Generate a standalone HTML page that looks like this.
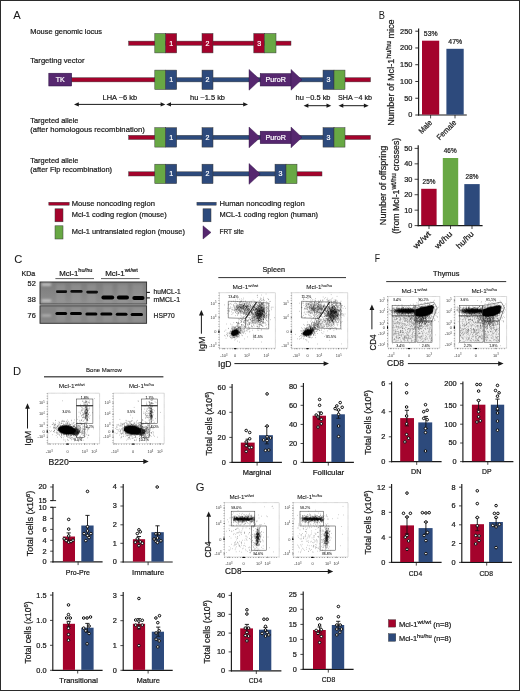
<!DOCTYPE html>
<html><head><meta charset="utf-8"><title>Figure</title>
<style>
html,body{margin:0;padding:0;background:#fff}
body{width:520px;height:691px;overflow:hidden}
svg{display:block;font-family:"Liberation Sans",sans-serif;will-change:transform;opacity:.999}
</style></head><body>
<svg width="520" height="691" viewBox="0 0 520 691">
<defs><filter id="b1" x="-20%" y="-80%" width="140%" height="260%"><feGaussianBlur stdDeviation="0.75"/></filter>
<filter id="b4" x="-30%" y="-120%" width="160%" height="340%"><feGaussianBlur stdDeviation="1.0"/></filter>
<filter id="b2" x="-50%" y="-50%" width="200%" height="200%"><feGaussianBlur stdDeviation="0.7"/></filter>
<filter id="b3" x="-50%" y="-50%" width="200%" height="200%"><feGaussianBlur stdDeviation="1.3"/></filter></defs>
<rect x="0" y="0" width="520" height="691" fill="#fff"/>
<text x="13.3" y="18.6" font-size="11.2" text-anchor="start" fill="#1a1a1a" stroke="#1a1a1a" stroke-width="0.04">A</text>
<text x="30.3" y="34" font-size="7.8" text-anchor="start" fill="#1a1a1a" stroke="#1a1a1a" stroke-width="0.22" textLength="71.8" lengthAdjust="spacingAndGlyphs">Mouse genomic locus</text>
<rect x="128.6" y="41.1" width="162.4" height="4.2" fill="#a4032c" stroke="#3a3a3a" stroke-width="0.45"/>
<rect x="154.8" y="33.5" width="10.8" height="19.4" fill="#68a844" stroke="#3a3a3a" stroke-width="0.5"/>
<rect x="165.6" y="33.5" width="11.1" height="19.4" fill="#a4032c" stroke="#3a3a3a" stroke-width="0.5"/>
<text x="171.15" y="45.7" font-size="7.1" text-anchor="middle" fill="#fff" stroke="#fff" stroke-width="0.22">1</text>
<rect x="202" y="33.5" width="11" height="19.4" fill="#a4032c" stroke="#3a3a3a" stroke-width="0.5"/>
<text x="207.5" y="45.7" font-size="7.1" text-anchor="middle" fill="#fff" stroke="#fff" stroke-width="0.22">2</text>
<rect x="253.8" y="33.5" width="10.7" height="19.4" fill="#a4032c" stroke="#3a3a3a" stroke-width="0.5"/>
<text x="259.15" y="45.7" font-size="7.1" text-anchor="middle" fill="#fff" stroke="#fff" stroke-width="0.22">3</text>
<rect x="264.5" y="33.5" width="11.5" height="19.4" fill="#68a844" stroke="#3a3a3a" stroke-width="0.5"/>
<text x="30.3" y="63" font-size="7.8" text-anchor="start" fill="#1a1a1a" stroke="#1a1a1a" stroke-width="0.22" textLength="54.2" lengthAdjust="spacingAndGlyphs">Targeting vector</text>
<rect x="71.7" y="77.7" width="83.3" height="4.2" fill="#a4032c" stroke="#3a3a3a" stroke-width="0.45"/>
<rect x="176" y="77.7" width="148" height="4.2" fill="#2d4a7c" stroke="#3a3a3a" stroke-width="0.45"/>
<rect x="345" y="77.7" width="25.5" height="4.2" fill="#a4032c" stroke="#3a3a3a" stroke-width="0.45"/>
<rect x="48.8" y="73.2" width="22.9" height="12.8" fill="#56276f" stroke="#2a1040" stroke-width="0.5"/>
<text x="60.2" y="82.3" font-size="7" text-anchor="middle" fill="#fff" stroke="#fff" stroke-width="0.22">TK</text>
<rect x="154.8" y="70.1" width="10.8" height="19.4" fill="#68a844" stroke="#3a3a3a" stroke-width="0.5"/>
<rect x="165.6" y="70.1" width="11.1" height="19.4" fill="#2d4a7c" stroke="#3a3a3a" stroke-width="0.5"/>
<text x="171.15" y="82.3" font-size="7.1" text-anchor="middle" fill="#fff" stroke="#fff" stroke-width="0.22">1</text>
<rect x="202" y="70.1" width="11" height="19.4" fill="#2d4a7c" stroke="#3a3a3a" stroke-width="0.5"/>
<text x="207.5" y="82.3" font-size="7.1" text-anchor="middle" fill="#fff" stroke="#fff" stroke-width="0.22">2</text>
<polygon points="249,69.4 260.2,79.8 249,90.2" fill="#56276f" stroke="#2a1040" stroke-width="0.4"/>
<rect x="260.2" y="73.6" width="31" height="12.4" fill="#56276f" stroke="#2a1040" stroke-width="0.5"/>
<text x="275.7" y="82.3" font-size="7" text-anchor="middle" fill="#fff" stroke="#fff" stroke-width="0.22" textLength="20.2" lengthAdjust="spacingAndGlyphs">PuroR</text>
<polygon points="291,69.4 302,79.8 291,90.2" fill="#56276f" stroke="#2a1040" stroke-width="0.4"/>
<rect x="323" y="70.1" width="11" height="19.4" fill="#2d4a7c" stroke="#3a3a3a" stroke-width="0.5"/>
<text x="328.5" y="82.3" font-size="7.1" text-anchor="middle" fill="#fff" stroke="#fff" stroke-width="0.22">3</text>
<rect x="334" y="70.1" width="11" height="19.4" fill="#68a844" stroke="#3a3a3a" stroke-width="0.5"/>
<line x1="77.84" y1="104.4" x2="161.56" y2="104.4" stroke="#1a1a1a" stroke-width="1.0"/>
<polygon points="165.4,104.4 160.6,106.5 160.6,102.3" fill="#1a1a1a"/>
<polygon points="74,104.4 78.8,106.5 78.8,102.3" fill="#1a1a1a"/>
<text x="119.8" y="100" font-size="7.8" text-anchor="middle" fill="#1a1a1a" stroke="#1a1a1a" stroke-width="0.22" textLength="34.5" lengthAdjust="spacingAndGlyphs">LHA ~6 kb</text>
<line x1="170.04" y1="104.4" x2="244.16" y2="104.4" stroke="#1a1a1a" stroke-width="1.0"/>
<polygon points="248,104.4 243.2,106.5 243.2,102.3" fill="#1a1a1a"/>
<polygon points="166.2,104.4 171,106.5 171,102.3" fill="#1a1a1a"/>
<text x="207.5" y="100" font-size="7.8" text-anchor="middle" fill="#1a1a1a" stroke="#1a1a1a" stroke-width="0.22" textLength="35" lengthAdjust="spacingAndGlyphs">hu ~1.5 kb</text>
<line x1="307.44" y1="105.7" x2="327.46" y2="105.7" stroke="#1a1a1a" stroke-width="1.0"/>
<polygon points="331.3,105.7 326.5,107.8 326.5,103.6" fill="#1a1a1a"/>
<polygon points="303.6,105.7 308.4,107.8 308.4,103.6" fill="#1a1a1a"/>
<text x="313" y="100.2" font-size="7.8" text-anchor="middle" fill="#1a1a1a" stroke="#1a1a1a" stroke-width="0.22" textLength="35" lengthAdjust="spacingAndGlyphs">hu ~0.5 kb</text>
<line x1="342.34" y1="105.7" x2="364.86" y2="105.7" stroke="#1a1a1a" stroke-width="1.0"/>
<polygon points="368.7,105.7 363.9,107.8 363.9,103.6" fill="#1a1a1a"/>
<polygon points="338.5,105.7 343.3,107.8 343.3,103.6" fill="#1a1a1a"/>
<text x="355" y="100.2" font-size="7.8" text-anchor="middle" fill="#1a1a1a" stroke="#1a1a1a" stroke-width="0.22" textLength="34" lengthAdjust="spacingAndGlyphs">SHA ~4 kb</text>
<text x="30.3" y="122.6" font-size="7.8" text-anchor="start" fill="#1a1a1a" stroke="#1a1a1a" stroke-width="0.22" textLength="48.2" lengthAdjust="spacingAndGlyphs">Targeted allele</text>
<text x="30.3" y="132.4" font-size="7.8" text-anchor="start" fill="#1a1a1a" stroke="#1a1a1a" stroke-width="0.22" textLength="114.5" lengthAdjust="spacingAndGlyphs">(after homologous recombination)</text>
<rect x="128.6" y="135.3" width="26.4" height="4.2" fill="#a4032c" stroke="#3a3a3a" stroke-width="0.45"/>
<rect x="176" y="135.3" width="148" height="4.2" fill="#2d4a7c" stroke="#3a3a3a" stroke-width="0.45"/>
<rect x="345" y="135.3" width="25.5" height="4.2" fill="#a4032c" stroke="#3a3a3a" stroke-width="0.45"/>
<rect x="154.8" y="127.7" width="10.8" height="19.4" fill="#68a844" stroke="#3a3a3a" stroke-width="0.5"/>
<rect x="165.6" y="127.7" width="11.1" height="19.4" fill="#2d4a7c" stroke="#3a3a3a" stroke-width="0.5"/>
<text x="171.15" y="139.9" font-size="7.1" text-anchor="middle" fill="#fff" stroke="#fff" stroke-width="0.22">1</text>
<rect x="202" y="127.7" width="11" height="19.4" fill="#2d4a7c" stroke="#3a3a3a" stroke-width="0.5"/>
<text x="207.5" y="139.9" font-size="7.1" text-anchor="middle" fill="#fff" stroke="#fff" stroke-width="0.22">2</text>
<polygon points="249,127 260.2,137.4 249,147.8" fill="#56276f" stroke="#2a1040" stroke-width="0.4"/>
<rect x="260.2" y="131.2" width="31" height="12.4" fill="#56276f" stroke="#2a1040" stroke-width="0.5"/>
<text x="275.7" y="139.9" font-size="7" text-anchor="middle" fill="#fff" stroke="#fff" stroke-width="0.22" textLength="20.2" lengthAdjust="spacingAndGlyphs">PuroR</text>
<polygon points="291,127 302,137.4 291,147.8" fill="#56276f" stroke="#2a1040" stroke-width="0.4"/>
<rect x="323" y="127.7" width="11" height="19.4" fill="#2d4a7c" stroke="#3a3a3a" stroke-width="0.5"/>
<text x="328.5" y="139.9" font-size="7.1" text-anchor="middle" fill="#fff" stroke="#fff" stroke-width="0.22">3</text>
<rect x="334" y="127.7" width="11" height="19.4" fill="#68a844" stroke="#3a3a3a" stroke-width="0.5"/>
<text x="30.3" y="162.6" font-size="7.8" text-anchor="start" fill="#1a1a1a" stroke="#1a1a1a" stroke-width="0.22" textLength="48.2" lengthAdjust="spacingAndGlyphs">Targeted allele</text>
<text x="30.3" y="172.3" font-size="7.8" text-anchor="start" fill="#1a1a1a" stroke="#1a1a1a" stroke-width="0.22" textLength="81.8" lengthAdjust="spacingAndGlyphs">(after Flp recombination)</text>
<rect x="128.6" y="171.8" width="26.4" height="4.2" fill="#a4032c" stroke="#3a3a3a" stroke-width="0.45"/>
<rect x="176" y="171.8" width="100" height="4.2" fill="#2d4a7c" stroke="#3a3a3a" stroke-width="0.45"/>
<rect x="297" y="171.8" width="25" height="4.2" fill="#a4032c" stroke="#3a3a3a" stroke-width="0.45"/>
<rect x="154.8" y="164.2" width="10.8" height="19.4" fill="#68a844" stroke="#3a3a3a" stroke-width="0.5"/>
<rect x="165.6" y="164.2" width="11.1" height="19.4" fill="#2d4a7c" stroke="#3a3a3a" stroke-width="0.5"/>
<text x="171.15" y="176.4" font-size="7.1" text-anchor="middle" fill="#fff" stroke="#fff" stroke-width="0.22">1</text>
<rect x="202" y="164.2" width="11" height="19.4" fill="#2d4a7c" stroke="#3a3a3a" stroke-width="0.5"/>
<text x="207.5" y="176.4" font-size="7.1" text-anchor="middle" fill="#fff" stroke="#fff" stroke-width="0.22">2</text>
<polygon points="249,163.5 260.2,173.9 249,184.3" fill="#56276f" stroke="#2a1040" stroke-width="0.4"/>
<rect x="275" y="164.2" width="11" height="19.4" fill="#2d4a7c" stroke="#3a3a3a" stroke-width="0.5"/>
<text x="280.5" y="176.4" font-size="7.1" text-anchor="middle" fill="#fff" stroke="#fff" stroke-width="0.22">3</text>
<rect x="286" y="164.2" width="11" height="19.4" fill="#68a844" stroke="#3a3a3a" stroke-width="0.5"/>
<rect x="48.8" y="202.2" width="20.4" height="3" fill="#a4032c" stroke="#3a3a3a" stroke-width="0.4"/>
<text x="71.7" y="205.7" font-size="7.8" text-anchor="start" fill="#1a1a1a" stroke="#1a1a1a" stroke-width="0.22" textLength="83.2" lengthAdjust="spacingAndGlyphs">Mouse noncoding region</text>
<rect x="55" y="208.8" width="8" height="13" fill="#a4032c" stroke="#3a3a3a" stroke-width="0.5"/>
<text x="71.7" y="217.3" font-size="7.8" text-anchor="start" fill="#1a1a1a" stroke="#1a1a1a" stroke-width="0.22" textLength="95" lengthAdjust="spacingAndGlyphs">Mcl-1 coding region (mouse)</text>
<rect x="55" y="225.8" width="8" height="13.2" fill="#68a844" stroke="#3a3a3a" stroke-width="0.5"/>
<text x="71.7" y="234" font-size="7.8" text-anchor="start" fill="#1a1a1a" stroke="#1a1a1a" stroke-width="0.22" textLength="113.3" lengthAdjust="spacingAndGlyphs">Mcl-1 untranslated region (mouse)</text>
<rect x="196.9" y="202.2" width="19.3" height="3" fill="#2d4a7c" stroke="#3a3a3a" stroke-width="0.4"/>
<text x="219.5" y="205.7" font-size="7.8" text-anchor="start" fill="#1a1a1a" stroke="#1a1a1a" stroke-width="0.22" textLength="85.2" lengthAdjust="spacingAndGlyphs">Human noncoding region</text>
<rect x="203" y="208.8" width="8" height="13" fill="#2d4a7c" stroke="#3a3a3a" stroke-width="0.5"/>
<text x="219.5" y="217.3" font-size="7.8" text-anchor="start" fill="#1a1a1a" stroke="#1a1a1a" stroke-width="0.22" textLength="98.5" lengthAdjust="spacingAndGlyphs">MCL-1 coding region (human)</text>
<polygon points="203,225.8 211,232.4 203,239" fill="#56276f" stroke="#2a1040" stroke-width="0.4"/>
<text x="219.5" y="234" font-size="7.8" text-anchor="start" fill="#1a1a1a" stroke="#1a1a1a" stroke-width="0.22" textLength="24.5" lengthAdjust="spacingAndGlyphs">FRT site</text>
<text x="378.7" y="19" font-size="11.2" text-anchor="start" fill="#1a1a1a" stroke="#1a1a1a" stroke-width="0.04" textLength="6.2" lengthAdjust="spacingAndGlyphs">B</text>
<line x1="418.6" y1="28.4" x2="418.6" y2="115.6" stroke="#1a1a1a" stroke-width="1.2"/>
<line x1="418" y1="115" x2="466.8" y2="115" stroke="#1a1a1a" stroke-width="1.2"/>
<line x1="415.3" y1="31.2" x2="418.6" y2="31.2" stroke="#1a1a1a" stroke-width="0.9"/>
<text x="412.4" y="33.6" font-size="7" text-anchor="end" fill="#1a1a1a" stroke="#1a1a1a" stroke-width="0.22" textLength="12.3" lengthAdjust="spacingAndGlyphs">250</text>
<line x1="415.3" y1="47.96" x2="418.6" y2="47.96" stroke="#1a1a1a" stroke-width="0.9"/>
<text x="412.4" y="50.36" font-size="7" text-anchor="end" fill="#1a1a1a" stroke="#1a1a1a" stroke-width="0.22" textLength="12.3" lengthAdjust="spacingAndGlyphs">200</text>
<line x1="415.3" y1="64.72" x2="418.6" y2="64.72" stroke="#1a1a1a" stroke-width="0.9"/>
<text x="412.4" y="67.12" font-size="7" text-anchor="end" fill="#1a1a1a" stroke="#1a1a1a" stroke-width="0.22" textLength="12.3" lengthAdjust="spacingAndGlyphs">150</text>
<line x1="415.3" y1="81.48" x2="418.6" y2="81.48" stroke="#1a1a1a" stroke-width="0.9"/>
<text x="412.4" y="83.88" font-size="7" text-anchor="end" fill="#1a1a1a" stroke="#1a1a1a" stroke-width="0.22" textLength="12.3" lengthAdjust="spacingAndGlyphs">100</text>
<line x1="415.3" y1="98.24" x2="418.6" y2="98.24" stroke="#1a1a1a" stroke-width="0.9"/>
<text x="412.4" y="100.64" font-size="7" text-anchor="end" fill="#1a1a1a" stroke="#1a1a1a" stroke-width="0.22" textLength="8.2" lengthAdjust="spacingAndGlyphs">50</text>
<line x1="415.3" y1="115" x2="418.6" y2="115" stroke="#1a1a1a" stroke-width="0.9"/>
<text x="412.4" y="117.4" font-size="7" text-anchor="end" fill="#1a1a1a" stroke="#1a1a1a" stroke-width="0.22" textLength="4.1" lengthAdjust="spacingAndGlyphs">0</text>
<rect x="422" y="40.7" width="17.2" height="73.9" fill="#a4032c"/>
<rect x="446.4" y="48.8" width="17.3" height="65.8" fill="#2d4a7c"/>
<line x1="430.6" y1="115" x2="430.6" y2="118.4" stroke="#1a1a1a" stroke-width="0.8"/>
<line x1="455" y1="115" x2="455" y2="118.4" stroke="#1a1a1a" stroke-width="0.8"/>
<text x="430.7" y="35.9" font-size="7.1" text-anchor="middle" fill="#1a1a1a" stroke="#1a1a1a" stroke-width="0.22" textLength="13.8" lengthAdjust="spacingAndGlyphs">53%</text>
<text x="455.2" y="44.1" font-size="7.1" text-anchor="middle" fill="#1a1a1a" stroke="#1a1a1a" stroke-width="0.22" textLength="13.8" lengthAdjust="spacingAndGlyphs">47%</text>
<text transform="translate(432.6 123.2) rotate(-45)" font-size="7.8" text-anchor="end" fill="#1a1a1a" stroke="#1a1a1a" stroke-width="0.22" textLength="15.5" lengthAdjust="spacingAndGlyphs">Male</text>
<text transform="translate(457 123.2) rotate(-45)" font-size="7.8" text-anchor="end" fill="#1a1a1a" stroke="#1a1a1a" stroke-width="0.22" textLength="24.5" lengthAdjust="spacingAndGlyphs">Female</text>
<text transform="translate(393.6 72.6) rotate(-90)" font-size="8.6" text-anchor="middle" fill="#1a1a1a" stroke="#1a1a1a" stroke-width="0.22" textLength="106.5" lengthAdjust="spacingAndGlyphs">Number of Mcl-1<tspan font-size="6.7" dy="-3">hu/hu</tspan><tspan dy="3"> mice</tspan></text>
<line x1="418.2" y1="145.3" x2="418.2" y2="226.2" stroke="#1a1a1a" stroke-width="1.2"/>
<line x1="417.6" y1="225.6" x2="482.6" y2="225.6" stroke="#1a1a1a" stroke-width="1.2"/>
<line x1="414.6" y1="148.4" x2="418.2" y2="148.4" stroke="#1a1a1a" stroke-width="0.8"/>
<text x="412.4" y="150.8" font-size="7" text-anchor="end" fill="#1a1a1a" stroke="#1a1a1a" stroke-width="0.22" textLength="8.2" lengthAdjust="spacingAndGlyphs">50</text>
<line x1="414.6" y1="163.84" x2="418.2" y2="163.84" stroke="#1a1a1a" stroke-width="0.8"/>
<text x="412.4" y="166.24" font-size="7" text-anchor="end" fill="#1a1a1a" stroke="#1a1a1a" stroke-width="0.22" textLength="8.2" lengthAdjust="spacingAndGlyphs">40</text>
<line x1="414.6" y1="179.28" x2="418.2" y2="179.28" stroke="#1a1a1a" stroke-width="0.8"/>
<text x="412.4" y="181.68" font-size="7" text-anchor="end" fill="#1a1a1a" stroke="#1a1a1a" stroke-width="0.22" textLength="8.2" lengthAdjust="spacingAndGlyphs">30</text>
<line x1="414.6" y1="194.72" x2="418.2" y2="194.72" stroke="#1a1a1a" stroke-width="0.8"/>
<text x="412.4" y="197.12" font-size="7" text-anchor="end" fill="#1a1a1a" stroke="#1a1a1a" stroke-width="0.22" textLength="8.2" lengthAdjust="spacingAndGlyphs">20</text>
<line x1="414.6" y1="210.16" x2="418.2" y2="210.16" stroke="#1a1a1a" stroke-width="0.8"/>
<text x="412.4" y="212.56" font-size="7" text-anchor="end" fill="#1a1a1a" stroke="#1a1a1a" stroke-width="0.22" textLength="8.2" lengthAdjust="spacingAndGlyphs">10</text>
<line x1="414.6" y1="225.6" x2="418.2" y2="225.6" stroke="#1a1a1a" stroke-width="0.8"/>
<text x="412.4" y="228" font-size="7" text-anchor="end" fill="#1a1a1a" stroke="#1a1a1a" stroke-width="0.22" textLength="4.1" lengthAdjust="spacingAndGlyphs">0</text>
<rect x="421.2" y="188.8" width="15.4" height="36.4" fill="#a4032c"/>
<rect x="442.8" y="158" width="15.4" height="67.2" fill="#68a844"/>
<rect x="464.3" y="184.1" width="15.4" height="41.1" fill="#2d4a7c"/>
<line x1="429" y1="225.6" x2="429" y2="229" stroke="#1a1a1a" stroke-width="0.8"/>
<line x1="450.5" y1="225.6" x2="450.5" y2="229" stroke="#1a1a1a" stroke-width="0.8"/>
<line x1="472" y1="225.6" x2="472" y2="229" stroke="#1a1a1a" stroke-width="0.8"/>
<text x="429" y="184" font-size="6.8" text-anchor="middle" fill="#1a1a1a" stroke="#1a1a1a" stroke-width="0.22" textLength="12.8" lengthAdjust="spacingAndGlyphs">25%</text>
<text x="450.2" y="152.6" font-size="6.8" text-anchor="middle" fill="#1a1a1a" stroke="#1a1a1a" stroke-width="0.22" textLength="12.8" lengthAdjust="spacingAndGlyphs">46%</text>
<text x="472" y="178.6" font-size="6.8" text-anchor="middle" fill="#1a1a1a" stroke="#1a1a1a" stroke-width="0.22" textLength="12.8" lengthAdjust="spacingAndGlyphs">28%</text>
<text transform="translate(431.2 234.5) rotate(-45)" font-size="7.8" text-anchor="end" fill="#1a1a1a" stroke="#1a1a1a" stroke-width="0.22" textLength="21" lengthAdjust="spacingAndGlyphs">wt/wt</text>
<text transform="translate(452.7 234.5) rotate(-45)" font-size="7.8" text-anchor="end" fill="#1a1a1a" stroke="#1a1a1a" stroke-width="0.22" textLength="21" lengthAdjust="spacingAndGlyphs">wt/hu</text>
<text transform="translate(474.2 234.5) rotate(-45)" font-size="7.8" text-anchor="end" fill="#1a1a1a" stroke="#1a1a1a" stroke-width="0.22" textLength="21" lengthAdjust="spacingAndGlyphs">hu/hu</text>
<text transform="translate(386.4 185.4) rotate(-90)" font-size="8.6" text-anchor="middle" fill="#1a1a1a" stroke="#1a1a1a" stroke-width="0.22" textLength="79.5" lengthAdjust="spacingAndGlyphs">Number of offspring</text>
<text transform="translate(398.8 185.8) rotate(-90)" font-size="8.6" text-anchor="middle" fill="#1a1a1a" stroke="#1a1a1a" stroke-width="0.22" textLength="96" lengthAdjust="spacingAndGlyphs">(from Mcl-1<tspan font-size="6.7" dy="-3">wt/hu</tspan><tspan dy="3"> crosses)</tspan></text>
<text x="14.2" y="262.6" font-size="11.2" text-anchor="start" fill="#1a1a1a" stroke="#1a1a1a" stroke-width="0.04">C</text>
<text x="21.5" y="275.6" font-size="7.2" text-anchor="start" fill="#1a1a1a" stroke="#1a1a1a" stroke-width="0.22" textLength="13.8" lengthAdjust="spacingAndGlyphs">KDa</text>
<text x="35.8" y="286" font-size="7.2" text-anchor="end" fill="#1a1a1a" stroke="#1a1a1a" stroke-width="0.22" textLength="8.2" lengthAdjust="spacingAndGlyphs">52</text>
<text x="35.8" y="301.8" font-size="7.2" text-anchor="end" fill="#1a1a1a" stroke="#1a1a1a" stroke-width="0.22" textLength="8.2" lengthAdjust="spacingAndGlyphs">38</text>
<text x="35.8" y="317.8" font-size="7.2" text-anchor="end" fill="#1a1a1a" stroke="#1a1a1a" stroke-width="0.22" textLength="8.2" lengthAdjust="spacingAndGlyphs">76</text>
<text x="59.2" y="275.6" font-size="7.9" text-anchor="start" fill="#1a1a1a" stroke="#1a1a1a" stroke-width="0.22" textLength="33.2" lengthAdjust="spacingAndGlyphs">Mcl-1<tspan font-size="5.7" dy="-3.3">hu/hu</tspan></text>
<text x="105.2" y="275.6" font-size="7.9" text-anchor="start" fill="#1a1a1a" stroke="#1a1a1a" stroke-width="0.22" textLength="32.6" lengthAdjust="spacingAndGlyphs">Mcl-1<tspan font-size="5.7" dy="-3.3">wt/wt</tspan></text>
<line x1="55.4" y1="278.6" x2="94" y2="278.6" stroke="#1a1a1a" stroke-width="0.7"/>
<line x1="101" y1="278.6" x2="139.6" y2="278.6" stroke="#1a1a1a" stroke-width="0.7"/>
<linearGradient id="gg" x1="0" y1="0" x2="0" y2="1"><stop offset="0" stop-color="#7b7b7b"/><stop offset="1" stop-color="#8f8f8f"/></linearGradient>
<rect x="40" y="282" width="106.6" height="22.1" fill="url(#gg)" stroke="#2a2a2a" stroke-width="0.9"/>
<rect x="40" y="305.8" width="106.6" height="17.5" fill="#868686" stroke="#2a2a2a" stroke-width="0.9"/>
<g filter="url(#b3)" opacity="0.3">
<rect x="56.2" y="284" width="9" height="18.5" fill="#a8a8a8"/>
<rect x="56.2" y="307.8" width="9" height="13.7" fill="#a8a8a8"/>
<rect x="71.2" y="284" width="9.8" height="18.5" fill="#a8a8a8"/>
<rect x="71.2" y="307.8" width="9.8" height="13.7" fill="#a8a8a8"/>
<rect x="87.3" y="284" width="8.7" height="18.5" fill="#a8a8a8"/>
<rect x="87.3" y="307.8" width="8.7" height="13.7" fill="#a8a8a8"/>
<rect x="103" y="284" width="9.5" height="18.5" fill="#a8a8a8"/>
<rect x="103" y="307.8" width="9.5" height="13.7" fill="#a8a8a8"/>
<rect x="117.6" y="284" width="10.1" height="18.5" fill="#a8a8a8"/>
<rect x="117.6" y="307.8" width="10.1" height="13.7" fill="#a8a8a8"/>
<rect x="132.6" y="284" width="10.4" height="18.5" fill="#a8a8a8"/>
<rect x="132.6" y="307.8" width="10.4" height="13.7" fill="#a8a8a8"/>
</g>
<g filter="url(#b4)">
<rect x="41.4" y="283.5" width="10" height="2.2" rx="1.1" fill="#cdcdcd"/>
<rect x="41.4" y="299.5" width="10" height="2.2" rx="1.1" fill="#cdcdcd"/>
<rect x="41.6" y="314.6" width="9.6" height="2" rx="1" fill="#b8b8b8"/>
</g>
<g filter="url(#b1)">
<rect x="56" y="290.35" width="11.1" height="2.7" rx="1.35" fill="#0c0c0c"/>
<rect x="70.4" y="290.05" width="12.2" height="2.7" rx="1.35" fill="#0c0c0c"/>
<rect x="86.3" y="290.75" width="11.7" height="2.7" rx="1.35" fill="#0c0c0c"/>
<rect x="101.4" y="295.4" width="12.8" height="4" rx="2" fill="#000"/>
<rect x="116.9" y="295.6" width="12.1" height="4" rx="2" fill="#000"/>
<rect x="132.3" y="295.9" width="12.2" height="4" rx="2" fill="#000"/>
<rect x="55.4" y="312" width="11.7" height="3" rx="1.5" fill="#050505"/>
<rect x="70" y="312.1" width="11.9" height="3" rx="1.5" fill="#050505"/>
<rect x="85.4" y="312.5" width="12" height="3" rx="1.5" fill="#050505"/>
<rect x="100.3" y="312.5" width="12.1" height="3" rx="1.5" fill="#050505"/>
<rect x="115.8" y="312.7" width="11.7" height="3" rx="1.5" fill="#050505"/>
<rect x="130.6" y="313" width="12.4" height="3" rx="1.5" fill="#050505"/>
</g>
<line x1="146.6" y1="292.4" x2="149.9" y2="292.4" stroke="#111" stroke-width="1.1"/>
<line x1="146.6" y1="297.9" x2="149.9" y2="297.9" stroke="#111" stroke-width="1.1"/>
<text x="153.6" y="293.5" font-size="7.7" text-anchor="start" fill="#1a1a1a" stroke="#1a1a1a" stroke-width="0.22" textLength="27" lengthAdjust="spacingAndGlyphs">huMCL-1</text>
<text x="153.6" y="301.7" font-size="7.7" text-anchor="start" fill="#1a1a1a" stroke="#1a1a1a" stroke-width="0.22" textLength="26.4" lengthAdjust="spacingAndGlyphs">mMCL-1</text>
<text x="153.6" y="317.8" font-size="7.7" text-anchor="start" fill="#1a1a1a" stroke="#1a1a1a" stroke-width="0.22" textLength="21.2" lengthAdjust="spacingAndGlyphs">HSP70</text>
<text x="13" y="374.7" font-size="11.2" text-anchor="start" fill="#1a1a1a" stroke="#1a1a1a" stroke-width="0.04">D</text>
<text x="104" y="372" font-size="5.7" text-anchor="middle" fill="#1a1a1a" stroke="#1a1a1a" stroke-width="0.1" textLength="35.8" lengthAdjust="spacingAndGlyphs">Bone Marrow</text>
<line x1="44" y1="376.7" x2="163.4" y2="376.7" stroke="#5a5a5a" stroke-width="1.4"/>
<text x="58.8" y="387.8" font-size="5.6" text-anchor="start" fill="#1a1a1a" stroke="#1a1a1a" stroke-width="0.08" textLength="26" lengthAdjust="spacingAndGlyphs">Mcl-1<tspan font-size="3.8" dy="-2.2">wt/wt</tspan></text>
<text x="129" y="387.8" font-size="5.6" text-anchor="start" fill="#1a1a1a" stroke="#1a1a1a" stroke-width="0.08" textLength="25" lengthAdjust="spacingAndGlyphs">Mcl-1<tspan font-size="3.8" dy="-2.2">hu/hu</tspan></text>
<rect x="47.7" y="393.2" width="51.9" height="50.5" fill="none" stroke="#8a8a8a" stroke-width="0.5" stroke-dasharray="0.7 0.4"/>
<text x="44.7" y="404.3" font-size="3.9" text-anchor="end" fill="#3a3a3a" stroke="#3a3a3a" stroke-width="0">10<tspan font-size="2.6" dy="-1.5">5</tspan></text>
<line x1="46.8" y1="403" x2="48" y2="403" stroke="#222" stroke-width="0.5"/>
<text x="44.7" y="415.3" font-size="3.9" text-anchor="end" fill="#3a3a3a" stroke="#3a3a3a" stroke-width="0">10<tspan font-size="2.6" dy="-1.5">4</tspan></text>
<line x1="46.8" y1="414" x2="48" y2="414" stroke="#222" stroke-width="0.5"/>
<text x="44.7" y="426.8" font-size="3.9" text-anchor="end" fill="#3a3a3a" stroke="#3a3a3a" stroke-width="0">10<tspan font-size="2.6" dy="-1.5">3</tspan></text>
<line x1="46.8" y1="425.5" x2="48" y2="425.5" stroke="#222" stroke-width="0.5"/>
<text x="44.7" y="432.8" font-size="3.9" text-anchor="end" fill="#3a3a3a" stroke="#3a3a3a" stroke-width="0">0</text>
<line x1="46.8" y1="431.5" x2="48" y2="431.5" stroke="#222" stroke-width="0.5"/>
<text x="44.7" y="438.3" font-size="3.9" text-anchor="end" fill="#3a3a3a" stroke="#3a3a3a" stroke-width="0">-10<tspan font-size="2.6" dy="-1.5">3</tspan></text>
<line x1="46.8" y1="437" x2="48" y2="437" stroke="#222" stroke-width="0.5"/>
<text x="49.2" y="453.2" font-size="3.9" text-anchor="middle" fill="#3a3a3a" stroke="#3a3a3a" stroke-width="0">-10<tspan font-size="2.6" dy="-1.5">3</tspan></text>
<line x1="49.2" y1="443.4" x2="49.2" y2="444.6" stroke="#222" stroke-width="0.5"/>
<text x="67.5" y="453.2" font-size="3.9" text-anchor="middle" fill="#3a3a3a" stroke="#3a3a3a" stroke-width="0">0</text>
<line x1="67.5" y1="443.4" x2="67.5" y2="444.6" stroke="#222" stroke-width="0.5"/>
<text x="84.7" y="453.2" font-size="3.9" text-anchor="middle" fill="#3a3a3a" stroke="#3a3a3a" stroke-width="0">10<tspan font-size="2.6" dy="-1.5">3</tspan></text>
<line x1="84.7" y1="443.4" x2="84.7" y2="444.6" stroke="#222" stroke-width="0.5"/>
<text x="94.2" y="453.2" font-size="3.9" text-anchor="middle" fill="#3a3a3a" stroke="#3a3a3a" stroke-width="0">10<tspan font-size="2.6" dy="-1.5">5</tspan></text>
<line x1="94.2" y1="443.4" x2="94.2" y2="444.6" stroke="#222" stroke-width="0.5"/>
<line x1="47.7" y1="444.2" x2="99.6" y2="444.2" stroke="#333" stroke-width="0.8" stroke-dasharray="0.5 2.1"/>
<line x1="47.2" y1="393.2" x2="47.2" y2="443.7" stroke="#333" stroke-width="0.8" stroke-dasharray="0.5 2.1"/>
<line x1="66.2" y1="444.1" x2="68.8" y2="444.1" stroke="#000" stroke-width="1.0"/>
<line x1="47.2" y1="430.2" x2="47.2" y2="432.8" stroke="#000" stroke-width="1.0"/>
<ellipse cx="66.6" cy="430" rx="8.7" ry="4.5" transform="rotate(7 66.6 430)" fill="#000" fill-opacity="1.0" filter="url(#b2)"/>
<ellipse cx="74.6" cy="431.6" rx="5.2" ry="3.3" transform="rotate(5 74.6 431.6)" fill="#000" fill-opacity="0.75" filter="url(#b2)"/>
<path d="M67.1 431.4h0.45M65.5 426.4h0.45M64.2 425.8h0.45M67.0 435.6h0.45M63.7 427.3h0.45M70.8 432.1h0.45M68.5 426.6h0.45M66.6 432.9h0.45M57.0 427.1h0.45M53.1 423.3h0.45M53.1 427.5h0.45M57.3 430.1h0.45M68.5 429.6h0.45M66.8 430.6h0.45M55.6 426.9h0.45M60.0 426.1h0.45M75.8 428.0h0.45M66.5 433.7h0.45M62.7 429.2h0.45M68.0 430.6h0.45M57.7 429.4h0.45M78.5 425.3h0.45M73.8 431.5h0.45M61.3 437.5h0.45M73.7 426.1h0.45M67.5 432.6h0.45M65.4 432.7h0.45M66.4 432.8h0.45M78.7 428.9h0.45M69.0 428.5h0.45M68.8 425.6h0.45M62.8 428.9h0.45M73.6 435.6h0.45M57.3 425.8h0.45M73.2 422.9h0.45M63.7 429.4h0.45M76.6 434.1h0.45M64.8 428.4h0.45M64.5 436.0h0.45M64.0 428.6h0.45M70.0 430.0h0.45M66.2 425.6h0.45M67.3 428.4h0.45M75.9 433.9h0.45M66.7 432.8h0.45M64.1 434.1h0.45M66.9 432.5h0.45M57.0 430.4h0.45M55.1 420.5h0.45M65.3 426.3h0.45M67.4 439.3h0.45M61.1 426.9h0.45M68.6 432.3h0.45M65.9 429.2h0.45M72.4 432.9h0.45M59.2 428.9h0.45M68.0 426.0h0.45M69.6 427.0h0.45M74.6 431.9h0.45M68.2 427.9h0.45M67.2 422.2h0.45M58.3 430.6h0.45M50.3 431.6h0.45M53.3 431.6h0.45M60.3 432.5h0.45M68.9 424.2h0.45M76.2 437.1h0.45M66.8 429.1h0.45M66.4 426.2h0.45M76.0 429.1h0.45M67.2 427.0h0.45M63.0 424.5h0.45M77.0 430.8h0.45M74.7 431.2h0.45M62.0 428.3h0.45M62.9 429.7h0.45M64.4 428.7h0.45M56.9 425.7h0.45M80.3 429.1h0.45M58.9 430.6h0.45M78.8 425.7h0.45M65.9 427.5h0.45M53.2 431.5h0.45M67.0 430.5h0.45M61.2 431.3h0.45M63.1 429.1h0.45M59.2 424.3h0.45M77.8 429.4h0.45M69.5 430.3h0.45M64.0 427.8h0.45M72.2 429.6h0.45M66.0 430.1h0.45M76.0 434.0h0.45M70.4 428.3h0.45M56.0 432.7h0.45M74.8 430.5h0.45M71.0 433.8h0.45M73.2 434.6h0.45M62.9 435.8h0.45M57.1 432.5h0.45M70.6 434.1h0.45M81.0 437.8h0.45M59.1 422.4h0.45M74.0 426.9h0.45M66.7 433.5h0.45M55.5 420.3h0.45M69.2 430.6h0.45M65.3 430.1h0.45M61.3 423.4h0.45M66.4 426.2h0.45M54.2 430.7h0.45M66.5 431.8h0.45M59.9 426.7h0.45M59.9 425.7h0.45M69.1 427.3h0.45M69.8 431.9h0.45M83.5 426.6h0.45M74.1 430.7h0.45M67.8 424.4h0.45M63.3 432.7h0.45M66.5 430.4h0.45M64.4 434.5h0.45M68.1 421.4h0.45M62.8 421.7h0.45M77.5 431.6h0.45M58.6 425.4h0.45M75.9 431.9h0.45M67.6 430.0h0.45M67.1 433.4h0.45M71.4 431.6h0.45M58.9 431.3h0.45M61.4 433.9h0.45M57.4 428.5h0.45M67.8 424.9h0.45M79.8 437.6h0.45M63.2 432.8h0.45M71.4 420.2h0.45M69.2 430.2h0.45M68.4 426.0h0.45M65.2 429.2h0.45M76.2 432.6h0.45M66.4 436.3h0.45M63.1 428.1h0.45M52.4 434.7h0.45M74.2 434.7h0.45M72.3 431.3h0.45M69.0 429.4h0.45M65.6 430.2h0.45M78.6 433.8h0.45M67.0 427.8h0.45M61.5 436.0h0.45M71.1 430.9h0.45M65.1 425.5h0.45M66.3 433.6h0.45M64.3 428.9h0.45M65.4 430.4h0.45M55.0 427.8h0.45M60.2 432.9h0.45M61.0 431.8h0.45M79.2 430.4h0.45M62.4 430.4h0.45M67.7 426.3h0.45M69.8 438.6h0.45M65.3 429.2h0.45M59.0 430.5h0.45M58.1 424.6h0.45M77.5 427.8h0.45M74.8 437.3h0.45M68.9 432.6h0.45M82.4 431.2h0.45M63.3 424.3h0.45M66.8 436.1h0.45M75.1 427.4h0.45M60.8 427.4h0.45M69.6 429.7h0.45M68.7 431.6h0.45M64.9 429.8h0.45M68.8 430.1h0.45M70.2 438.1h0.45M71.8 431.0h0.45M54.0 430.2h0.45M52.8 422.8h0.45M73.5 433.8h0.45M66.9 423.3h0.45M64.6 427.2h0.45M71.1 439.8h0.45M69.3 427.3h0.45M58.2 428.9h0.45M66.4 425.5h0.45M68.7 425.7h0.45M75.3 435.5h0.45M75.8 429.3h0.45M71.2 430.2h0.45M64.4 428.5h0.45M57.8 423.3h0.45M73.4 430.2h0.45M68.4 434.4h0.45M54.2 425.5h0.45M68.4 431.9h0.45M63.8 433.9h0.45M69.4 425.6h0.45M59.6 432.5h0.45M71.7 423.1h0.45M77.4 433.8h0.45M77.8 429.9h0.45M65.4 425.5h0.45M86.9 431.9h0.45M79.8 429.1h0.45M69.3 423.7h0.45M63.8 433.7h0.45M57.0 433.3h0.45M70.3 426.4h0.45M63.5 427.9h0.45M67.1 428.0h0.45M60.9 428.2h0.45M59.9 424.1h0.45M66.4 433.7h0.45M55.4 428.8h0.45M62.6 425.7h0.45M74.1 428.9h0.45M79.2 428.5h0.45M70.3 429.7h0.45M61.1 431.8h0.45M65.7 432.5h0.45M67.4 425.8h0.45M66.4 430.3h0.45M75.1 427.5h0.45M67.7 423.3h0.45M72.8 426.5h0.45M53.2 428.3h0.45M76.5 425.2h0.45M59.1 426.2h0.45M58.3 430.7h0.45M61.3 426.6h0.45M72.1 427.7h0.45M71.0 426.7h0.45M58.7 421.8h0.45M81.8 430.7h0.45M69.1 430.3h0.45M68.4 430.5h0.45M82.5 427.9h0.45M55.6 424.7h0.45M56.5 431.9h0.45M74.0 427.1h0.45M56.6 427.5h0.45M79.3 420.3h0.45M71.8 426.4h0.45M75.8 426.9h0.45M65.7 424.0h0.45M59.0 434.8h0.45M73.7 429.4h0.45M61.4 421.9h0.45M64.2 429.7h0.45M66.6 429.7h0.45M58.5 428.9h0.45M66.3 435.3h0.45M81.7 431.4h0.45M61.3 429.2h0.45M62.9 426.7h0.45M67.2 426.0h0.45M71.9 430.4h0.45M69.2 429.7h0.45M62.0 425.8h0.45M65.6 427.8h0.45M69.0 430.4h0.45M56.6 429.2h0.45M57.1 426.5h0.45M65.9 421.7h0.45M67.8 430.9h0.45M66.2 428.4h0.45M64.8 426.0h0.45M65.4 427.8h0.45M68.5 425.5h0.45M69.0 431.0h0.45M66.3 428.3h0.45M72.3 424.1h0.45M70.6 431.6h0.45M69.2 432.0h0.45M62.3 428.6h0.45M71.9 432.5h0.45M69.5 424.4h0.45M70.8 435.3h0.45M74.9 432.1h0.45M54.7 432.5h0.45M67.3 420.0h0.45M70.8 424.6h0.45M57.5 426.5h0.45M77.2 429.9h0.45M68.5 437.4h0.45M79.6 431.3h0.45M65.9 425.0h0.45M61.6 431.2h0.45M70.2 431.0h0.45M75.3 428.1h0.45M66.4 433.1h0.45M71.2 435.0h0.45M70.4 429.3h0.45M70.5 426.6h0.45M54.2 431.0h0.45M66.6 431.4h0.45M54.2 427.2h0.45M63.0 426.2h0.45M49.9 426.8h0.45M74.0 432.6h0.45M62.6 429.6h0.45M74.4 419.9h0.45M66.0 432.2h0.45M71.7 437.6h0.45M75.8 432.5h0.45M69.2 433.6h0.45M63.0 429.5h0.45M73.3 438.8h0.45M66.0 429.9h0.45M68.1 435.7h0.45M66.3 436.0h0.45M59.8 428.6h0.45M65.3 433.1h0.45M76.0 425.2h0.45M60.0 430.7h0.45M62.8 423.5h0.45M75.0 433.1h0.45M71.2 428.8h0.45M75.3 430.2h0.45M76.1 427.6h0.45M60.5 430.2h0.45M61.4 432.2h0.45M69.7 426.8h0.45M67.9 428.9h0.45M74.6 428.5h0.45M63.2 434.6h0.45M83.6 440.2h0.45M67.6 431.1h0.45M79.1 431.1h0.45M59.6 429.8h0.45M71.1 427.3h0.45M55.1 423.0h0.45M72.7 427.8h0.45M66.0 430.9h0.45M72.2 429.4h0.45M71.5 427.1h0.45M64.9 425.8h0.45M76.0 431.1h0.45M61.6 428.1h0.45M65.1 432.8h0.45M55.3 424.6h0.45M63.1 439.9h0.45M74.7 430.6h0.45M71.7 439.0h0.45M65.6 428.5h0.45M76.3 433.3h0.45M72.6 428.8h0.45M81.3 438.8h0.45M71.3 433.4h0.45M51.2 430.8h0.45M65.5 431.7h0.45M72.6 429.5h0.45M53.9 430.1h0.45M61.6 428.2h0.45M62.7 428.3h0.45M48.7 432.9h0.45M68.6 434.9h0.45M82.5 432.1h0.45M53.7 425.0h0.45M58.1 427.1h0.45M68.8 422.3h0.45M70.6 424.5h0.45M69.6 430.0h0.45M64.8 429.6h0.45M63.3 427.3h0.45M54.2 428.5h0.45M80.5 439.8h0.45M77.1 434.2h0.45M61.3 435.3h0.45M66.8 429.9h0.45M64.9 430.3h0.45M63.9 429.5h0.45M59.0 427.7h0.45M84.9 432.1h0.45M65.1 432.1h0.45M73.2 426.4h0.45M65.2 433.7h0.45M69.2 430.9h0.45M79.6 429.0h0.45M68.1 428.2h0.45M79.7 423.8h0.45M62.3 427.5h0.45M72.0 433.2h0.45M78.8 425.3h0.45M73.2 429.7h0.45M61.8 431.7h0.45M61.1 421.1h0.45M65.1 423.9h0.45M62.0 431.1h0.45M68.9 436.8h0.45M66.4 423.9h0.45M61.8 425.8h0.45M57.6 430.8h0.45M63.2 421.7h0.45M72.7 430.4h0.45M69.9 431.0h0.45M72.1 430.9h0.45M76.6 433.0h0.45M70.0 432.2h0.45M56.0 428.2h0.45M65.1 430.8h0.45M55.9 435.4h0.45M68.6 425.5h0.45M54.1 427.5h0.45M66.8 427.3h0.45M68.2 427.7h0.45M71.8 427.8h0.45M66.4 434.1h0.45M87.6 428.6h0.45M64.0 426.4h0.45M73.8 426.4h0.45M63.5 429.6h0.45M60.1 425.5h0.45M64.5 421.4h0.45M56.2 427.2h0.45M68.4 429.6h0.45M53.7 426.7h0.45M73.1 433.2h0.45M67.0 426.6h0.45M72.4 428.5h0.45M58.5 425.9h0.45M78.3 432.4h0.45M76.4 429.4h0.45M74.8 428.7h0.45M64.8 439.9h0.45M73.4 428.9h0.45M66.4 431.4h0.45M76.8 429.4h0.45M53.8 427.5h0.45M67.3 430.6h0.45M77.2 432.7h0.45M74.0 426.6h0.45M72.9 439.3h0.45M73.1 431.9h0.45M67.5 437.4h0.45M60.1 428.9h0.45M70.4 433.6h0.45M63.7 431.0h0.45M65.0 430.4h0.45M66.7 425.5h0.45M66.6 433.7h0.45M59.8 428.3h0.45M72.9 426.6h0.45M69.1 426.2h0.45M74.9 440.4h0.45M83.0 431.2h0.45M72.9 431.4h0.45M67.2 436.4h0.45M56.5 433.2h0.45M66.1 435.7h0.45M69.0 427.7h0.45M69.0 433.4h0.45M67.2 432.2h0.45M64.2 421.2h0.45M73.8 433.8h0.45M68.3 430.6h0.45M75.4 429.4h0.45M61.8 428.8h0.45M77.1 425.8h0.45M76.7 428.8h0.45M58.1 434.2h0.45M67.1 424.9h0.45M64.0 433.6h0.45M76.6 429.6h0.45M70.0 433.4h0.45M62.0 431.0h0.45M67.2 428.0h0.45M63.4 430.0h0.45M67.7 428.0h0.45M63.4 434.2h0.45M68.4 433.9h0.45M76.2 433.7h0.45M85.2 429.0h0.45M73.6 429.7h0.45M80.8 438.7h0.45M52.5 424.5h0.45M72.0 434.0h0.45M72.9 430.6h0.45M70.4 433.2h0.45M66.1 434.2h0.45M49.4 430.6h0.45M58.7 433.0h0.45M65.9 426.5h0.45M70.5 426.9h0.45M60.9 423.1h0.45M66.8 432.1h0.45M75.2 430.6h0.45M75.3 431.2h0.45M66.2 432.4h0.45M75.6 429.8h0.45M65.4 429.3h0.45M68.3 426.7h0.45M75.4 429.6h0.45M71.2 427.4h0.45M69.8 432.1h0.45M63.0 437.8h0.45M69.2 437.6h0.45M74.9 428.5h0.45M64.0 431.6h0.45M67.7 430.5h0.45M65.8 422.8h0.45M66.5 421.2h0.45M70.4 427.7h0.45M61.8 428.7h0.45M70.0 424.8h0.45M54.2 424.3h0.45M51.9 424.5h0.45M80.0 427.5h0.45M72.9 425.4h0.45M69.7 429.2h0.45M66.5 432.4h0.45M80.7 432.6h0.45M68.6 426.5h0.45M71.8 429.8h0.45M73.7 430.8h0.45M81.6 424.0h0.45M64.5 433.4h0.45M64.9 426.7h0.45M65.8 424.5h0.45M67.0 440.0h0.45M76.6 426.9h0.45M60.6 427.8h0.45M75.4 427.9h0.45M61.4 433.1h0.45M74.1 429.5h0.45M59.3 423.0h0.45M62.9 420.7h0.45M73.3 428.4h0.45M70.0 438.1h0.45M76.8 426.7h0.45M73.4 435.6h0.45M61.9 425.7h0.45M67.1 423.7h0.45M79.7 422.0h0.45M58.8 428.1h0.45M65.4 430.6h0.45M69.4 429.6h0.45M77.0 422.8h0.45M67.5 427.4h0.45M68.1 431.2h0.45M60.4 426.8h0.45M73.2 432.3h0.45M61.0 437.7h0.45M85.8 426.5h0.45M68.3 440.4h0.45M73.2 431.8h0.45M65.8 427.9h0.45M65.8 427.8h0.45M73.2 429.3h0.45M64.4 425.0h0.45M67.2 426.6h0.45M65.3 434.2h0.45M69.8 432.5h0.45M69.9 430.8h0.45M66.4 428.9h0.45M73.6 426.6h0.45M77.6 431.6h0.45M61.6 427.6h0.45M61.9 430.2h0.45M61.1 434.1h0.45M62.2 420.4h0.45M62.5 421.5h0.45M66.4 434.4h0.45M72.9 425.5h0.45M60.4 436.6h0.45M69.7 430.5h0.45M74.2 440.9h0.45M77.2 432.0h0.45M69.7 433.0h0.45M63.0 425.4h0.45M68.1 426.5h0.45M66.7 430.5h0.45M85.7 429.0h0.45M66.3 429.4h0.45M70.1 434.8h0.45M63.8 426.5h0.45M54.9 425.0h0.45M71.3 430.9h0.45M59.5 427.8h0.45M67.2 432.2h0.45M62.7 428.7h0.45M53.7 423.9h0.45M80.8 423.0h0.45M64.5 430.8h0.45M64.7 426.6h0.45M66.7 430.1h0.45M67.5 422.7h0.45M66.5 426.7h0.45M62.8 430.6h0.45M71.7 434.4h0.45M62.9 433.4h0.45M75.7 435.8h0.45M78.0 430.9h0.45M65.5 433.3h0.45M56.5 429.8h0.45M63.3 428.2h0.45M54.1 425.0h0.45M66.6 433.7h0.45M74.9 430.8h0.45M66.1 426.7h0.45M70.4 429.6h0.45M71.1 437.7h0.45M67.7 424.2h0.45M61.2 423.6h0.45M57.3 434.3h0.45M69.7 424.4h0.45M71.7 435.8h0.45M64.7 427.2h0.45M64.5 431.0h0.45M71.6 435.5h0.45M76.0 436.0h0.45M77.4 434.1h0.45M55.4 428.3h0.45M69.8 429.0h0.45M74.4 429.6h0.45M59.3 435.1h0.45M72.3 431.7h0.45M73.9 435.3h0.45M71.0 420.8h0.45M62.2 427.8h0.45M59.5 430.1h0.45M76.7 429.4h0.45M57.4 437.2h0.45M64.3 424.9h0.45M68.8 432.1h0.45M61.4 432.7h0.45M63.9 426.1h0.45M68.2 433.4h0.45M62.1 430.9h0.45M65.1 441.3h0.45M61.1 435.0h0.45M66.9 429.6h0.45M72.4 434.4h0.45M76.9 432.7h0.45M73.4 429.6h0.45M78.1 433.7h0.45M82.3 433.6h0.45M80.4 436.9h0.45M77.2 426.9h0.45M71.1 426.5h0.45M83.6 429.6h0.45M81.5 434.0h0.45M83.5 435.6h0.45M75.6 430.9h0.45M76.3 432.2h0.45M73.6 431.3h0.45M83.9 426.9h0.45M77.5 428.8h0.45M76.6 434.4h0.45M75.5 434.0h0.45M68.4 434.4h0.45M73.0 433.3h0.45M77.7 423.5h0.45M72.5 432.0h0.45M83.0 433.2h0.45M77.6 427.2h0.45M82.0 438.0h0.45M76.2 430.9h0.45M68.3 433.7h0.45M88.1 435.1h0.45M81.6 433.9h0.45M71.1 435.4h0.45M70.4 430.4h0.45M77.0 434.5h0.45M77.8 433.0h0.45M72.9 427.1h0.45M76.5 429.4h0.45M70.4 427.0h0.45M74.3 425.5h0.45M70.4 425.8h0.45M76.7 433.0h0.45M85.7 427.8h0.45M72.6 434.2h0.45M75.1 430.5h0.45M83.9 431.3h0.45M71.1 426.9h0.45M77.4 432.7h0.45M70.0 427.8h0.45M78.3 433.7h0.45M72.9 433.3h0.45M79.2 426.2h0.45M74.4 432.8h0.45M74.1 424.5h0.45M74.5 433.9h0.45M83.9 425.4h0.45M88.3 429.2h0.45M80.0 436.0h0.45M80.5 432.5h0.45M70.5 433.1h0.45M73.5 423.2h0.45M88.7 435.2h0.45M84.6 429.5h0.45M82.2 437.3h0.45M83.1 432.2h0.45M70.6 430.5h0.45M66.5 425.2h0.45M76.7 428.5h0.45M75.3 431.2h0.45M84.4 436.6h0.45M75.4 435.4h0.45M72.5 430.2h0.45M80.6 428.1h0.45M75.1 427.3h0.45M76.0 436.9h0.45M72.5 432.0h0.45M72.3 427.5h0.45M69.9 435.7h0.45M86.7 434.2h0.45M72.5 433.5h0.45M74.2 434.0h0.45M77.2 432.6h0.45M79.0 430.0h0.45M74.7 425.9h0.45M74.4 426.9h0.45M75.6 428.5h0.45M76.3 433.1h0.45M69.8 428.4h0.45M71.4 433.5h0.45M83.5 435.1h0.45M73.9 436.1h0.45M68.6 435.7h0.45M73.9 422.4h0.45M87.6 437.8h0.45M71.2 431.7h0.45M75.0 431.8h0.45M69.4 428.7h0.45M78.1 432.5h0.45M81.5 432.4h0.45M87.0 430.4h0.45M77.8 425.6h0.45M69.8 435.3h0.45M71.5 432.9h0.45M76.1 428.2h0.45M74.6 429.8h0.45M73.5 433.8h0.45M79.2 430.1h0.45M71.8 432.1h0.45M75.2 434.8h0.45M87.9 435.5h0.45M75.9 431.0h0.45M72.4 428.3h0.45M71.5 429.9h0.45M73.8 433.8h0.45M74.2 430.8h0.45M69.9 436.3h0.45M77.7 437.5h0.45M79.2 436.7h0.45M74.6 433.8h0.45M88.8 428.9h0.45M80.8 437.5h0.45M77.7 434.2h0.45M82.1 430.1h0.45M78.2 429.0h0.45M73.0 429.3h0.45M75.3 432.0h0.45M78.6 427.2h0.45M84.9 436.3h0.45M79.5 430.8h0.45M75.4 433.3h0.45M78.5 426.3h0.45M78.5 441.5h0.45M67.0 434.0h0.45M77.8 431.4h0.45M82.8 428.4h0.45M76.3 436.5h0.45M75.2 430.1h0.45M76.7 430.2h0.45M83.6 429.4h0.45M80.5 427.9h0.45M79.2 431.6h0.45M63.8 430.4h0.45M71.1 429.6h0.45M83.6 428.7h0.45M70.5 435.8h0.45M76.0 436.7h0.45M77.8 428.9h0.45M75.3 435.6h0.45M80.4 432.0h0.45M76.3 431.3h0.45M72.6 437.6h0.45M76.4 427.9h0.45M73.5 433.8h0.45M79.1 431.5h0.45M72.8 431.4h0.45M68.6 426.5h0.45M79.9 430.4h0.45M77.4 435.8h0.45M79.1 432.0h0.45M85.8 434.8h0.45M74.1 433.8h0.45M78.2 429.0h0.45M76.4 431.1h0.45M66.8 430.1h0.45M74.8 430.0h0.45M68.4 429.7h0.45M75.8 431.9h0.45M70.4 433.1h0.45M70.4 430.3h0.45M82.4 429.9h0.45M73.2 434.9h0.45M74.3 430.4h0.45M76.7 435.1h0.45M65.9 427.8h0.45M71.6 427.6h0.45M72.3 428.5h0.45M77.7 428.8h0.45M76.4 433.0h0.45M72.5 431.7h0.45M83.6 433.4h0.45M73.0 431.1h0.45M71.6 432.1h0.45M80.3 429.3h0.45M74.7 435.1h0.45M73.6 432.0h0.45M71.5 428.5h0.45M72.9 438.3h0.45M74.3 429.7h0.45M73.5 430.8h0.45M78.9 432.5h0.45M85.4 433.2h0.45M82.5 433.1h0.45M79.2 427.3h0.45M75.4 431.3h0.45M75.6 424.6h0.45M80.2 430.8h0.45M74.1 430.6h0.45M74.8 432.8h0.45M70.5 428.1h0.45M77.3 432.2h0.45M74.5 429.6h0.45M72.2 431.0h0.45M81.7 428.8h0.45M82.7 435.0h0.45M73.7 433.9h0.45M69.8 425.4h0.45M70.2 429.7h0.45M74.7 429.8h0.45M77.1 424.8h0.45M78.7 427.3h0.45M73.1 430.0h0.45M71.1 426.7h0.45M71.4 431.1h0.45M78.5 433.7h0.45M71.7 428.6h0.45M71.6 432.6h0.45M66.3 434.6h0.45M74.0 428.9h0.45M77.2 435.0h0.45M77.2 435.1h0.45M76.2 435.6h0.45M81.7 431.9h0.45M82.5 432.8h0.45M76.7 428.7h0.45M74.4 433.9h0.45M85.1 416.7h0.45M86.5 414.9h0.45M84.4 413.0h0.45M86.7 409.7h0.45M86.3 401.6h0.45M86.7 410.2h0.45M86.9 404.3h0.45M86.8 412.3h0.45M86.8 408.9h0.45M85.7 424.7h0.45M85.5 410.0h0.45M86.0 408.4h0.45M87.2 422.1h0.45M85.6 404.9h0.45M87.1 419.0h0.45M86.9 419.3h0.45M85.5 412.7h0.45M85.1 406.4h0.45M87.0 410.1h0.45M88.0 413.9h0.45M85.7 417.5h0.45M87.6 415.9h0.45M85.2 415.4h0.45M87.3 411.0h0.45M85.6 418.6h0.45M86.3 408.0h0.45M85.9 409.7h0.45M86.4 414.0h0.45M87.1 417.0h0.45M84.9 415.5h0.45M86.9 415.8h0.45M87.0 410.8h0.45M85.4 418.2h0.45M85.3 402.7h0.45M87.0 409.9h0.45M86.0 406.5h0.45M85.1 407.7h0.45M85.9 415.3h0.45M84.4 417.3h0.45M85.3 408.2h0.45M86.7 413.1h0.45M85.0 422.7h0.45M85.5 414.7h0.45M86.4 420.6h0.45M85.8 418.5h0.45M85.6 419.1h0.45M85.6 411.7h0.45M87.7 415.1h0.45M86.3 424.7h0.45M86.5 409.4h0.45M86.8 407.6h0.45M87.1 419.5h0.45M85.7 410.4h0.45M86.3 413.6h0.45M85.4 416.3h0.45M84.6 411.3h0.45M85.9 412.1h0.45M86.4 407.4h0.45M86.7 412.6h0.45M85.7 406.7h0.45M85.3 415.3h0.45M85.4 413.8h0.45M87.0 418.7h0.45M87.4 412.0h0.45M85.3 418.6h0.45M86.4 419.1h0.45M86.2 419.5h0.45M86.9 417.1h0.45M86.6 415.5h0.45M86.4 414.6h0.45M87.0 410.9h0.45M87.6 413.0h0.45M87.0 413.0h0.45M86.0 423.7h0.45M86.0 407.1h0.45M85.6 411.9h0.45M87.9 414.5h0.45M86.9 408.5h0.45M86.5 416.9h0.45M87.6 410.0h0.45M86.7 415.0h0.45M85.4 413.4h0.45M86.0 401.9h0.45M86.7 416.2h0.45M85.8 406.8h0.45M87.4 414.8h0.45M87.0 420.6h0.45M85.8 417.6h0.45M86.0 413.2h0.45M86.1 413.5h0.45M87.1 414.1h0.45M86.1 412.1h0.45M86.5 409.0h0.45M85.8 413.2h0.45M85.7 412.9h0.45M85.7 423.5h0.45M87.3 415.7h0.45M86.2 424.5h0.45M86.5 413.1h0.45M86.4 415.0h0.45M87.3 413.4h0.45M87.9 409.1h0.45M86.8 408.5h0.45M87.7 411.8h0.45M86.2 418.1h0.45M87.2 407.9h0.45M85.9 406.5h0.45M86.3 413.0h0.45M85.9 410.1h0.45M85.9 409.8h0.45M86.6 421.1h0.45M84.7 412.9h0.45M85.9 416.0h0.45M85.4 412.8h0.45M85.4 417.0h0.45M86.3 412.7h0.45M86.5 412.3h0.45M85.0 416.5h0.45M86.4 412.7h0.45M87.0 419.6h0.45M85.3 409.6h0.45M87.4 420.6h0.45M85.6 407.6h0.45M85.7 411.0h0.45M84.9 413.7h0.45M85.2 407.4h0.45M86.9 410.1h0.45M86.1 416.6h0.45M86.9 411.8h0.45M86.2 409.4h0.45M87.6 416.7h0.45M85.3 413.5h0.45M86.8 415.9h0.45M87.7 420.4h0.45M85.8 413.1h0.45M85.2 414.7h0.45M86.3 427.0h0.45M86.3 403.0h0.45M85.7 414.1h0.45M85.2 409.2h0.45M85.9 415.2h0.45M86.1 409.1h0.45M86.8 410.8h0.45M85.8 406.6h0.45M85.6 416.8h0.45M84.9 413.1h0.45M86.8 411.6h0.45M86.4 407.9h0.45M87.2 419.0h0.45M86.4 404.7h0.45M81.1 420.4h0.45M88.8 416.3h0.45M87.5 410.9h0.45M83.5 414.5h0.45M85.2 405.3h0.45M86.6 422.4h0.45M80.8 406.4h0.45M85.0 410.6h0.45M77.4 419.4h0.45M84.4 411.6h0.45M89.9 415.3h0.45M81.9 415.1h0.45M81.1 409.9h0.45M85.1 411.2h0.45M82.7 424.5h0.45M86.4 419.3h0.45M85.5 417.4h0.45M88.1 414.4h0.45M89.2 408.8h0.45M83.3 406.2h0.45M83.0 417.6h0.45M88.1 410.5h0.45M84.0 412.3h0.45M81.9 407.4h0.45M84.2 404.1h0.45M84.3 414.6h0.45M82.2 408.4h0.45M80.1 425.7h0.45M80.2 423.8h0.45M85.7 412.3h0.45M80.8 420.8h0.45M88.8 408.9h0.45M83.2 420.8h0.45M84.9 426.5h0.45M82.4 417.8h0.45M80.5 427.1h0.45M82.0 401.3h0.45M83.6 413.7h0.45M89.4 412.5h0.45M84.0 418.1h0.45M88.4 414.1h0.45M86.9 417.6h0.45M83.2 415.0h0.45M84.1 409.0h0.45M87.4 406.2h0.45M87.3 420.2h0.45M83.7 409.9h0.45M83.4 417.3h0.45M86.1 416.2h0.45M86.8 411.2h0.45M84.7 405.1h0.45M86.1 415.4h0.45M82.8 421.5h0.45M85.9 397.6h0.45M84.1 405.8h0.45M87.0 429.4h0.45M82.5 414.9h0.45M83.3 416.6h0.45M85.8 422.2h0.45M81.2 423.9h0.45M81.4 416.2h0.45M87.2 418.8h0.45M81.4 410.3h0.45M82.7 414.2h0.45M87.2 406.7h0.45M85.3 418.2h0.45M85.6 417.3h0.45M88.3 417.4h0.45M86.4 417.9h0.45M89.0 403.1h0.45M87.6 412.9h0.45M83.2 408.7h0.45M78.8 412.2h0.45M82.1 417.5h0.45M79.9 423.1h0.45M84.8 413.0h0.45M82.0 409.8h0.45M80.8 411.2h0.45M84.0 413.4h0.45M80.0 412.9h0.45M81.5 415.5h0.45M89.2 418.3h0.45M83.1 404.8h0.45M80.0 404.4h0.45M86.0 409.9h0.45M84.2 410.8h0.45M84.3 422.9h0.45M82.1 412.5h0.45M81.7 419.7h0.45M81.1 407.7h0.45M80.1 406.0h0.45M85.3 429.9h0.45M81.2 420.2h0.45M84.7 407.9h0.45M83.2 413.1h0.45M82.1 426.1h0.45M78.7 416.8h0.45M84.9 411.0h0.45M84.4 419.8h0.45M84.4 417.0h0.45M85.9 402.3h0.45M88.1 428.2h0.45M86.7 420.6h0.45M80.1 413.8h0.45M81.7 411.0h0.45M86.7 409.7h0.45M83.6 403.0h0.45M83.6 415.0h0.45M82.0 410.2h0.45M89.3 407.2h0.45M83.7 401.3h0.45M88.6 406.0h0.45M86.7 401.5h0.45M85.1 404.3h0.45M84.0 404.9h0.45M89.1 402.7h0.45M87.4 403.8h0.45M89.4 400.9h0.45M88.6 402.0h0.45M84.3 402.8h0.45M85.5 401.0h0.45M82.5 401.1h0.45M89.2 405.7h0.45M87.4 404.5h0.45M84.9 402.5h0.45M86.6 400.9h0.45M83.8 402.8h0.45M85.3 400.9h0.45M86.9 402.2h0.45M88.2 402.6h0.45M85.3 402.8h0.45M85.6 401.5h0.45M62.0 400.8h0.45M94.3 398.6h0.45M93.0 428.8h0.45M92.1 412.7h0.45M88.1 428.0h0.45M76.3 431.5h0.45M67.0 433.9h0.45M81.1 424.5h0.45M61.1 434.4h0.45M79.7 426.3h0.45" stroke="#000" stroke-width="0.45" fill="none"/>
<rect x="76.7" y="399" width="16.2" height="6.8" fill="none" stroke="#333" stroke-width="0.5"/>
<rect x="76.7" y="405.8" width="16.2" height="17.7" fill="none" stroke="#333" stroke-width="0.5"/>
<rect x="76.7" y="423.5" width="7.6" height="13.8" fill="none" stroke="#333" stroke-width="0.5"/>
<line x1="76.7" y1="405.8" x2="92.9" y2="405.8" stroke="#222" stroke-width="0.8"/>
<text x="84.8" y="398.6" font-size="3.6" text-anchor="middle" fill="#222" stroke="#222" stroke-width="0.05">1.8%</text>
<text x="62.2" y="412.6" font-size="3.6" text-anchor="start" fill="#222" stroke="#222" stroke-width="0.05">3.0%</text>
<text x="85.8" y="428.2" font-size="3.6" text-anchor="start" fill="#222" stroke="#222" stroke-width="0.05">4.2%</text>
<text x="74" y="441.2" font-size="3.6" text-anchor="start" fill="#222" stroke="#222" stroke-width="0.05">9.0%</text>
<rect x="113.4" y="393.2" width="50.8" height="50.5" fill="none" stroke="#8a8a8a" stroke-width="0.5" stroke-dasharray="0.7 0.4"/>
<text x="110.4" y="404.3" font-size="3.9" text-anchor="end" fill="#3a3a3a" stroke="#3a3a3a" stroke-width="0">10<tspan font-size="2.6" dy="-1.5">5</tspan></text>
<line x1="112.5" y1="403" x2="113.7" y2="403" stroke="#222" stroke-width="0.5"/>
<text x="110.4" y="415.3" font-size="3.9" text-anchor="end" fill="#3a3a3a" stroke="#3a3a3a" stroke-width="0">10<tspan font-size="2.6" dy="-1.5">4</tspan></text>
<line x1="112.5" y1="414" x2="113.7" y2="414" stroke="#222" stroke-width="0.5"/>
<text x="110.4" y="426.8" font-size="3.9" text-anchor="end" fill="#3a3a3a" stroke="#3a3a3a" stroke-width="0">10<tspan font-size="2.6" dy="-1.5">3</tspan></text>
<line x1="112.5" y1="425.5" x2="113.7" y2="425.5" stroke="#222" stroke-width="0.5"/>
<text x="110.4" y="432.8" font-size="3.9" text-anchor="end" fill="#3a3a3a" stroke="#3a3a3a" stroke-width="0">0</text>
<line x1="112.5" y1="431.5" x2="113.7" y2="431.5" stroke="#222" stroke-width="0.5"/>
<text x="110.4" y="438.3" font-size="3.9" text-anchor="end" fill="#3a3a3a" stroke="#3a3a3a" stroke-width="0">-10<tspan font-size="2.6" dy="-1.5">3</tspan></text>
<line x1="112.5" y1="437" x2="113.7" y2="437" stroke="#222" stroke-width="0.5"/>
<text x="114.9" y="453.2" font-size="3.9" text-anchor="middle" fill="#3a3a3a" stroke="#3a3a3a" stroke-width="0">-10<tspan font-size="2.6" dy="-1.5">3</tspan></text>
<line x1="114.9" y1="443.4" x2="114.9" y2="444.6" stroke="#222" stroke-width="0.5"/>
<text x="133.2" y="453.2" font-size="3.9" text-anchor="middle" fill="#3a3a3a" stroke="#3a3a3a" stroke-width="0">0</text>
<line x1="133.2" y1="443.4" x2="133.2" y2="444.6" stroke="#222" stroke-width="0.5"/>
<text x="150.4" y="453.2" font-size="3.9" text-anchor="middle" fill="#3a3a3a" stroke="#3a3a3a" stroke-width="0">10<tspan font-size="2.6" dy="-1.5">3</tspan></text>
<line x1="150.4" y1="443.4" x2="150.4" y2="444.6" stroke="#222" stroke-width="0.5"/>
<text x="159.9" y="453.2" font-size="3.9" text-anchor="middle" fill="#3a3a3a" stroke="#3a3a3a" stroke-width="0">10<tspan font-size="2.6" dy="-1.5">5</tspan></text>
<line x1="159.9" y1="443.4" x2="159.9" y2="444.6" stroke="#222" stroke-width="0.5"/>
<line x1="113.4" y1="444.2" x2="164.2" y2="444.2" stroke="#333" stroke-width="0.8" stroke-dasharray="0.5 2.1"/>
<line x1="112.9" y1="393.2" x2="112.9" y2="443.7" stroke="#333" stroke-width="0.8" stroke-dasharray="0.5 2.1"/>
<line x1="131.9" y1="444.1" x2="134.5" y2="444.1" stroke="#000" stroke-width="1.0"/>
<line x1="112.9" y1="430.2" x2="112.9" y2="432.8" stroke="#000" stroke-width="1.0"/>
<ellipse cx="132.3" cy="430" rx="8.7" ry="4.5" transform="rotate(7 132.3 430)" fill="#000" fill-opacity="1.0" filter="url(#b2)"/>
<ellipse cx="140.3" cy="431.6" rx="5.2" ry="3.3" transform="rotate(5 140.3 431.6)" fill="#000" fill-opacity="0.75" filter="url(#b2)"/>
<path d="M126.9 428.0h0.45M126.9 430.2h0.45M134.2 430.5h0.45M130.3 415.1h0.45M134.5 422.8h0.45M134.2 434.9h0.45M135.2 428.9h0.45M131.6 429.5h0.45M128.9 427.4h0.45M125.2 434.1h0.45M132.3 434.0h0.45M130.9 430.3h0.45M131.4 431.9h0.45M139.2 431.9h0.45M128.1 426.5h0.45M145.9 430.6h0.45M129.9 435.7h0.45M141.1 433.3h0.45M128.7 439.2h0.45M135.7 432.7h0.45M132.3 424.4h0.45M122.4 430.6h0.45M136.0 429.6h0.45M124.5 423.4h0.45M131.1 424.1h0.45M139.3 435.6h0.45M154.4 436.3h0.45M128.7 426.2h0.45M131.1 433.9h0.45M137.4 433.1h0.45M134.2 433.0h0.45M144.6 427.3h0.45M130.0 424.3h0.45M144.8 436.9h0.45M139.3 426.1h0.45M134.4 429.4h0.45M133.6 429.5h0.45M137.1 429.1h0.45M139.4 432.0h0.45M130.7 429.5h0.45M129.1 433.0h0.45M130.7 431.1h0.45M130.6 423.9h0.45M140.4 426.8h0.45M138.0 432.5h0.45M120.5 424.9h0.45M129.3 426.5h0.45M123.4 432.0h0.45M130.9 431.5h0.45M129.4 431.0h0.45M127.1 429.4h0.45M137.4 430.9h0.45M129.9 425.5h0.45M134.0 431.7h0.45M131.3 426.9h0.45M135.9 440.6h0.45M130.4 431.3h0.45M137.1 420.4h0.45M134.2 427.5h0.45M143.7 430.5h0.45M127.0 428.6h0.45M134.5 428.1h0.45M133.1 424.8h0.45M130.8 433.1h0.45M147.8 434.8h0.45M134.4 435.2h0.45M140.0 437.8h0.45M141.3 430.7h0.45M134.8 431.2h0.45M135.1 431.3h0.45M127.8 421.1h0.45M128.7 421.5h0.45M133.4 430.3h0.45M119.6 431.4h0.45M139.6 431.4h0.45M144.9 439.2h0.45M123.1 433.2h0.45M136.1 432.3h0.45M140.5 428.2h0.45M128.7 426.4h0.45M127.1 429.1h0.45M122.2 424.7h0.45M137.4 430.5h0.45M136.8 423.1h0.45M127.1 427.3h0.45M133.4 427.9h0.45M140.2 430.8h0.45M133.0 430.3h0.45M138.6 429.0h0.45M141.4 433.1h0.45M134.1 430.5h0.45M136.4 434.7h0.45M140.0 432.6h0.45M139.6 431.5h0.45M142.6 431.3h0.45M116.2 433.6h0.45M134.3 425.7h0.45M131.8 426.5h0.45M148.9 434.1h0.45M120.5 430.9h0.45M128.9 437.4h0.45M125.8 420.3h0.45M133.6 428.9h0.45M130.7 421.3h0.45M135.4 437.2h0.45M117.6 433.1h0.45M127.4 439.0h0.45M136.4 429.9h0.45M141.2 433.3h0.45M128.0 432.5h0.45M129.8 422.6h0.45M148.8 430.7h0.45M128.0 431.0h0.45M121.5 423.4h0.45M129.3 427.7h0.45M132.9 434.7h0.45M129.0 431.7h0.45M138.1 426.5h0.45M135.1 426.7h0.45M140.9 433.0h0.45M133.7 424.9h0.45M134.2 427.3h0.45M138.4 430.4h0.45M126.2 433.1h0.45M138.8 428.5h0.45M142.0 430.1h0.45M130.4 430.4h0.45M127.3 427.7h0.45M130.9 436.1h0.45M144.6 430.6h0.45M145.4 431.5h0.45M135.4 434.1h0.45M134.0 440.1h0.45M135.4 425.7h0.45M143.2 429.8h0.45M132.0 418.0h0.45M140.3 434.4h0.45M138.6 434.8h0.45M146.0 431.6h0.45M140.5 428.1h0.45M129.7 434.1h0.45M136.6 425.3h0.45M135.8 429.8h0.45M126.4 431.2h0.45M130.5 423.6h0.45M123.4 436.2h0.45M121.1 429.7h0.45M137.3 433.3h0.45M123.6 427.8h0.45M133.6 433.5h0.45M128.5 425.0h0.45M140.1 435.5h0.45M136.1 428.1h0.45M136.0 431.0h0.45M140.0 426.0h0.45M133.9 429.7h0.45M124.2 430.0h0.45M133.4 428.6h0.45M136.6 424.9h0.45M132.3 431.9h0.45M134.6 434.7h0.45M124.3 423.1h0.45M134.5 432.2h0.45M149.0 434.6h0.45M125.7 432.6h0.45M127.1 423.5h0.45M152.9 433.9h0.45M138.2 433.1h0.45M146.8 433.0h0.45M142.8 427.3h0.45M121.4 434.6h0.45M144.1 433.6h0.45M134.6 431.1h0.45M126.8 435.7h0.45M137.8 432.8h0.45M135.3 434.7h0.45M136.5 433.6h0.45M123.6 431.1h0.45M150.1 430.2h0.45M131.5 433.6h0.45M140.0 433.6h0.45M120.1 430.7h0.45M124.1 425.8h0.45M137.3 429.5h0.45M138.6 433.8h0.45M126.3 426.8h0.45M124.9 427.1h0.45M124.8 426.6h0.45M131.8 426.0h0.45M122.6 423.5h0.45M136.4 430.9h0.45M140.3 435.3h0.45M129.9 432.5h0.45M120.7 437.9h0.45M142.3 430.5h0.45M123.7 430.6h0.45M118.8 425.4h0.45M138.7 431.2h0.45M128.6 433.5h0.45M124.7 430.4h0.45M129.5 426.4h0.45M137.0 426.7h0.45M147.9 429.7h0.45M148.8 427.7h0.45M138.2 426.0h0.45M122.4 429.6h0.45M138.8 425.8h0.45M142.5 428.1h0.45M133.7 431.8h0.45M138.4 423.6h0.45M145.2 433.9h0.45M130.1 425.7h0.45M120.4 423.2h0.45M137.3 429.4h0.45M124.4 427.1h0.45M145.2 430.3h0.45M127.7 435.0h0.45M136.5 430.8h0.45M128.9 423.5h0.45M124.1 427.2h0.45M131.0 431.4h0.45M137.1 431.6h0.45M135.1 426.4h0.45M116.5 426.1h0.45M125.8 426.7h0.45M131.4 425.0h0.45M124.3 428.8h0.45M134.1 427.7h0.45M136.9 429.8h0.45M125.0 429.4h0.45M147.8 429.3h0.45M141.3 436.8h0.45M144.9 428.3h0.45M148.5 432.5h0.45M131.0 429.0h0.45M137.5 431.0h0.45M130.9 435.1h0.45M127.8 425.4h0.45M138.7 433.7h0.45M141.9 427.0h0.45M141.0 433.1h0.45M147.1 426.9h0.45M134.7 429.3h0.45M120.9 425.9h0.45M141.9 429.4h0.45M126.9 433.0h0.45M140.1 435.0h0.45M126.8 429.2h0.45M141.2 428.6h0.45M126.7 432.8h0.45M145.6 427.1h0.45M125.1 428.7h0.45M137.7 430.2h0.45M127.4 430.2h0.45M125.5 429.1h0.45M126.6 440.2h0.45M139.6 427.6h0.45M125.4 427.5h0.45M120.5 425.8h0.45M126.8 433.0h0.45M130.0 426.7h0.45M123.1 424.3h0.45M132.5 429.3h0.45M142.0 428.8h0.45M141.0 432.2h0.45M133.8 422.2h0.45M122.6 431.9h0.45M143.6 432.3h0.45M139.0 429.3h0.45M130.3 427.2h0.45M140.3 432.5h0.45M131.2 428.7h0.45M137.1 432.0h0.45M125.6 436.2h0.45M134.9 430.5h0.45M143.8 435.6h0.45M132.0 432.2h0.45M124.9 426.7h0.45M114.8 432.9h0.45M117.9 431.1h0.45M126.9 425.5h0.45M131.3 431.1h0.45M136.8 437.8h0.45M135.3 434.0h0.45M127.9 432.5h0.45M134.3 428.5h0.45M132.2 429.9h0.45M134.2 432.0h0.45M129.3 426.8h0.45M139.5 424.2h0.45M127.4 435.8h0.45M139.0 424.3h0.45M154.3 422.3h0.45M143.3 437.7h0.45M140.1 430.2h0.45M136.1 427.0h0.45M139.7 426.5h0.45M130.3 433.9h0.45M124.4 427.7h0.45M134.8 425.0h0.45M141.8 432.6h0.45M121.2 428.6h0.45M127.2 426.9h0.45M133.8 427.5h0.45M140.7 428.3h0.45M140.5 430.9h0.45M139.8 428.8h0.45M129.5 425.2h0.45M136.9 434.5h0.45M148.7 437.3h0.45M134.9 429.6h0.45M135.9 430.5h0.45M143.8 435.3h0.45M126.7 426.7h0.45M143.3 432.7h0.45M130.5 434.7h0.45M130.0 428.7h0.45M130.3 422.0h0.45M140.2 426.2h0.45M128.9 426.7h0.45M138.6 430.6h0.45M133.8 423.5h0.45M132.9 424.3h0.45M135.1 431.9h0.45M131.8 438.3h0.45M136.7 433.1h0.45M134.1 429.6h0.45M139.9 435.5h0.45M122.3 433.2h0.45M136.4 434.5h0.45M137.1 425.7h0.45M122.9 436.4h0.45M135.5 424.8h0.45M135.8 429.1h0.45M119.7 419.4h0.45M120.4 429.8h0.45M132.6 429.2h0.45M134.8 432.9h0.45M116.8 427.0h0.45M127.1 424.5h0.45M128.7 429.2h0.45M131.5 424.2h0.45M128.2 437.8h0.45M125.5 422.5h0.45M134.7 432.8h0.45M137.0 426.2h0.45M141.0 428.0h0.45M124.4 426.7h0.45M131.7 432.9h0.45M137.7 430.7h0.45M140.1 431.4h0.45M140.5 425.5h0.45M120.3 431.8h0.45M122.3 427.7h0.45M132.4 428.2h0.45M128.7 435.3h0.45M150.7 432.4h0.45M132.4 433.1h0.45M147.6 427.2h0.45M133.7 429.5h0.45M137.2 431.4h0.45M138.2 429.1h0.45M133.6 427.6h0.45M127.8 429.0h0.45M132.4 425.4h0.45M145.1 431.1h0.45M121.7 433.3h0.45M126.9 431.5h0.45M132.6 431.2h0.45M134.5 428.1h0.45M132.2 438.3h0.45M115.5 428.4h0.45M136.8 426.4h0.45M121.3 437.5h0.45M129.0 438.1h0.45M137.0 431.0h0.45M136.3 433.2h0.45M141.8 433.0h0.45M133.9 431.0h0.45M143.0 434.7h0.45M125.4 426.7h0.45M135.8 428.0h0.45M130.4 426.1h0.45M130.7 431.6h0.45M140.6 431.2h0.45M149.0 431.8h0.45M157.1 437.2h0.45M137.0 428.7h0.45M133.4 438.0h0.45M121.3 436.5h0.45M130.6 432.8h0.45M129.9 432.6h0.45M134.2 425.7h0.45M139.9 433.8h0.45M137.0 434.8h0.45M141.4 431.1h0.45M123.0 423.4h0.45M143.0 434.3h0.45M133.9 428.6h0.45M133.1 430.3h0.45M130.6 427.1h0.45M149.6 433.1h0.45M128.8 424.5h0.45M126.9 432.4h0.45M138.9 430.0h0.45M133.4 429.0h0.45M123.7 434.3h0.45M134.6 440.4h0.45M127.1 428.9h0.45M139.9 430.1h0.45M122.6 425.1h0.45M133.5 431.7h0.45M131.7 434.1h0.45M140.4 432.4h0.45M133.2 429.2h0.45M136.7 434.4h0.45M133.2 432.0h0.45M131.1 424.3h0.45M124.8 432.3h0.45M135.6 436.9h0.45M132.9 433.7h0.45M142.7 435.4h0.45M128.3 428.9h0.45M134.4 426.4h0.45M136.1 434.7h0.45M128.2 437.6h0.45M130.7 429.1h0.45M131.4 427.2h0.45M136.1 430.7h0.45M145.5 434.2h0.45M137.2 429.8h0.45M122.0 428.5h0.45M125.9 433.2h0.45M131.9 436.8h0.45M138.2 434.2h0.45M134.6 431.2h0.45M137.5 434.5h0.45M127.2 431.5h0.45M153.2 432.3h0.45M131.3 427.2h0.45M121.1 433.6h0.45M133.2 431.4h0.45M146.0 441.9h0.45M125.5 433.6h0.45M137.5 432.4h0.45M136.6 430.6h0.45M144.9 434.1h0.45M135.0 435.5h0.45M139.6 432.9h0.45M134.6 437.5h0.45M136.9 430.3h0.45M126.4 428.0h0.45M124.7 429.7h0.45M135.9 422.3h0.45M132.8 432.8h0.45M134.7 426.6h0.45M143.1 428.6h0.45M123.9 424.8h0.45M132.3 434.1h0.45M141.8 432.1h0.45M124.0 426.5h0.45M126.0 428.7h0.45M119.1 429.0h0.45M138.0 430.2h0.45M136.9 426.9h0.45M121.9 426.3h0.45M141.4 435.4h0.45M128.8 434.6h0.45M129.7 435.9h0.45M136.9 428.9h0.45M139.4 427.9h0.45M126.4 423.6h0.45M134.9 430.2h0.45M132.5 428.5h0.45M144.2 429.9h0.45M126.7 434.5h0.45M143.7 432.9h0.45M119.7 426.2h0.45M137.6 430.8h0.45M145.6 426.2h0.45M138.5 428.3h0.45M143.2 431.1h0.45M141.2 428.6h0.45M122.5 424.5h0.45M128.7 425.6h0.45M141.6 436.6h0.45M135.5 426.3h0.45M132.3 427.4h0.45M144.0 432.8h0.45M136.9 429.1h0.45M117.7 425.3h0.45M124.1 430.6h0.45M134.0 427.1h0.45M129.1 436.1h0.45M125.9 425.7h0.45M131.5 427.2h0.45M129.3 431.9h0.45M147.2 424.8h0.45M132.7 430.3h0.45M132.3 429.4h0.45M129.8 433.9h0.45M129.4 429.3h0.45M132.8 430.6h0.45M131.1 434.0h0.45M132.7 430.9h0.45M133.0 426.2h0.45M127.0 425.3h0.45M134.7 427.5h0.45M124.6 430.2h0.45M137.8 423.7h0.45M146.0 431.9h0.45M131.6 434.3h0.45M133.7 427.9h0.45M150.4 428.0h0.45M131.7 433.5h0.45M124.7 428.8h0.45M134.7 440.1h0.45M126.0 429.2h0.45M138.0 431.1h0.45M123.4 430.7h0.45M133.5 432.1h0.45M141.2 435.3h0.45M135.9 431.8h0.45M124.5 428.6h0.45M134.8 428.8h0.45M134.1 427.0h0.45M143.8 440.2h0.45M129.7 431.4h0.45M130.5 435.0h0.45M136.2 430.9h0.45M131.1 430.5h0.45M124.8 431.9h0.45M127.1 431.7h0.45M133.4 434.7h0.45M132.3 434.2h0.45M125.5 431.8h0.45M131.1 430.8h0.45M133.0 434.0h0.45M117.1 429.6h0.45M120.7 433.6h0.45M118.1 424.4h0.45M119.2 435.1h0.45M122.9 429.4h0.45M129.6 422.6h0.45M130.0 432.5h0.45M131.0 433.8h0.45M130.1 429.9h0.45M129.8 431.2h0.45M147.4 433.4h0.45M134.7 427.9h0.45M126.3 435.3h0.45M124.7 425.5h0.45M132.3 428.4h0.45M149.2 422.6h0.45M135.4 433.4h0.45M124.5 426.6h0.45M135.5 437.1h0.45M126.5 423.1h0.45M139.7 437.2h0.45M131.4 421.1h0.45M144.2 430.8h0.45M141.6 431.1h0.45M130.2 428.1h0.45M143.6 437.3h0.45M116.8 424.5h0.45M146.8 430.4h0.45M122.4 428.9h0.45M132.1 429.7h0.45M129.3 428.5h0.45M129.2 431.1h0.45M126.7 428.3h0.45M131.2 435.3h0.45M135.8 430.1h0.45M136.9 432.3h0.45M141.1 433.2h0.45M146.1 437.2h0.45M132.8 428.5h0.45M139.5 433.1h0.45M132.9 424.2h0.45M118.5 429.9h0.45M138.5 434.1h0.45M122.4 433.1h0.45M128.6 431.2h0.45M136.5 427.4h0.45M129.3 421.4h0.45M126.7 422.2h0.45M136.3 430.9h0.45M139.8 432.5h0.45M127.8 431.0h0.45M129.6 432.3h0.45M135.8 426.6h0.45M132.9 430.4h0.45M130.1 433.5h0.45M146.3 430.3h0.45M131.3 420.9h0.45M132.1 428.3h0.45M116.0 429.3h0.45M137.8 427.8h0.45M130.5 426.0h0.45M139.5 424.9h0.45M129.5 437.7h0.45M133.1 432.1h0.45M132.3 425.4h0.45M132.5 431.8h0.45M124.8 430.6h0.45M142.0 435.6h0.45M121.1 424.8h0.45M119.9 432.9h0.45M137.3 433.6h0.45M126.7 424.7h0.45M133.4 430.7h0.45M126.2 430.0h0.45M137.8 431.7h0.45M125.9 420.8h0.45M130.8 430.6h0.45M131.1 428.3h0.45M127.2 432.4h0.45M132.4 430.6h0.45M125.7 426.8h0.45M134.6 426.4h0.45M123.3 427.7h0.45M142.1 432.1h0.45M144.3 431.0h0.45M131.2 424.4h0.45M127.8 435.4h0.45M135.1 433.4h0.45M138.4 430.8h0.45M131.3 430.5h0.45M137.9 432.6h0.45M136.6 431.3h0.45M127.1 428.4h0.45M125.1 433.3h0.45M116.7 427.4h0.45M152.7 431.6h0.45M136.5 431.0h0.45M147.7 431.7h0.45M144.5 432.2h0.45M139.0 441.5h0.45M142.2 429.9h0.45M139.3 432.6h0.45M143.3 434.2h0.45M142.8 427.1h0.45M144.2 430.9h0.45M140.9 426.7h0.45M139.3 429.0h0.45M142.0 427.0h0.45M141.9 432.0h0.45M136.8 429.1h0.45M137.5 434.1h0.45M130.2 429.3h0.45M134.2 429.5h0.45M145.8 430.0h0.45M142.6 429.0h0.45M150.3 435.4h0.45M147.3 427.9h0.45M136.3 434.5h0.45M140.9 430.7h0.45M143.6 427.8h0.45M145.2 432.0h0.45M144.1 429.7h0.45M144.3 429.6h0.45M145.7 435.6h0.45M145.7 433.7h0.45M145.5 423.3h0.45M145.6 431.1h0.45M142.2 430.7h0.45M135.5 429.2h0.45M144.3 436.4h0.45M139.1 428.4h0.45M148.6 429.5h0.45M151.2 432.7h0.45M137.3 434.3h0.45M149.9 427.8h0.45M148.9 431.4h0.45M148.6 431.1h0.45M134.3 432.5h0.45M145.3 438.7h0.45M149.4 434.6h0.45M140.8 429.8h0.45M140.6 428.8h0.45M141.3 423.4h0.45M142.5 431.6h0.45M153.2 435.2h0.45M139.3 433.2h0.45M136.3 429.1h0.45M132.7 435.3h0.45M144.8 428.1h0.45M141.1 434.6h0.45M143.8 433.0h0.45M138.0 429.2h0.45M141.8 434.6h0.45M138.3 427.6h0.45M147.2 429.2h0.45M146.6 432.9h0.45M145.2 437.6h0.45M144.6 434.4h0.45M137.7 429.0h0.45M144.2 436.8h0.45M147.3 439.6h0.45M143.1 432.4h0.45M146.3 432.1h0.45M141.7 428.2h0.45M146.6 428.6h0.45M144.5 427.3h0.45M147.0 428.8h0.45M146.1 426.9h0.45M139.3 435.1h0.45M138.0 431.4h0.45M140.2 424.0h0.45M143.0 433.1h0.45M136.4 432.9h0.45M138.4 428.0h0.45M141.9 429.4h0.45M152.7 427.7h0.45M144.8 435.1h0.45M133.2 425.2h0.45M144.4 430.3h0.45M143.1 435.4h0.45M140.3 428.0h0.45M129.1 431.0h0.45M137.3 432.2h0.45M143.2 427.3h0.45M149.2 435.8h0.45M146.0 428.2h0.45M140.0 429.7h0.45M140.2 427.8h0.45M143.6 432.5h0.45M143.5 430.2h0.45M147.5 432.8h0.45M129.4 428.3h0.45M141.1 434.6h0.45M140.4 430.7h0.45M138.5 433.4h0.45M139.8 429.5h0.45M138.1 433.0h0.45M139.8 426.0h0.45M144.8 429.7h0.45M143.2 433.0h0.45M146.9 435.5h0.45M139.1 430.8h0.45M135.3 436.3h0.45M143.3 436.2h0.45M140.9 424.9h0.45M148.7 432.6h0.45M142.3 431.8h0.45M144.5 433.6h0.45M134.1 434.3h0.45M139.4 429.9h0.45M149.3 435.3h0.45M140.7 425.5h0.45M142.3 433.4h0.45M141.7 427.6h0.45M138.5 427.2h0.45M142.4 434.3h0.45M146.6 429.7h0.45M142.6 433.5h0.45M139.4 430.9h0.45M151.4 433.2h0.45M145.9 430.6h0.45M142.4 426.2h0.45M141.2 435.4h0.45M150.9 436.4h0.45M144.8 432.1h0.45M139.0 430.8h0.45M144.8 429.4h0.45M146.3 428.9h0.45M133.9 427.6h0.45M134.5 426.5h0.45M146.9 431.5h0.45M142.3 435.4h0.45M147.6 430.6h0.45M147.7 433.4h0.45M141.6 433.0h0.45M135.4 428.4h0.45M141.0 433.5h0.45M140.0 431.0h0.45M145.7 436.5h0.45M144.8 436.0h0.45M139.9 430.4h0.45M143.3 430.8h0.45M138.9 436.6h0.45M141.1 428.4h0.45M143.3 437.7h0.45M141.7 435.6h0.45M139.9 429.8h0.45M138.6 430.8h0.45M150.5 428.8h0.45M149.5 429.1h0.45M140.4 434.2h0.45M144.5 432.8h0.45M134.0 432.0h0.45M136.2 439.3h0.45M140.7 432.1h0.45M136.6 429.5h0.45M135.5 434.1h0.45M140.3 433.3h0.45M138.7 429.7h0.45M147.9 429.1h0.45M133.3 432.1h0.45M136.6 429.7h0.45M146.1 429.4h0.45M145.9 429.8h0.45M148.1 436.5h0.45M139.6 430.7h0.45M137.8 431.9h0.45M147.4 427.5h0.45M146.3 427.8h0.45M138.3 425.5h0.45M151.3 432.8h0.45M143.0 429.6h0.45M147.3 425.4h0.45M141.1 438.6h0.45M139.9 431.5h0.45M145.0 429.3h0.45M141.5 434.7h0.45M142.5 432.9h0.45M140.0 432.4h0.45M141.5 436.3h0.45M145.1 431.2h0.45M130.3 432.8h0.45M145.4 429.0h0.45M132.9 427.0h0.45M146.3 428.6h0.45M139.5 432.1h0.45M147.3 432.1h0.45M141.4 429.8h0.45M148.8 435.7h0.45M141.7 427.1h0.45M137.9 433.1h0.45M138.1 434.1h0.45M143.3 432.7h0.45M144.5 433.5h0.45M137.9 430.2h0.45M152.8 428.8h0.45M139.2 434.8h0.45M141.2 428.9h0.45M135.5 432.7h0.45M145.9 436.5h0.45M141.6 435.0h0.45M136.9 431.7h0.45M138.5 431.8h0.45M144.8 435.4h0.45M136.8 435.2h0.45M139.9 428.1h0.45M141.4 426.9h0.45M141.6 432.5h0.45M140.6 433.2h0.45M140.3 431.5h0.45M135.1 431.1h0.45M137.9 429.8h0.45M141.2 432.2h0.45M134.7 425.9h0.45M140.2 433.0h0.45M151.3 418.0h0.45M152.0 416.0h0.45M151.0 408.3h0.45M150.2 411.2h0.45M151.2 414.6h0.45M151.0 412.7h0.45M151.5 414.5h0.45M151.2 415.0h0.45M150.6 408.3h0.45M151.4 415.6h0.45M150.8 411.4h0.45M152.8 409.7h0.45M150.8 414.8h0.45M150.1 414.1h0.45M152.4 418.2h0.45M151.5 416.5h0.45M151.1 418.3h0.45M150.9 411.4h0.45M151.1 418.0h0.45M151.3 416.9h0.45M149.4 419.5h0.45M152.9 420.2h0.45M150.7 409.3h0.45M151.2 408.6h0.45M151.6 410.9h0.45M151.8 420.3h0.45M149.4 415.0h0.45M150.4 406.5h0.45M150.5 412.4h0.45M151.8 405.9h0.45M151.8 423.6h0.45M151.5 416.2h0.45M151.0 407.6h0.45M151.4 415.4h0.45M151.6 426.3h0.45M151.6 415.6h0.45M152.2 406.8h0.45M150.1 411.6h0.45M150.5 417.0h0.45M150.7 422.2h0.45M152.2 417.4h0.45M150.7 416.6h0.45M151.6 408.2h0.45M151.3 417.0h0.45M151.2 421.4h0.45M152.0 409.4h0.45M151.1 409.3h0.45M151.5 409.2h0.45M151.7 415.4h0.45M151.8 412.8h0.45M149.8 422.3h0.45M150.9 420.4h0.45M151.3 416.9h0.45M152.5 415.2h0.45M152.1 406.1h0.45M151.7 412.3h0.45M150.9 413.5h0.45M151.3 421.8h0.45M149.5 413.7h0.45M150.4 419.3h0.45M150.7 415.8h0.45M150.7 416.8h0.45M151.8 411.5h0.45M151.0 406.4h0.45M151.2 417.8h0.45M150.6 419.1h0.45M149.3 404.2h0.45M149.9 411.1h0.45M151.0 413.1h0.45M150.9 417.1h0.45M150.6 407.2h0.45M150.0 424.1h0.45M149.1 412.6h0.45M152.2 415.9h0.45M150.3 413.5h0.45M151.7 419.5h0.45M150.3 417.3h0.45M151.2 419.0h0.45M152.1 411.8h0.45M149.8 415.5h0.45M152.4 416.9h0.45M151.2 425.5h0.45M150.2 418.0h0.45M150.5 413.7h0.45M151.1 421.1h0.45M150.3 410.8h0.45M149.7 415.9h0.45M150.6 415.6h0.45M150.1 411.7h0.45M151.8 412.6h0.45M151.5 416.1h0.45M150.7 405.7h0.45M151.8 414.4h0.45M151.8 403.4h0.45M149.7 402.8h0.45M150.3 418.7h0.45M151.5 413.3h0.45M151.1 417.3h0.45M150.8 415.5h0.45M151.1 402.6h0.45M150.7 420.3h0.45M150.7 412.8h0.45M150.5 411.1h0.45M151.9 412.2h0.45M150.2 397.9h0.45M150.5 403.7h0.45M149.5 417.5h0.45M151.6 403.9h0.45M151.7 415.8h0.45M150.4 417.2h0.45M149.7 407.5h0.45M149.8 407.9h0.45M151.7 406.8h0.45M150.1 408.7h0.45M151.2 411.8h0.45M151.7 409.9h0.45M150.0 411.0h0.45M151.0 408.8h0.45M151.2 422.6h0.45M150.5 413.7h0.45M152.1 410.2h0.45M150.3 408.0h0.45M151.3 416.0h0.45M150.9 413.6h0.45M152.0 417.7h0.45M149.9 413.4h0.45M151.1 417.0h0.45M150.8 410.2h0.45M150.6 404.5h0.45M151.0 410.4h0.45M151.4 408.2h0.45M150.6 408.5h0.45M150.1 416.8h0.45M150.6 415.6h0.45M150.1 413.8h0.45M149.6 410.9h0.45M150.6 416.2h0.45M151.1 412.4h0.45M151.6 414.2h0.45M151.4 417.1h0.45M150.9 411.8h0.45M151.2 411.2h0.45M151.3 418.8h0.45M151.6 411.4h0.45M149.9 413.0h0.45M150.9 418.8h0.45M150.7 412.2h0.45M151.6 410.9h0.45M150.8 421.8h0.45M152.2 416.4h0.45M149.4 408.4h0.45M150.2 414.6h0.45M149.3 411.1h0.45M148.6 413.1h0.45M149.5 422.8h0.45M149.7 404.3h0.45M146.0 404.7h0.45M146.5 417.6h0.45M149.8 410.6h0.45M149.4 409.7h0.45M144.7 405.8h0.45M146.3 422.7h0.45M144.9 421.7h0.45M152.4 413.1h0.45M148.5 410.5h0.45M148.6 418.1h0.45M148.7 420.2h0.45M152.0 416.3h0.45M149.6 413.8h0.45M149.6 407.5h0.45M149.8 415.4h0.45M146.2 427.1h0.45M145.9 409.0h0.45M149.4 402.6h0.45M146.4 405.1h0.45M146.0 413.4h0.45M149.5 420.8h0.45M150.9 421.3h0.45M150.3 411.4h0.45M151.8 411.3h0.45M146.9 423.3h0.45M150.9 415.5h0.45M150.8 419.4h0.45M144.8 413.6h0.45M145.3 414.9h0.45M146.8 422.3h0.45M150.1 409.3h0.45M148.6 406.9h0.45M148.8 417.4h0.45M149.4 402.6h0.45M147.7 417.2h0.45M149.5 421.1h0.45M145.0 417.3h0.45M146.8 415.3h0.45M149.8 418.3h0.45M147.0 415.3h0.45M145.4 405.7h0.45M150.2 413.8h0.45M144.1 409.1h0.45M148.7 423.5h0.45M151.6 418.9h0.45M143.6 413.6h0.45M150.0 416.5h0.45M149.8 412.8h0.45M153.6 423.0h0.45M148.4 408.3h0.45M154.4 410.8h0.45M152.0 425.6h0.45M146.0 415.9h0.45M147.7 417.2h0.45M149.5 425.8h0.45M150.3 414.1h0.45M151.8 412.5h0.45M147.6 427.6h0.45M146.3 411.2h0.45M148.8 407.8h0.45M142.7 420.5h0.45M146.4 410.9h0.45M147.6 408.3h0.45M145.6 415.1h0.45M155.3 418.6h0.45M150.7 405.1h0.45M148.6 407.0h0.45M150.8 412.8h0.45M148.7 413.6h0.45M147.0 405.0h0.45M150.3 405.8h0.45M145.3 412.4h0.45M146.7 415.7h0.45M151.5 415.6h0.45M149.2 414.3h0.45M151.0 403.1h0.45M149.7 408.5h0.45M145.2 414.2h0.45M147.6 417.6h0.45M151.7 400.2h0.45M148.4 425.9h0.45M151.1 422.8h0.45M148.9 405.5h0.45M145.5 418.4h0.45M151.3 409.8h0.45M147.9 415.7h0.45M143.7 412.0h0.45M153.2 427.3h0.45M148.3 425.1h0.45M147.2 409.3h0.45M142.4 419.9h0.45M147.6 428.2h0.45M149.6 415.3h0.45M143.6 423.2h0.45M147.6 413.2h0.45M142.5 419.7h0.45M151.4 410.5h0.45M148.9 416.5h0.45M151.3 414.8h0.45M153.5 412.7h0.45M146.9 411.4h0.45M141.5 409.3h0.45M151.5 415.8h0.45M146.4 416.3h0.45M146.2 402.1h0.45M151.8 403.6h0.45M149.0 404.0h0.45M154.8 401.8h0.45M152.3 400.0h0.45M146.4 403.5h0.45M150.8 402.8h0.45M149.4 402.0h0.45M152.5 405.3h0.45M150.2 399.9h0.45M153.5 403.5h0.45M152.2 402.8h0.45M155.8 402.6h0.45M151.8 399.6h0.45M149.4 401.4h0.45M150.6 403.1h0.45M149.0 405.3h0.45M148.3 401.8h0.45M151.2 400.5h0.45M151.9 403.5h0.45M150.0 405.6h0.45M150.9 403.0h0.45M138.1 401.3h0.45M143.4 437.3h0.45M127.3 433.6h0.45M137.8 400.9h0.45M132.1 420.7h0.45M153.1 414.8h0.45M124.5 424.1h0.45M160.4 412.4h0.45M130.1 439.1h0.45M133.9 407.4h0.45M143.6 423.9h0.45M138.2 427.8h0.45M140.1 424.8h0.45M138.3 424.7h0.45M142.2 427.1h0.45M139.8 430.3h0.45M131.7 427.5h0.45M145.5 422.7h0.45M132.6 431.3h0.45M140.0 422.5h0.45M141.1 422.6h0.45M132.6 427.4h0.45M135.6 424.1h0.45M136.2 424.1h0.45M138.7 425.8h0.45M141.3 423.9h0.45M131.8 424.7h0.45M138.5 429.8h0.45M141.7 423.3h0.45M141.7 422.0h0.45M142.6 423.7h0.45M142.2 426.4h0.45M137.5 427.1h0.45M133.8 427.2h0.45M146.0 433.9h0.45M141.6 425.2h0.45M134.9 429.7h0.45M130.8 426.3h0.45M139.2 422.7h0.45M145.9 426.4h0.45M135.6 425.4h0.45M131.8 424.5h0.45M140.8 426.8h0.45M140.2 426.1h0.45M136.3 427.5h0.45M132.1 427.9h0.45M145.8 427.0h0.45M136.2 425.8h0.45M145.7 428.2h0.45M131.7 427.0h0.45M140.3 428.4h0.45M135.3 428.6h0.45M138.9 431.8h0.45M140.2 425.1h0.45M137.8 428.8h0.45M140.6 422.6h0.45M138.5 422.6h0.45M134.3 424.0h0.45M132.3 426.1h0.45M134.6 428.5h0.45M141.7 424.3h0.45M134.2 429.3h0.45M128.4 424.2h0.45M142.1 426.5h0.45M142.5 424.2h0.45M132.7 426.5h0.45M140.4 423.4h0.45M134.5 423.7h0.45M134.1 429.5h0.45M139.6 422.7h0.45M133.4 426.1h0.45M140.0 422.5h0.45M136.2 421.2h0.45M133.3 428.6h0.45M141.5 422.1h0.45M135.7 428.8h0.45M136.4 425.2h0.45M140.9 425.7h0.45M143.8 426.3h0.45M135.9 426.5h0.45" stroke="#000" stroke-width="0.45" fill="none"/>
<rect x="141.5" y="399" width="16.2" height="6.8" fill="none" stroke="#333" stroke-width="0.5"/>
<rect x="141.5" y="405.8" width="16.2" height="17.7" fill="none" stroke="#333" stroke-width="0.5"/>
<rect x="141.5" y="423.5" width="7.6" height="13.8" fill="none" stroke="#333" stroke-width="0.5"/>
<line x1="141.5" y1="405.8" x2="157.7" y2="405.8" stroke="#222" stroke-width="0.8"/>
<text x="149.6" y="398.6" font-size="3.6" text-anchor="middle" fill="#222" stroke="#222" stroke-width="0.05">1.7%</text>
<text x="127" y="412.6" font-size="3.6" text-anchor="start" fill="#222" stroke="#222" stroke-width="0.05">3.5%</text>
<text x="150.6" y="428.2" font-size="3.6" text-anchor="start" fill="#222" stroke="#222" stroke-width="0.05">4.0%</text>
<text x="138.8" y="441.2" font-size="3.6" text-anchor="start" fill="#222" stroke="#222" stroke-width="0.05">10.1%</text>
<text transform="translate(30.7 438.3) rotate(-90)" font-size="9.4" text-anchor="middle" fill="#1a1a1a" stroke="#1a1a1a" stroke-width="0.22" textLength="15" lengthAdjust="spacingAndGlyphs">IgM</text>
<line x1="27.5" y1="428.5" x2="27.5" y2="407.62" stroke="#1a1a1a" stroke-width="1.0"/>
<polygon points="27.5,403.3 29.9,408.7 25.1,408.7" fill="#1a1a1a"/>
<text x="48.5" y="464.7" font-size="9.2" text-anchor="start" fill="#1a1a1a" stroke="#1a1a1a" stroke-width="0.22" textLength="20.2" lengthAdjust="spacingAndGlyphs">B220</text>
<line x1="69" y1="461.5" x2="144.38" y2="461.5" stroke="#1a1a1a" stroke-width="1.0"/>
<polygon points="148.7,461.5 143.3,463.9 143.3,459.1" fill="#1a1a1a"/>
<text x="197.2" y="262.8" font-size="11.2" text-anchor="start" fill="#1a1a1a" stroke="#1a1a1a" stroke-width="0.04" textLength="5.8" lengthAdjust="spacingAndGlyphs">E</text>
<text x="273.7" y="271.8" font-size="7.8" text-anchor="middle" fill="#1a1a1a" stroke="#1a1a1a" stroke-width="0.22" textLength="22.5" lengthAdjust="spacingAndGlyphs">Spleen</text>
<line x1="218.3" y1="277.6" x2="346" y2="277.6" stroke="#1a1a1a" stroke-width="0.9"/>
<text x="232.5" y="288.7" font-size="5.6" text-anchor="start" fill="#1a1a1a" stroke="#1a1a1a" stroke-width="0.08" textLength="25.8" lengthAdjust="spacingAndGlyphs">Mcl-1<tspan font-size="3.8" dy="-2.2">wt/wt</tspan></text>
<text x="306.3" y="288.7" font-size="5.6" text-anchor="start" fill="#1a1a1a" stroke="#1a1a1a" stroke-width="0.08" textLength="25.8" lengthAdjust="spacingAndGlyphs">Mcl-1<tspan font-size="3.8" dy="-2.2">hu/hu</tspan></text>
<rect x="219.4" y="292.7" width="56" height="55.6" fill="none" stroke="#8a8a8a" stroke-width="0.5" stroke-dasharray="0.7 0.4"/>
<text x="216.4" y="304.9" font-size="3.9" text-anchor="end" fill="#3a3a3a" stroke="#3a3a3a" stroke-width="0">10<tspan font-size="2.6" dy="-1.5">5</tspan></text>
<line x1="218.5" y1="303.6" x2="219.7" y2="303.6" stroke="#222" stroke-width="0.5"/>
<text x="216.4" y="318.8" font-size="3.9" text-anchor="end" fill="#3a3a3a" stroke="#3a3a3a" stroke-width="0">10<tspan font-size="2.6" dy="-1.5">4</tspan></text>
<line x1="218.5" y1="317.5" x2="219.7" y2="317.5" stroke="#222" stroke-width="0.5"/>
<text x="216.4" y="333" font-size="3.9" text-anchor="end" fill="#3a3a3a" stroke="#3a3a3a" stroke-width="0">0</text>
<line x1="218.5" y1="331.7" x2="219.7" y2="331.7" stroke="#222" stroke-width="0.5"/>
<text x="216.4" y="346.7" font-size="3.9" text-anchor="end" fill="#3a3a3a" stroke="#3a3a3a" stroke-width="0">-10<tspan font-size="2.6" dy="-1.5">3</tspan></text>
<line x1="218.5" y1="345.4" x2="219.7" y2="345.4" stroke="#222" stroke-width="0.5"/>
<text x="223.9" y="357" font-size="3.9" text-anchor="middle" fill="#3a3a3a" stroke="#3a3a3a" stroke-width="0">-10<tspan font-size="2.6" dy="-1.5">3</tspan></text>
<line x1="223.9" y1="348" x2="223.9" y2="349.2" stroke="#222" stroke-width="0.5"/>
<text x="235.2" y="357" font-size="3.9" text-anchor="middle" fill="#3a3a3a" stroke="#3a3a3a" stroke-width="0">0</text>
<line x1="235.2" y1="348" x2="235.2" y2="349.2" stroke="#222" stroke-width="0.5"/>
<text x="246.9" y="357" font-size="3.9" text-anchor="middle" fill="#3a3a3a" stroke="#3a3a3a" stroke-width="0">10<tspan font-size="2.6" dy="-1.5">3</tspan></text>
<line x1="246.9" y1="348" x2="246.9" y2="349.2" stroke="#222" stroke-width="0.5"/>
<text x="266.4" y="357" font-size="3.9" text-anchor="middle" fill="#3a3a3a" stroke="#3a3a3a" stroke-width="0">10<tspan font-size="2.6" dy="-1.5">5</tspan></text>
<line x1="266.4" y1="348" x2="266.4" y2="349.2" stroke="#222" stroke-width="0.5"/>
<line x1="219.4" y1="348.8" x2="275.4" y2="348.8" stroke="#333" stroke-width="0.8" stroke-dasharray="0.5 2.1"/>
<line x1="218.9" y1="292.7" x2="218.9" y2="348.3" stroke="#333" stroke-width="0.8" stroke-dasharray="0.5 2.1"/>
<line x1="233.9" y1="348.7" x2="236.5" y2="348.7" stroke="#000" stroke-width="1.0"/>
<line x1="218.9" y1="330.4" x2="218.9" y2="333" stroke="#000" stroke-width="1.0"/>
<ellipse cx="234.9" cy="332.7" rx="4" ry="2.9" transform="rotate(-25 234.9 332.7)" fill="#000" fill-opacity="1.0" filter="url(#b2)"/>
<ellipse cx="259.8" cy="313.2" rx="4" ry="6.2" transform="rotate(12 259.8 313.2)" fill="#000" fill-opacity="0.45" filter="url(#b3)"/>
<ellipse cx="243" cy="308" rx="7.5" ry="4.2" transform="rotate(5 243 308)" fill="#000" fill-opacity="0.16" filter="url(#b3)"/>
<path d="M233.2 329.0h0.45M233.3 336.2h0.45M231.4 337.3h0.45M235.8 331.3h0.45M237.4 332.4h0.45M238.4 329.1h0.45M234.1 332.0h0.45M242.3 331.2h0.45M231.7 333.0h0.45M232.9 333.4h0.45M238.8 337.3h0.45M230.7 337.8h0.45M235.6 329.7h0.45M234.0 331.3h0.45M236.6 334.5h0.45M232.0 337.9h0.45M235.9 336.4h0.45M238.0 334.4h0.45M238.3 333.8h0.45M234.2 330.1h0.45M238.2 332.7h0.45M239.2 323.8h0.45M235.9 335.0h0.45M230.9 333.8h0.45M243.7 331.9h0.45M234.2 337.1h0.45M239.9 332.0h0.45M236.7 332.1h0.45M231.7 332.5h0.45M237.7 331.2h0.45M240.6 328.2h0.45M227.1 335.5h0.45M236.5 332.6h0.45M234.3 330.1h0.45M239.0 328.0h0.45M237.1 330.3h0.45M233.2 337.6h0.45M226.1 334.5h0.45M236.1 330.6h0.45M237.4 330.7h0.45M236.6 338.1h0.45M234.3 332.2h0.45M230.8 332.3h0.45M238.0 332.4h0.45M234.3 330.5h0.45M235.2 327.0h0.45M233.8 332.2h0.45M232.7 334.0h0.45M232.1 331.4h0.45M241.9 330.8h0.45M239.1 330.2h0.45M239.3 332.4h0.45M242.1 335.7h0.45M234.9 333.2h0.45M230.5 324.0h0.45M230.9 334.7h0.45M236.5 329.7h0.45M240.5 333.3h0.45M235.8 336.3h0.45M241.4 330.3h0.45M234.1 337.4h0.45M234.3 331.6h0.45M235.0 330.7h0.45M239.7 332.2h0.45M239.9 331.5h0.45M232.6 333.2h0.45M237.5 329.7h0.45M244.2 326.6h0.45M234.9 335.9h0.45M237.6 330.8h0.45M235.1 333.6h0.45M238.9 332.6h0.45M234.9 333.7h0.45M239.0 332.6h0.45M224.4 335.4h0.45M232.6 333.0h0.45M237.1 334.1h0.45M237.1 330.8h0.45M237.7 336.3h0.45M233.8 334.0h0.45M240.7 330.3h0.45M229.3 336.6h0.45M233.9 332.6h0.45M239.2 331.5h0.45M235.6 334.8h0.45M236.8 331.7h0.45M236.6 332.3h0.45M233.6 331.7h0.45M234.1 329.9h0.45M233.0 337.5h0.45M234.5 332.6h0.45M234.9 332.5h0.45M235.5 332.3h0.45M234.0 335.8h0.45M234.5 335.8h0.45M227.9 333.0h0.45M238.2 330.1h0.45M233.7 334.2h0.45M232.1 334.2h0.45M227.7 335.0h0.45M233.9 334.6h0.45M237.0 328.7h0.45M239.6 328.0h0.45M225.7 330.1h0.45M240.0 329.3h0.45M232.3 331.5h0.45M233.6 337.3h0.45M237.4 336.6h0.45M231.6 327.0h0.45M237.5 329.9h0.45M236.6 336.3h0.45M236.0 335.4h0.45M234.3 330.4h0.45M236.1 329.9h0.45M240.4 332.4h0.45M236.3 333.5h0.45M236.7 330.6h0.45M237.8 330.1h0.45M236.0 328.9h0.45M236.2 333.0h0.45M232.3 332.6h0.45M234.6 334.8h0.45M233.6 334.5h0.45M240.6 330.4h0.45M230.4 335.3h0.45M238.2 329.7h0.45M239.6 331.8h0.45M236.3 330.9h0.45M233.4 332.5h0.45M236.2 333.3h0.45M236.3 330.8h0.45M236.1 333.0h0.45M229.2 333.2h0.45M232.6 333.1h0.45M234.2 332.1h0.45M233.5 335.3h0.45M234.1 327.8h0.45M233.9 329.5h0.45M240.2 328.2h0.45M234.2 333.1h0.45M234.7 332.4h0.45M240.6 330.1h0.45M239.5 333.4h0.45M234.5 337.9h0.45M238.8 333.3h0.45M233.7 335.6h0.45M236.0 330.2h0.45M243.3 329.6h0.45M234.9 333.1h0.45M239.7 333.3h0.45M238.8 334.1h0.45M238.4 326.7h0.45M232.6 330.8h0.45M237.6 335.5h0.45M236.1 328.6h0.45M235.8 335.2h0.45M233.6 332.9h0.45M234.0 327.4h0.45M238.3 331.7h0.45M235.9 328.9h0.45M232.2 332.1h0.45M236.3 331.9h0.45M238.1 336.2h0.45M238.6 328.3h0.45M235.5 337.4h0.45M236.2 336.0h0.45M239.7 328.2h0.45M234.6 332.9h0.45M231.4 331.4h0.45M235.2 334.9h0.45M233.7 332.5h0.45M232.2 329.8h0.45M237.0 324.1h0.45M234.0 334.7h0.45M231.8 336.1h0.45M238.2 328.0h0.45M234.6 329.2h0.45M237.1 331.5h0.45M237.8 335.1h0.45M238.6 334.6h0.45M235.8 328.3h0.45M236.8 332.9h0.45M232.5 337.9h0.45M236.1 333.0h0.45M232.6 333.9h0.45M235.9 330.9h0.45M232.9 327.1h0.45M238.2 327.2h0.45M227.2 333.7h0.45M233.5 334.9h0.45M232.9 334.5h0.45M235.2 339.1h0.45M239.6 335.9h0.45M233.0 335.5h0.45M233.1 335.2h0.45M235.5 327.3h0.45M230.3 331.4h0.45M229.7 333.1h0.45M230.5 330.4h0.45M236.4 333.3h0.45M230.5 333.2h0.45M235.1 331.6h0.45M234.2 335.3h0.45M238.9 332.4h0.45M237.3 337.3h0.45M240.3 328.3h0.45M236.5 335.2h0.45M233.3 334.5h0.45M234.6 330.5h0.45M232.6 328.9h0.45M231.0 328.4h0.45M244.5 331.8h0.45M239.6 330.8h0.45M240.1 333.5h0.45M239.7 332.6h0.45M233.0 334.8h0.45M232.1 330.3h0.45M232.3 335.2h0.45M236.9 327.1h0.45M242.7 332.7h0.45M233.5 331.8h0.45M236.4 334.7h0.45M232.7 330.2h0.45M233.7 326.7h0.45M237.3 334.7h0.45M237.3 333.5h0.45M237.8 333.1h0.45M234.7 330.0h0.45M234.5 332.4h0.45M241.4 333.9h0.45M235.7 329.7h0.45M232.8 333.0h0.45M240.1 330.6h0.45M234.1 330.5h0.45M238.5 331.4h0.45M235.3 332.5h0.45M240.4 328.9h0.45M242.2 332.2h0.45M236.6 334.2h0.45M233.8 330.5h0.45M233.3 330.5h0.45M236.9 331.4h0.45M238.2 333.2h0.45M225.8 338.3h0.45M229.8 335.7h0.45M232.7 334.0h0.45M237.4 325.8h0.45M235.8 331.7h0.45M230.2 337.0h0.45M234.7 330.9h0.45M237.2 341.1h0.45M231.7 328.6h0.45M231.9 332.9h0.45M234.0 332.7h0.45M232.7 335.3h0.45M232.0 329.8h0.45M232.2 332.7h0.45M238.6 331.9h0.45M234.3 332.8h0.45M238.6 336.7h0.45M234.0 334.4h0.45M236.4 328.7h0.45M236.1 332.3h0.45M234.6 334.4h0.45M240.0 333.1h0.45M234.9 333.0h0.45M241.3 325.5h0.45M237.2 333.9h0.45M236.6 333.5h0.45M236.8 333.7h0.45M239.1 329.5h0.45M235.9 331.7h0.45M234.0 332.9h0.45M232.7 335.9h0.45M242.9 333.3h0.45M238.1 327.7h0.45M239.2 327.9h0.45M237.5 336.7h0.45M233.0 336.0h0.45M236.0 331.4h0.45M233.1 334.7h0.45M235.2 335.5h0.45M237.4 326.8h0.45M233.3 332.3h0.45M230.1 331.6h0.45M235.3 331.6h0.45M229.4 333.8h0.45M235.4 328.4h0.45M234.4 337.6h0.45M237.4 326.1h0.45M231.5 335.4h0.45M231.2 333.7h0.45M234.6 334.3h0.45M224.5 331.3h0.45M232.7 336.7h0.45M232.6 328.4h0.45M237.8 333.0h0.45M234.1 331.8h0.45M238.2 334.3h0.45M236.5 333.2h0.45M237.0 328.6h0.45M234.9 332.8h0.45M236.3 329.7h0.45M242.7 328.5h0.45M238.2 322.6h0.45M239.0 326.3h0.45M233.1 329.3h0.45M244.5 328.8h0.45M232.8 328.2h0.45M237.1 328.2h0.45M241.6 320.8h0.45M230.2 333.8h0.45M238.3 330.0h0.45M245.2 333.7h0.45M235.5 328.9h0.45M231.5 335.1h0.45M240.9 326.5h0.45M242.7 326.5h0.45M244.7 326.5h0.45M232.5 330.6h0.45M228.4 328.6h0.45M240.8 331.5h0.45M245.6 324.1h0.45M234.8 326.9h0.45M242.7 328.1h0.45M237.0 333.3h0.45M236.4 322.5h0.45M241.2 328.0h0.45M235.6 329.4h0.45M248.0 329.4h0.45M242.9 321.2h0.45M237.2 334.1h0.45M231.7 330.7h0.45M234.6 340.0h0.45M243.1 328.1h0.45M238.0 327.8h0.45M237.7 332.5h0.45M237.7 335.2h0.45M234.3 328.3h0.45M242.8 325.7h0.45M239.4 326.9h0.45M230.2 337.3h0.45M234.9 336.5h0.45M228.1 328.3h0.45M240.1 330.0h0.45M236.0 325.7h0.45M238.5 322.8h0.45M234.6 328.5h0.45M238.2 333.2h0.45M236.6 333.0h0.45M237.3 322.6h0.45M232.6 331.6h0.45M236.3 332.1h0.45M231.8 337.0h0.45M240.6 327.1h0.45M232.5 333.4h0.45M237.0 332.7h0.45M239.1 332.0h0.45M239.2 335.1h0.45M226.8 332.8h0.45M236.9 323.8h0.45M238.4 324.0h0.45M236.5 326.6h0.45M236.6 331.3h0.45M236.8 328.8h0.45M246.5 323.8h0.45M236.0 335.0h0.45M243.7 331.0h0.45M243.2 322.0h0.45M244.5 330.1h0.45M238.5 330.3h0.45M224.9 336.0h0.45M241.5 319.4h0.45M236.5 331.9h0.45M243.6 332.9h0.45M231.1 334.5h0.45M238.7 323.4h0.45M241.7 335.3h0.45M244.3 327.6h0.45M227.4 336.3h0.45M238.9 327.6h0.45M244.0 338.9h0.45M235.2 327.3h0.45M238.3 328.0h0.45M236.6 330.2h0.45M241.5 328.2h0.45M233.0 332.5h0.45M238.9 326.9h0.45M244.1 328.8h0.45M234.7 333.2h0.45M249.0 328.9h0.45M239.6 332.4h0.45M232.4 327.1h0.45M240.7 328.8h0.45M240.0 328.1h0.45M238.2 327.2h0.45M241.6 330.8h0.45M239.4 332.2h0.45M229.4 332.1h0.45M247.3 330.9h0.45M238.8 328.6h0.45M233.7 334.1h0.45M238.1 323.1h0.45M241.2 329.5h0.45M237.5 325.1h0.45M237.1 323.7h0.45M244.2 326.0h0.45M236.1 336.8h0.45M241.2 324.5h0.45M244.7 320.6h0.45M241.6 332.3h0.45M231.0 338.7h0.45M237.7 329.7h0.45M234.4 333.5h0.45M231.6 329.7h0.45M233.7 327.2h0.45M241.5 321.4h0.45M234.4 330.7h0.45M239.6 331.9h0.45M240.6 326.5h0.45M236.5 330.7h0.45M242.7 329.4h0.45M231.8 324.9h0.45M248.4 326.6h0.45M239.7 329.9h0.45M233.9 328.0h0.45M236.2 329.8h0.45M232.6 327.0h0.45M237.9 332.2h0.45M236.1 331.0h0.45M251.8 310.9h0.45M260.5 305.8h0.45M252.6 314.9h0.45M256.1 315.9h0.45M257.6 317.0h0.45M259.9 304.0h0.45M259.8 311.3h0.45M262.8 311.0h0.45M257.4 318.4h0.45M263.7 318.8h0.45M263.5 316.8h0.45M262.0 319.2h0.45M261.3 314.0h0.45M258.1 328.2h0.45M260.1 312.0h0.45M258.4 313.0h0.45M261.8 306.6h0.45M251.7 314.0h0.45M253.2 314.0h0.45M259.3 320.6h0.45M266.1 316.7h0.45M258.7 305.9h0.45M256.6 313.2h0.45M251.5 312.6h0.45M259.2 317.3h0.45M258.4 313.8h0.45M257.3 310.1h0.45M252.7 313.1h0.45M265.8 315.3h0.45M262.2 307.6h0.45M266.2 309.6h0.45M262.9 314.5h0.45M255.1 319.1h0.45M259.7 314.5h0.45M261.6 313.5h0.45M257.9 316.0h0.45M258.1 313.6h0.45M258.5 303.9h0.45M257.6 310.0h0.45M258.8 320.7h0.45M253.0 313.2h0.45M252.0 305.7h0.45M259.9 299.3h0.45M252.3 313.2h0.45M260.2 312.7h0.45M254.6 326.1h0.45M260.0 308.0h0.45M265.9 318.2h0.45M257.2 320.5h0.45M259.8 317.4h0.45M261.7 307.2h0.45M263.5 315.0h0.45M256.5 308.1h0.45M263.9 311.7h0.45M259.4 317.4h0.45M261.7 304.1h0.45M261.5 319.5h0.45M261.7 323.8h0.45M260.5 318.4h0.45M266.4 312.6h0.45M265.1 325.1h0.45M261.2 325.1h0.45M264.0 308.5h0.45M264.0 316.1h0.45M261.3 314.6h0.45M264.7 317.6h0.45M256.6 316.0h0.45M263.4 309.4h0.45M258.4 310.8h0.45M257.1 315.2h0.45M262.1 325.6h0.45M263.6 320.4h0.45M263.1 322.3h0.45M257.7 317.4h0.45M261.2 312.8h0.45M258.5 310.0h0.45M259.9 305.7h0.45M261.9 313.6h0.45M259.9 315.5h0.45M263.2 310.2h0.45M260.9 303.5h0.45M252.8 300.2h0.45M267.6 303.1h0.45M260.3 322.7h0.45M256.5 323.1h0.45M266.2 320.3h0.45M268.6 318.6h0.45M256.4 316.2h0.45M259.3 305.2h0.45M252.6 326.8h0.45M257.7 313.0h0.45M257.1 313.9h0.45M259.3 310.8h0.45M256.3 304.1h0.45M256.6 314.8h0.45M267.1 321.2h0.45M266.6 317.6h0.45M260.7 305.3h0.45M261.8 300.4h0.45M257.2 323.3h0.45M260.1 320.6h0.45M259.6 304.9h0.45M258.3 310.8h0.45M262.8 326.4h0.45M257.3 310.9h0.45M259.6 311.3h0.45M254.9 313.4h0.45M260.9 316.1h0.45M255.2 312.2h0.45M252.1 318.1h0.45M256.1 311.3h0.45M258.6 309.7h0.45M257.3 302.1h0.45M266.5 316.2h0.45M259.0 326.6h0.45M259.0 316.9h0.45M258.9 320.9h0.45M261.6 315.8h0.45M258.6 315.2h0.45M266.4 301.6h0.45M259.8 311.0h0.45M260.5 301.3h0.45M263.6 308.9h0.45M259.5 310.4h0.45M253.7 309.9h0.45M253.5 306.7h0.45M258.7 313.4h0.45M260.2 312.8h0.45M268.0 317.6h0.45M255.6 309.1h0.45M257.5 312.1h0.45M258.3 308.0h0.45M266.4 314.9h0.45M258.8 311.9h0.45M257.8 322.0h0.45M260.8 320.8h0.45M247.3 313.8h0.45M262.3 326.4h0.45M261.6 303.1h0.45M262.8 310.3h0.45M253.4 308.8h0.45M263.0 321.6h0.45M263.7 307.6h0.45M270.9 308.0h0.45M260.9 304.7h0.45M264.7 317.2h0.45M263.3 314.7h0.45M259.5 314.7h0.45M251.5 318.6h0.45M263.9 311.8h0.45M259.6 315.5h0.45M265.7 317.3h0.45M260.6 310.6h0.45M254.5 309.1h0.45M260.4 312.2h0.45M259.5 318.3h0.45M261.4 315.6h0.45M262.4 315.2h0.45M259.4 316.6h0.45M251.9 320.4h0.45M254.1 318.1h0.45M259.0 320.5h0.45M261.0 308.0h0.45M264.0 315.5h0.45M260.3 314.3h0.45M263.2 319.3h0.45M262.3 304.4h0.45M258.3 314.2h0.45M266.7 317.2h0.45M258.5 321.0h0.45M259.5 313.5h0.45M262.0 304.7h0.45M263.4 316.9h0.45M259.9 306.6h0.45M259.5 322.5h0.45M258.4 306.9h0.45M263.1 304.2h0.45M251.6 309.7h0.45M257.5 311.7h0.45M257.5 315.5h0.45M259.7 310.0h0.45M257.6 317.4h0.45M262.9 319.9h0.45M265.8 294.0h0.45M256.3 311.3h0.45M262.3 304.0h0.45M265.3 316.5h0.45M257.4 314.4h0.45M259.3 308.9h0.45M262.4 311.3h0.45M255.0 309.1h0.45M260.5 307.1h0.45M266.0 307.9h0.45M266.1 320.3h0.45M256.1 314.1h0.45M264.8 313.4h0.45M255.2 313.8h0.45M269.2 305.9h0.45M262.2 314.2h0.45M259.9 311.4h0.45M257.8 320.0h0.45M263.3 308.1h0.45M267.4 306.8h0.45M262.5 315.4h0.45M264.4 316.8h0.45M264.2 314.4h0.45M263.5 316.6h0.45M269.2 310.9h0.45M264.3 317.4h0.45M261.2 310.5h0.45M263.2 305.1h0.45M253.9 317.4h0.45M252.5 321.8h0.45M258.7 315.3h0.45M259.9 316.5h0.45M259.3 311.5h0.45M258.6 320.3h0.45M263.3 322.4h0.45M261.7 312.9h0.45M252.8 316.8h0.45M263.7 311.9h0.45M262.0 322.3h0.45M259.4 320.4h0.45M262.9 303.5h0.45M258.5 311.1h0.45M262.9 308.9h0.45M259.2 307.8h0.45M259.8 314.3h0.45M263.1 319.4h0.45M260.5 315.5h0.45M260.4 314.7h0.45M268.5 299.6h0.45M259.0 315.7h0.45M265.5 307.9h0.45M260.6 319.4h0.45M260.0 302.0h0.45M259.7 306.3h0.45M263.4 309.1h0.45M266.9 315.9h0.45M257.3 310.3h0.45M255.4 315.7h0.45M266.1 313.5h0.45M264.6 308.7h0.45M259.1 328.2h0.45M253.3 320.6h0.45M266.4 303.1h0.45M255.3 307.1h0.45M264.3 311.9h0.45M258.7 318.2h0.45M260.3 315.4h0.45M257.7 320.6h0.45M255.4 323.7h0.45M259.4 308.8h0.45M262.2 317.1h0.45M252.0 314.1h0.45M255.5 308.0h0.45M263.9 309.1h0.45M261.8 311.8h0.45M267.8 314.5h0.45M256.4 306.4h0.45M256.3 314.1h0.45M259.1 319.8h0.45M260.6 314.8h0.45M261.4 313.3h0.45M260.4 318.8h0.45M263.6 311.0h0.45M253.8 307.8h0.45M263.4 298.7h0.45M257.7 316.3h0.45M258.8 306.6h0.45M265.6 323.4h0.45M257.7 321.8h0.45M266.2 307.7h0.45M271.5 309.7h0.45M260.0 306.9h0.45M261.5 305.8h0.45M258.9 320.4h0.45M261.1 312.3h0.45M266.9 309.2h0.45M264.1 312.5h0.45M260.8 314.1h0.45M260.5 313.5h0.45M257.4 309.8h0.45M261.8 313.3h0.45M256.0 308.7h0.45M257.3 313.0h0.45M260.6 314.4h0.45M257.3 313.4h0.45M257.2 295.2h0.45M261.2 303.5h0.45M257.3 305.7h0.45M263.5 306.6h0.45M261.5 310.8h0.45M256.5 303.2h0.45M261.4 316.2h0.45M261.3 325.3h0.45M260.7 315.5h0.45M259.3 314.1h0.45M259.3 307.9h0.45M269.5 303.3h0.45M260.4 316.4h0.45M261.3 307.7h0.45M259.5 310.5h0.45M255.6 312.5h0.45M258.7 309.8h0.45M263.5 307.4h0.45M262.1 309.9h0.45M261.4 314.1h0.45M261.7 307.5h0.45M257.5 307.7h0.45M259.8 318.1h0.45M264.5 311.0h0.45M261.6 303.5h0.45M251.8 306.7h0.45M258.6 303.4h0.45M252.3 315.5h0.45M258.2 302.6h0.45M268.8 315.8h0.45M257.9 317.3h0.45M255.3 322.5h0.45M254.9 304.4h0.45M259.9 308.5h0.45M266.8 304.3h0.45M256.6 314.3h0.45M261.0 319.7h0.45M259.0 326.9h0.45M257.7 314.0h0.45M263.4 311.8h0.45M259.0 310.2h0.45M258.2 305.9h0.45M258.9 303.4h0.45M262.7 303.6h0.45M266.3 324.8h0.45M264.2 312.5h0.45M256.2 320.2h0.45M259.9 316.6h0.45M255.8 319.2h0.45M256.4 313.3h0.45M253.4 308.1h0.45M262.0 310.6h0.45M257.2 317.6h0.45M258.2 320.6h0.45M249.6 315.1h0.45M263.1 303.9h0.45M253.7 317.6h0.45M256.0 308.5h0.45M262.3 311.4h0.45M262.3 308.0h0.45M259.8 319.8h0.45M262.9 299.8h0.45M262.2 313.8h0.45M254.8 321.0h0.45M251.0 323.4h0.45M255.7 322.3h0.45M260.7 304.9h0.45M259.7 315.1h0.45M260.8 319.8h0.45M255.6 315.5h0.45M262.8 311.8h0.45M256.8 306.6h0.45M261.9 318.4h0.45M257.6 304.4h0.45M265.9 304.3h0.45M261.0 308.2h0.45M252.6 312.7h0.45M257.6 321.7h0.45M268.8 313.2h0.45M262.7 320.0h0.45M258.4 307.4h0.45M266.3 311.8h0.45M259.8 311.2h0.45M259.7 309.3h0.45M261.4 321.1h0.45M259.4 304.4h0.45M261.2 304.0h0.45M256.0 320.2h0.45M268.4 316.7h0.45M254.7 317.1h0.45M251.4 307.4h0.45M264.9 318.5h0.45M255.7 302.1h0.45M263.0 313.2h0.45M256.9 315.2h0.45M259.1 301.0h0.45M263.4 309.6h0.45M256.9 304.3h0.45M261.4 308.3h0.45M262.3 311.8h0.45M264.2 311.3h0.45M258.9 300.6h0.45M254.6 316.8h0.45M272.8 307.2h0.45M255.2 314.5h0.45M262.1 309.2h0.45M261.4 303.3h0.45M257.6 318.3h0.45M266.2 313.0h0.45M258.2 315.6h0.45M263.5 316.7h0.45M256.4 314.8h0.45M264.1 309.3h0.45M253.9 315.3h0.45M260.2 319.1h0.45M260.6 309.2h0.45M258.9 306.5h0.45M256.4 309.1h0.45M256.7 319.6h0.45M254.9 312.0h0.45M256.0 321.8h0.45M261.0 310.9h0.45M262.8 314.0h0.45M256.4 322.1h0.45M260.9 324.0h0.45M263.5 318.5h0.45M261.2 306.5h0.45M262.4 313.9h0.45M262.3 313.4h0.45M257.9 306.6h0.45M261.2 321.4h0.45M258.1 315.7h0.45M265.9 308.8h0.45M259.4 306.1h0.45M264.1 315.4h0.45M259.4 302.8h0.45M258.0 319.1h0.45M258.9 310.4h0.45M263.3 306.0h0.45M259.3 316.8h0.45M257.4 307.6h0.45M260.7 312.7h0.45M258.6 314.3h0.45M261.4 307.6h0.45M256.7 315.5h0.45M262.8 322.1h0.45M255.4 319.3h0.45M262.7 313.4h0.45M260.8 318.5h0.45M267.7 307.8h0.45M262.2 312.7h0.45M257.8 320.0h0.45M263.8 307.5h0.45M258.4 314.4h0.45M253.4 317.6h0.45M259.3 314.1h0.45M259.4 324.4h0.45M260.2 311.0h0.45M267.0 311.2h0.45M258.9 304.5h0.45M263.7 315.5h0.45M261.4 314.5h0.45M259.9 308.4h0.45M256.3 315.4h0.45M258.7 323.2h0.45M257.2 309.8h0.45M254.5 321.0h0.45M254.2 317.2h0.45M265.5 313.2h0.45M264.5 300.7h0.45M259.7 302.9h0.45M260.4 313.4h0.45M255.8 318.5h0.45M261.6 310.3h0.45M259.1 304.0h0.45M257.1 326.0h0.45M256.6 315.4h0.45M256.8 317.8h0.45M261.7 312.1h0.45M253.2 309.1h0.45M264.6 312.5h0.45M262.6 310.7h0.45M252.0 314.7h0.45M261.5 309.9h0.45M258.0 314.8h0.45M257.1 315.0h0.45M261.1 298.8h0.45M259.7 309.5h0.45M256.1 315.2h0.45M257.3 316.2h0.45M263.9 314.8h0.45M254.3 307.9h0.45M263.5 312.2h0.45M256.7 312.2h0.45M261.5 315.1h0.45M263.0 308.6h0.45M258.9 311.6h0.45M261.6 300.5h0.45M260.0 305.0h0.45M263.7 323.5h0.45M265.6 319.2h0.45M257.0 318.8h0.45M258.4 316.9h0.45M256.8 309.2h0.45M259.9 324.3h0.45M257.6 326.9h0.45M271.7 307.1h0.45M260.5 307.5h0.45M259.7 310.0h0.45M258.6 319.1h0.45M263.2 315.4h0.45M259.7 314.0h0.45M259.7 316.8h0.45M259.3 316.3h0.45M253.9 317.3h0.45M266.4 315.4h0.45M253.0 320.7h0.45M261.2 295.0h0.45M258.3 316.8h0.45M260.1 321.1h0.45M262.1 314.4h0.45M253.1 305.4h0.45M259.8 317.5h0.45M256.3 309.0h0.45M263.3 302.0h0.45M252.4 310.8h0.45M261.2 310.6h0.45M250.8 312.1h0.45M254.0 316.5h0.45M259.1 314.9h0.45M262.8 310.5h0.45M261.9 321.3h0.45M260.1 321.6h0.45M256.5 318.5h0.45M261.7 307.5h0.45M259.9 310.1h0.45M257.5 313.5h0.45M264.2 312.0h0.45M261.6 304.5h0.45M259.1 320.4h0.45M262.5 316.7h0.45M258.6 307.1h0.45M260.6 305.1h0.45M254.1 318.3h0.45M254.5 323.7h0.45M253.8 315.1h0.45M255.0 313.7h0.45M255.7 313.0h0.45M259.6 310.5h0.45M260.4 322.8h0.45M256.6 318.3h0.45M260.1 313.2h0.45M270.3 301.4h0.45M258.8 301.9h0.45M258.7 311.7h0.45M274.4 317.7h0.45M265.6 322.3h0.45M257.6 316.0h0.45M266.1 315.4h0.45M260.1 316.5h0.45M254.6 307.5h0.45M260.6 316.8h0.45M256.5 310.8h0.45M259.4 312.3h0.45M262.4 314.4h0.45M261.7 304.8h0.45M255.3 314.6h0.45M253.3 314.0h0.45M257.9 308.0h0.45M262.9 309.6h0.45M257.0 308.7h0.45M257.5 330.0h0.45M251.5 311.9h0.45M257.9 318.9h0.45M260.6 298.0h0.45M265.9 307.4h0.45M260.8 304.9h0.45M255.9 309.6h0.45M262.3 318.9h0.45M256.9 316.0h0.45M258.2 313.7h0.45M259.8 317.1h0.45M257.4 312.1h0.45M260.5 313.9h0.45M255.0 323.2h0.45M257.2 317.6h0.45M259.4 320.8h0.45M249.2 324.4h0.45M260.0 305.6h0.45M258.1 327.0h0.45M262.8 306.0h0.45M256.7 321.1h0.45M254.4 311.3h0.45M256.6 326.2h0.45M257.4 321.0h0.45M257.8 307.9h0.45M263.1 317.6h0.45M252.3 316.1h0.45M262.8 309.8h0.45M260.3 315.0h0.45M258.3 309.3h0.45M257.3 311.1h0.45M254.5 312.1h0.45M253.8 312.8h0.45M260.3 306.8h0.45M261.3 325.5h0.45M266.2 305.6h0.45M264.5 315.3h0.45M260.0 309.5h0.45M258.4 321.6h0.45M262.2 311.0h0.45M257.5 310.2h0.45M260.3 324.9h0.45M255.5 312.5h0.45M258.9 308.4h0.45M260.8 316.8h0.45M255.1 306.0h0.45M264.1 315.8h0.45M262.2 310.4h0.45M257.8 315.7h0.45M258.8 306.1h0.45M258.9 318.7h0.45M254.7 319.0h0.45M263.2 308.3h0.45M259.8 312.9h0.45M261.6 317.6h0.45M255.8 304.2h0.45M263.6 314.5h0.45M261.0 315.4h0.45M266.8 306.8h0.45M264.7 308.8h0.45M261.3 321.7h0.45M253.9 314.8h0.45M258.9 311.2h0.45M260.8 306.8h0.45M255.3 316.6h0.45M263.5 310.2h0.45M251.9 326.4h0.45M263.7 316.0h0.45M256.2 309.0h0.45M261.5 307.5h0.45M265.8 314.9h0.45M262.2 307.2h0.45M256.9 307.9h0.45M261.0 311.7h0.45M258.3 314.9h0.45M259.2 322.3h0.45M259.9 306.9h0.45M258.3 322.0h0.45M257.5 313.1h0.45M257.9 315.4h0.45M261.4 308.4h0.45M258.0 318.7h0.45M263.1 319.4h0.45M263.4 311.7h0.45M257.4 318.6h0.45M255.2 312.1h0.45M252.8 309.8h0.45M258.1 305.5h0.45M262.6 309.1h0.45M258.5 311.4h0.45M255.5 321.3h0.45M257.6 314.1h0.45M255.1 309.6h0.45M258.7 311.1h0.45M257.3 313.7h0.45M265.9 313.3h0.45M259.5 310.8h0.45M268.1 324.4h0.45M261.2 317.8h0.45M257.1 311.8h0.45M260.4 314.0h0.45M257.1 308.0h0.45M261.4 315.4h0.45M251.4 312.5h0.45M265.2 310.1h0.45M262.0 304.6h0.45M263.9 307.0h0.45M255.1 310.6h0.45M269.5 310.9h0.45M254.4 315.2h0.45M259.1 323.3h0.45M256.2 302.9h0.45M258.1 315.3h0.45M260.1 319.9h0.45M254.7 307.4h0.45M258.4 318.2h0.45M261.9 310.9h0.45M254.9 317.9h0.45M260.9 330.1h0.45M257.5 322.9h0.45M255.5 309.2h0.45M257.5 310.0h0.45M256.8 309.4h0.45M259.9 310.5h0.45M262.3 313.1h0.45M258.4 322.1h0.45M260.8 314.3h0.45M259.6 313.6h0.45M262.7 308.7h0.45M262.7 323.3h0.45M264.6 310.9h0.45M253.9 309.6h0.45M259.6 318.3h0.45M259.3 311.3h0.45M266.2 310.1h0.45M263.0 319.3h0.45M254.3 314.1h0.45M258.4 307.2h0.45M254.0 302.7h0.45M261.7 311.1h0.45M261.7 307.0h0.45M258.7 311.4h0.45M255.2 302.3h0.45M261.3 314.3h0.45M256.2 312.0h0.45M260.6 324.6h0.45M255.7 316.4h0.45M267.9 314.8h0.45M267.7 298.5h0.45M265.3 314.0h0.45M251.7 316.8h0.45M262.7 321.1h0.45M264.4 313.7h0.45M257.2 310.0h0.45M259.2 315.6h0.45M257.8 313.2h0.45M262.8 315.7h0.45M266.6 327.5h0.45M255.8 309.1h0.45M255.7 305.4h0.45M262.7 307.6h0.45M255.9 311.0h0.45M263.1 311.5h0.45M257.5 318.5h0.45M261.1 316.2h0.45M264.3 307.7h0.45M261.1 309.5h0.45M263.0 318.7h0.45M254.4 320.6h0.45M254.1 319.6h0.45M261.3 308.1h0.45M255.6 310.7h0.45M260.3 308.9h0.45M263.2 305.1h0.45M259.7 313.2h0.45M252.1 314.0h0.45M257.1 297.4h0.45M257.5 311.5h0.45M263.7 310.8h0.45M264.1 322.7h0.45M262.8 321.8h0.45M261.6 310.0h0.45M261.4 319.4h0.45M260.9 311.9h0.45M253.0 316.4h0.45M262.3 305.5h0.45M259.4 317.6h0.45M258.6 317.9h0.45M264.0 304.7h0.45M258.1 315.9h0.45M262.0 322.3h0.45M252.3 311.7h0.45M261.4 321.0h0.45M267.1 308.5h0.45M259.2 306.6h0.45M264.1 305.7h0.45M263.5 319.6h0.45M263.6 300.3h0.45M256.4 317.3h0.45M254.4 310.9h0.45M258.5 318.5h0.45M260.6 315.0h0.45M258.0 313.0h0.45M258.5 317.5h0.45M258.1 319.3h0.45M252.0 319.5h0.45M258.0 319.9h0.45M259.2 318.4h0.45M266.0 310.7h0.45M260.2 312.2h0.45M262.0 303.5h0.45M259.3 311.6h0.45M256.8 311.5h0.45M252.4 320.7h0.45M259.7 324.9h0.45M257.4 305.6h0.45M262.3 303.2h0.45M261.2 309.1h0.45M258.2 314.5h0.45M258.2 324.5h0.45M263.3 305.7h0.45M264.8 305.6h0.45M261.2 305.7h0.45M255.3 320.6h0.45M258.1 308.9h0.45M257.8 310.9h0.45M266.4 306.9h0.45M254.3 315.9h0.45M253.8 310.0h0.45M264.1 313.8h0.45M258.5 308.6h0.45M256.6 309.0h0.45M259.1 320.7h0.45M264.0 310.3h0.45M256.2 316.9h0.45M253.0 309.4h0.45M259.4 306.2h0.45M255.5 314.6h0.45M254.0 306.6h0.45M257.0 313.2h0.45M253.3 318.8h0.45M258.7 311.3h0.45M258.8 308.7h0.45M254.7 319.4h0.45M260.5 312.5h0.45M264.2 309.3h0.45M262.0 313.5h0.45M255.4 317.0h0.45M253.2 316.0h0.45M255.8 314.9h0.45M264.5 317.2h0.45M257.3 312.4h0.45M259.2 305.6h0.45M255.2 312.5h0.45M263.3 302.6h0.45M258.8 315.9h0.45M260.9 306.9h0.45M264.7 306.1h0.45M260.6 322.9h0.45M251.4 313.2h0.45M260.6 314.4h0.45M256.8 310.5h0.45M254.0 312.8h0.45M262.2 309.1h0.45M256.4 309.4h0.45M259.4 313.2h0.45M259.1 313.1h0.45M256.9 295.6h0.45M260.6 321.7h0.45M254.6 307.9h0.45M259.8 318.7h0.45M260.9 320.8h0.45M258.9 315.2h0.45M261.5 310.4h0.45M263.6 317.2h0.45M263.7 311.0h0.45M264.5 307.0h0.45M263.4 297.3h0.45M254.9 316.6h0.45M257.6 313.5h0.45M251.8 321.1h0.45M261.8 312.9h0.45M260.8 314.9h0.45M264.8 314.8h0.45M254.0 310.3h0.45M264.0 316.9h0.45M257.3 316.1h0.45M259.4 316.5h0.45M254.2 306.4h0.45M262.3 311.8h0.45M259.1 324.7h0.45M258.1 314.0h0.45M257.9 308.7h0.45M260.5 304.0h0.45M250.1 319.7h0.45M258.1 319.4h0.45M259.8 313.7h0.45M261.4 317.4h0.45M253.8 319.3h0.45M255.6 313.4h0.45M269.3 314.7h0.45M266.3 311.6h0.45M261.8 313.4h0.45M261.9 307.9h0.45M255.6 314.2h0.45M254.2 306.8h0.45M262.5 309.4h0.45M257.1 305.6h0.45M260.4 310.6h0.45M260.3 311.7h0.45M267.0 311.2h0.45M251.8 312.3h0.45M259.4 313.7h0.45M252.3 318.6h0.45M259.4 312.5h0.45M253.0 314.6h0.45M258.0 320.8h0.45M259.0 305.1h0.45M260.8 307.4h0.45M262.1 306.5h0.45M259.2 311.3h0.45M259.8 309.7h0.45M256.4 311.9h0.45M257.1 313.3h0.45M260.5 299.2h0.45M258.0 321.0h0.45M260.1 316.5h0.45M261.7 310.2h0.45M253.7 316.8h0.45M263.0 316.7h0.45M260.8 315.3h0.45M259.2 314.4h0.45M259.3 314.7h0.45M256.5 308.5h0.45M262.0 311.1h0.45M250.1 312.1h0.45M249.1 322.7h0.45M261.7 317.1h0.45M258.0 305.7h0.45M258.7 312.8h0.45M256.4 313.3h0.45M246.7 310.5h0.45M237.3 298.9h0.45M243.0 305.3h0.45M244.8 314.3h0.45M252.5 309.9h0.45M248.8 314.7h0.45M242.9 308.9h0.45M247.9 308.2h0.45M240.1 304.6h0.45M243.1 305.4h0.45M247.7 307.0h0.45M251.1 313.3h0.45M235.0 311.2h0.45M239.9 312.8h0.45M245.9 308.0h0.45M247.1 306.1h0.45M244.7 309.5h0.45M241.8 309.2h0.45M236.7 309.4h0.45M235.4 309.5h0.45M245.4 310.8h0.45M238.4 319.1h0.45M241.5 308.3h0.45M237.9 312.9h0.45M239.7 311.4h0.45M237.2 308.5h0.45M240.4 311.2h0.45M241.5 304.5h0.45M246.1 303.7h0.45M237.0 310.3h0.45M231.5 309.7h0.45M240.9 304.3h0.45M244.2 310.5h0.45M239.6 307.0h0.45M247.5 311.3h0.45M243.0 305.1h0.45M237.6 305.2h0.45M246.9 310.6h0.45M244.3 313.4h0.45M241.4 306.4h0.45M240.1 315.0h0.45M230.8 307.9h0.45M245.7 308.5h0.45M256.5 313.8h0.45M248.0 305.1h0.45M246.2 307.0h0.45M243.3 308.8h0.45M240.1 310.2h0.45M252.4 312.9h0.45M245.2 301.0h0.45M249.2 312.8h0.45M242.2 306.2h0.45M247.4 305.5h0.45M248.3 304.5h0.45M237.8 307.6h0.45M234.6 307.3h0.45M246.8 303.5h0.45M248.9 306.6h0.45M246.4 309.3h0.45M240.7 305.9h0.45M233.4 304.5h0.45M238.1 313.8h0.45M249.8 303.6h0.45M247.9 309.5h0.45M240.8 309.7h0.45M248.1 306.5h0.45M241.6 308.6h0.45M237.4 308.3h0.45M243.0 305.6h0.45M238.2 308.8h0.45M248.3 309.9h0.45M238.0 310.5h0.45M244.1 310.5h0.45M250.4 305.5h0.45M242.7 305.9h0.45M237.4 315.1h0.45M249.5 302.2h0.45M246.0 306.4h0.45M250.0 309.2h0.45M242.2 308.6h0.45M245.5 308.5h0.45M242.1 307.5h0.45M246.7 304.3h0.45M243.3 307.7h0.45M240.2 310.6h0.45M235.9 306.1h0.45M238.1 309.7h0.45M240.5 308.1h0.45M246.1 302.5h0.45M246.2 305.7h0.45M241.8 307.6h0.45M247.8 311.4h0.45M253.6 309.9h0.45M240.7 306.0h0.45M246.5 314.5h0.45M245.5 306.3h0.45M244.8 309.3h0.45M243.8 305.5h0.45M228.6 304.7h0.45M249.4 309.6h0.45M230.4 306.9h0.45M231.7 314.5h0.45M244.9 303.8h0.45M248.3 305.8h0.45M246.6 308.6h0.45M236.1 310.0h0.45M235.0 312.4h0.45M244.0 304.4h0.45M232.1 313.1h0.45M252.3 304.4h0.45M252.9 309.8h0.45M242.0 307.7h0.45M241.2 313.4h0.45M244.9 301.4h0.45M255.2 312.7h0.45M237.1 306.2h0.45M238.0 307.8h0.45M245.5 309.3h0.45M240.1 304.9h0.45M248.3 308.3h0.45M256.8 306.5h0.45M247.9 308.8h0.45M238.3 312.8h0.45M244.4 305.0h0.45M241.1 311.8h0.45M235.6 312.6h0.45M247.4 307.6h0.45M250.6 315.5h0.45M246.7 309.2h0.45M253.6 314.8h0.45M237.9 306.9h0.45M242.2 306.5h0.45M234.2 310.7h0.45M243.8 308.6h0.45M251.8 306.9h0.45M242.9 309.2h0.45M240.8 307.5h0.45M247.8 308.6h0.45M251.4 306.2h0.45M245.0 303.0h0.45M242.9 305.5h0.45M251.0 311.8h0.45M245.6 315.4h0.45M251.5 311.7h0.45M239.8 302.4h0.45M243.3 306.9h0.45M239.6 306.7h0.45M233.0 312.8h0.45M236.8 305.0h0.45M247.3 302.4h0.45M248.4 312.3h0.45M241.9 304.0h0.45M241.2 301.0h0.45M251.5 309.2h0.45M239.3 304.4h0.45M246.1 314.2h0.45M236.0 305.3h0.45M232.6 309.7h0.45M243.4 316.8h0.45M242.7 306.5h0.45M238.8 311.0h0.45M233.4 310.1h0.45M245.0 306.4h0.45M237.5 311.6h0.45M254.5 307.6h0.45M245.8 315.1h0.45M239.7 306.9h0.45M236.1 306.9h0.45M243.0 306.6h0.45M239.5 301.8h0.45M235.7 303.7h0.45M247.3 306.7h0.45M238.0 310.2h0.45M246.9 305.7h0.45M239.3 310.3h0.45M245.8 305.3h0.45M244.7 308.2h0.45M250.3 305.6h0.45M248.4 310.4h0.45M236.9 311.6h0.45M249.2 303.7h0.45M255.6 305.0h0.45M237.9 306.4h0.45M247.7 310.9h0.45M242.2 313.3h0.45M245.2 313.7h0.45M260.1 310.6h0.45M228.0 304.9h0.45M236.8 307.9h0.45M244.4 303.6h0.45M236.5 306.5h0.45M243.1 298.1h0.45M249.1 308.9h0.45M243.1 309.3h0.45M237.1 307.4h0.45M249.2 313.0h0.45M246.2 307.4h0.45M237.8 312.8h0.45M246.6 306.9h0.45M230.5 303.5h0.45M231.1 311.8h0.45M244.7 305.4h0.45M240.6 318.1h0.45M251.2 303.7h0.45M243.0 303.3h0.45M232.7 307.8h0.45M257.5 315.8h0.45M243.7 306.8h0.45M244.1 312.4h0.45M235.1 300.0h0.45M254.8 310.5h0.45M253.1 310.1h0.45M252.6 306.7h0.45M245.8 314.6h0.45M249.8 307.0h0.45M249.1 306.1h0.45M234.3 309.4h0.45M251.6 312.4h0.45M235.2 310.8h0.45M247.7 306.8h0.45M227.5 310.7h0.45M248.6 310.7h0.45M233.1 301.2h0.45M249.3 312.0h0.45M246.5 307.5h0.45M246.0 306.3h0.45M241.7 304.6h0.45M245.1 306.7h0.45M248.9 311.6h0.45M237.5 315.0h0.45M236.1 309.3h0.45M249.5 314.0h0.45M229.1 310.8h0.45M250.3 314.7h0.45M229.7 304.1h0.45M242.9 306.4h0.45M252.0 306.3h0.45M250.8 311.2h0.45M234.6 303.3h0.45M240.3 308.3h0.45M249.6 308.1h0.45M249.6 302.5h0.45M224.3 304.9h0.45M246.3 307.1h0.45M236.8 309.2h0.45M255.5 309.0h0.45M239.1 304.4h0.45M255.6 309.3h0.45M246.7 313.4h0.45M250.4 305.2h0.45M249.0 312.2h0.45M246.0 312.5h0.45M239.8 307.6h0.45M239.7 310.9h0.45M239.0 309.4h0.45M236.5 307.0h0.45M241.1 307.5h0.45M244.2 307.6h0.45M242.8 299.8h0.45M250.5 306.4h0.45M242.1 304.8h0.45M249.9 305.2h0.45M246.0 313.2h0.45M253.1 314.0h0.45M247.7 303.8h0.45M250.9 313.7h0.45M248.2 311.9h0.45M244.0 306.2h0.45M249.6 314.0h0.45M236.5 311.2h0.45M244.5 311.9h0.45M244.6 312.8h0.45M249.4 312.4h0.45M234.4 310.7h0.45M244.1 303.8h0.45M248.3 303.3h0.45M248.3 315.5h0.45M239.9 311.6h0.45M246.0 311.1h0.45M234.7 309.9h0.45M244.0 311.3h0.45M243.0 312.6h0.45M244.9 311.2h0.45M251.9 309.9h0.45M249.5 309.8h0.45M246.9 306.6h0.45M247.8 313.6h0.45M242.6 311.4h0.45M246.6 304.3h0.45M245.1 313.7h0.45M241.2 301.0h0.45M245.0 305.9h0.45M255.2 309.4h0.45M243.7 305.9h0.45M245.3 306.3h0.45M238.0 307.6h0.45M238.0 313.0h0.45M236.3 307.4h0.45M239.8 302.5h0.45M254.6 301.2h0.45M253.0 303.7h0.45M243.2 317.3h0.45M231.0 301.7h0.45M251.5 309.8h0.45M240.2 307.9h0.45M237.5 308.2h0.45M252.8 307.8h0.45M243.9 313.1h0.45M256.0 307.3h0.45M245.6 306.4h0.45M239.7 306.4h0.45M240.3 301.2h0.45M231.6 304.3h0.45M243.8 313.2h0.45M240.3 307.4h0.45M247.3 311.7h0.45M242.8 308.1h0.45M255.1 308.2h0.45M241.1 301.7h0.45M246.3 307.6h0.45M255.4 308.2h0.45M248.1 312.5h0.45M254.1 304.3h0.45M253.1 309.4h0.45M243.0 307.1h0.45M241.2 306.8h0.45M229.0 308.9h0.45M244.3 304.7h0.45M242.2 317.3h0.45M246.0 307.1h0.45M254.3 306.3h0.45M242.8 306.1h0.45M241.8 311.1h0.45M247.3 305.9h0.45M242.7 308.6h0.45M241.0 308.0h0.45M239.4 305.1h0.45M244.2 304.4h0.45M246.1 307.9h0.45M238.1 305.4h0.45M240.6 307.4h0.45M244.3 307.6h0.45M237.6 313.4h0.45M249.0 309.3h0.45M249.2 310.2h0.45M241.9 308.5h0.45M259.3 313.8h0.45M250.0 307.5h0.45M246.3 317.4h0.45M245.7 312.7h0.45M250.9 311.6h0.45M253.0 310.2h0.45M246.7 306.2h0.45M259.4 311.1h0.45M243.6 313.8h0.45M240.5 308.0h0.45M238.7 307.9h0.45M240.9 310.2h0.45M242.9 305.9h0.45M241.7 307.7h0.45M240.0 311.6h0.45M247.5 309.3h0.45M236.0 309.6h0.45M235.6 308.3h0.45M244.0 306.1h0.45M238.7 305.1h0.45M256.0 308.6h0.45M241.8 311.9h0.45M245.6 312.6h0.45M236.4 303.4h0.45M263.6 310.2h0.45M241.6 308.8h0.45M249.9 304.4h0.45M245.2 308.4h0.45M247.5 309.4h0.45M240.6 304.7h0.45M228.4 310.6h0.45M234.7 305.9h0.45M253.7 307.7h0.45M247.2 307.9h0.45M247.7 308.9h0.45M239.9 313.2h0.45M242.4 303.0h0.45M241.3 310.2h0.45M236.4 310.7h0.45M247.3 316.9h0.45M239.3 310.5h0.45M233.5 305.7h0.45M243.9 309.9h0.45M243.2 307.9h0.45M239.9 306.2h0.45M245.1 310.6h0.45M246.9 312.5h0.45M251.3 302.1h0.45M240.4 307.4h0.45M239.2 311.9h0.45M248.0 308.4h0.45M243.7 313.2h0.45M241.5 306.9h0.45M248.7 310.7h0.45M251.8 310.6h0.45M248.2 306.7h0.45M237.8 307.7h0.45M227.4 308.3h0.45M249.3 309.2h0.45M241.7 312.3h0.45M242.8 312.0h0.45M256.3 312.4h0.45M248.9 310.8h0.45M244.9 309.5h0.45M243.4 312.5h0.45M233.9 306.3h0.45M247.7 305.5h0.45M243.1 305.6h0.45M245.8 311.9h0.45M252.0 311.1h0.45M239.1 308.8h0.45M246.3 314.0h0.45M230.5 308.4h0.45M232.2 309.9h0.45M245.9 310.5h0.45M248.6 310.3h0.45M239.4 309.3h0.45M250.7 308.6h0.45M244.1 303.7h0.45M250.6 307.1h0.45M239.2 306.2h0.45M238.4 306.8h0.45M250.8 312.1h0.45M251.4 314.8h0.45M237.9 309.6h0.45M251.6 317.9h0.45M235.5 302.1h0.45M246.4 307.3h0.45M237.4 309.2h0.45M239.6 299.2h0.45M243.3 308.8h0.45M246.9 312.3h0.45M244.6 307.5h0.45M240.1 301.7h0.45M240.4 311.8h0.45M246.6 316.5h0.45M243.2 301.4h0.45M248.0 312.7h0.45M237.1 301.5h0.45M244.1 311.1h0.45M236.9 306.3h0.45M239.2 303.3h0.45M235.5 308.0h0.45M241.4 305.5h0.45M227.1 313.4h0.45M237.8 307.2h0.45M236.5 309.0h0.45M234.3 307.7h0.45M241.9 311.7h0.45M237.1 305.1h0.45M241.2 316.1h0.45M234.5 308.5h0.45M239.3 309.1h0.45M247.2 309.2h0.45M244.8 309.5h0.45M239.9 307.1h0.45M233.6 305.9h0.45M238.9 306.8h0.45M247.6 310.1h0.45M245.8 312.7h0.45M228.9 308.4h0.45M243.2 307.9h0.45M235.3 309.5h0.45M249.8 312.8h0.45M247.6 324.6h0.45M252.4 330.2h0.45M253.9 322.2h0.45M248.5 322.3h0.45M249.1 319.2h0.45M251.7 318.2h0.45M244.2 323.2h0.45M245.3 320.4h0.45M238.1 325.3h0.45M248.0 320.9h0.45M250.2 322.5h0.45M244.7 331.1h0.45M245.9 326.2h0.45M256.7 318.6h0.45M248.5 317.6h0.45M253.0 319.9h0.45M242.8 327.8h0.45M252.4 317.3h0.45M253.7 322.4h0.45M261.0 329.7h0.45M245.4 320.2h0.45M243.8 322.1h0.45M248.2 325.0h0.45M248.4 314.5h0.45M244.1 328.3h0.45M253.5 320.7h0.45M247.4 320.7h0.45M248.1 313.5h0.45M252.3 318.4h0.45M248.7 309.4h0.45M249.1 327.9h0.45M237.3 328.8h0.45M250.3 318.0h0.45M240.4 327.1h0.45M249.2 324.3h0.45M246.7 317.7h0.45M252.2 316.9h0.45M252.3 313.5h0.45M243.6 314.6h0.45M254.3 313.1h0.45M242.6 324.7h0.45M249.1 332.0h0.45M256.8 324.4h0.45M251.3 312.8h0.45M243.8 319.9h0.45M247.2 314.9h0.45M243.5 317.4h0.45M253.1 323.5h0.45M246.4 320.2h0.45M249.4 318.2h0.45M246.7 313.3h0.45M251.2 326.1h0.45M249.7 323.8h0.45M249.7 331.3h0.45M249.0 315.2h0.45M243.0 324.9h0.45M253.1 325.2h0.45M252.0 322.4h0.45M240.9 318.1h0.45M239.3 319.6h0.45M241.5 322.0h0.45M247.2 312.2h0.45M251.5 325.1h0.45M241.3 322.2h0.45M251.4 320.1h0.45M252.1 322.4h0.45M253.1 322.4h0.45M247.2 323.9h0.45M251.7 322.7h0.45M245.8 317.7h0.45M246.2 318.7h0.45M248.9 322.3h0.45M247.5 321.4h0.45M248.8 329.0h0.45M253.7 318.7h0.45M250.0 319.9h0.45M247.5 320.3h0.45M244.9 314.9h0.45M236.1 322.4h0.45M253.6 317.1h0.45M250.4 319.6h0.45M249.3 317.5h0.45M246.8 320.9h0.45M236.5 322.5h0.45M247.2 309.4h0.45M251.0 321.2h0.45M248.9 323.1h0.45M245.9 316.2h0.45M245.7 319.3h0.45M258.6 330.3h0.45M245.5 319.4h0.45M249.4 324.1h0.45M244.5 316.5h0.45M257.2 326.5h0.45M240.4 312.8h0.45M243.9 322.4h0.45M250.5 319.7h0.45M240.0 322.4h0.45M250.8 321.4h0.45M245.5 324.1h0.45M247.6 315.9h0.45M248.3 315.1h0.45M252.5 323.6h0.45M243.0 322.4h0.45M253.9 310.9h0.45M247.2 329.4h0.45M240.3 320.5h0.45M240.9 321.0h0.45M236.2 313.4h0.45M245.2 322.0h0.45M249.7 323.4h0.45M253.5 324.8h0.45M251.5 316.6h0.45M247.1 336.9h0.45M258.9 325.4h0.45M251.5 326.2h0.45M245.9 330.9h0.45M246.0 320.9h0.45M258.5 311.2h0.45M249.6 312.9h0.45M244.6 320.9h0.45M246.1 322.2h0.45M244.1 320.8h0.45M242.0 319.4h0.45M241.0 324.6h0.45M241.5 324.8h0.45M245.8 319.9h0.45M253.7 321.9h0.45M238.5 323.8h0.45M233.6 322.7h0.45M245.9 314.4h0.45M248.2 319.8h0.45M257.8 319.2h0.45M257.4 328.2h0.45M244.8 317.3h0.45M254.4 320.7h0.45M248.6 320.1h0.45M241.9 319.5h0.45M243.1 313.8h0.45M246.4 330.2h0.45M255.9 321.0h0.45M248.5 323.9h0.45M254.6 322.9h0.45M245.5 319.4h0.45M253.5 334.3h0.45M244.7 311.2h0.45M251.9 321.0h0.45M248.5 327.5h0.45M248.2 314.8h0.45M238.1 321.1h0.45M253.1 339.2h0.45M255.7 334.9h0.45M235.0 315.6h0.45M247.6 325.2h0.45M252.2 320.1h0.45M239.2 342.2h0.45M226.0 324.0h0.45M269.6 301.6h0.45M262.7 323.2h0.45M241.5 298.9h0.45M249.5 304.4h0.45M252.4 321.1h0.45M270.0 319.7h0.45M250.8 301.2h0.45M258.7 314.0h0.45M262.6 311.5h0.45M228.8 311.5h0.45M251.9 318.8h0.45M268.6 299.6h0.45M263.6 299.5h0.45M268.3 309.0h0.45M231.8 331.7h0.45M261.3 342.0h0.45M237.4 333.5h0.45" stroke="#000" stroke-width="0.45" fill="none"/>
<polygon points="228.3,301.3 256.6,302 245.5,318.5 228.3,317.9" fill="none" stroke="#333" stroke-width="0.5"/>
<polygon points="256.6,302 268.7,303.1 268.7,328.9 245.5,328.1 245.5,318.5" fill="none" stroke="#333" stroke-width="0.5"/>
<line x1="256.6" y1="302" x2="245.5" y2="318.5" stroke="#222" stroke-width="0.9"/>
<text x="228.2" y="297.6" font-size="3.6" text-anchor="start" fill="#222" stroke="#222" stroke-width="0.05">13.4%</text>
<text x="252.8" y="337.6" font-size="3.6" text-anchor="start" fill="#222" stroke="#222" stroke-width="0.05">31.5%</text>
<rect x="291.7" y="292.7" width="56" height="55.6" fill="none" stroke="#8a8a8a" stroke-width="0.5" stroke-dasharray="0.7 0.4"/>
<text x="288.7" y="304.9" font-size="3.9" text-anchor="end" fill="#3a3a3a" stroke="#3a3a3a" stroke-width="0">10<tspan font-size="2.6" dy="-1.5">5</tspan></text>
<line x1="290.8" y1="303.6" x2="292" y2="303.6" stroke="#222" stroke-width="0.5"/>
<text x="288.7" y="318.8" font-size="3.9" text-anchor="end" fill="#3a3a3a" stroke="#3a3a3a" stroke-width="0">10<tspan font-size="2.6" dy="-1.5">4</tspan></text>
<line x1="290.8" y1="317.5" x2="292" y2="317.5" stroke="#222" stroke-width="0.5"/>
<text x="288.7" y="333" font-size="3.9" text-anchor="end" fill="#3a3a3a" stroke="#3a3a3a" stroke-width="0">0</text>
<line x1="290.8" y1="331.7" x2="292" y2="331.7" stroke="#222" stroke-width="0.5"/>
<text x="288.7" y="346.7" font-size="3.9" text-anchor="end" fill="#3a3a3a" stroke="#3a3a3a" stroke-width="0">-10<tspan font-size="2.6" dy="-1.5">3</tspan></text>
<line x1="290.8" y1="345.4" x2="292" y2="345.4" stroke="#222" stroke-width="0.5"/>
<text x="296.2" y="357" font-size="3.9" text-anchor="middle" fill="#3a3a3a" stroke="#3a3a3a" stroke-width="0">-10<tspan font-size="2.6" dy="-1.5">3</tspan></text>
<line x1="296.2" y1="348" x2="296.2" y2="349.2" stroke="#222" stroke-width="0.5"/>
<text x="307.5" y="357" font-size="3.9" text-anchor="middle" fill="#3a3a3a" stroke="#3a3a3a" stroke-width="0">0</text>
<line x1="307.5" y1="348" x2="307.5" y2="349.2" stroke="#222" stroke-width="0.5"/>
<text x="319.2" y="357" font-size="3.9" text-anchor="middle" fill="#3a3a3a" stroke="#3a3a3a" stroke-width="0">10<tspan font-size="2.6" dy="-1.5">3</tspan></text>
<line x1="319.2" y1="348" x2="319.2" y2="349.2" stroke="#222" stroke-width="0.5"/>
<text x="338.7" y="357" font-size="3.9" text-anchor="middle" fill="#3a3a3a" stroke="#3a3a3a" stroke-width="0">10<tspan font-size="2.6" dy="-1.5">5</tspan></text>
<line x1="338.7" y1="348" x2="338.7" y2="349.2" stroke="#222" stroke-width="0.5"/>
<line x1="291.7" y1="348.8" x2="347.7" y2="348.8" stroke="#333" stroke-width="0.8" stroke-dasharray="0.5 2.1"/>
<line x1="291.2" y1="292.7" x2="291.2" y2="348.3" stroke="#333" stroke-width="0.8" stroke-dasharray="0.5 2.1"/>
<line x1="306.2" y1="348.7" x2="308.8" y2="348.7" stroke="#000" stroke-width="1.0"/>
<line x1="291.2" y1="330.4" x2="291.2" y2="333" stroke="#000" stroke-width="1.0"/>
<ellipse cx="307.6" cy="332.6" rx="5" ry="3" transform="rotate(-16 307.6 332.6)" fill="#000" fill-opacity="1.0" filter="url(#b2)"/>
<ellipse cx="311.5" cy="330.4" rx="2.6" ry="1.8" transform="rotate(-35 311.5 330.4)" fill="#000" fill-opacity="0.7" filter="url(#b2)"/>
<ellipse cx="332.7" cy="313.2" rx="4" ry="6.2" transform="rotate(12 332.7 313.2)" fill="#000" fill-opacity="0.45" filter="url(#b3)"/>
<ellipse cx="315.9" cy="308" rx="7.5" ry="4.2" transform="rotate(5 315.9 308)" fill="#000" fill-opacity="0.16" filter="url(#b3)"/>
<path d="M310.5 329.0h0.45M312.4 332.8h0.45M301.3 335.4h0.45M310.7 328.7h0.45M308.3 335.0h0.45M305.7 329.8h0.45M304.2 330.2h0.45M307.6 327.1h0.45M309.1 326.6h0.45M306.3 328.6h0.45M308.4 335.1h0.45M313.3 333.3h0.45M307.9 332.6h0.45M309.6 333.2h0.45M308.2 335.5h0.45M310.6 334.3h0.45M310.5 333.0h0.45M305.2 332.5h0.45M303.6 333.7h0.45M308.6 334.5h0.45M308.3 342.0h0.45M309.3 335.4h0.45M308.1 324.4h0.45M309.2 336.1h0.45M301.4 338.2h0.45M304.6 332.7h0.45M306.4 327.4h0.45M307.9 330.3h0.45M306.6 335.1h0.45M319.6 326.9h0.45M309.8 331.1h0.45M306.1 334.0h0.45M313.1 330.0h0.45M310.6 330.1h0.45M313.9 323.9h0.45M310.6 332.5h0.45M307.5 329.1h0.45M304.2 333.6h0.45M306.8 329.1h0.45M305.4 335.3h0.45M310.6 329.1h0.45M304.9 331.7h0.45M316.5 329.1h0.45M309.1 334.7h0.45M316.8 331.0h0.45M303.4 334.4h0.45M306.3 332.1h0.45M303.7 333.3h0.45M305.0 334.9h0.45M306.3 328.7h0.45M302.0 334.0h0.45M310.7 332.2h0.45M303.5 324.4h0.45M305.5 331.3h0.45M305.4 329.9h0.45M305.8 331.3h0.45M317.5 329.1h0.45M307.3 332.4h0.45M307.9 332.8h0.45M306.7 332.8h0.45M312.4 332.4h0.45M310.7 334.8h0.45M307.5 329.5h0.45M301.6 333.5h0.45M308.3 333.2h0.45M310.7 328.9h0.45M306.5 335.4h0.45M311.1 329.0h0.45M310.9 334.9h0.45M309.0 331.5h0.45M303.2 338.9h0.45M310.2 331.4h0.45M304.9 330.0h0.45M307.6 332.1h0.45M309.9 327.4h0.45M312.6 329.8h0.45M310.5 327.8h0.45M310.7 334.5h0.45M306.5 328.5h0.45M307.7 334.0h0.45M301.7 331.2h0.45M307.5 329.5h0.45M308.7 328.2h0.45M301.2 333.5h0.45M311.6 327.5h0.45M308.3 332.8h0.45M306.4 336.4h0.45M309.2 332.9h0.45M300.4 330.9h0.45M299.1 336.5h0.45M308.2 334.3h0.45M312.4 329.0h0.45M307.8 333.7h0.45M311.8 327.6h0.45M309.7 330.5h0.45M308.0 334.7h0.45M304.1 331.0h0.45M310.1 331.0h0.45M307.0 332.3h0.45M309.1 330.4h0.45M311.0 331.8h0.45M314.4 332.6h0.45M310.5 330.2h0.45M307.6 330.6h0.45M316.8 326.7h0.45M311.6 334.4h0.45M302.7 332.6h0.45M305.5 330.5h0.45M303.4 333.1h0.45M313.1 331.7h0.45M308.2 332.2h0.45M303.7 336.7h0.45M308.0 328.9h0.45M308.5 331.4h0.45M305.1 330.7h0.45M304.7 331.1h0.45M310.0 332.2h0.45M308.8 331.2h0.45M309.4 337.7h0.45M303.7 338.2h0.45M309.3 331.7h0.45M306.2 332.5h0.45M302.5 330.9h0.45M305.6 328.4h0.45M312.2 333.4h0.45M295.2 334.4h0.45M309.2 332.2h0.45M309.0 333.0h0.45M311.6 332.9h0.45M313.8 329.2h0.45M308.7 326.8h0.45M306.1 329.5h0.45M315.5 335.3h0.45M308.1 328.2h0.45M307.8 332.4h0.45M310.1 334.4h0.45M307.7 324.3h0.45M311.8 328.6h0.45M308.2 336.5h0.45M305.5 329.4h0.45M304.0 334.6h0.45M312.9 334.2h0.45M306.9 331.4h0.45M312.6 328.3h0.45M313.0 330.2h0.45M308.5 331.2h0.45M308.4 330.6h0.45M305.8 333.0h0.45M306.4 334.0h0.45M308.0 331.4h0.45M307.2 332.0h0.45M313.6 329.2h0.45M305.8 332.5h0.45M309.9 330.6h0.45M307.3 331.8h0.45M309.1 332.8h0.45M307.4 327.5h0.45M301.3 327.8h0.45M312.1 333.4h0.45M312.4 330.3h0.45M311.7 330.1h0.45M305.7 328.7h0.45M304.9 332.1h0.45M313.1 334.5h0.45M307.1 333.9h0.45M308.0 329.9h0.45M301.7 333.4h0.45M303.1 333.9h0.45M307.4 332.0h0.45M308.2 333.6h0.45M306.3 335.9h0.45M302.9 335.2h0.45M308.3 329.6h0.45M303.9 336.4h0.45M307.0 335.2h0.45M310.5 330.8h0.45M309.4 334.5h0.45M308.1 329.3h0.45M309.3 333.2h0.45M309.0 332.3h0.45M307.5 332.2h0.45M303.3 330.4h0.45M310.8 328.7h0.45M306.8 328.3h0.45M307.5 330.0h0.45M316.1 324.7h0.45M306.3 336.1h0.45M308.9 325.3h0.45M310.0 333.8h0.45M305.1 335.9h0.45M305.1 330.7h0.45M306.4 331.7h0.45M306.6 339.8h0.45M305.7 331.2h0.45M310.7 330.5h0.45M311.9 329.3h0.45M309.3 331.8h0.45M308.3 331.4h0.45M309.9 336.3h0.45M305.2 332.1h0.45M307.7 334.1h0.45M310.5 333.7h0.45M304.2 335.1h0.45M307.2 331.8h0.45M306.1 327.3h0.45M309.1 332.1h0.45M303.5 334.4h0.45M312.4 328.6h0.45M309.6 330.6h0.45M304.3 331.4h0.45M308.5 335.9h0.45M309.7 329.1h0.45M311.0 330.2h0.45M306.5 334.4h0.45M303.2 330.1h0.45M309.8 325.7h0.45M307.8 327.7h0.45M307.7 331.8h0.45M303.9 327.8h0.45M307.7 332.3h0.45M305.2 333.6h0.45M310.3 328.8h0.45M307.4 329.1h0.45M310.1 333.0h0.45M317.0 330.1h0.45M311.2 334.7h0.45M306.4 336.4h0.45M305.6 331.7h0.45M311.8 330.9h0.45M310.4 326.5h0.45M308.3 330.5h0.45M304.8 328.2h0.45M311.3 331.1h0.45M303.3 330.7h0.45M307.2 336.9h0.45M307.4 331.6h0.45M309.7 331.4h0.45M309.8 333.5h0.45M310.3 333.7h0.45M304.5 334.4h0.45M307.2 333.0h0.45M307.2 330.8h0.45M308.3 335.0h0.45M304.9 330.2h0.45M311.2 333.4h0.45M307.5 332.9h0.45M305.3 333.1h0.45M312.6 332.2h0.45M308.3 331.3h0.45M303.5 335.7h0.45M310.9 333.9h0.45M314.9 329.7h0.45M309.7 328.0h0.45M313.0 332.2h0.45M313.3 331.5h0.45M311.5 334.9h0.45M307.0 334.8h0.45M310.6 328.6h0.45M305.2 335.2h0.45M309.4 333.4h0.45M309.2 329.3h0.45M310.7 334.2h0.45M306.8 332.1h0.45M305.8 336.0h0.45M312.5 325.8h0.45M311.7 333.0h0.45M306.1 332.3h0.45M304.0 332.2h0.45M309.6 333.4h0.45M309.7 334.0h0.45M307.4 329.2h0.45M314.2 332.5h0.45M308.3 337.5h0.45M309.9 331.7h0.45M311.0 323.2h0.45M304.2 336.6h0.45M306.3 330.4h0.45M313.6 330.8h0.45M303.5 332.8h0.45M313.2 334.9h0.45M302.5 336.2h0.45M304.9 328.8h0.45M305.8 328.8h0.45M308.7 336.9h0.45M310.9 333.2h0.45M310.6 332.0h0.45M309.9 327.9h0.45M308.3 334.8h0.45M305.5 332.4h0.45M314.0 333.7h0.45M305.5 331.4h0.45M310.5 331.9h0.45M307.0 334.7h0.45M310.2 331.5h0.45M319.1 330.4h0.45M312.2 333.2h0.45M318.9 329.8h0.45M306.6 334.2h0.45M307.9 330.8h0.45M309.5 332.4h0.45M310.0 328.3h0.45M311.2 322.8h0.45M314.4 327.5h0.45M307.5 322.0h0.45M314.2 320.1h0.45M309.1 333.8h0.45M308.0 330.0h0.45M301.6 334.3h0.45M313.3 331.0h0.45M310.5 331.0h0.45M311.5 326.5h0.45M312.2 337.3h0.45M310.3 335.5h0.45M314.4 333.7h0.45M309.7 332.8h0.45M312.0 328.1h0.45M310.8 326.6h0.45M310.1 328.7h0.45M313.9 327.3h0.45M305.0 332.2h0.45M309.0 327.2h0.45M317.1 327.3h0.45M312.9 325.1h0.45M311.6 333.6h0.45M306.3 334.5h0.45M310.5 327.9h0.45M309.4 326.2h0.45M309.6 325.5h0.45M309.0 337.1h0.45M304.2 325.3h0.45M313.4 324.8h0.45M297.4 338.8h0.45M315.5 328.2h0.45M317.6 324.7h0.45M311.5 325.1h0.45M314.9 333.6h0.45M313.5 328.7h0.45M302.7 333.8h0.45M307.7 335.3h0.45M309.0 332.6h0.45M311.0 337.8h0.45M306.9 333.1h0.45M321.9 323.2h0.45M309.0 333.7h0.45M316.8 329.5h0.45M303.9 335.5h0.45M306.7 340.8h0.45M310.5 328.1h0.45M314.8 329.2h0.45M309.8 337.5h0.45M306.7 325.1h0.45M319.7 330.4h0.45M317.2 327.9h0.45M309.6 334.7h0.45M320.1 327.0h0.45M315.9 323.1h0.45M317.1 329.6h0.45M302.1 328.8h0.45M308.5 331.8h0.45M312.5 327.7h0.45M310.7 329.5h0.45M312.7 331.1h0.45M313.0 328.1h0.45M311.3 327.6h0.45M313.3 326.0h0.45M317.6 325.1h0.45M310.8 326.6h0.45M310.2 331.0h0.45M310.0 327.7h0.45M306.7 332.9h0.45M312.9 330.8h0.45M315.5 325.3h0.45M303.1 334.6h0.45M301.4 330.8h0.45M316.4 328.5h0.45M307.4 329.5h0.45M307.3 324.7h0.45M312.4 327.3h0.45M316.3 321.5h0.45M313.8 324.9h0.45M313.3 324.0h0.45M313.2 326.3h0.45M307.7 331.4h0.45M313.9 329.5h0.45M319.1 327.8h0.45M300.0 335.5h0.45M302.6 333.9h0.45M311.0 324.0h0.45M306.9 333.2h0.45M313.3 335.1h0.45M313.6 330.3h0.45M317.1 323.4h0.45M309.2 326.7h0.45M314.4 332.0h0.45M316.6 325.8h0.45M306.9 329.3h0.45M306.0 333.7h0.45M311.8 318.9h0.45M305.5 339.6h0.45M305.6 334.9h0.45M307.9 335.3h0.45M314.7 328.0h0.45M314.6 327.5h0.45M317.2 333.5h0.45M314.3 324.7h0.45M307.6 331.1h0.45M310.5 330.4h0.45M310.2 333.2h0.45M312.2 330.6h0.45M312.6 331.4h0.45M309.8 337.5h0.45M313.6 330.0h0.45M315.9 331.2h0.45M314.7 328.3h0.45M307.3 325.2h0.45M311.5 328.1h0.45M315.0 337.6h0.45M304.1 334.8h0.45M318.1 329.2h0.45M313.7 322.5h0.45M308.8 334.1h0.45M313.7 335.5h0.45M312.7 329.6h0.45M312.6 327.6h0.45M310.5 327.3h0.45M310.3 328.3h0.45M309.5 324.7h0.45M306.4 335.0h0.45M310.3 326.1h0.45M308.4 327.1h0.45M342.5 305.6h0.45M340.5 310.0h0.45M334.9 312.6h0.45M330.6 319.5h0.45M336.5 312.7h0.45M327.4 326.1h0.45M338.4 315.7h0.45M331.5 315.6h0.45M332.2 321.4h0.45M329.1 313.5h0.45M328.7 321.5h0.45M340.2 314.5h0.45M333.8 322.9h0.45M332.7 308.1h0.45M336.6 317.7h0.45M330.8 322.8h0.45M335.6 303.2h0.45M334.4 313.9h0.45M340.4 315.0h0.45M331.8 316.6h0.45M335.2 305.5h0.45M333.8 312.1h0.45M336.3 329.6h0.45M329.5 307.4h0.45M330.3 309.5h0.45M330.2 313.9h0.45M338.5 306.7h0.45M328.6 301.8h0.45M336.1 322.8h0.45M328.4 303.1h0.45M332.5 320.8h0.45M336.8 315.8h0.45M335.4 316.4h0.45M329.0 325.4h0.45M334.0 307.2h0.45M332.6 304.3h0.45M332.0 320.8h0.45M326.9 320.2h0.45M340.9 317.6h0.45M329.2 308.1h0.45M332.9 306.0h0.45M328.3 311.7h0.45M331.7 317.6h0.45M326.5 324.8h0.45M336.4 320.1h0.45M328.8 324.3h0.45M329.9 325.0h0.45M338.1 309.2h0.45M329.5 325.2h0.45M337.1 313.7h0.45M333.6 315.4h0.45M330.1 312.4h0.45M330.8 311.0h0.45M335.7 308.4h0.45M335.8 315.1h0.45M335.2 320.0h0.45M337.3 318.6h0.45M336.0 313.4h0.45M336.1 308.9h0.45M331.3 318.5h0.45M332.4 316.7h0.45M327.5 321.8h0.45M330.3 316.1h0.45M332.0 319.8h0.45M332.4 307.7h0.45M325.8 311.0h0.45M327.8 316.6h0.45M340.8 301.2h0.45M327.6 315.2h0.45M337.6 316.7h0.45M333.8 317.3h0.45M333.7 324.5h0.45M336.6 306.8h0.45M330.9 315.0h0.45M330.0 311.9h0.45M331.6 309.4h0.45M336.1 312.1h0.45M329.3 309.0h0.45M331.2 327.1h0.45M332.6 323.3h0.45M337.0 301.1h0.45M335.3 309.0h0.45M328.6 306.6h0.45M341.6 305.4h0.45M329.4 320.8h0.45M337.2 303.9h0.45M333.0 310.8h0.45M331.5 318.5h0.45M331.0 311.7h0.45M340.5 303.5h0.45M331.1 316.7h0.45M328.6 309.4h0.45M327.6 314.2h0.45M329.8 318.5h0.45M337.0 314.9h0.45M331.2 315.4h0.45M334.3 306.5h0.45M337.0 316.1h0.45M337.4 306.1h0.45M334.5 327.6h0.45M336.8 305.4h0.45M333.2 313.7h0.45M334.1 312.7h0.45M335.4 311.4h0.45M334.5 309.9h0.45M332.4 320.2h0.45M330.4 317.8h0.45M329.8 311.2h0.45M330.9 321.6h0.45M328.8 321.1h0.45M327.3 312.1h0.45M336.0 318.8h0.45M330.1 305.8h0.45M337.6 306.7h0.45M335.8 311.1h0.45M330.7 328.3h0.45M338.4 320.1h0.45M327.2 315.1h0.45M333.3 313.4h0.45M339.9 304.1h0.45M334.1 314.9h0.45M328.3 324.2h0.45M327.9 313.4h0.45M335.3 300.4h0.45M328.1 307.1h0.45M335.2 320.3h0.45M335.1 315.8h0.45M323.9 314.0h0.45M329.8 320.9h0.45M336.2 328.6h0.45M335.0 319.4h0.45M328.7 313.8h0.45M327.2 318.8h0.45M328.4 311.9h0.45M330.1 310.5h0.45M335.3 310.7h0.45M334.8 307.8h0.45M339.1 310.8h0.45M335.0 327.8h0.45M324.1 306.3h0.45M331.0 321.1h0.45M330.6 316.0h0.45M329.5 317.0h0.45M327.3 318.4h0.45M322.7 300.3h0.45M340.1 316.1h0.45M327.3 327.1h0.45M336.1 321.6h0.45M330.6 317.5h0.45M336.5 303.9h0.45M335.5 313.1h0.45M336.9 322.8h0.45M330.9 309.7h0.45M333.1 318.1h0.45M331.4 312.9h0.45M335.0 316.9h0.45M337.4 316.1h0.45M331.0 302.3h0.45M336.5 312.3h0.45M331.8 311.8h0.45M326.9 310.5h0.45M322.8 309.8h0.45M327.5 324.8h0.45M334.9 312.8h0.45M332.9 318.5h0.45M330.1 311.9h0.45M329.1 329.2h0.45M335.1 301.5h0.45M333.7 330.6h0.45M325.7 335.1h0.45M331.7 320.1h0.45M330.9 311.8h0.45M328.9 306.4h0.45M323.1 319.7h0.45M327.9 315.5h0.45M334.9 309.9h0.45M333.2 313.3h0.45M330.8 313.8h0.45M334.1 307.4h0.45M328.4 307.7h0.45M332.1 322.6h0.45M338.6 316.7h0.45M336.6 315.2h0.45M337.3 315.3h0.45M334.8 312.2h0.45M331.0 325.8h0.45M328.0 313.1h0.45M329.5 319.5h0.45M340.6 312.9h0.45M321.0 316.0h0.45M337.0 303.5h0.45M331.9 313.2h0.45M322.8 316.6h0.45M334.4 315.6h0.45M329.2 308.6h0.45M329.8 316.4h0.45M327.4 322.4h0.45M336.5 300.2h0.45M339.6 315.8h0.45M330.5 314.1h0.45M325.2 313.8h0.45M323.8 305.7h0.45M337.2 322.6h0.45M332.4 307.4h0.45M336.7 314.0h0.45M333.1 317.8h0.45M327.7 318.1h0.45M322.7 321.7h0.45M327.0 308.7h0.45M329.4 317.9h0.45M335.6 316.5h0.45M334.6 317.0h0.45M334.4 301.5h0.45M325.6 297.6h0.45M332.9 312.2h0.45M332.0 315.0h0.45M332.8 307.1h0.45M328.5 300.6h0.45M337.0 320.2h0.45M327.5 311.1h0.45M333.1 324.1h0.45M330.2 314.4h0.45M339.3 303.2h0.45M329.8 312.9h0.45M327.8 326.7h0.45M336.2 315.4h0.45M328.0 318.6h0.45M335.9 310.7h0.45M332.4 304.0h0.45M331.6 319.1h0.45M336.4 317.9h0.45M336.8 310.4h0.45M329.7 321.0h0.45M335.4 308.8h0.45M334.1 319.2h0.45M335.6 314.7h0.45M330.3 315.8h0.45M339.6 315.6h0.45M329.7 315.3h0.45M327.5 314.3h0.45M330.6 319.5h0.45M332.2 320.4h0.45M342.5 313.6h0.45M328.9 316.0h0.45M332.3 314.4h0.45M329.8 316.7h0.45M335.1 299.8h0.45M331.5 315.5h0.45M338.2 310.6h0.45M328.4 320.4h0.45M330.2 313.8h0.45M334.0 318.6h0.45M333.9 306.5h0.45M337.3 311.4h0.45M328.7 326.0h0.45M337.4 307.3h0.45M331.0 311.7h0.45M331.5 300.9h0.45M335.3 319.0h0.45M334.2 311.1h0.45M333.0 317.7h0.45M328.8 310.8h0.45M329.8 317.6h0.45M335.1 305.4h0.45M328.5 324.4h0.45M328.6 313.9h0.45M329.0 321.1h0.45M332.9 310.7h0.45M328.2 311.2h0.45M335.5 318.3h0.45M325.8 322.6h0.45M332.8 306.7h0.45M333.9 309.6h0.45M331.0 309.1h0.45M332.9 310.3h0.45M325.2 315.7h0.45M329.5 320.8h0.45M334.3 317.7h0.45M332.2 321.8h0.45M332.3 307.0h0.45M336.8 296.4h0.45M331.0 314.6h0.45M329.8 321.2h0.45M335.5 314.6h0.45M330.0 320.2h0.45M330.4 310.4h0.45M335.2 317.7h0.45M341.3 313.3h0.45M324.4 316.5h0.45M338.0 313.2h0.45M337.4 325.7h0.45M330.5 310.0h0.45M327.1 316.1h0.45M335.1 317.7h0.45M328.4 307.8h0.45M328.4 302.4h0.45M328.7 302.6h0.45M331.6 316.0h0.45M335.3 313.7h0.45M330.0 312.9h0.45M335.3 311.9h0.45M333.2 311.5h0.45M330.5 313.3h0.45M327.2 319.4h0.45M325.9 315.4h0.45M325.7 322.1h0.45M337.0 308.8h0.45M331.9 306.0h0.45M332.1 316.0h0.45M344.4 306.4h0.45M338.3 310.5h0.45M333.0 319.1h0.45M334.5 316.4h0.45M331.9 313.2h0.45M332.2 321.1h0.45M327.2 309.4h0.45M328.5 306.6h0.45M328.4 319.8h0.45M340.1 323.3h0.45M327.8 313.1h0.45M327.7 315.5h0.45M337.3 317.9h0.45M336.4 313.0h0.45M326.6 299.7h0.45M331.8 317.0h0.45M338.2 312.0h0.45M332.8 315.1h0.45M337.1 313.6h0.45M327.2 319.5h0.45M334.0 316.1h0.45M327.5 312.6h0.45M327.6 299.7h0.45M332.1 310.5h0.45M333.6 322.8h0.45M330.9 324.6h0.45M329.6 317.8h0.45M327.4 313.4h0.45M331.6 311.9h0.45M336.9 301.9h0.45M333.9 308.4h0.45M332.8 315.9h0.45M331.5 310.8h0.45M327.5 316.1h0.45M329.5 315.8h0.45M325.6 321.1h0.45M327.5 320.0h0.45M330.4 316.6h0.45M331.5 317.6h0.45M331.5 321.4h0.45M334.8 318.1h0.45M340.1 310.0h0.45M337.9 314.6h0.45M326.2 315.5h0.45M330.3 323.9h0.45M330.7 313.4h0.45M335.5 301.6h0.45M335.7 307.5h0.45M336.8 324.7h0.45M334.2 303.4h0.45M333.3 314.6h0.45M335.9 312.0h0.45M328.0 311.8h0.45M327.3 324.0h0.45M330.5 308.9h0.45M333.7 305.6h0.45M331.0 312.3h0.45M331.0 311.5h0.45M337.3 316.9h0.45M327.7 309.9h0.45M336.3 309.8h0.45M333.1 313.3h0.45M335.0 312.6h0.45M332.9 307.9h0.45M335.0 307.8h0.45M339.7 314.3h0.45M331.0 318.2h0.45M332.3 313.9h0.45M333.2 308.8h0.45M329.6 308.4h0.45M337.9 310.2h0.45M331.5 310.3h0.45M333.6 326.3h0.45M328.4 316.3h0.45M333.5 311.6h0.45M336.0 305.7h0.45M335.9 315.3h0.45M327.1 322.8h0.45M335.0 321.2h0.45M327.1 310.8h0.45M330.0 317.0h0.45M340.0 302.3h0.45M332.9 312.6h0.45M336.8 313.8h0.45M327.7 311.4h0.45M329.2 307.9h0.45M333.3 310.4h0.45M335.3 304.1h0.45M340.9 322.7h0.45M336.8 305.7h0.45M324.8 306.7h0.45M329.6 327.2h0.45M338.5 310.9h0.45M336.4 321.8h0.45M331.6 321.0h0.45M334.7 309.5h0.45M328.1 311.9h0.45M338.0 305.5h0.45M325.7 315.9h0.45M320.0 323.2h0.45M330.2 317.7h0.45M341.6 305.4h0.45M326.3 326.8h0.45M331.7 312.4h0.45M332.6 320.2h0.45M338.0 314.9h0.45M331.4 313.0h0.45M332.7 321.8h0.45M331.5 324.9h0.45M328.7 316.2h0.45M338.6 322.5h0.45M334.9 308.1h0.45M330.0 312.0h0.45M334.2 312.0h0.45M327.5 307.9h0.45M334.0 319.0h0.45M327.4 310.3h0.45M326.5 308.8h0.45M331.9 309.5h0.45M329.6 301.0h0.45M332.8 311.6h0.45M340.2 304.0h0.45M333.2 322.1h0.45M324.2 316.3h0.45M325.7 315.7h0.45M338.7 314.3h0.45M334.5 309.2h0.45M332.8 320.7h0.45M332.1 312.4h0.45M333.5 318.8h0.45M326.0 312.8h0.45M329.5 316.1h0.45M336.6 316.0h0.45M338.9 308.0h0.45M332.0 306.9h0.45M332.9 314.0h0.45M333.0 305.7h0.45M332.8 310.6h0.45M335.4 312.1h0.45M337.2 315.6h0.45M325.4 311.2h0.45M326.0 318.6h0.45M338.5 314.1h0.45M335.9 304.6h0.45M324.1 308.5h0.45M333.1 303.8h0.45M332.8 315.4h0.45M333.8 323.5h0.45M336.3 311.6h0.45M332.6 317.2h0.45M327.2 321.1h0.45M336.6 312.5h0.45M326.5 336.9h0.45M335.2 319.8h0.45M339.1 320.7h0.45M332.9 318.0h0.45M328.3 317.4h0.45M326.1 315.1h0.45M336.4 304.0h0.45M341.6 307.4h0.45M337.5 310.8h0.45M334.6 309.5h0.45M341.8 321.5h0.45M339.3 319.5h0.45M335.4 314.9h0.45M331.2 317.2h0.45M333.5 312.7h0.45M327.5 310.8h0.45M335.7 310.9h0.45M334.3 312.9h0.45M329.4 307.2h0.45M330.0 311.3h0.45M330.6 320.4h0.45M330.3 300.0h0.45M336.0 311.1h0.45M329.9 329.5h0.45M338.1 318.2h0.45M336.5 314.9h0.45M337.2 310.3h0.45M330.3 310.2h0.45M337.7 324.3h0.45M329.2 320.5h0.45M331.1 320.3h0.45M330.6 319.4h0.45M332.6 311.7h0.45M332.6 314.6h0.45M331.7 304.7h0.45M340.0 312.2h0.45M327.6 298.2h0.45M322.0 308.1h0.45M339.9 304.2h0.45M333.3 301.9h0.45M336.9 316.6h0.45M332.8 322.4h0.45M338.5 321.2h0.45M331.7 305.0h0.45M330.2 302.0h0.45M340.3 313.6h0.45M333.2 315.0h0.45M341.6 311.4h0.45M337.3 316.3h0.45M334.0 301.5h0.45M337.3 309.5h0.45M330.7 314.8h0.45M332.1 320.8h0.45M329.9 314.3h0.45M333.9 314.0h0.45M335.8 312.5h0.45M338.4 309.9h0.45M327.0 312.5h0.45M338.1 311.2h0.45M330.6 311.1h0.45M333.7 312.7h0.45M335.7 303.0h0.45M338.4 318.3h0.45M328.0 321.8h0.45M333.3 323.3h0.45M326.5 323.4h0.45M335.0 300.7h0.45M336.2 312.2h0.45M328.9 311.7h0.45M324.4 316.2h0.45M332.2 311.8h0.45M338.6 314.8h0.45M331.0 307.3h0.45M331.6 320.4h0.45M331.5 306.8h0.45M336.5 314.6h0.45M330.7 326.8h0.45M327.7 314.2h0.45M325.9 310.7h0.45M334.1 321.2h0.45M326.9 318.2h0.45M336.1 313.4h0.45M342.9 315.2h0.45M328.8 315.8h0.45M323.8 322.4h0.45M337.2 311.8h0.45M334.8 317.4h0.45M341.3 311.0h0.45M329.5 300.0h0.45M333.1 303.6h0.45M331.7 316.2h0.45M331.9 307.4h0.45M337.9 313.2h0.45M332.9 319.8h0.45M328.4 307.1h0.45M343.1 314.2h0.45M328.8 311.4h0.45M331.7 305.6h0.45M331.2 313.3h0.45M332.3 317.1h0.45M327.2 303.2h0.45M336.5 311.4h0.45M337.5 316.3h0.45M326.6 316.2h0.45M328.5 314.7h0.45M335.8 327.8h0.45M331.9 318.0h0.45M333.3 318.9h0.45M322.8 309.7h0.45M333.6 316.8h0.45M329.0 318.4h0.45M337.2 314.8h0.45M332.2 311.3h0.45M332.3 321.2h0.45M339.4 311.6h0.45M329.8 308.1h0.45M336.6 315.7h0.45M333.6 316.9h0.45M334.5 313.1h0.45M329.2 309.2h0.45M332.9 316.2h0.45M331.7 310.8h0.45M338.8 311.6h0.45M334.0 311.8h0.45M330.8 303.6h0.45M331.4 308.2h0.45M337.4 307.0h0.45M330.5 317.5h0.45M331.9 316.7h0.45M337.8 303.8h0.45M332.1 307.4h0.45M338.4 313.8h0.45M333.2 324.6h0.45M331.3 313.9h0.45M334.7 312.3h0.45M337.1 319.6h0.45M336.8 314.6h0.45M331.8 311.2h0.45M332.9 303.2h0.45M333.5 319.0h0.45M333.3 310.6h0.45M332.8 315.1h0.45M332.4 325.1h0.45M329.0 315.4h0.45M335.5 314.6h0.45M332.8 307.1h0.45M329.8 317.7h0.45M339.3 310.5h0.45M334.2 317.2h0.45M336.6 315.8h0.45M333.8 319.5h0.45M328.1 313.2h0.45M327.6 300.3h0.45M331.0 303.6h0.45M333.9 320.1h0.45M331.7 312.6h0.45M332.1 311.9h0.45M333.0 315.9h0.45M331.7 308.5h0.45M330.0 318.3h0.45M329.8 322.4h0.45M330.6 322.0h0.45M328.7 308.6h0.45M334.3 317.0h0.45M330.3 326.2h0.45M332.8 315.5h0.45M329.0 323.5h0.45M335.8 316.7h0.45M325.9 314.9h0.45M330.6 315.8h0.45M337.1 309.6h0.45M332.8 319.2h0.45M333.8 311.7h0.45M329.2 308.9h0.45M326.8 318.9h0.45M334.3 306.2h0.45M334.0 305.7h0.45M318.6 319.1h0.45M338.8 305.2h0.45M329.8 314.5h0.45M332.1 308.1h0.45M331.0 311.8h0.45M330.4 314.6h0.45M332.6 308.8h0.45M334.4 303.4h0.45M340.1 303.8h0.45M332.1 315.6h0.45M334.2 315.5h0.45M338.8 307.4h0.45M332.4 314.5h0.45M331.4 309.7h0.45M338.5 310.0h0.45M331.1 311.6h0.45M331.8 314.5h0.45M331.6 315.7h0.45M332.9 316.6h0.45M339.0 309.2h0.45M339.7 311.8h0.45M335.3 315.0h0.45M333.4 301.4h0.45M339.8 309.9h0.45M328.7 319.6h0.45M331.3 325.2h0.45M338.8 318.9h0.45M333.1 318.4h0.45M327.4 313.8h0.45M333.8 310.8h0.45M335.1 304.8h0.45M335.1 322.0h0.45M327.5 313.7h0.45M338.5 317.0h0.45M329.6 306.9h0.45M334.4 325.2h0.45M328.5 313.1h0.45M330.0 311.3h0.45M334.0 313.5h0.45M328.1 326.0h0.45M332.3 312.3h0.45M337.1 314.3h0.45M331.1 319.2h0.45M328.0 317.5h0.45M336.2 318.2h0.45M332.1 313.4h0.45M326.1 311.7h0.45M333.1 319.0h0.45M333.7 311.3h0.45M329.5 312.8h0.45M332.2 321.0h0.45M333.3 310.5h0.45M332.8 310.5h0.45M333.9 300.0h0.45M327.6 305.3h0.45M334.7 313.3h0.45M332.3 320.7h0.45M327.6 319.8h0.45M334.9 309.4h0.45M339.9 305.8h0.45M328.5 311.6h0.45M334.5 312.6h0.45M324.7 310.4h0.45M330.1 328.9h0.45M338.0 315.1h0.45M328.2 314.9h0.45M328.0 314.1h0.45M334.6 311.3h0.45M334.0 311.7h0.45M329.1 322.5h0.45M335.3 312.0h0.45M329.6 314.1h0.45M334.2 319.0h0.45M338.1 317.2h0.45M326.5 325.1h0.45M336.5 319.2h0.45M339.3 305.3h0.45M331.8 310.2h0.45M338.5 307.1h0.45M330.1 322.5h0.45M335.6 311.6h0.45M341.3 306.6h0.45M334.7 312.4h0.45M335.0 312.1h0.45M329.3 314.3h0.45M327.1 315.9h0.45M330.7 318.9h0.45M331.6 309.2h0.45M333.2 321.2h0.45M324.6 313.0h0.45M336.5 305.3h0.45M328.7 316.8h0.45M330.1 309.1h0.45M340.3 308.8h0.45M331.5 299.0h0.45M329.6 305.4h0.45M338.3 321.8h0.45M326.0 324.6h0.45M335.9 312.8h0.45M335.5 316.2h0.45M331.4 302.4h0.45M329.2 312.9h0.45M332.0 308.8h0.45M337.5 307.6h0.45M336.6 311.1h0.45M334.2 306.8h0.45M333.4 308.7h0.45M325.9 312.3h0.45M331.8 318.4h0.45M334.8 307.5h0.45M332.6 298.1h0.45M327.2 320.6h0.45M337.9 318.9h0.45M333.4 317.2h0.45M336.2 303.2h0.45M328.2 320.1h0.45M337.1 315.6h0.45M331.9 310.9h0.45M331.4 307.5h0.45M325.1 313.2h0.45M331.1 311.9h0.45M338.9 318.0h0.45M329.4 316.5h0.45M325.9 318.9h0.45M333.9 312.4h0.45M333.6 322.6h0.45M331.8 307.2h0.45M341.0 314.8h0.45M339.2 310.2h0.45M334.8 309.8h0.45M335.4 312.1h0.45M328.7 322.4h0.45M335.9 301.3h0.45M332.6 307.7h0.45M328.5 309.2h0.45M330.8 313.3h0.45M331.3 301.6h0.45M329.8 318.4h0.45M326.8 316.4h0.45M334.9 311.0h0.45M334.6 309.0h0.45M332.1 307.0h0.45M333.3 322.0h0.45M328.9 320.3h0.45M325.1 306.8h0.45M327.1 323.3h0.45M329.7 317.8h0.45M324.5 312.9h0.45M335.0 313.5h0.45M321.8 312.9h0.45M334.7 321.9h0.45M335.8 303.3h0.45M331.0 318.8h0.45M329.0 316.4h0.45M330.7 313.7h0.45M336.3 309.5h0.45M343.8 316.0h0.45M334.7 309.1h0.45M333.2 311.8h0.45M328.4 303.2h0.45M333.9 313.0h0.45M324.3 298.7h0.45M331.5 312.8h0.45M336.2 306.2h0.45M335.3 311.9h0.45M330.8 312.2h0.45M336.1 317.4h0.45M336.9 309.7h0.45M332.7 306.1h0.45M330.9 310.6h0.45M330.2 317.5h0.45M333.7 318.3h0.45M332.2 320.1h0.45M332.3 319.4h0.45M334.0 318.2h0.45M333.6 305.8h0.45M325.2 324.5h0.45M333.8 316.4h0.45M332.5 310.5h0.45M345.1 308.3h0.45M332.5 313.0h0.45M329.4 304.9h0.45M330.2 310.9h0.45M330.0 318.1h0.45M327.7 315.2h0.45M337.7 319.8h0.45M330.9 294.6h0.45M335.6 317.0h0.45M329.2 320.9h0.45M331.0 313.8h0.45M328.3 314.7h0.45M331.5 310.1h0.45M336.8 315.4h0.45M326.1 316.7h0.45M336.8 308.8h0.45M331.1 313.5h0.45M331.6 314.0h0.45M335.7 310.8h0.45M341.6 310.3h0.45M328.7 325.1h0.45M342.1 315.1h0.45M333.0 306.7h0.45M337.1 315.1h0.45M329.0 315.4h0.45M337.5 318.4h0.45M340.4 321.8h0.45M334.5 313.5h0.45M333.7 321.2h0.45M335.1 320.4h0.45M332.9 318.2h0.45M337.7 313.1h0.45M326.0 323.2h0.45M335.4 311.1h0.45M333.9 312.0h0.45M326.1 311.3h0.45M326.9 313.8h0.45M331.2 320.3h0.45M331.9 315.6h0.45M331.9 310.9h0.45M326.3 318.6h0.45M333.9 309.9h0.45M333.9 311.0h0.45M329.6 314.5h0.45M337.8 312.5h0.45M327.6 308.8h0.45M340.6 309.5h0.45M337.6 312.6h0.45M335.7 313.2h0.45M326.8 309.9h0.45M341.2 313.9h0.45M335.2 311.7h0.45M331.9 315.3h0.45M332.5 327.3h0.45M332.8 312.3h0.45M331.3 305.0h0.45M325.7 316.5h0.45M324.0 320.9h0.45M336.4 312.1h0.45M328.1 312.9h0.45M331.7 320.3h0.45M330.1 310.7h0.45M332.8 311.7h0.45M331.8 302.5h0.45M326.9 308.3h0.45M330.9 319.4h0.45M340.3 325.3h0.45M332.5 325.2h0.45M332.7 310.1h0.45M342.8 308.3h0.45M331.3 311.6h0.45M339.0 310.7h0.45M336.2 311.4h0.45M327.7 314.1h0.45M334.4 306.4h0.45M330.0 308.1h0.45M336.1 316.8h0.45M333.2 316.6h0.45M330.4 316.1h0.45M331.6 304.9h0.45M329.7 314.3h0.45M332.1 320.0h0.45M305.7 306.3h0.45M319.1 304.6h0.45M318.0 306.8h0.45M308.7 312.0h0.45M307.1 311.3h0.45M314.0 304.2h0.45M311.0 304.7h0.45M310.8 308.8h0.45M304.0 312.0h0.45M320.9 314.3h0.45M311.0 298.4h0.45M312.4 307.2h0.45M318.4 306.4h0.45M315.7 308.8h0.45M305.8 314.5h0.45M309.1 308.6h0.45M323.3 305.8h0.45M315.6 314.7h0.45M314.1 312.2h0.45M318.0 309.3h0.45M320.9 307.8h0.45M314.6 311.9h0.45M317.7 310.4h0.45M308.8 307.6h0.45M323.5 312.6h0.45M318.6 306.4h0.45M312.3 309.6h0.45M325.2 309.3h0.45M324.6 307.9h0.45M324.2 305.0h0.45M317.9 304.1h0.45M320.2 311.0h0.45M310.6 304.7h0.45M314.1 302.1h0.45M310.8 304.3h0.45M320.6 314.3h0.45M313.6 306.8h0.45M317.8 306.3h0.45M314.2 311.4h0.45M317.8 308.1h0.45M312.1 313.8h0.45M312.4 308.4h0.45M310.1 305.3h0.45M317.0 306.8h0.45M319.6 308.9h0.45M308.6 298.2h0.45M322.8 306.6h0.45M325.5 309.3h0.45M311.3 310.0h0.45M314.6 308.1h0.45M310.2 310.2h0.45M323.4 306.9h0.45M327.7 307.1h0.45M318.5 301.9h0.45M303.4 315.4h0.45M324.7 313.7h0.45M305.6 308.1h0.45M318.9 308.8h0.45M318.5 304.8h0.45M315.7 303.6h0.45M313.9 309.5h0.45M311.5 306.7h0.45M313.6 308.0h0.45M321.9 309.8h0.45M319.3 302.8h0.45M313.7 311.3h0.45M311.1 306.0h0.45M309.7 312.9h0.45M313.7 305.1h0.45M319.7 313.0h0.45M319.0 312.5h0.45M317.6 307.9h0.45M313.7 305.9h0.45M312.4 309.3h0.45M315.5 308.5h0.45M320.1 308.4h0.45M308.0 304.2h0.45M310.0 300.0h0.45M317.4 303.5h0.45M308.6 303.1h0.45M321.8 307.5h0.45M322.5 308.5h0.45M313.3 310.2h0.45M319.9 309.1h0.45M309.9 305.8h0.45M308.9 306.5h0.45M316.2 314.2h0.45M324.8 311.8h0.45M322.1 309.7h0.45M333.0 316.0h0.45M332.6 311.4h0.45M318.4 312.7h0.45M317.3 309.6h0.45M309.7 311.3h0.45M316.7 311.5h0.45M315.5 301.0h0.45M318.9 313.2h0.45M308.6 303.5h0.45M314.4 307.0h0.45M304.9 314.1h0.45M322.8 306.4h0.45M304.7 308.5h0.45M328.3 312.7h0.45M323.8 305.2h0.45M318.3 302.4h0.45M328.4 311.7h0.45M303.7 299.5h0.45M319.2 309.0h0.45M314.0 310.5h0.45M328.6 310.9h0.45M305.0 306.4h0.45M308.3 304.2h0.45M318.3 307.7h0.45M309.5 307.4h0.45M310.9 309.8h0.45M314.5 309.6h0.45M314.2 311.0h0.45M315.3 308.0h0.45M312.6 308.4h0.45M304.0 317.7h0.45M311.8 308.1h0.45M313.4 305.9h0.45M318.9 306.4h0.45M314.0 302.4h0.45M310.8 302.9h0.45M328.0 304.0h0.45M309.3 308.2h0.45M325.8 302.3h0.45M306.4 307.7h0.45M318.8 302.7h0.45M305.2 303.2h0.45M320.8 308.4h0.45M320.8 308.2h0.45M315.6 310.5h0.45M315.3 309.0h0.45M310.6 305.2h0.45M319.1 307.5h0.45M311.1 310.3h0.45M319.5 308.4h0.45M311.0 311.2h0.45M332.1 306.4h0.45M306.7 304.0h0.45M310.7 302.5h0.45M308.3 310.7h0.45M320.9 314.5h0.45M320.9 306.7h0.45M323.1 306.3h0.45M314.4 303.2h0.45M323.3 312.9h0.45M313.3 306.6h0.45M316.2 308.9h0.45M321.3 308.9h0.45M319.2 302.4h0.45M314.9 300.8h0.45M326.7 314.7h0.45M320.1 312.9h0.45M328.2 313.1h0.45M306.1 306.2h0.45M301.6 303.3h0.45M308.2 307.2h0.45M318.8 304.6h0.45M314.1 309.0h0.45M315.1 307.2h0.45M301.1 304.8h0.45M320.9 309.6h0.45M306.8 306.0h0.45M318.1 304.3h0.45M320.5 305.3h0.45M314.0 307.4h0.45M330.1 308.2h0.45M312.1 310.5h0.45M313.0 308.5h0.45M301.7 307.8h0.45M316.4 302.9h0.45M324.6 307.9h0.45M315.3 302.7h0.45M306.0 304.7h0.45M306.2 309.0h0.45M321.7 306.0h0.45M306.1 305.4h0.45M309.3 308.0h0.45M317.3 306.4h0.45M316.0 312.2h0.45M326.9 307.0h0.45M320.6 307.5h0.45M308.8 312.5h0.45M318.4 308.8h0.45M318.3 307.6h0.45M308.7 314.4h0.45M321.5 309.6h0.45M321.5 313.7h0.45M314.5 310.2h0.45M313.7 310.4h0.45M313.4 317.5h0.45M313.5 309.8h0.45M319.0 307.0h0.45M321.9 308.3h0.45M313.4 307.8h0.45M310.8 312.3h0.45M319.5 312.3h0.45M307.4 308.2h0.45M311.1 307.9h0.45M323.8 309.8h0.45M314.4 312.4h0.45M321.6 316.0h0.45M304.2 308.1h0.45M313.7 304.3h0.45M317.1 303.5h0.45M302.3 303.0h0.45M313.6 315.3h0.45M311.9 302.9h0.45M303.7 305.4h0.45M314.4 308.4h0.45M307.2 304.1h0.45M301.7 307.3h0.45M307.2 296.1h0.45M323.0 310.8h0.45M318.0 309.6h0.45M309.0 311.6h0.45M308.6 315.0h0.45M318.1 300.8h0.45M320.6 316.4h0.45M313.9 312.1h0.45M314.9 305.4h0.45M299.3 311.3h0.45M313.0 309.2h0.45M309.2 303.7h0.45M323.1 307.2h0.45M314.0 302.7h0.45M317.0 311.3h0.45M313.2 307.0h0.45M307.8 312.8h0.45M312.2 307.0h0.45M326.6 308.2h0.45M306.6 303.4h0.45M313.0 314.9h0.45M317.5 307.3h0.45M320.7 313.8h0.45M310.7 313.3h0.45M321.2 310.4h0.45M301.0 307.3h0.45M324.9 307.8h0.45M330.5 309.8h0.45M309.4 309.8h0.45M317.5 311.6h0.45M314.1 313.1h0.45M312.5 308.2h0.45M308.5 304.1h0.45M317.6 305.6h0.45M313.3 307.0h0.45M317.3 311.3h0.45M320.5 312.7h0.45M317.6 306.0h0.45M306.2 305.7h0.45M311.8 300.3h0.45M327.2 301.7h0.45M318.1 310.6h0.45M313.5 318.3h0.45M316.5 305.0h0.45M327.5 306.0h0.45M307.4 303.1h0.45M312.0 307.9h0.45M318.8 302.2h0.45M317.4 317.3h0.45M311.6 307.1h0.45M320.0 313.4h0.45M312.2 303.8h0.45M309.2 311.9h0.45M322.7 299.9h0.45M303.0 301.7h0.45M306.4 308.8h0.45M316.7 316.1h0.45M321.1 309.1h0.45M323.9 305.2h0.45M307.2 307.3h0.45M322.7 302.2h0.45M321.4 312.1h0.45M312.8 308.5h0.45M314.3 308.3h0.45M321.5 305.4h0.45M322.3 312.3h0.45M322.6 300.7h0.45M303.9 309.7h0.45M312.6 304.9h0.45M311.7 302.2h0.45M314.5 305.0h0.45M311.7 309.6h0.45M308.1 311.9h0.45M300.9 316.8h0.45M307.2 309.6h0.45M321.9 308.7h0.45M320.9 308.1h0.45M304.7 308.4h0.45M323.6 306.6h0.45M305.5 304.6h0.45M318.0 309.5h0.45M322.9 311.1h0.45M320.1 300.3h0.45M330.3 309.7h0.45M321.7 307.2h0.45M315.1 308.2h0.45M325.5 315.3h0.45M319.2 316.5h0.45M313.3 310.0h0.45M312.6 313.1h0.45M315.9 312.1h0.45M328.0 300.8h0.45M329.8 310.8h0.45M314.8 300.1h0.45M315.1 298.6h0.45M316.7 307.5h0.45M327.9 308.0h0.45M322.5 313.6h0.45M329.4 308.5h0.45M321.6 302.4h0.45M309.1 306.3h0.45M316.5 303.2h0.45M313.2 310.7h0.45M313.3 307.2h0.45M309.9 313.2h0.45M327.5 310.1h0.45M314.7 314.9h0.45M319.5 305.7h0.45M307.7 304.9h0.45M330.5 307.2h0.45M334.7 310.0h0.45M314.2 313.4h0.45M314.4 309.6h0.45M310.0 302.4h0.45M311.3 308.6h0.45M312.7 299.7h0.45M319.3 307.8h0.45M314.6 305.5h0.45M301.0 313.2h0.45M312.9 310.0h0.45M324.7 313.7h0.45M317.5 308.4h0.45M317.8 312.1h0.45M320.1 306.7h0.45M318.9 310.0h0.45M320.6 309.5h0.45M324.9 309.9h0.45M321.9 308.9h0.45M312.9 304.0h0.45M314.9 310.3h0.45M324.4 308.6h0.45M313.1 305.8h0.45M324.5 309.5h0.45M312.7 310.9h0.45M307.6 307.8h0.45M316.0 307.6h0.45M308.4 311.5h0.45M327.6 303.9h0.45M316.7 310.9h0.45M330.9 308.0h0.45M310.1 307.6h0.45M329.1 309.8h0.45M317.2 315.6h0.45M303.4 298.0h0.45M321.7 311.9h0.45M307.1 309.4h0.45M316.4 309.1h0.45M311.2 305.8h0.45M310.5 307.8h0.45M314.0 314.9h0.45M320.9 302.2h0.45M318.3 314.3h0.45M317.6 312.8h0.45M315.7 311.1h0.45M309.9 310.8h0.45M306.8 312.6h0.45M307.3 298.6h0.45M319.7 307.8h0.45M316.8 310.0h0.45M316.4 304.6h0.45M317.4 309.8h0.45M318.6 316.6h0.45M311.4 308.0h0.45M320.0 306.7h0.45M308.7 305.1h0.45M323.2 307.8h0.45M320.4 305.6h0.45M319.3 305.7h0.45M310.7 308.1h0.45M315.9 314.2h0.45M305.5 309.2h0.45M326.0 314.8h0.45M314.0 305.2h0.45M312.9 309.1h0.45M317.3 309.7h0.45M320.5 304.2h0.45M309.4 302.5h0.45M307.6 306.9h0.45M317.2 318.7h0.45M319.6 308.6h0.45M325.6 306.1h0.45M318.0 312.4h0.45M321.1 310.4h0.45M314.5 302.9h0.45M315.5 305.7h0.45M320.7 308.1h0.45M320.5 302.0h0.45M322.8 305.3h0.45M306.7 301.6h0.45M311.7 312.4h0.45M321.3 303.9h0.45M316.8 307.8h0.45M306.5 303.1h0.45M303.5 303.3h0.45M299.5 303.2h0.45M310.5 304.3h0.45M310.4 312.4h0.45M313.9 309.0h0.45M320.7 312.4h0.45M320.8 306.4h0.45M309.5 304.3h0.45M313.2 307.9h0.45M315.2 312.6h0.45M314.8 315.4h0.45M323.0 306.9h0.45M322.9 297.0h0.45M324.9 310.8h0.45M319.4 301.6h0.45M332.5 308.8h0.45M314.8 312.7h0.45M315.3 304.6h0.45M320.8 304.5h0.45M320.9 309.2h0.45M323.9 304.0h0.45M324.1 310.2h0.45M329.1 306.8h0.45M327.8 312.3h0.45M321.6 305.7h0.45M319.5 311.3h0.45M311.3 303.0h0.45M310.6 313.7h0.45M316.8 312.1h0.45M318.0 308.9h0.45M317.8 306.7h0.45M324.0 309.7h0.45M318.2 302.7h0.45M318.5 305.7h0.45M312.6 312.1h0.45M309.3 306.7h0.45M319.8 313.3h0.45M312.7 309.2h0.45M318.5 303.8h0.45M303.3 299.0h0.45M320.0 309.0h0.45M307.9 304.7h0.45M313.8 306.5h0.45M315.1 317.2h0.45M311.1 308.3h0.45M311.5 305.1h0.45M310.6 306.7h0.45M312.5 309.3h0.45M317.9 304.7h0.45M329.0 304.7h0.45M317.6 317.2h0.45M311.1 313.1h0.45M325.1 310.5h0.45M303.8 312.8h0.45M317.0 306.0h0.45M324.7 306.1h0.45M323.2 306.7h0.45M320.1 304.2h0.45M314.0 304.2h0.45M311.6 308.5h0.45M315.0 308.9h0.45M324.5 308.6h0.45M311.4 320.0h0.45M321.3 326.7h0.45M326.2 326.3h0.45M319.7 324.8h0.45M313.5 328.1h0.45M323.1 324.1h0.45M319.0 321.8h0.45M317.5 324.4h0.45M314.1 326.5h0.45M323.7 331.8h0.45M320.7 321.0h0.45M321.9 321.7h0.45M320.3 315.9h0.45M315.3 318.6h0.45M319.4 315.4h0.45M315.0 320.0h0.45M324.7 320.5h0.45M324.4 326.5h0.45M324.8 319.3h0.45M318.8 312.0h0.45M317.4 323.9h0.45M315.3 328.4h0.45M328.2 319.6h0.45M325.6 314.3h0.45M315.5 319.6h0.45M320.9 320.6h0.45M316.5 331.5h0.45M322.4 323.0h0.45M324.4 322.4h0.45M319.7 318.7h0.45M312.5 329.1h0.45M316.2 313.0h0.45M316.8 313.3h0.45M331.1 323.4h0.45M328.1 328.9h0.45M323.8 324.4h0.45M317.2 321.1h0.45M317.8 321.7h0.45M317.3 328.0h0.45M324.8 321.0h0.45M312.4 325.0h0.45M325.4 321.2h0.45M314.5 323.7h0.45M326.3 311.7h0.45M323.8 312.2h0.45M321.3 330.4h0.45M321.4 323.9h0.45M319.3 321.5h0.45M332.9 328.3h0.45M319.3 319.6h0.45M321.0 332.7h0.45M322.0 327.2h0.45M319.0 315.0h0.45M327.6 321.1h0.45M316.9 318.0h0.45M317.5 318.4h0.45M313.1 327.6h0.45M322.8 326.5h0.45M319.1 323.3h0.45M321.8 327.5h0.45M325.0 323.3h0.45M317.6 315.4h0.45M316.8 318.3h0.45M318.2 315.2h0.45M329.3 322.9h0.45M310.6 315.9h0.45M314.1 322.7h0.45M326.3 316.5h0.45M324.0 320.1h0.45M326.7 328.4h0.45M322.5 325.1h0.45M320.9 319.6h0.45M315.0 323.2h0.45M320.5 319.6h0.45M320.5 320.6h0.45M315.6 318.8h0.45M326.7 320.3h0.45M328.0 315.6h0.45M314.0 322.1h0.45M324.8 318.2h0.45M324.1 326.2h0.45M326.3 320.9h0.45M320.6 313.1h0.45M321.0 322.9h0.45M328.1 315.1h0.45M316.6 316.4h0.45M325.4 308.7h0.45M315.4 331.9h0.45M324.2 314.8h0.45M320.6 325.8h0.45M323.7 320.4h0.45M316.9 325.7h0.45M320.9 325.6h0.45M322.9 319.1h0.45M328.2 319.0h0.45M323.1 318.3h0.45M319.7 320.2h0.45M317.6 322.7h0.45M327.5 330.9h0.45M328.2 320.6h0.45M328.3 323.6h0.45M330.0 315.1h0.45M328.4 318.5h0.45M326.7 319.1h0.45M325.5 320.1h0.45M311.4 316.6h0.45M319.7 321.6h0.45M309.6 315.5h0.45M317.2 320.4h0.45M322.0 317.4h0.45M313.3 323.0h0.45M319.2 326.0h0.45M318.3 324.8h0.45M316.4 322.9h0.45M321.4 323.8h0.45M316.2 320.9h0.45M316.6 320.7h0.45M324.0 336.5h0.45M321.1 325.1h0.45M321.5 327.2h0.45M323.2 326.8h0.45M322.7 333.6h0.45M327.8 312.9h0.45M322.4 321.9h0.45M309.8 317.2h0.45M318.6 317.8h0.45M321.6 312.5h0.45M324.7 325.4h0.45M322.7 319.9h0.45M320.9 319.2h0.45M326.7 324.1h0.45M330.9 319.7h0.45M328.2 318.6h0.45M320.1 316.3h0.45M323.6 321.2h0.45M324.0 329.0h0.45M320.6 323.4h0.45M325.4 321.2h0.45M318.2 323.3h0.45M323.5 325.4h0.45M325.1 318.2h0.45M323.2 327.7h0.45M318.6 323.4h0.45M317.8 322.4h0.45M329.6 322.4h0.45M316.1 323.3h0.45M322.0 327.1h0.45M314.1 316.9h0.45M320.5 313.7h0.45M326.6 311.4h0.45M317.0 344.0h0.45M319.4 314.3h0.45M299.5 339.2h0.45M302.3 316.9h0.45M329.6 340.3h0.45M301.5 337.0h0.45M305.9 311.8h0.45M320.2 300.4h0.45M341.4 329.2h0.45M344.8 314.0h0.45M334.1 313.5h0.45M314.3 331.6h0.45M305.4 317.3h0.45M316.5 311.0h0.45M299.9 338.5h0.45M310.6 335.4h0.45M330.9 335.9h0.45M326.6 313.3h0.45M341.5 343.9h0.45M312.0 322.0h0.45M316.9 312.8h0.45M332.2 304.5h0.45M309.0 336.1h0.45M308.4 331.1h0.45M314.2 331.1h0.45M314.4 325.5h0.45M313.0 325.3h0.45M313.8 326.5h0.45M317.2 326.8h0.45M309.9 330.7h0.45M315.9 321.4h0.45M313.6 327.4h0.45M317.9 325.2h0.45M314.2 328.0h0.45M317.4 324.9h0.45M319.6 323.1h0.45M309.8 327.3h0.45M313.2 326.4h0.45M316.2 325.8h0.45M319.9 324.2h0.45M316.7 321.6h0.45M314.0 328.8h0.45M315.3 327.5h0.45M313.6 324.7h0.45M320.4 324.9h0.45M308.8 328.8h0.45M315.2 327.8h0.45M311.5 323.9h0.45M315.8 324.2h0.45M317.7 324.4h0.45M318.1 325.9h0.45M315.5 323.5h0.45M317.1 324.6h0.45M310.0 328.5h0.45M313.9 328.2h0.45M314.0 322.7h0.45M315.8 324.7h0.45M312.6 330.5h0.45M310.0 325.8h0.45M317.5 326.6h0.45M314.0 330.1h0.45M315.8 323.2h0.45M319.2 321.9h0.45M310.6 321.2h0.45M314.7 323.8h0.45M312.3 322.1h0.45M319.5 326.8h0.45M314.1 316.4h0.45M316.2 325.9h0.45M304.7 331.8h0.45M316.2 329.5h0.45M312.2 328.8h0.45M314.5 327.3h0.45M314.5 329.2h0.45M314.4 321.6h0.45M315.8 322.5h0.45M315.2 329.3h0.45M315.3 327.4h0.45M317.2 325.9h0.45M311.1 325.8h0.45M317.2 326.5h0.45M314.7 325.3h0.45M316.3 324.5h0.45M310.9 330.1h0.45M316.7 326.9h0.45M310.5 327.0h0.45M314.3 324.9h0.45M315.5 328.5h0.45M318.2 329.2h0.45M317.8 329.2h0.45M321.2 329.1h0.45M314.1 326.3h0.45M316.8 322.5h0.45M313.4 328.0h0.45M312.9 322.9h0.45M314.4 325.3h0.45M314.5 326.9h0.45M315.5 329.0h0.45M315.2 325.0h0.45M316.2 328.4h0.45M318.5 327.2h0.45M314.2 327.1h0.45M319.6 321.9h0.45M320.2 324.4h0.45M310.9 324.7h0.45M314.8 323.7h0.45M309.6 324.6h0.45M317.7 324.0h0.45M315.1 327.2h0.45M315.1 326.1h0.45M315.3 324.8h0.45M308.7 333.7h0.45M315.5 325.6h0.45M316.3 320.2h0.45" stroke="#000" stroke-width="0.45" fill="none"/>
<polygon points="301.5,301.3 329.8,302 318.7,318.5 301.5,317.9" fill="none" stroke="#333" stroke-width="0.5"/>
<polygon points="329.8,302 340.8,303.1 340.8,328.9 318.7,328.1 318.7,318.5" fill="none" stroke="#333" stroke-width="0.5"/>
<line x1="329.8" y1="302" x2="318.7" y2="318.5" stroke="#222" stroke-width="0.9"/>
<text x="301.4" y="297.6" font-size="3.6" text-anchor="start" fill="#222" stroke="#222" stroke-width="0.05">11.2%</text>
<text x="326" y="337.6" font-size="3.6" text-anchor="start" fill="#222" stroke="#222" stroke-width="0.05">31.5%</text>
<text transform="translate(204.5 344.1) rotate(-90)" font-size="9.4" text-anchor="middle" fill="#1a1a1a" stroke="#1a1a1a" stroke-width="0.22" textLength="15" lengthAdjust="spacingAndGlyphs">IgM</text>
<line x1="201.4" y1="333.7" x2="201.4" y2="314.32" stroke="#1a1a1a" stroke-width="1.0"/>
<polygon points="201.4,310 203.8,315.4 199,315.4" fill="#1a1a1a"/>
<text x="218" y="366.6" font-size="9.2" text-anchor="start" fill="#1a1a1a" stroke="#1a1a1a" stroke-width="0.22" textLength="13.4" lengthAdjust="spacingAndGlyphs">IgD</text>
<line x1="234.4" y1="363.6" x2="324.68" y2="363.6" stroke="#1a1a1a" stroke-width="1.0"/>
<polygon points="329,363.6 323.6,366 323.6,361.2" fill="#1a1a1a"/>
<text x="374.7" y="261.6" font-size="11.2" text-anchor="start" fill="#1a1a1a" stroke="#1a1a1a" stroke-width="0.04" textLength="5.3" lengthAdjust="spacingAndGlyphs">F</text>
<text x="446.2" y="276.2" font-size="7.8" text-anchor="middle" fill="#1a1a1a" stroke="#1a1a1a" stroke-width="0.22" textLength="26.5" lengthAdjust="spacingAndGlyphs">Thymus</text>
<line x1="386.2" y1="281.6" x2="506.2" y2="281.6" stroke="#1a1a1a" stroke-width="0.9"/>
<text x="401.5" y="293.3" font-size="5.6" text-anchor="start" fill="#1a1a1a" stroke="#1a1a1a" stroke-width="0.08" textLength="25.8" lengthAdjust="spacingAndGlyphs">Mcl-1<tspan font-size="3.8" dy="-2.2">wt/wt</tspan></text>
<text x="471.4" y="293.3" font-size="5.6" text-anchor="start" fill="#1a1a1a" stroke="#1a1a1a" stroke-width="0.08" textLength="25.8" lengthAdjust="spacingAndGlyphs">Mcl-1<tspan font-size="3.8" dy="-2.2">hu/hu</tspan></text>
<rect x="388" y="296.5" width="51.8" height="51.7" fill="none" stroke="#8a8a8a" stroke-width="0.5" stroke-dasharray="0.7 0.4"/>
<text x="385" y="301.9" font-size="3.9" text-anchor="end" fill="#3a3a3a" stroke="#3a3a3a" stroke-width="0">10<tspan font-size="2.6" dy="-1.5">5</tspan></text>
<line x1="387.1" y1="300.6" x2="388.3" y2="300.6" stroke="#222" stroke-width="0.5"/>
<text x="385" y="312.9" font-size="3.9" text-anchor="end" fill="#3a3a3a" stroke="#3a3a3a" stroke-width="0">10<tspan font-size="2.6" dy="-1.5">4</tspan></text>
<line x1="387.1" y1="311.6" x2="388.3" y2="311.6" stroke="#222" stroke-width="0.5"/>
<text x="385" y="324.8" font-size="3.9" text-anchor="end" fill="#3a3a3a" stroke="#3a3a3a" stroke-width="0">10<tspan font-size="2.6" dy="-1.5">3</tspan></text>
<line x1="387.1" y1="323.5" x2="388.3" y2="323.5" stroke="#222" stroke-width="0.5"/>
<text x="385" y="329.1" font-size="3.9" text-anchor="end" fill="#3a3a3a" stroke="#3a3a3a" stroke-width="0">0</text>
<line x1="387.1" y1="327.8" x2="388.3" y2="327.8" stroke="#222" stroke-width="0.5"/>
<text x="385" y="335.2" font-size="3.9" text-anchor="end" fill="#3a3a3a" stroke="#3a3a3a" stroke-width="0">-10<tspan font-size="2.6" dy="-1.5">3</tspan></text>
<line x1="387.1" y1="333.9" x2="388.3" y2="333.9" stroke="#222" stroke-width="0.5"/>
<text x="385" y="346.1" font-size="3.9" text-anchor="end" fill="#3a3a3a" stroke="#3a3a3a" stroke-width="0">-10<tspan font-size="2.6" dy="-1.5">4</tspan></text>
<line x1="387.1" y1="344.8" x2="388.3" y2="344.8" stroke="#222" stroke-width="0.5"/>
<text x="391" y="356.9" font-size="3.9" text-anchor="middle" fill="#3a3a3a" stroke="#3a3a3a" stroke-width="0">-10<tspan font-size="2.6" dy="-1.5">3</tspan></text>
<line x1="391" y1="347.9" x2="391" y2="349.1" stroke="#222" stroke-width="0.5"/>
<text x="409" y="356.9" font-size="3.9" text-anchor="middle" fill="#3a3a3a" stroke="#3a3a3a" stroke-width="0">0</text>
<line x1="409" y1="347.9" x2="409" y2="349.1" stroke="#222" stroke-width="0.5"/>
<text x="429" y="356.9" font-size="3.9" text-anchor="middle" fill="#3a3a3a" stroke="#3a3a3a" stroke-width="0">10<tspan font-size="2.6" dy="-1.5">3</tspan></text>
<line x1="429" y1="347.9" x2="429" y2="349.1" stroke="#222" stroke-width="0.5"/>
<line x1="388" y1="348.7" x2="439.8" y2="348.7" stroke="#333" stroke-width="0.8" stroke-dasharray="0.5 2.1"/>
<line x1="387.5" y1="296.5" x2="387.5" y2="348.2" stroke="#333" stroke-width="0.8" stroke-dasharray="0.5 2.1"/>
<line x1="407.7" y1="348.6" x2="410.3" y2="348.6" stroke="#000" stroke-width="1.0"/>
<line x1="387.5" y1="326.2" x2="387.5" y2="328.8" stroke="#000" stroke-width="1.0"/>
<rect x="392.6" y="316.2" width="22.8" height="25.4" fill="#000" fill-opacity="0.06"/>
<rect x="417.4" y="321.2" width="14.2" height="20.4" fill="#000" fill-opacity="0.06"/>
<ellipse cx="424.6" cy="311.4" rx="8.8" ry="4.9" transform="rotate(-9 424.6 311.4)" fill="#000" fill-opacity="1.0" filter="url(#b2)"/>
<ellipse cx="429.4" cy="308.2" rx="4.8" ry="2.8" transform="rotate(-20 429.4 308.2)" fill="#000" fill-opacity="1.0" filter="url(#b2)"/>
<ellipse cx="419" cy="312.6" rx="5" ry="4" transform="rotate(0 419 312.6)" fill="#000" fill-opacity="0.95" filter="url(#b2)"/>
<ellipse cx="405" cy="310.9" rx="11.5" ry="2" transform="rotate(0 405 310.9)" fill="#000" fill-opacity="1.0" filter="url(#b3)"/>
<ellipse cx="409" cy="310.9" rx="8" ry="1.7" transform="rotate(0 409 310.9)" fill="#000" fill-opacity="0.85" filter="url(#b2)"/>
<path d="M406.1 325.4h0.42M424.7 305.2h0.42M421.8 317.1h0.42M416.3 318.2h0.42M424.0 315.1h0.42M417.6 315.7h0.42M420.4 309.5h0.42M417.1 324.7h0.42M423.2 308.6h0.42M422.7 321.1h0.42M434.0 307.9h0.42M426.2 317.3h0.42M420.1 308.7h0.42M417.3 315.2h0.42M417.1 308.8h0.42M423.3 318.2h0.42M428.1 311.3h0.42M435.7 306.6h0.42M421.7 307.3h0.42M428.9 311.6h0.42M411.5 312.6h0.42M436.8 313.7h0.42M425.6 317.3h0.42M412.1 312.4h0.42M413.9 311.9h0.42M421.8 316.6h0.42M431.7 316.3h0.42M424.2 315.9h0.42M417.9 313.6h0.42M425.5 308.7h0.42M428.4 318.3h0.42M413.6 304.8h0.42M423.1 308.5h0.42M424.4 311.1h0.42M427.1 318.2h0.42M428.8 310.4h0.42M412.9 304.0h0.42M408.1 313.5h0.42M423.5 310.1h0.42M417.7 307.1h0.42M410.5 308.3h0.42M425.4 303.2h0.42M427.0 308.0h0.42M427.3 313.5h0.42M429.9 317.5h0.42M416.9 310.2h0.42M419.4 310.5h0.42M427.5 311.6h0.42M423.7 315.2h0.42M421.3 319.1h0.42M411.0 317.5h0.42M425.6 308.8h0.42M419.5 318.6h0.42M418.6 304.9h0.42M415.1 320.2h0.42M418.6 320.8h0.42M432.0 309.9h0.42M425.7 308.4h0.42M419.5 310.7h0.42M425.5 306.2h0.42M422.2 313.7h0.42M424.0 302.5h0.42M409.9 312.2h0.42M421.6 314.2h0.42M426.6 322.2h0.42M428.1 314.8h0.42M420.6 317.6h0.42M428.4 315.1h0.42M422.9 316.2h0.42M432.3 306.9h0.42M409.3 320.7h0.42M427.6 310.8h0.42M423.2 326.7h0.42M418.3 308.3h0.42M420.3 316.3h0.42M418.3 312.4h0.42M424.4 310.6h0.42M423.7 312.7h0.42M415.8 315.3h0.42M416.1 319.5h0.42M416.3 313.7h0.42M410.1 314.2h0.42M416.2 322.2h0.42M422.7 315.8h0.42M409.6 310.4h0.42M420.1 307.2h0.42M430.1 309.3h0.42M424.2 314.3h0.42M422.7 317.0h0.42M418.7 316.0h0.42M431.1 312.1h0.42M423.3 311.4h0.42M424.0 316.1h0.42M419.2 305.8h0.42M423.7 312.2h0.42M426.0 312.5h0.42M431.9 304.9h0.42M417.1 317.8h0.42M416.3 316.4h0.42M420.4 304.1h0.42M428.9 318.3h0.42M422.5 306.4h0.42M426.8 307.0h0.42M422.5 315.2h0.42M415.6 306.7h0.42M421.8 313.2h0.42M416.2 311.0h0.42M427.6 311.4h0.42M418.9 311.2h0.42M424.0 313.2h0.42M420.0 307.1h0.42M419.6 310.9h0.42M424.5 318.3h0.42M429.8 314.4h0.42M423.1 311.4h0.42M424.4 310.4h0.42M419.5 309.9h0.42M422.3 312.8h0.42M435.6 312.5h0.42M421.1 317.2h0.42M420.8 318.5h0.42M431.2 324.9h0.42M415.5 314.6h0.42M422.3 314.6h0.42M426.3 307.5h0.42M418.3 315.7h0.42M427.8 306.4h0.42M413.8 320.9h0.42M429.5 316.6h0.42M416.1 313.8h0.42M424.7 314.7h0.42M421.9 313.1h0.42M428.9 309.5h0.42M418.6 312.1h0.42M419.5 314.5h0.42M420.9 311.5h0.42M432.4 312.1h0.42M422.0 319.3h0.42M419.1 314.0h0.42M421.5 310.7h0.42M420.3 314.1h0.42M412.9 313.7h0.42M424.7 313.9h0.42M427.3 323.1h0.42M426.9 311.4h0.42M421.9 313.3h0.42M425.2 311.1h0.42M431.3 305.7h0.42M427.4 314.3h0.42M416.0 317.8h0.42M425.6 309.3h0.42M438.5 312.4h0.42M420.0 311.5h0.42M418.2 315.5h0.42M421.5 306.7h0.42M415.2 311.6h0.42M419.7 312.2h0.42M419.1 317.0h0.42M428.9 311.9h0.42M408.4 316.0h0.42M426.2 311.8h0.42M424.6 313.1h0.42M410.2 304.4h0.42M426.1 309.8h0.42M425.0 311.1h0.42M423.1 319.4h0.42M415.0 315.0h0.42M415.7 315.2h0.42M426.5 315.2h0.42M422.1 306.7h0.42M425.3 316.6h0.42M431.5 320.9h0.42M425.2 307.7h0.42M419.4 314.3h0.42M428.1 306.3h0.42M429.3 314.5h0.42M417.8 317.2h0.42M417.8 314.3h0.42M421.0 314.6h0.42M415.7 317.3h0.42M408.3 314.9h0.42M420.8 321.0h0.42M425.6 310.1h0.42M417.0 314.7h0.42M421.2 324.0h0.42M404.9 317.9h0.42M408.0 321.7h0.42M419.3 321.5h0.42M420.4 318.8h0.42M425.3 318.0h0.42M419.5 299.9h0.42M416.3 307.4h0.42M429.4 313.9h0.42M423.3 315.1h0.42M423.3 310.2h0.42M435.6 310.9h0.42M419.8 306.9h0.42M418.7 314.2h0.42M421.0 311.3h0.42M421.1 308.2h0.42M421.0 306.2h0.42M416.3 311.2h0.42M428.9 313.8h0.42M421.9 307.9h0.42M421.0 317.3h0.42M429.1 304.5h0.42M420.1 314.3h0.42M425.0 312.6h0.42M425.4 305.6h0.42M431.5 305.5h0.42M423.7 315.3h0.42M431.3 315.2h0.42M429.8 317.3h0.42M422.6 316.7h0.42M431.8 307.2h0.42M412.6 311.0h0.42M433.3 316.3h0.42M420.7 314.8h0.42M427.0 317.0h0.42M410.0 313.8h0.42M421.5 315.0h0.42M422.9 311.6h0.42M421.8 301.3h0.42M427.8 308.8h0.42M427.8 321.6h0.42M434.7 310.5h0.42M415.0 315.9h0.42M421.9 317.4h0.42M414.4 314.4h0.42M424.1 310.6h0.42M428.4 306.4h0.42M414.5 313.6h0.42M427.9 310.4h0.42M419.9 317.7h0.42M423.7 310.4h0.42M423.4 311.9h0.42M427.0 312.8h0.42M417.1 312.3h0.42M420.6 315.5h0.42M424.4 308.8h0.42M422.0 314.8h0.42M430.3 312.4h0.42M435.6 310.0h0.42M427.3 310.5h0.42M416.5 315.3h0.42M426.4 313.8h0.42M423.4 311.4h0.42M417.2 313.2h0.42M427.0 316.6h0.42M402.2 321.3h0.42M431.3 317.0h0.42M426.1 315.5h0.42M419.9 313.5h0.42M425.0 307.4h0.42M417.9 315.3h0.42M414.2 315.6h0.42M413.4 316.5h0.42M422.4 310.6h0.42M416.2 312.4h0.42M407.8 315.1h0.42M425.0 318.3h0.42M419.3 313.2h0.42M433.9 318.6h0.42M420.9 318.6h0.42M431.1 313.5h0.42M415.4 310.6h0.42M429.3 322.6h0.42M423.5 320.4h0.42M433.8 304.4h0.42M420.7 320.9h0.42M429.8 314.0h0.42M423.5 316.0h0.42M421.6 325.4h0.42M413.3 307.0h0.42M425.5 319.3h0.42M419.6 313.7h0.42M416.1 314.5h0.42M415.1 310.4h0.42M412.6 313.1h0.42M434.9 309.8h0.42M426.7 322.8h0.42M417.6 309.7h0.42M424.8 306.8h0.42M426.3 317.8h0.42M415.2 312.6h0.42M432.7 305.6h0.42M418.7 315.3h0.42M419.8 309.9h0.42M432.6 307.9h0.42M424.5 310.8h0.42M419.8 307.4h0.42M428.4 309.7h0.42M429.8 305.8h0.42M420.2 316.1h0.42M422.8 310.0h0.42M420.5 307.6h0.42M420.2 301.2h0.42M425.5 318.9h0.42M429.6 315.5h0.42M420.7 316.0h0.42M420.1 313.4h0.42M418.3 298.2h0.42M429.4 313.6h0.42M427.3 307.5h0.42M427.9 314.1h0.42M406.2 309.0h0.42M422.4 310.1h0.42M422.0 310.3h0.42M430.4 302.1h0.42M412.8 311.0h0.42M413.3 312.8h0.42M421.1 307.2h0.42M426.7 318.4h0.42M432.3 320.3h0.42M430.2 311.1h0.42M435.3 313.3h0.42M434.9 309.2h0.42M407.8 311.4h0.42M424.7 315.3h0.42M422.7 318.0h0.42M414.6 311.9h0.42M429.4 311.8h0.42M425.2 319.3h0.42M429.2 307.8h0.42M422.3 305.2h0.42M423.3 315.0h0.42M413.4 323.1h0.42M436.6 312.1h0.42M430.7 318.4h0.42M423.0 318.1h0.42M423.7 305.7h0.42M416.4 312.2h0.42M430.1 311.9h0.42M428.9 309.4h0.42M417.0 324.6h0.42M423.1 318.9h0.42M415.5 314.1h0.42M414.2 317.8h0.42M424.2 311.0h0.42M417.0 307.5h0.42M419.0 320.1h0.42M422.2 319.4h0.42M417.3 314.3h0.42M419.7 312.8h0.42M425.7 302.7h0.42M428.6 315.1h0.42M423.1 313.5h0.42M422.4 316.7h0.42M422.4 309.3h0.42M425.1 317.2h0.42M425.5 312.7h0.42M423.8 310.6h0.42M417.9 305.5h0.42M422.9 317.9h0.42M419.4 309.8h0.42M429.1 312.4h0.42M424.5 315.1h0.42M427.5 311.9h0.42M419.6 322.4h0.42M422.5 309.7h0.42M425.6 318.2h0.42M415.3 321.4h0.42M424.4 322.3h0.42M427.2 311.6h0.42M432.6 316.8h0.42M421.0 314.8h0.42M420.7 318.1h0.42M413.7 314.8h0.42M409.9 319.4h0.42M407.4 312.2h0.42M424.3 311.2h0.42M419.1 309.7h0.42M418.0 306.2h0.42M426.0 316.3h0.42M427.9 311.8h0.42M431.5 313.2h0.42M429.7 313.4h0.42M422.4 309.8h0.42M406.7 320.4h0.42M424.5 322.2h0.42M411.2 320.2h0.42M416.9 314.8h0.42M417.7 316.2h0.42M423.8 317.1h0.42M424.5 315.1h0.42M431.9 313.4h0.42M423.6 318.9h0.42M422.8 315.2h0.42M420.2 310.8h0.42M404.4 321.2h0.42M416.4 318.4h0.42M433.2 304.4h0.42M428.6 311.3h0.42M424.6 307.2h0.42M423.4 313.9h0.42M434.7 320.4h0.42M424.7 311.1h0.42M437.3 309.1h0.42M422.8 313.8h0.42M426.9 315.6h0.42M419.2 313.7h0.42M437.0 317.2h0.42M426.3 313.7h0.42M422.8 318.2h0.42M419.9 314.6h0.42M419.5 311.2h0.42M423.4 313.2h0.42M419.3 313.9h0.42M423.0 311.1h0.42M418.7 313.7h0.42M428.9 317.0h0.42M424.0 311.7h0.42M425.1 321.7h0.42M428.0 307.5h0.42M422.2 311.0h0.42M418.9 306.4h0.42M421.8 307.2h0.42M421.1 320.9h0.42M428.6 307.8h0.42M415.4 310.9h0.42M409.9 312.0h0.42M420.2 309.1h0.42M428.0 311.8h0.42M421.7 321.9h0.42M427.8 312.4h0.42M436.6 316.0h0.42M419.0 315.8h0.42M418.7 307.6h0.42M437.1 316.8h0.42M415.5 317.5h0.42M413.8 320.7h0.42M422.5 312.1h0.42M431.3 311.2h0.42M422.5 317.7h0.42M422.2 317.6h0.42M424.1 316.9h0.42M428.1 315.7h0.42M418.8 323.3h0.42M424.1 321.4h0.42M419.0 313.0h0.42M422.8 318.8h0.42M420.9 315.8h0.42M412.4 313.7h0.42M424.5 312.4h0.42M411.5 318.6h0.42M419.1 323.5h0.42M424.5 323.7h0.42M428.0 314.2h0.42M419.9 313.5h0.42M423.9 303.8h0.42M428.3 306.4h0.42M418.3 301.4h0.42M427.0 315.8h0.42M425.4 314.2h0.42M420.9 314.6h0.42M430.6 309.3h0.42M427.3 315.7h0.42M421.9 314.7h0.42M424.0 310.7h0.42M438.6 307.2h0.42M435.6 315.2h0.42M410.1 317.8h0.42M430.8 315.2h0.42M417.5 315.9h0.42M414.1 310.6h0.42M421.8 314.5h0.42M434.1 312.2h0.42M428.7 306.1h0.42M415.0 313.0h0.42M433.1 304.3h0.42M412.6 315.6h0.42M429.1 303.9h0.42M419.9 307.6h0.42M433.5 313.9h0.42M424.9 312.6h0.42M421.7 314.3h0.42M417.8 310.3h0.42M415.8 315.2h0.42M418.9 318.5h0.42M409.9 319.3h0.42M428.0 317.8h0.42M419.7 306.9h0.42M418.3 319.9h0.42M420.6 311.9h0.42M419.2 313.9h0.42M419.8 306.6h0.42M420.3 318.8h0.42M432.5 310.2h0.42M421.2 320.2h0.42M420.6 308.2h0.42M423.1 316.6h0.42M432.8 308.4h0.42M426.3 310.8h0.42M430.9 312.5h0.42M423.7 308.3h0.42M420.6 312.3h0.42M400.3 323.2h0.42M422.8 312.3h0.42M420.7 314.0h0.42M423.2 306.9h0.42M424.0 313.5h0.42M421.5 306.5h0.42M420.7 307.7h0.42M426.9 318.6h0.42M428.4 310.2h0.42M418.8 311.6h0.42M424.6 309.6h0.42M416.6 302.8h0.42M416.5 311.1h0.42M420.9 319.6h0.42M412.6 309.5h0.42M425.9 307.8h0.42M422.2 314.3h0.42M422.3 309.7h0.42M430.8 318.4h0.42M416.1 313.7h0.42M429.0 310.7h0.42M416.0 313.0h0.42M427.4 307.3h0.42M425.2 314.5h0.42M419.4 316.9h0.42M428.6 316.6h0.42M427.5 304.9h0.42M429.6 314.3h0.42M428.5 307.7h0.42M429.4 313.4h0.42M416.9 320.9h0.42M416.7 309.9h0.42M425.0 309.8h0.42M425.2 311.5h0.42M425.9 316.4h0.42M423.8 317.2h0.42M427.7 308.0h0.42M429.4 314.6h0.42M425.2 318.0h0.42M434.8 313.9h0.42M413.9 317.7h0.42M421.9 312.2h0.42M425.0 311.2h0.42M434.1 311.7h0.42M424.1 316.7h0.42M429.7 317.2h0.42M427.2 312.0h0.42M421.5 303.3h0.42M414.7 320.4h0.42M423.1 322.0h0.42M433.5 304.6h0.42M428.5 325.7h0.42M418.4 316.3h0.42M421.3 312.5h0.42M421.3 313.6h0.42M427.2 308.3h0.42M425.6 309.2h0.42M426.9 313.8h0.42M418.2 315.2h0.42M417.3 310.7h0.42M428.7 303.1h0.42M427.6 315.5h0.42M420.5 319.2h0.42M427.6 305.9h0.42M427.1 314.5h0.42M418.9 317.1h0.42M427.2 308.7h0.42M410.5 318.4h0.42M416.3 306.7h0.42M417.9 303.1h0.42M422.6 320.6h0.42M404.9 320.1h0.42M416.6 312.9h0.42M417.9 317.7h0.42M422.2 309.7h0.42M414.0 313.5h0.42M429.3 305.8h0.42M426.3 314.1h0.42M411.2 321.6h0.42M425.4 323.4h0.42M434.3 309.2h0.42M421.0 309.0h0.42M415.0 319.2h0.42M421.0 311.9h0.42M422.8 316.6h0.42M429.4 311.7h0.42M422.0 314.0h0.42M434.4 300.3h0.42M416.0 317.4h0.42M425.5 318.6h0.42M434.1 320.0h0.42M418.6 317.4h0.42M422.7 318.1h0.42M425.4 317.0h0.42M418.4 315.3h0.42M419.5 312.9h0.42M419.0 309.3h0.42M430.9 312.7h0.42M429.3 306.9h0.42M409.5 313.6h0.42M423.1 317.1h0.42M431.6 317.0h0.42M434.3 314.0h0.42M423.0 309.6h0.42M427.2 309.8h0.42M418.5 317.3h0.42M425.7 316.8h0.42M419.8 319.8h0.42M425.4 311.9h0.42M416.9 309.6h0.42M415.8 322.0h0.42M414.5 318.6h0.42M420.9 311.1h0.42M419.9 313.6h0.42M429.9 314.3h0.42M421.6 307.0h0.42M413.5 324.8h0.42M414.7 307.8h0.42M428.9 304.5h0.42M429.2 316.3h0.42M426.0 317.2h0.42M412.5 310.1h0.42M421.9 313.6h0.42M423.2 315.5h0.42M415.8 304.8h0.42M425.6 311.5h0.42M431.0 321.4h0.42M424.4 315.8h0.42M418.3 318.9h0.42M425.7 313.8h0.42M428.0 306.5h0.42M427.5 314.4h0.42M431.7 302.3h0.42M425.1 323.4h0.42M419.9 312.0h0.42M438.0 321.7h0.42M423.1 309.8h0.42M418.8 312.5h0.42M416.6 311.0h0.42M424.4 313.1h0.42M426.4 312.6h0.42M416.0 318.7h0.42M424.1 310.2h0.42M421.7 315.2h0.42M423.5 312.5h0.42M429.5 316.8h0.42M421.0 313.7h0.42M415.6 314.4h0.42M427.3 316.4h0.42M424.2 312.6h0.42M416.7 319.2h0.42M414.8 319.2h0.42M419.5 313.9h0.42M421.6 316.4h0.42M422.7 315.0h0.42M423.8 323.4h0.42M421.6 320.6h0.42M416.6 316.8h0.42M410.6 318.9h0.42M414.6 319.2h0.42M409.1 316.2h0.42M420.8 319.0h0.42M411.5 317.6h0.42M433.5 318.1h0.42M418.6 306.3h0.42M415.9 320.6h0.42M421.6 319.1h0.42M425.0 317.0h0.42M422.9 309.5h0.42M432.3 313.8h0.42M418.1 324.2h0.42M423.9 320.9h0.42M417.2 319.3h0.42M422.7 312.2h0.42M418.8 316.8h0.42M418.1 315.0h0.42M414.1 320.5h0.42M422.2 321.9h0.42M419.2 314.9h0.42M412.9 319.3h0.42M420.2 326.0h0.42M432.8 321.6h0.42M414.4 312.8h0.42M418.2 314.2h0.42M427.2 316.6h0.42M418.0 317.9h0.42M425.6 312.5h0.42M421.4 311.7h0.42M418.5 315.1h0.42M421.8 317.8h0.42M426.6 319.1h0.42M416.0 312.8h0.42M415.6 316.6h0.42M418.3 314.7h0.42M426.2 320.2h0.42M418.3 315.8h0.42M418.8 317.6h0.42M418.6 311.0h0.42M416.4 310.4h0.42M420.8 320.2h0.42M414.9 319.3h0.42M416.4 315.3h0.42M430.6 319.1h0.42M422.1 315.3h0.42M421.9 316.3h0.42M421.6 313.4h0.42M419.4 316.0h0.42M414.4 325.8h0.42M423.5 313.5h0.42M412.1 316.1h0.42M415.3 315.9h0.42M411.8 315.7h0.42M420.7 319.1h0.42M410.1 319.5h0.42M414.2 314.3h0.42M417.9 315.1h0.42M424.1 319.6h0.42M418.0 315.2h0.42M430.5 323.2h0.42M421.8 316.5h0.42M426.2 322.3h0.42M418.9 325.3h0.42M420.1 322.1h0.42M417.5 318.3h0.42M417.8 318.1h0.42M424.4 312.8h0.42M419.0 320.0h0.42M419.3 326.2h0.42M414.8 329.3h0.42M417.5 322.1h0.42M428.6 318.0h0.42M412.7 317.6h0.42M420.8 319.7h0.42M425.9 321.1h0.42M426.6 312.1h0.42M423.6 309.4h0.42M419.9 313.0h0.42M411.8 323.1h0.42M420.7 321.6h0.42M411.0 314.2h0.42M419.0 314.9h0.42M419.9 314.9h0.42M417.3 313.2h0.42M426.2 314.9h0.42M414.6 321.5h0.42M422.6 317.9h0.42M420.8 315.7h0.42M417.5 308.6h0.42M411.1 314.1h0.42M422.5 322.2h0.42M419.0 316.6h0.42M425.4 314.9h0.42M423.7 318.6h0.42M413.6 320.2h0.42M420.1 312.6h0.42M413.7 313.4h0.42M428.7 324.7h0.42M424.9 323.2h0.42M414.3 324.6h0.42M431.3 322.1h0.42M416.1 322.9h0.42M420.3 322.0h0.42M416.8 318.2h0.42M417.5 320.0h0.42M420.4 322.2h0.42M424.5 318.4h0.42M419.6 316.3h0.42M420.7 320.6h0.42M420.9 318.6h0.42M419.8 317.2h0.42M415.1 310.5h0.42M423.4 319.2h0.42M416.7 326.3h0.42M414.9 322.8h0.42M421.6 318.5h0.42M426.6 320.1h0.42M419.3 313.1h0.42M414.0 319.5h0.42M428.8 319.5h0.42M420.1 318.9h0.42M424.9 323.9h0.42M416.8 321.3h0.42M420.8 314.1h0.42M415.9 323.8h0.42M421.5 316.3h0.42M421.4 321.4h0.42M421.8 324.0h0.42M418.1 314.6h0.42M418.7 313.8h0.42M419.3 322.9h0.42M429.2 318.4h0.42M420.3 313.6h0.42M415.2 320.1h0.42M420.4 315.0h0.42M419.1 324.4h0.42M425.1 316.7h0.42M422.3 322.5h0.42M422.1 318.1h0.42M410.6 312.2h0.42M408.4 310.2h0.42M420.2 318.9h0.42M416.0 320.2h0.42M422.2 316.7h0.42M413.7 325.0h0.42M426.6 313.7h0.42M429.9 315.7h0.42M415.7 316.6h0.42M410.3 318.0h0.42M412.8 323.8h0.42M420.5 311.5h0.42M421.5 309.9h0.42M421.2 319.3h0.42M419.4 312.8h0.42M419.3 316.9h0.42M421.6 323.6h0.42M430.0 322.3h0.42M416.2 315.1h0.42M420.5 319.3h0.42M409.0 317.1h0.42M428.1 310.6h0.42M415.7 315.4h0.42M422.5 316.7h0.42M417.1 311.6h0.42M423.1 316.9h0.42M416.6 318.3h0.42M422.8 310.6h0.42M411.3 314.9h0.42M413.0 305.9h0.42M417.9 322.7h0.42M419.2 322.0h0.42M405.2 320.0h0.42M428.4 322.5h0.42M416.8 314.6h0.42M420.9 312.1h0.42M416.7 311.0h0.42M420.4 317.4h0.42M428.6 317.3h0.42M416.6 317.8h0.42M413.5 319.0h0.42M419.3 319.5h0.42M423.1 308.3h0.42M422.3 320.2h0.42M415.5 326.6h0.42M418.4 328.4h0.42M424.8 320.7h0.42M422.2 321.4h0.42M414.0 315.2h0.42M410.4 321.8h0.42M417.0 321.3h0.42M421.9 311.4h0.42M423.8 317.8h0.42M421.4 319.2h0.42M419.9 317.6h0.42M424.6 312.3h0.42M413.2 315.6h0.42M425.0 315.1h0.42M427.2 302.8h0.42M416.0 316.4h0.42M422.5 322.7h0.42M418.2 313.5h0.42M425.6 323.0h0.42M407.4 322.5h0.42M420.8 313.8h0.42M417.8 319.2h0.42M419.9 316.4h0.42M414.3 319.9h0.42M416.7 318.5h0.42M417.2 318.9h0.42M424.0 317.7h0.42M422.2 311.1h0.42M422.6 318.2h0.42M416.7 317.5h0.42M405.8 320.7h0.42M416.0 308.6h0.42M422.0 314.3h0.42M421.2 316.2h0.42M422.5 317.3h0.42M418.9 319.8h0.42M422.3 307.3h0.42M419.6 315.0h0.42M415.4 324.0h0.42M424.0 312.2h0.42M415.0 322.0h0.42M416.5 316.8h0.42M409.8 319.0h0.42M425.4 314.4h0.42M420.8 324.8h0.42M425.6 322.4h0.42M424.2 321.8h0.42M410.8 315.8h0.42M413.4 328.3h0.42M420.8 316.8h0.42M415.3 314.1h0.42M407.5 329.6h0.42M419.6 317.8h0.42M412.7 318.7h0.42M421.8 316.8h0.42M422.4 313.4h0.42M422.4 320.8h0.42M423.1 318.5h0.42M418.6 313.5h0.42M422.4 315.3h0.42M415.8 321.6h0.42M411.3 316.8h0.42M424.7 320.6h0.42M418.1 318.1h0.42M422.7 316.6h0.42M416.4 320.1h0.42M420.9 317.7h0.42M425.9 317.6h0.42M417.8 318.6h0.42M429.3 312.5h0.42M417.9 314.5h0.42M420.7 311.9h0.42M422.9 320.1h0.42M415.3 314.8h0.42M412.4 319.2h0.42M413.7 316.1h0.42M417.2 315.1h0.42M425.5 323.2h0.42M408.4 316.3h0.42M420.4 312.9h0.42M417.4 318.9h0.42M428.0 320.9h0.42M418.6 318.3h0.42M418.0 317.1h0.42M412.5 311.4h0.42M418.9 321.9h0.42M422.3 309.0h0.42M418.5 315.1h0.42M420.5 312.7h0.42M424.4 315.7h0.42M423.6 320.5h0.42M409.9 318.6h0.42M427.7 316.0h0.42M425.6 318.1h0.42M417.7 319.2h0.42M426.4 321.7h0.42M426.4 311.4h0.42M423.0 311.0h0.42M419.1 316.8h0.42M423.4 318.1h0.42M425.8 313.7h0.42M424.6 318.2h0.42M419.0 312.6h0.42M423.1 318.2h0.42M424.0 316.5h0.42M419.0 319.4h0.42M422.9 319.8h0.42M429.1 313.0h0.42M427.7 303.2h0.42M424.2 313.1h0.42M429.4 311.8h0.42M424.6 312.3h0.42M414.9 322.0h0.42M423.8 313.7h0.42M431.9 313.7h0.42M427.1 311.7h0.42M415.2 318.9h0.42M415.2 320.4h0.42M409.2 320.4h0.42M416.3 314.1h0.42M420.9 316.4h0.42M418.4 321.3h0.42M421.8 318.7h0.42M426.7 315.8h0.42M423.9 314.9h0.42M423.5 319.0h0.42M415.9 311.8h0.42M412.7 314.9h0.42M407.7 310.6h0.42M402.0 311.6h0.42M408.9 313.2h0.42M399.9 311.7h0.42M408.8 309.2h0.42M404.8 309.2h0.42M402.5 311.5h0.42M392.5 309.3h0.42M398.5 311.0h0.42M399.0 311.4h0.42M398.2 309.9h0.42M408.1 311.3h0.42M405.0 310.7h0.42M410.8 313.1h0.42M401.5 309.6h0.42M396.9 313.7h0.42M397.9 308.6h0.42M405.8 312.6h0.42M395.6 310.6h0.42M394.3 309.6h0.42M415.0 311.1h0.42M402.2 310.9h0.42M405.9 310.6h0.42M396.0 308.8h0.42M417.6 309.5h0.42M412.1 309.6h0.42M412.8 312.0h0.42M402.6 314.2h0.42M397.7 310.4h0.42M398.2 309.5h0.42M401.5 309.2h0.42M401.8 313.5h0.42M392.2 308.7h0.42M397.6 310.0h0.42M410.8 312.0h0.42M407.2 311.1h0.42M420.2 308.9h0.42M396.2 310.8h0.42M405.4 310.4h0.42M398.3 308.6h0.42M402.1 309.6h0.42M400.7 309.0h0.42M413.0 311.6h0.42M416.5 309.9h0.42M404.4 310.4h0.42M404.1 310.4h0.42M402.9 307.5h0.42M402.2 312.0h0.42M390.8 310.2h0.42M407.9 312.9h0.42M403.4 311.6h0.42M415.8 313.0h0.42M400.9 309.8h0.42M410.9 311.2h0.42M400.3 310.4h0.42M406.1 310.5h0.42M402.3 310.4h0.42M393.9 313.7h0.42M412.2 313.4h0.42M403.1 311.0h0.42M407.9 312.2h0.42M391.7 311.4h0.42M397.3 310.7h0.42M399.5 313.7h0.42M407.6 310.8h0.42M413.4 310.7h0.42M399.1 310.5h0.42M401.5 310.9h0.42M409.7 310.6h0.42M403.6 312.5h0.42M405.9 312.4h0.42M404.9 308.6h0.42M396.4 308.0h0.42M411.7 311.5h0.42M400.8 309.1h0.42M406.4 310.6h0.42M406.2 309.4h0.42M396.5 313.4h0.42M397.6 310.8h0.42M413.0 307.7h0.42M408.7 310.9h0.42M403.0 311.3h0.42M396.0 307.1h0.42M416.7 310.3h0.42M410.0 312.7h0.42M405.9 311.6h0.42M408.8 313.5h0.42M407.3 312.9h0.42M402.0 310.1h0.42M404.6 311.5h0.42M407.6 314.1h0.42M409.7 310.9h0.42M417.4 311.4h0.42M406.4 311.6h0.42M401.8 309.0h0.42M404.9 310.3h0.42M398.2 311.0h0.42M402.7 309.8h0.42M392.1 310.5h0.42M415.8 312.3h0.42M411.3 310.8h0.42M411.1 309.7h0.42M400.9 311.7h0.42M394.4 310.9h0.42M406.0 313.6h0.42M399.3 311.5h0.42M399.6 309.9h0.42M411.8 311.7h0.42M405.1 315.0h0.42M407.7 308.7h0.42M402.7 310.7h0.42M414.8 309.3h0.42M406.9 312.4h0.42M398.6 311.0h0.42M390.5 311.0h0.42M389.2 310.2h0.42M415.6 311.5h0.42M404.4 311.1h0.42M418.5 311.7h0.42M411.0 310.1h0.42M401.1 309.1h0.42M402.9 309.6h0.42M410.7 311.9h0.42M403.2 309.9h0.42M406.1 311.9h0.42M405.1 309.1h0.42M402.6 310.0h0.42M408.0 307.7h0.42M400.2 312.4h0.42M405.4 309.4h0.42M407.1 311.3h0.42M398.1 312.0h0.42M408.6 310.6h0.42M410.4 308.8h0.42M409.2 310.5h0.42M397.7 309.8h0.42M411.9 309.9h0.42M401.7 309.7h0.42M398.7 312.4h0.42M418.9 313.1h0.42M407.4 312.1h0.42M401.7 310.0h0.42M396.2 313.2h0.42M401.8 309.6h0.42M399.8 311.1h0.42M400.4 310.8h0.42M405.2 313.1h0.42M395.7 311.3h0.42M399.4 310.1h0.42M414.9 311.9h0.42M401.4 311.6h0.42M403.9 312.7h0.42M400.8 311.6h0.42M402.7 310.8h0.42M403.0 309.8h0.42M404.8 312.5h0.42M400.0 310.2h0.42M406.5 309.5h0.42M409.9 312.0h0.42M396.8 312.2h0.42M410.4 308.8h0.42M399.5 310.7h0.42M401.6 312.0h0.42M410.6 311.8h0.42M411.4 312.4h0.42M403.6 310.1h0.42M399.1 312.2h0.42M410.0 312.5h0.42M401.9 310.2h0.42M405.9 312.9h0.42M406.5 311.2h0.42M398.5 311.6h0.42M407.7 309.2h0.42M415.9 309.3h0.42M410.3 310.5h0.42M405.2 309.5h0.42M400.3 312.0h0.42M402.8 310.2h0.42M410.0 312.0h0.42M405.2 311.2h0.42M415.6 310.5h0.42M406.7 311.5h0.42M394.7 307.6h0.42M404.9 312.3h0.42M405.4 309.9h0.42M399.7 312.2h0.42M402.1 308.1h0.42M408.7 311.2h0.42M406.6 312.6h0.42M413.0 311.8h0.42M402.9 307.3h0.42M406.1 310.6h0.42M412.9 313.0h0.42M407.3 313.1h0.42M403.6 310.8h0.42M398.4 310.3h0.42M405.5 312.6h0.42M399.2 312.2h0.42M419.8 308.6h0.42M402.4 310.9h0.42M410.8 314.1h0.42M412.3 310.8h0.42M398.4 310.7h0.42M403.8 311.2h0.42M398.1 313.4h0.42M399.2 312.0h0.42M405.5 309.0h0.42M404.5 310.9h0.42M402.8 312.2h0.42M400.9 315.1h0.42M411.6 309.3h0.42M405.8 311.0h0.42M397.5 308.4h0.42M391.6 315.1h0.42M414.8 309.9h0.42M416.7 307.7h0.42M408.8 312.0h0.42M398.3 310.0h0.42M397.1 310.9h0.42M412.9 312.5h0.42M406.9 312.7h0.42M392.0 314.2h0.42M403.7 308.6h0.42M401.5 309.7h0.42M404.7 311.3h0.42M415.7 309.1h0.42M414.0 312.9h0.42M410.9 313.6h0.42M394.7 312.0h0.42M397.2 314.8h0.42M397.5 308.7h0.42M411.6 311.9h0.42M404.2 311.0h0.42M408.2 313.7h0.42M399.2 309.9h0.42M400.1 310.7h0.42M404.1 308.6h0.42M406.1 308.7h0.42M401.9 310.4h0.42M402.4 313.3h0.42M415.1 312.6h0.42M414.8 310.3h0.42M413.6 310.7h0.42M405.6 311.3h0.42M394.9 309.8h0.42M402.9 311.4h0.42M403.2 309.4h0.42M396.1 310.8h0.42M396.0 308.8h0.42M403.3 311.1h0.42M398.4 307.8h0.42M406.0 312.2h0.42M401.2 310.2h0.42M396.6 312.0h0.42M400.0 310.6h0.42M402.7 307.7h0.42M422.7 308.1h0.42M404.7 309.4h0.42M402.4 313.1h0.42M391.3 310.6h0.42M407.3 311.0h0.42M406.7 309.5h0.42M392.8 308.6h0.42M401.2 312.1h0.42M404.5 313.5h0.42M404.7 311.1h0.42M405.4 307.9h0.42M407.9 308.9h0.42M401.4 314.8h0.42M395.6 311.0h0.42M406.0 311.0h0.42M404.0 309.9h0.42M417.5 307.4h0.42M397.0 313.3h0.42M407.7 309.5h0.42M397.9 310.4h0.42M422.0 311.6h0.42M397.0 311.2h0.42M399.7 313.3h0.42M406.0 312.9h0.42M405.1 314.3h0.42M406.8 311.3h0.42M397.1 310.1h0.42M406.7 310.0h0.42M420.9 310.8h0.42M398.8 312.5h0.42M400.4 311.5h0.42M403.4 309.6h0.42M413.4 311.0h0.42M411.4 310.2h0.42M394.3 308.7h0.42M400.5 310.5h0.42M404.4 311.7h0.42M395.5 311.2h0.42M395.7 309.6h0.42M421.4 313.0h0.42M401.5 313.8h0.42M413.6 312.3h0.42M414.0 310.4h0.42M403.2 309.3h0.42M408.0 308.7h0.42M400.6 311.6h0.42M400.6 311.4h0.42M416.4 309.1h0.42M413.5 309.6h0.42M397.6 311.2h0.42M411.0 309.6h0.42M399.0 310.1h0.42M399.1 311.1h0.42M399.2 310.4h0.42M406.4 310.1h0.42M411.8 309.6h0.42M398.8 314.3h0.42M414.2 310.9h0.42M409.6 311.4h0.42M400.5 311.9h0.42M406.1 313.0h0.42M391.5 312.2h0.42M405.1 309.6h0.42M401.1 310.1h0.42M395.0 309.8h0.42M409.3 308.2h0.42M401.4 306.8h0.42M400.1 311.5h0.42M403.7 310.9h0.42M396.4 311.8h0.42M397.9 312.3h0.42M405.4 310.1h0.42M414.1 310.1h0.42M411.0 311.0h0.42M404.0 312.5h0.42M407.0 310.8h0.42M403.2 311.2h0.42M404.6 310.2h0.42M397.0 306.4h0.42M403.2 310.4h0.42M412.3 311.6h0.42M411.8 313.8h0.42M403.3 309.4h0.42M409.6 309.8h0.42M402.3 313.2h0.42M407.8 312.7h0.42M394.8 310.9h0.42M411.6 308.6h0.42M405.4 311.5h0.42M399.2 310.6h0.42M415.4 307.8h0.42M407.2 310.0h0.42M404.3 309.4h0.42M413.3 308.9h0.42M406.5 311.7h0.42M403.4 310.3h0.42M402.2 312.5h0.42M407.1 310.7h0.42M396.6 311.1h0.42M407.6 310.8h0.42M413.8 307.6h0.42M421.0 310.5h0.42M396.3 307.8h0.42M409.9 311.8h0.42M402.5 310.7h0.42M405.2 310.1h0.42M411.9 311.9h0.42M403.2 308.0h0.42M413.4 310.0h0.42M397.0 313.0h0.42M407.4 307.4h0.42M392.7 310.1h0.42M395.5 310.5h0.42M421.8 315.9h0.42M403.8 312.2h0.42M410.1 310.6h0.42M394.0 312.6h0.42M402.8 311.6h0.42M408.9 309.4h0.42M415.5 310.9h0.42M405.6 310.1h0.42M408.9 312.5h0.42M400.3 311.8h0.42M401.1 308.7h0.42M401.8 311.9h0.42M407.8 312.7h0.42M399.5 310.3h0.42M404.6 311.9h0.42M403.3 309.2h0.42M393.5 312.8h0.42M411.4 309.7h0.42M414.2 310.7h0.42M407.2 313.0h0.42M400.8 309.5h0.42M392.2 311.3h0.42M407.2 312.3h0.42M408.2 311.0h0.42M411.9 309.1h0.42M406.8 311.7h0.42M403.3 313.8h0.42M407.1 313.1h0.42M410.2 310.5h0.42M417.3 312.7h0.42M404.2 310.6h0.42M397.0 310.6h0.42M402.5 311.2h0.42M401.2 311.8h0.42M403.5 308.1h0.42M400.7 309.3h0.42M395.4 310.4h0.42M410.4 308.9h0.42M390.4 310.6h0.42M424.5 309.8h0.42M406.0 310.1h0.42M410.0 313.3h0.42M403.0 312.9h0.42M396.7 311.2h0.42M395.5 311.2h0.42M399.9 311.2h0.42M396.5 311.2h0.42M404.9 309.9h0.42M398.7 308.8h0.42M401.4 311.5h0.42M403.2 311.1h0.42M412.8 310.3h0.42M406.2 312.3h0.42M407.7 311.5h0.42M404.7 314.1h0.42M403.6 310.2h0.42M408.2 313.6h0.42M413.8 310.9h0.42M409.9 311.7h0.42M404.7 312.0h0.42M408.4 311.1h0.42M415.9 310.2h0.42M413.7 314.4h0.42M418.6 311.3h0.42M402.9 308.1h0.42M403.8 315.0h0.42M393.5 308.2h0.42M409.9 311.9h0.42M391.7 310.7h0.42M406.5 308.3h0.42M410.7 308.6h0.42M411.9 311.2h0.42M399.4 308.1h0.42M401.8 310.7h0.42M403.3 309.8h0.42M402.7 312.3h0.42M398.0 310.5h0.42M407.3 310.8h0.42M410.1 313.5h0.42M401.7 311.2h0.42M408.7 308.9h0.42M413.2 307.6h0.42M413.4 310.0h0.42M397.2 310.0h0.42M402.3 309.1h0.42M394.7 309.9h0.42M410.6 311.5h0.42M413.3 309.8h0.42M401.7 310.3h0.42M405.1 311.6h0.42M416.1 312.0h0.42M405.2 313.1h0.42M398.8 308.6h0.42M408.7 311.1h0.42M404.9 312.4h0.42M401.8 310.6h0.42M406.7 311.9h0.42M410.8 311.0h0.42M405.9 306.7h0.42M412.4 308.1h0.42M403.8 315.1h0.42M401.9 308.1h0.42M415.1 309.9h0.42M403.0 310.5h0.42M409.1 312.1h0.42M403.2 312.7h0.42M397.9 312.0h0.42M399.8 312.0h0.42M399.5 310.1h0.42M414.1 308.9h0.42M396.1 311.8h0.42M402.2 310.1h0.42M403.1 314.4h0.42M397.0 310.4h0.42M405.2 309.2h0.42M403.8 311.6h0.42M397.8 312.7h0.42M396.3 310.6h0.42M406.3 316.2h0.42M392.1 311.3h0.42M421.2 309.8h0.42M411.4 311.2h0.42M394.3 311.5h0.42M398.0 311.0h0.42M393.8 312.0h0.42M412.8 311.7h0.42M401.6 310.4h0.42M401.1 315.4h0.42M403.7 310.8h0.42M399.0 310.0h0.42M408.2 309.8h0.42M398.5 309.9h0.42M401.6 311.1h0.42M400.7 310.5h0.42M398.9 312.9h0.42M404.6 310.3h0.42M406.0 310.7h0.42M393.3 310.5h0.42M415.2 311.7h0.42M412.0 309.7h0.42M393.9 309.6h0.42M413.2 309.1h0.42M398.6 312.7h0.42M402.3 310.5h0.42M406.6 310.9h0.42M401.9 311.2h0.42M399.1 310.7h0.42M408.5 309.0h0.42M402.5 308.9h0.42M409.1 311.8h0.42M410.4 312.6h0.42M411.0 312.0h0.42M398.7 312.4h0.42M397.8 314.8h0.42M406.0 311.8h0.42M395.6 312.6h0.42M412.0 308.1h0.42M400.2 310.0h0.42M399.6 313.1h0.42M418.7 309.0h0.42M411.1 310.4h0.42M413.3 306.6h0.42M401.0 312.9h0.42M398.8 312.8h0.42M400.5 312.7h0.42M408.0 310.1h0.42M398.8 310.5h0.42M411.9 310.8h0.42M399.5 316.4h0.42M393.3 310.4h0.42M407.7 309.0h0.42M403.9 310.1h0.42M393.9 311.6h0.42M396.2 309.5h0.42M412.4 308.9h0.42M408.1 312.8h0.42M410.7 311.6h0.42M402.4 308.4h0.42M404.9 311.5h0.42M400.5 309.1h0.42M409.9 309.0h0.42M407.0 310.4h0.42M392.1 316.3h0.42M408.2 313.3h0.42M394.0 311.4h0.42M405.9 309.7h0.42M415.5 306.1h0.42M408.8 306.5h0.42M392.9 308.2h0.42M407.9 309.7h0.42M399.1 309.2h0.42M393.4 309.2h0.42M396.9 310.8h0.42M401.1 305.0h0.42M399.2 315.1h0.42M400.4 311.5h0.42M398.6 309.7h0.42M403.1 307.8h0.42M402.4 306.9h0.42M405.8 307.2h0.42M408.0 314.4h0.42M392.1 313.5h0.42M400.6 314.8h0.42M399.7 310.8h0.42M401.3 315.1h0.42M389.8 313.7h0.42M404.0 310.2h0.42M401.7 314.1h0.42M409.1 316.3h0.42M398.8 306.2h0.42M399.4 311.0h0.42M400.2 314.9h0.42M419.2 312.6h0.42M390.8 314.4h0.42M398.8 311.6h0.42M409.2 312.5h0.42M402.8 312.3h0.42M408.6 313.3h0.42M417.8 303.1h0.42M397.8 309.9h0.42M409.0 312.1h0.42M409.2 307.5h0.42M401.7 313.3h0.42M402.9 310.4h0.42M405.2 316.1h0.42M405.2 309.1h0.42M407.9 311.6h0.42M411.7 309.2h0.42M410.0 309.0h0.42M405.5 313.4h0.42M402.7 313.3h0.42M399.1 314.5h0.42M399.7 309.5h0.42M402.4 311.4h0.42M397.4 313.7h0.42M402.4 313.2h0.42M392.8 307.8h0.42M401.4 308.7h0.42M402.3 313.1h0.42M411.1 315.6h0.42M408.8 309.5h0.42M407.1 310.0h0.42M407.0 308.6h0.42M412.7 312.7h0.42M401.3 307.7h0.42M405.2 310.0h0.42M405.0 309.5h0.42M399.5 313.2h0.42M413.6 308.0h0.42M401.9 312.6h0.42M402.2 310.3h0.42M418.4 309.2h0.42M405.8 310.1h0.42M402.6 305.1h0.42M409.5 310.9h0.42M396.5 316.2h0.42M401.3 309.8h0.42M397.4 314.5h0.42M403.5 310.6h0.42M394.0 309.0h0.42M405.7 311.5h0.42M389.2 309.1h0.42M404.9 319.0h0.42M398.0 305.3h0.42M408.7 310.2h0.42M394.0 313.1h0.42M401.7 308.8h0.42M394.1 311.2h0.42M403.9 306.5h0.42M410.2 308.0h0.42M413.1 312.4h0.42M402.0 312.5h0.42M399.1 311.3h0.42M414.8 309.9h0.42M409.0 309.0h0.42M403.2 314.2h0.42M394.9 312.5h0.42M400.4 314.0h0.42M408.3 309.0h0.42M402.4 312.0h0.42M392.3 312.7h0.42M412.8 315.0h0.42M399.2 310.4h0.42M396.7 310.1h0.42M401.5 313.4h0.42M403.9 308.9h0.42M409.0 314.0h0.42M399.0 310.8h0.42M402.6 306.9h0.42M404.2 313.4h0.42M416.9 312.1h0.42M401.3 311.1h0.42M407.6 313.8h0.42M397.3 312.1h0.42M407.9 305.9h0.42M412.9 310.9h0.42M409.4 311.4h0.42M401.6 311.3h0.42M405.3 314.0h0.42M401.5 308.4h0.42M398.4 308.8h0.42M408.7 308.9h0.42M414.0 311.9h0.42M402.7 315.2h0.42M400.8 310.7h0.42M408.8 313.6h0.42M396.4 318.4h0.42M407.4 308.0h0.42M402.2 314.1h0.42M404.9 314.0h0.42M420.0 314.2h0.42M417.5 313.5h0.42M398.8 315.8h0.42M398.5 314.3h0.42M408.0 309.2h0.42M398.5 311.1h0.42M406.3 315.3h0.42M404.0 316.9h0.42M409.7 309.8h0.42M399.3 311.9h0.42M400.0 311.4h0.42M409.1 312.4h0.42M410.5 309.7h0.42M397.6 307.8h0.42M391.2 310.4h0.42M404.2 311.1h0.42M403.8 317.4h0.42M396.1 310.9h0.42M400.3 309.2h0.42M413.2 311.6h0.42M412.5 308.6h0.42M416.9 318.1h0.42M397.7 311.7h0.42M402.9 313.3h0.42M394.7 313.0h0.42M408.9 310.0h0.42M401.1 313.9h0.42M399.5 308.5h0.42M408.2 312.8h0.42M409.0 311.9h0.42M411.2 313.2h0.42M391.4 312.3h0.42M409.3 311.8h0.42M414.1 310.5h0.42M408.7 308.3h0.42M403.9 310.2h0.42M396.9 308.1h0.42M405.4 312.9h0.42M399.4 308.3h0.42M397.7 313.9h0.42M395.5 314.9h0.42M392.2 312.5h0.42M408.5 315.2h0.42M400.9 309.6h0.42M393.9 314.3h0.42M403.0 310.5h0.42M401.0 312.5h0.42M404.1 315.1h0.42M388.8 314.1h0.42M400.2 311.5h0.42M401.7 311.5h0.42M409.2 312.4h0.42M393.8 311.6h0.42M403.2 312.8h0.42M404.2 311.5h0.42M411.1 308.7h0.42M419.2 310.2h0.42M396.7 314.0h0.42M395.1 316.1h0.42M412.2 333.8h0.42M403.0 338.7h0.42M393.4 325.9h0.42M410.0 322.2h0.42M407.8 332.8h0.42M404.1 318.9h0.42M402.1 337.8h0.42M409.4 328.9h0.42M415.0 333.4h0.42M404.1 323.8h0.42M413.2 329.5h0.42M405.2 330.5h0.42M398.1 331.9h0.42M409.0 336.2h0.42M410.7 327.0h0.42M395.5 327.0h0.42M397.5 327.0h0.42M395.3 317.0h0.42M393.5 325.5h0.42M400.3 339.7h0.42M403.9 333.4h0.42M405.9 325.6h0.42M404.0 337.0h0.42M411.6 323.0h0.42M396.7 326.7h0.42M414.6 323.4h0.42M410.0 326.4h0.42M393.8 319.6h0.42M393.9 330.7h0.42M395.1 319.6h0.42M406.7 327.6h0.42M405.6 335.5h0.42M398.5 338.9h0.42M408.1 332.9h0.42M400.4 325.8h0.42M410.7 321.2h0.42M409.4 323.2h0.42M398.0 323.0h0.42M394.2 333.0h0.42M406.7 335.7h0.42M394.5 319.7h0.42M405.7 327.6h0.42M408.0 335.4h0.42M396.0 333.9h0.42M410.3 318.8h0.42M401.8 330.7h0.42M407.1 339.9h0.42M404.5 338.0h0.42M409.0 322.1h0.42M403.9 337.5h0.42M404.6 341.2h0.42M403.4 339.9h0.42M396.2 338.2h0.42M407.1 319.1h0.42M393.2 327.1h0.42M402.2 332.9h0.42M410.5 338.2h0.42M412.3 337.3h0.42M412.0 326.6h0.42M409.7 325.1h0.42M414.9 333.9h0.42M415.3 323.1h0.42M401.9 326.8h0.42M408.1 337.8h0.42M396.2 323.2h0.42M407.1 337.7h0.42M400.2 317.5h0.42M412.7 318.2h0.42M395.7 325.3h0.42M396.3 333.4h0.42M407.4 321.7h0.42M405.5 340.6h0.42M406.9 331.3h0.42M406.3 318.0h0.42M393.7 322.0h0.42M406.4 338.0h0.42M402.7 318.9h0.42M397.1 316.6h0.42M411.6 322.3h0.42M409.5 316.7h0.42M407.7 321.2h0.42M402.1 328.5h0.42M396.3 337.2h0.42M392.6 327.7h0.42M412.6 330.2h0.42M403.4 318.9h0.42M403.7 324.8h0.42M399.4 332.7h0.42M402.2 328.3h0.42M407.0 340.0h0.42M402.8 326.7h0.42M411.5 339.6h0.42M397.0 321.4h0.42M395.4 333.4h0.42M412.2 335.7h0.42M397.1 340.7h0.42M399.7 320.4h0.42M409.6 331.8h0.42M393.3 339.8h0.42M404.5 328.8h0.42M400.0 341.2h0.42M414.2 339.2h0.42M404.7 323.6h0.42M404.4 328.5h0.42M407.4 324.3h0.42M411.0 336.6h0.42M399.3 317.4h0.42M393.2 333.6h0.42M406.2 316.1h0.42M402.9 317.4h0.42M397.5 335.9h0.42M409.1 321.5h0.42M409.5 330.6h0.42M415.1 339.4h0.42M414.4 320.5h0.42M398.0 326.1h0.42M401.5 335.9h0.42M409.8 331.8h0.42M393.0 332.0h0.42M411.5 320.9h0.42M407.7 329.4h0.42M399.7 337.5h0.42M412.8 329.5h0.42M403.3 332.4h0.42M398.1 333.9h0.42M411.3 325.4h0.42M413.7 329.2h0.42M396.0 325.1h0.42M414.4 323.1h0.42M396.5 317.9h0.42M408.4 338.7h0.42M403.9 324.8h0.42M412.6 334.2h0.42M415.4 321.3h0.42M394.9 331.3h0.42M403.1 335.0h0.42M412.5 333.9h0.42M401.9 328.2h0.42M396.6 341.3h0.42M403.7 319.9h0.42M393.6 335.0h0.42M396.7 319.1h0.42M412.2 328.8h0.42M411.8 316.2h0.42M411.1 317.6h0.42M394.0 339.1h0.42M407.6 335.0h0.42M403.0 317.0h0.42M407.9 318.1h0.42M400.4 318.7h0.42M399.4 337.6h0.42M413.9 328.2h0.42M408.5 337.3h0.42M407.1 331.4h0.42M404.4 335.7h0.42M399.4 319.4h0.42M402.7 334.5h0.42M413.1 323.6h0.42M412.2 332.3h0.42M394.9 319.9h0.42M410.7 324.4h0.42M408.0 336.5h0.42M407.6 317.9h0.42M400.0 320.0h0.42M414.2 323.3h0.42M405.6 321.4h0.42M412.0 337.3h0.42M394.5 338.5h0.42M404.2 337.2h0.42M398.1 327.2h0.42M402.1 332.2h0.42M400.2 330.6h0.42M405.4 332.4h0.42M395.7 331.7h0.42M402.9 339.6h0.42M400.0 332.6h0.42M408.3 316.8h0.42M398.3 335.2h0.42M400.5 330.3h0.42M398.6 336.1h0.42M414.2 324.6h0.42M394.8 321.3h0.42M396.9 329.0h0.42M412.8 321.8h0.42M401.2 331.1h0.42M409.9 329.9h0.42M394.4 333.7h0.42M395.8 316.6h0.42M406.5 336.2h0.42M396.4 319.1h0.42M398.2 328.2h0.42M401.0 326.7h0.42M406.9 341.1h0.42M396.4 336.4h0.42M394.1 339.4h0.42M401.6 322.9h0.42M408.1 328.8h0.42M411.2 338.4h0.42M405.6 337.9h0.42M400.0 331.2h0.42M413.9 328.9h0.42M399.8 322.5h0.42M410.3 329.5h0.42M410.1 338.2h0.42M407.8 334.4h0.42M404.8 337.0h0.42M397.4 331.5h0.42M405.7 318.5h0.42M392.8 320.8h0.42M414.5 326.8h0.42M404.7 338.8h0.42M403.6 328.2h0.42M414.4 340.0h0.42M412.3 328.2h0.42M399.4 334.8h0.42M414.1 333.7h0.42M413.6 316.3h0.42M396.5 327.1h0.42M402.5 330.7h0.42M401.5 341.2h0.42M405.4 336.9h0.42M407.6 322.1h0.42M401.9 323.6h0.42M407.9 328.5h0.42M406.9 325.2h0.42M404.1 325.4h0.42M393.2 330.5h0.42M398.7 317.2h0.42M401.3 327.0h0.42M409.0 317.9h0.42M400.9 316.4h0.42M398.4 337.8h0.42M393.6 317.6h0.42M408.9 332.8h0.42M401.1 335.8h0.42M404.7 318.1h0.42M412.8 318.0h0.42M407.7 316.8h0.42M398.2 338.4h0.42M399.0 328.2h0.42M406.9 319.8h0.42M411.7 341.1h0.42M396.8 331.7h0.42M402.2 338.6h0.42M397.4 318.5h0.42M395.3 330.9h0.42M408.5 335.4h0.42M401.9 327.4h0.42M402.1 328.7h0.42M412.0 317.3h0.42M392.9 321.5h0.42M397.9 322.6h0.42M393.8 327.3h0.42M393.1 316.4h0.42M404.8 318.2h0.42M400.0 331.1h0.42M408.2 341.2h0.42M397.0 322.6h0.42M395.6 329.5h0.42M409.5 328.7h0.42M393.8 335.8h0.42M405.3 329.6h0.42M393.8 329.1h0.42M414.1 317.1h0.42M413.1 316.4h0.42M393.9 327.4h0.42M414.3 319.2h0.42M405.4 324.2h0.42M409.6 319.8h0.42M412.0 336.3h0.42M403.0 323.5h0.42M403.1 332.6h0.42M400.3 331.2h0.42M406.7 333.9h0.42M393.3 323.0h0.42M408.3 320.1h0.42M409.4 338.3h0.42M408.5 328.6h0.42M406.8 334.3h0.42M400.0 327.4h0.42M408.3 316.7h0.42M401.5 319.1h0.42M407.4 319.8h0.42M398.4 316.8h0.42M398.7 334.3h0.42M407.6 340.6h0.42M396.6 326.3h0.42M411.8 340.8h0.42M411.5 318.9h0.42M405.3 324.9h0.42M398.6 331.4h0.42M400.5 332.5h0.42M396.0 316.7h0.42M409.8 338.9h0.42M414.6 341.5h0.42M395.3 323.6h0.42M394.3 323.6h0.42M402.6 332.2h0.42M414.9 326.7h0.42M397.4 329.3h0.42M397.3 338.1h0.42M401.8 332.5h0.42M400.3 319.0h0.42M398.7 324.4h0.42M405.8 338.1h0.42M395.1 339.9h0.42M394.7 323.9h0.42M403.9 318.0h0.42M414.4 336.0h0.42M397.1 321.6h0.42M397.9 321.8h0.42M397.8 326.5h0.42M394.5 318.1h0.42M394.8 333.4h0.42M399.9 338.0h0.42M399.2 324.6h0.42M406.1 333.2h0.42M396.4 319.4h0.42M413.5 325.2h0.42M405.7 320.0h0.42M411.1 318.7h0.42M395.5 323.0h0.42M411.4 325.4h0.42M402.0 316.6h0.42M400.2 332.4h0.42M412.8 332.5h0.42M402.7 323.4h0.42M399.3 327.1h0.42M401.8 323.0h0.42M406.2 318.6h0.42M398.2 340.4h0.42M404.2 339.9h0.42M400.1 327.8h0.42M395.5 337.0h0.42M393.3 329.0h0.42M411.5 340.5h0.42M413.2 331.7h0.42M399.1 338.0h0.42M410.2 330.3h0.42M402.0 330.3h0.42M400.7 332.0h0.42M399.2 337.5h0.42M400.2 319.2h0.42M400.8 334.3h0.42M395.3 334.3h0.42M411.5 341.6h0.42M402.4 325.0h0.42M397.0 333.6h0.42M402.1 325.5h0.42M403.6 331.2h0.42M409.8 316.2h0.42M396.3 337.0h0.42M404.1 320.9h0.42M410.2 328.5h0.42M411.3 320.2h0.42M396.1 340.2h0.42M401.0 334.5h0.42M408.8 338.1h0.42M400.4 335.4h0.42M407.8 339.0h0.42M398.6 332.8h0.42M400.0 318.1h0.42M394.3 317.8h0.42M407.4 335.2h0.42M399.4 323.4h0.42M394.6 334.3h0.42M398.6 327.1h0.42M396.7 337.8h0.42M401.2 324.7h0.42M414.6 318.3h0.42M413.7 337.4h0.42M411.9 323.7h0.42M411.0 326.2h0.42M413.4 335.9h0.42M396.5 322.4h0.42M404.1 340.0h0.42M410.7 316.7h0.42M414.2 335.5h0.42M406.6 337.8h0.42M395.7 331.9h0.42M400.6 321.0h0.42M396.9 318.7h0.42M410.2 335.7h0.42M411.1 334.7h0.42M401.7 336.0h0.42M392.6 341.0h0.42M413.8 331.5h0.42M412.8 340.3h0.42M414.0 341.2h0.42M409.8 331.1h0.42M415.4 335.8h0.42M398.9 320.2h0.42M395.5 341.6h0.42M411.8 328.7h0.42M411.3 328.8h0.42M398.7 333.5h0.42M406.4 337.9h0.42M394.7 323.1h0.42M396.0 335.3h0.42M414.9 337.3h0.42M412.7 326.1h0.42M396.6 327.2h0.42M407.6 338.6h0.42M409.0 324.6h0.42M404.8 336.6h0.42M404.1 338.8h0.42M408.3 325.3h0.42M393.2 324.1h0.42M414.8 320.8h0.42M406.6 321.2h0.42M403.6 338.1h0.42M399.1 323.1h0.42M398.9 322.9h0.42M406.8 332.7h0.42M397.0 323.3h0.42M408.7 323.2h0.42M394.6 339.8h0.42M401.5 341.3h0.42M399.1 335.5h0.42M428.6 331.5h0.42M422.5 327.0h0.42M422.2 334.0h0.42M429.1 338.3h0.42M424.8 326.5h0.42M420.1 322.5h0.42M421.8 328.6h0.42M427.8 325.1h0.42M422.7 335.6h0.42M429.0 327.1h0.42M420.3 333.3h0.42M417.0 323.3h0.42M419.1 326.6h0.42M418.6 336.8h0.42M419.8 338.1h0.42M431.5 332.4h0.42M426.7 332.9h0.42M423.4 322.2h0.42M419.1 333.2h0.42M429.0 333.0h0.42M426.5 325.5h0.42M420.9 335.9h0.42M424.1 323.6h0.42M429.5 332.0h0.42M431.2 322.9h0.42M431.1 338.4h0.42M425.7 329.3h0.42M424.8 340.8h0.42M423.2 330.3h0.42M417.1 337.0h0.42M421.4 331.4h0.42M429.2 322.0h0.42M422.3 327.6h0.42M426.7 333.1h0.42M431.5 337.3h0.42M428.7 322.3h0.42M421.7 331.5h0.42M420.5 336.9h0.42M430.7 325.5h0.42M420.1 328.1h0.42M427.6 326.9h0.42M426.4 336.3h0.42M425.3 326.9h0.42M421.6 339.7h0.42M431.4 338.1h0.42M428.4 332.3h0.42M423.1 341.1h0.42M419.4 327.6h0.42M423.0 321.3h0.42M417.7 335.0h0.42M419.7 337.8h0.42M420.5 340.4h0.42M419.3 324.5h0.42M424.9 321.7h0.42M419.1 333.2h0.42M418.3 329.2h0.42M418.0 325.8h0.42M430.1 334.8h0.42M418.2 331.8h0.42M431.2 333.6h0.42M430.8 340.0h0.42M424.6 338.7h0.42M430.1 324.6h0.42M417.3 322.3h0.42M428.2 334.3h0.42M424.9 321.2h0.42M426.1 325.3h0.42M431.8 339.9h0.42M419.4 329.0h0.42M421.6 336.1h0.42M427.2 334.6h0.42M419.7 323.3h0.42M430.6 336.3h0.42M419.4 336.5h0.42M422.8 321.3h0.42M428.1 340.7h0.42M429.8 323.1h0.42M428.7 330.8h0.42M429.1 330.9h0.42M423.0 330.7h0.42M422.6 341.5h0.42M425.1 324.6h0.42M419.6 337.6h0.42M424.9 339.1h0.42M425.2 324.0h0.42M421.7 321.1h0.42M419.1 326.3h0.42M418.3 321.9h0.42M422.3 322.4h0.42M425.0 338.1h0.42M431.6 321.5h0.42M419.9 326.5h0.42M417.3 322.6h0.42M421.4 323.9h0.42M423.9 332.2h0.42M425.6 339.7h0.42M422.0 338.9h0.42M430.5 323.3h0.42M420.2 338.1h0.42M420.9 338.9h0.42M420.8 326.1h0.42M431.3 325.3h0.42M424.1 328.5h0.42M422.2 337.0h0.42M417.7 341.4h0.42M422.7 332.1h0.42M428.9 329.3h0.42M429.4 328.5h0.42M431.1 330.2h0.42M419.9 326.0h0.42M417.6 335.5h0.42M419.6 333.0h0.42M418.0 328.2h0.42M429.8 335.5h0.42M421.3 337.1h0.42M429.4 324.8h0.42M421.3 329.0h0.42M418.5 333.9h0.42M421.0 336.4h0.42M426.1 322.4h0.42M431.4 323.2h0.42M426.4 337.0h0.42M428.9 336.6h0.42M424.6 325.3h0.42M430.7 329.0h0.42M429.7 335.0h0.42M431.6 331.5h0.42M429.5 337.1h0.42M427.3 325.2h0.42M429.3 329.7h0.42M430.2 327.8h0.42M427.0 338.2h0.42M418.2 327.8h0.42M423.5 336.0h0.42M431.3 330.0h0.42M427.2 324.7h0.42M422.9 333.9h0.42M430.1 324.3h0.42M422.3 323.4h0.42M422.8 338.7h0.42M424.9 339.5h0.42M427.0 328.2h0.42M425.4 328.5h0.42M421.9 333.4h0.42M425.3 333.7h0.42M422.2 333.1h0.42M426.9 326.5h0.42M425.3 337.3h0.42M418.6 327.2h0.42M426.3 339.0h0.42M430.9 340.4h0.42M426.2 326.6h0.42M418.1 333.5h0.42M425.2 335.5h0.42M419.4 325.7h0.42M423.2 340.9h0.42M419.4 330.2h0.42M430.6 331.5h0.42M428.4 328.2h0.42M425.4 329.2h0.42M421.4 322.8h0.42M418.5 340.3h0.42M427.5 339.1h0.42M420.6 336.8h0.42M430.4 341.6h0.42M430.0 338.9h0.42M419.4 333.7h0.42M431.8 321.5h0.42M431.3 340.8h0.42M418.2 337.1h0.42M422.2 322.4h0.42M421.5 319.0h0.42M424.3 318.4h0.42M424.8 320.7h0.42M415.9 322.2h0.42M416.5 320.5h0.42M420.4 325.6h0.42M424.6 324.5h0.42M419.9 316.6h0.42M420.1 321.3h0.42M420.5 320.5h0.42M418.8 325.7h0.42M415.2 322.6h0.42M426.6 319.6h0.42M416.8 321.7h0.42M419.6 323.6h0.42M427.0 322.1h0.42M423.5 320.3h0.42M418.9 323.7h0.42M418.1 327.3h0.42M419.3 321.9h0.42M416.5 320.9h0.42M416.7 320.7h0.42M413.3 322.5h0.42M428.8 315.2h0.42M428.7 322.1h0.42M425.0 318.6h0.42M430.0 318.4h0.42M420.7 328.7h0.42M415.4 313.4h0.42M420.8 319.6h0.42M416.8 319.0h0.42M414.6 328.1h0.42M426.5 317.2h0.42M420.6 320.8h0.42M425.9 319.3h0.42M428.3 322.6h0.42M417.6 322.2h0.42M418.5 331.5h0.42M421.7 320.6h0.42M421.5 328.4h0.42M416.8 315.9h0.42M426.9 325.0h0.42M419.0 322.2h0.42M426.0 311.8h0.42M426.7 321.8h0.42M424.1 322.3h0.42M434.8 320.1h0.42M426.0 312.2h0.42M421.2 325.7h0.42M414.1 314.5h0.42M421.5 326.6h0.42M426.3 319.8h0.42M422.6 316.9h0.42M428.8 320.2h0.42M426.7 321.4h0.42M419.5 329.0h0.42M417.1 327.7h0.42M419.4 319.0h0.42M417.3 327.0h0.42M420.7 321.1h0.42M414.2 327.2h0.42M425.7 323.8h0.42M424.5 309.5h0.42M418.6 323.2h0.42M421.5 320.2h0.42M422.1 319.6h0.42M418.1 317.5h0.42M421.6 319.6h0.42M418.7 328.0h0.42M420.8 322.4h0.42M414.1 320.4h0.42M425.4 324.7h0.42M421.2 321.8h0.42M421.3 324.1h0.42M419.5 312.6h0.42M429.8 327.0h0.42M420.3 328.1h0.42M415.1 327.7h0.42M421.9 326.1h0.42M419.4 323.1h0.42M423.6 326.7h0.42M423.3 324.3h0.42M418.3 329.4h0.42M421.9 321.6h0.42M419.5 317.7h0.42M417.7 316.4h0.42M421.9 322.2h0.42M422.0 317.5h0.42M419.1 319.9h0.42M425.5 316.5h0.42M414.2 327.6h0.42M422.6 316.2h0.42M427.1 328.5h0.42M426.1 314.2h0.42M421.5 319.0h0.42M419.8 316.2h0.42M428.8 319.7h0.42M422.2 325.7h0.42M423.8 324.1h0.42M419.2 323.4h0.42M420.0 313.4h0.42M425.5 320.0h0.42M418.6 320.8h0.42M414.7 317.6h0.42M412.9 324.4h0.42M426.3 322.8h0.42M415.8 327.7h0.42M419.5 316.1h0.42M412.5 323.2h0.42M427.5 320.9h0.42M418.1 321.4h0.42M417.2 320.3h0.42M422.1 319.6h0.42M425.2 318.6h0.42M424.2 323.9h0.42M419.2 321.3h0.42M419.5 329.2h0.42M417.3 327.2h0.42M425.5 321.1h0.42M428.3 313.0h0.42M422.1 323.0h0.42M421.1 325.8h0.42M419.2 321.7h0.42M426.1 322.0h0.42M416.3 324.8h0.42M420.6 320.2h0.42M423.5 319.4h0.42M416.6 321.4h0.42M420.1 322.7h0.42M415.5 329.4h0.42M424.0 323.0h0.42M422.0 312.5h0.42M425.1 318.4h0.42M423.2 317.7h0.42M425.4 320.3h0.42M420.0 328.6h0.42M425.4 317.0h0.42M417.8 323.2h0.42M419.9 325.7h0.42M403.9 336.3h0.42M395.0 332.8h0.42M419.2 344.9h0.42M408.5 308.5h0.42M394.9 305.2h0.42M404.5 344.9h0.42M409.6 343.0h0.42M396.9 323.7h0.42M422.7 341.5h0.42M392.3 337.8h0.42M409.8 326.6h0.42M404.8 321.4h0.42M433.1 301.2h0.42M395.8 331.0h0.42M393.6 334.4h0.42M405.3 327.0h0.42M435.0 334.9h0.42M412.5 322.1h0.42M431.1 310.9h0.42M392.0 343.7h0.42" stroke="#000" stroke-width="0.42" fill="none"/>
<rect x="392.1" y="305.7" width="22.9" height="10.2" fill="none" stroke="#333" stroke-width="0.5"/>
<rect x="392.1" y="315.9" width="23.7" height="26.3" fill="none" stroke="#333" stroke-width="0.5"/>
<rect x="416.9" y="321" width="15.1" height="21.2" fill="none" stroke="#333" stroke-width="0.5"/>
<polygon points="415,305.7 433.9,302.2 437.1,307.8 432,321 416.9,321 415,315.9" fill="none" stroke="#333" stroke-width="0.5"/>
<text x="392.9" y="301.4" font-size="3.6" text-anchor="start" fill="#222" stroke="#222" stroke-width="0.05">3.4%</text>
<text x="418.5" y="301.4" font-size="3.6" text-anchor="start" fill="#222" stroke="#222" stroke-width="0.05">90.2%</text>
<text x="396.3" y="346.6" font-size="3.6" text-anchor="start" fill="#222" stroke="#222" stroke-width="0.05">3.4%</text>
<text x="421.8" y="346.6" font-size="3.6" text-anchor="start" fill="#222" stroke="#222" stroke-width="0.05">2.6%</text>
<rect x="454.8" y="296.5" width="51.8" height="51.7" fill="none" stroke="#8a8a8a" stroke-width="0.5" stroke-dasharray="0.7 0.4"/>
<text x="451.8" y="301.9" font-size="3.9" text-anchor="end" fill="#3a3a3a" stroke="#3a3a3a" stroke-width="0">10<tspan font-size="2.6" dy="-1.5">5</tspan></text>
<line x1="453.9" y1="300.6" x2="455.1" y2="300.6" stroke="#222" stroke-width="0.5"/>
<text x="451.8" y="312.9" font-size="3.9" text-anchor="end" fill="#3a3a3a" stroke="#3a3a3a" stroke-width="0">10<tspan font-size="2.6" dy="-1.5">4</tspan></text>
<line x1="453.9" y1="311.6" x2="455.1" y2="311.6" stroke="#222" stroke-width="0.5"/>
<text x="451.8" y="324.8" font-size="3.9" text-anchor="end" fill="#3a3a3a" stroke="#3a3a3a" stroke-width="0">10<tspan font-size="2.6" dy="-1.5">3</tspan></text>
<line x1="453.9" y1="323.5" x2="455.1" y2="323.5" stroke="#222" stroke-width="0.5"/>
<text x="451.8" y="329.1" font-size="3.9" text-anchor="end" fill="#3a3a3a" stroke="#3a3a3a" stroke-width="0">0</text>
<line x1="453.9" y1="327.8" x2="455.1" y2="327.8" stroke="#222" stroke-width="0.5"/>
<text x="451.8" y="335.2" font-size="3.9" text-anchor="end" fill="#3a3a3a" stroke="#3a3a3a" stroke-width="0">-10<tspan font-size="2.6" dy="-1.5">3</tspan></text>
<line x1="453.9" y1="333.9" x2="455.1" y2="333.9" stroke="#222" stroke-width="0.5"/>
<text x="451.8" y="346.1" font-size="3.9" text-anchor="end" fill="#3a3a3a" stroke="#3a3a3a" stroke-width="0">-10<tspan font-size="2.6" dy="-1.5">4</tspan></text>
<line x1="453.9" y1="344.8" x2="455.1" y2="344.8" stroke="#222" stroke-width="0.5"/>
<text x="457.8" y="356.9" font-size="3.9" text-anchor="middle" fill="#3a3a3a" stroke="#3a3a3a" stroke-width="0">-10<tspan font-size="2.6" dy="-1.5">3</tspan></text>
<line x1="457.8" y1="347.9" x2="457.8" y2="349.1" stroke="#222" stroke-width="0.5"/>
<text x="475.8" y="356.9" font-size="3.9" text-anchor="middle" fill="#3a3a3a" stroke="#3a3a3a" stroke-width="0">0</text>
<line x1="475.8" y1="347.9" x2="475.8" y2="349.1" stroke="#222" stroke-width="0.5"/>
<text x="495.8" y="356.9" font-size="3.9" text-anchor="middle" fill="#3a3a3a" stroke="#3a3a3a" stroke-width="0">10<tspan font-size="2.6" dy="-1.5">3</tspan></text>
<line x1="495.8" y1="347.9" x2="495.8" y2="349.1" stroke="#222" stroke-width="0.5"/>
<line x1="454.8" y1="348.7" x2="506.6" y2="348.7" stroke="#333" stroke-width="0.8" stroke-dasharray="0.5 2.1"/>
<line x1="454.3" y1="296.5" x2="454.3" y2="348.2" stroke="#333" stroke-width="0.8" stroke-dasharray="0.5 2.1"/>
<line x1="474.5" y1="348.6" x2="477.1" y2="348.6" stroke="#000" stroke-width="1.0"/>
<line x1="454.3" y1="326.2" x2="454.3" y2="328.8" stroke="#000" stroke-width="1.0"/>
<rect x="460" y="316.2" width="22.8" height="25.4" fill="#000" fill-opacity="0.06"/>
<rect x="484.8" y="321.2" width="14.2" height="20.4" fill="#000" fill-opacity="0.06"/>
<ellipse cx="492" cy="311.4" rx="8.8" ry="4.9" transform="rotate(-9 492 311.4)" fill="#000" fill-opacity="1.0" filter="url(#b2)"/>
<ellipse cx="496.8" cy="308.2" rx="4.8" ry="2.8" transform="rotate(-20 496.8 308.2)" fill="#000" fill-opacity="1.0" filter="url(#b2)"/>
<ellipse cx="486.4" cy="312.6" rx="5" ry="4" transform="rotate(0 486.4 312.6)" fill="#000" fill-opacity="0.95" filter="url(#b2)"/>
<ellipse cx="472.4" cy="310.9" rx="11.5" ry="2" transform="rotate(0 472.4 310.9)" fill="#000" fill-opacity="1.0" filter="url(#b3)"/>
<ellipse cx="476.4" cy="310.9" rx="8" ry="1.7" transform="rotate(0 476.4 310.9)" fill="#000" fill-opacity="0.85" filter="url(#b2)"/>
<path d="M495.6 310.5h0.42M501.8 320.7h0.42M497.3 315.4h0.42M500.0 312.9h0.42M499.4 313.8h0.42M484.5 309.5h0.42M499.0 313.9h0.42M485.8 314.5h0.42M498.3 302.7h0.42M485.1 318.0h0.42M494.6 306.3h0.42M483.8 315.7h0.42M499.9 310.8h0.42M475.8 322.0h0.42M489.7 311.1h0.42M483.9 320.8h0.42M492.7 314.6h0.42M493.3 314.6h0.42M498.1 319.7h0.42M483.1 314.7h0.42M489.3 321.8h0.42M486.5 306.2h0.42M489.3 309.8h0.42M484.8 312.4h0.42M479.2 306.5h0.42M503.5 309.2h0.42M484.8 317.7h0.42M497.3 302.7h0.42M487.7 315.3h0.42M485.2 316.7h0.42M481.2 312.2h0.42M490.0 315.4h0.42M489.8 309.9h0.42M485.3 304.0h0.42M504.4 307.6h0.42M488.7 314.9h0.42M494.6 313.8h0.42M483.8 306.6h0.42M488.2 309.8h0.42M486.6 314.1h0.42M493.5 318.8h0.42M487.3 305.4h0.42M495.4 316.5h0.42M479.9 318.9h0.42M491.0 310.3h0.42M492.0 314.7h0.42M495.7 317.5h0.42M490.2 313.2h0.42M505.5 304.0h0.42M488.0 312.0h0.42M496.9 317.0h0.42M482.8 321.2h0.42M485.4 327.4h0.42M487.1 319.5h0.42M489.4 316.9h0.42M485.4 315.1h0.42M490.6 313.6h0.42M495.2 309.7h0.42M486.6 307.6h0.42M488.8 311.1h0.42M497.1 314.8h0.42M486.0 316.5h0.42M499.0 309.9h0.42M485.3 326.7h0.42M494.9 315.5h0.42M490.2 303.8h0.42M494.2 314.2h0.42M484.0 310.6h0.42M488.9 312.4h0.42M500.8 309.3h0.42M489.1 312.6h0.42M478.9 313.7h0.42M481.3 316.1h0.42M474.1 311.7h0.42M489.6 303.0h0.42M480.9 320.5h0.42M481.3 315.4h0.42M491.2 307.7h0.42M480.7 323.2h0.42M487.2 316.5h0.42M485.6 316.2h0.42M479.8 309.0h0.42M482.5 312.1h0.42M485.7 312.7h0.42M492.6 309.9h0.42M495.9 308.5h0.42M496.4 318.1h0.42M499.8 300.9h0.42M499.9 302.0h0.42M500.0 310.7h0.42M491.6 308.2h0.42M497.5 314.8h0.42M485.8 311.3h0.42M497.4 316.5h0.42M495.1 310.1h0.42M491.5 317.5h0.42M497.4 317.0h0.42M490.5 309.7h0.42M492.9 314.8h0.42M487.3 316.2h0.42M485.0 315.8h0.42M488.8 324.1h0.42M498.7 312.3h0.42M480.0 309.7h0.42M494.9 311.3h0.42M490.6 305.3h0.42M480.3 316.3h0.42M487.4 307.3h0.42M485.9 318.2h0.42M488.1 316.6h0.42M502.0 311.9h0.42M490.5 310.2h0.42M496.9 304.4h0.42M482.9 315.0h0.42M481.5 320.3h0.42M486.7 316.7h0.42M487.9 312.5h0.42M488.1 304.0h0.42M482.4 312.9h0.42M494.0 307.1h0.42M497.9 317.4h0.42M498.6 324.1h0.42M479.9 310.5h0.42M487.4 309.1h0.42M491.3 315.5h0.42M490.4 313.7h0.42M494.0 316.1h0.42M485.1 311.2h0.42M498.0 309.5h0.42M485.0 315.9h0.42M488.1 314.3h0.42M490.6 316.2h0.42M495.5 307.7h0.42M484.0 322.7h0.42M483.8 307.1h0.42M477.4 316.3h0.42M483.8 305.8h0.42M482.6 309.9h0.42M497.3 312.5h0.42M488.7 307.3h0.42M489.9 316.6h0.42M492.6 317.8h0.42M491.6 316.2h0.42M492.7 309.7h0.42M499.8 312.5h0.42M494.6 306.8h0.42M482.7 314.2h0.42M485.6 317.4h0.42M494.5 318.1h0.42M492.9 306.9h0.42M495.9 308.5h0.42M485.4 314.7h0.42M491.4 318.0h0.42M499.9 309.7h0.42M491.9 310.2h0.42M489.0 320.1h0.42M493.9 314.4h0.42M486.9 322.5h0.42M488.3 310.4h0.42M490.9 316.3h0.42M497.1 318.7h0.42M482.6 313.0h0.42M503.5 321.0h0.42M485.9 313.8h0.42M478.8 312.0h0.42M484.2 314.2h0.42M483.3 319.5h0.42M489.6 312.1h0.42M496.2 310.3h0.42M481.9 315.4h0.42M505.1 309.9h0.42M493.6 311.3h0.42M489.4 315.9h0.42M470.9 312.0h0.42M486.0 312.9h0.42M503.0 322.0h0.42M495.0 313.9h0.42M496.7 319.0h0.42M483.1 312.6h0.42M491.7 314.3h0.42M478.0 318.4h0.42M480.5 319.5h0.42M493.3 301.2h0.42M493.9 313.2h0.42M487.2 318.6h0.42M504.4 312.0h0.42M481.2 308.4h0.42M481.2 310.5h0.42M498.2 312.6h0.42M491.1 317.3h0.42M490.4 313.3h0.42M483.9 311.7h0.42M489.1 307.7h0.42M501.7 310.9h0.42M487.7 318.6h0.42M484.4 319.9h0.42M493.1 321.7h0.42M486.1 312.3h0.42M483.1 308.8h0.42M490.7 307.8h0.42M491.7 309.6h0.42M494.4 299.5h0.42M493.1 312.7h0.42M489.5 310.2h0.42M501.6 308.2h0.42M492.8 311.2h0.42M487.9 314.2h0.42M493.5 306.8h0.42M485.4 307.4h0.42M491.9 308.5h0.42M486.0 317.4h0.42M490.6 315.0h0.42M489.8 315.3h0.42M489.5 307.8h0.42M491.3 311.2h0.42M488.9 314.9h0.42M485.3 309.2h0.42M500.4 319.6h0.42M489.3 319.1h0.42M492.1 309.5h0.42M484.3 313.3h0.42M486.9 312.3h0.42M488.1 308.1h0.42M494.7 306.4h0.42M484.1 319.3h0.42M497.1 318.6h0.42M490.4 309.9h0.42M497.9 310.7h0.42M488.4 309.4h0.42M490.2 301.5h0.42M491.4 302.9h0.42M494.3 304.4h0.42M497.8 323.4h0.42M487.0 308.2h0.42M502.9 307.7h0.42M484.2 320.9h0.42M469.2 311.2h0.42M480.5 312.2h0.42M477.5 320.5h0.42M497.1 311.1h0.42M485.6 306.6h0.42M492.6 309.1h0.42M495.6 316.8h0.42M488.0 303.2h0.42M485.5 321.1h0.42M493.8 319.3h0.42M475.0 316.5h0.42M487.1 305.9h0.42M487.0 318.8h0.42M493.3 309.7h0.42M493.9 318.1h0.42M483.3 316.4h0.42M496.5 308.1h0.42M499.0 310.5h0.42M498.9 315.5h0.42M491.7 311.3h0.42M486.0 315.1h0.42M493.4 319.3h0.42M490.1 314.9h0.42M502.1 311.7h0.42M495.3 319.8h0.42M491.4 314.9h0.42M495.3 311.3h0.42M481.0 308.3h0.42M490.2 318.7h0.42M499.0 319.0h0.42M495.7 308.6h0.42M479.8 313.3h0.42M487.6 310.2h0.42M495.6 307.9h0.42M495.1 315.8h0.42M478.0 314.2h0.42M499.8 314.9h0.42M489.8 307.8h0.42M485.6 314.8h0.42M499.4 313.3h0.42M490.0 314.4h0.42M493.5 303.7h0.42M483.6 315.0h0.42M499.7 316.1h0.42M485.0 314.6h0.42M484.8 312.6h0.42M490.8 311.2h0.42M485.1 308.7h0.42M479.3 315.0h0.42M492.3 315.7h0.42M483.9 311.2h0.42M499.3 312.9h0.42M495.6 309.0h0.42M484.0 309.0h0.42M495.6 306.2h0.42M477.6 312.7h0.42M498.8 311.1h0.42M492.0 313.3h0.42M489.7 312.4h0.42M482.7 323.3h0.42M490.6 319.0h0.42M480.3 318.4h0.42M480.7 309.2h0.42M493.3 317.5h0.42M501.1 317.0h0.42M489.3 317.3h0.42M485.6 311.7h0.42M491.7 312.2h0.42M493.8 303.2h0.42M497.2 308.5h0.42M501.6 315.9h0.42M482.4 314.9h0.42M493.9 308.3h0.42M484.9 313.0h0.42M496.4 316.1h0.42M488.4 317.7h0.42M501.3 314.9h0.42M484.3 310.5h0.42M493.2 316.5h0.42M492.7 310.6h0.42M485.5 320.6h0.42M491.5 322.1h0.42M482.2 313.6h0.42M488.1 322.8h0.42M498.1 308.7h0.42M478.7 321.8h0.42M489.9 307.7h0.42M480.7 317.6h0.42M489.1 314.2h0.42M492.6 310.8h0.42M489.3 316.7h0.42M489.3 312.1h0.42M492.3 302.9h0.42M499.2 313.1h0.42M485.0 313.7h0.42M499.3 313.6h0.42M477.2 311.6h0.42M493.7 321.1h0.42M495.3 311.0h0.42M494.3 312.3h0.42M488.8 315.5h0.42M477.2 321.5h0.42M493.5 310.2h0.42M483.2 309.1h0.42M492.4 313.4h0.42M493.6 320.8h0.42M474.7 313.7h0.42M486.3 318.9h0.42M487.6 309.3h0.42M492.3 314.7h0.42M501.5 311.6h0.42M486.9 311.6h0.42M485.5 316.8h0.42M495.6 310.8h0.42M491.1 319.8h0.42M491.7 315.3h0.42M482.4 312.3h0.42M474.4 310.6h0.42M494.3 318.3h0.42M487.2 308.2h0.42M492.4 318.3h0.42M490.4 317.7h0.42M488.5 307.6h0.42M484.0 313.6h0.42M489.1 315.0h0.42M491.3 310.8h0.42M489.4 312.2h0.42M497.2 319.1h0.42M499.0 309.5h0.42M493.3 308.9h0.42M483.2 315.4h0.42M494.4 311.9h0.42M497.0 315.6h0.42M495.3 311.2h0.42M483.4 323.8h0.42M488.1 317.4h0.42M493.3 310.8h0.42M503.5 313.2h0.42M489.8 311.3h0.42M482.4 309.0h0.42M493.7 310.2h0.42M488.0 316.3h0.42M488.8 316.8h0.42M485.5 311.9h0.42M495.8 308.5h0.42M495.1 314.5h0.42M488.5 305.6h0.42M480.3 310.4h0.42M482.8 319.4h0.42M483.1 309.0h0.42M486.9 313.6h0.42M479.9 318.8h0.42M494.6 309.2h0.42M494.0 304.7h0.42M486.5 313.4h0.42M492.2 318.4h0.42M487.0 309.1h0.42M492.0 313.5h0.42M493.0 310.9h0.42M490.9 310.3h0.42M493.4 309.2h0.42M487.6 319.6h0.42M485.3 314.5h0.42M493.8 310.8h0.42M495.8 309.0h0.42M495.4 304.3h0.42M481.4 315.8h0.42M501.8 318.1h0.42M484.6 314.5h0.42M484.6 304.2h0.42M494.8 310.2h0.42M499.8 312.1h0.42M486.0 310.9h0.42M489.7 315.6h0.42M490.4 326.9h0.42M490.4 307.6h0.42M492.3 318.3h0.42M492.9 310.9h0.42M485.0 310.7h0.42M481.9 312.9h0.42M491.5 310.2h0.42M501.7 312.1h0.42M487.4 313.8h0.42M498.2 302.9h0.42M495.1 325.0h0.42M496.0 307.3h0.42M490.9 311.9h0.42M488.2 312.1h0.42M477.0 300.5h0.42M489.4 316.0h0.42M488.1 316.2h0.42M496.2 315.1h0.42M480.8 323.0h0.42M497.1 315.4h0.42M490.4 313.2h0.42M487.3 316.0h0.42M495.9 309.0h0.42M495.3 309.7h0.42M494.2 311.5h0.42M498.4 320.6h0.42M491.3 310.6h0.42M488.3 316.8h0.42M488.2 318.5h0.42M493.4 316.8h0.42M485.6 309.8h0.42M485.9 316.3h0.42M486.0 317.7h0.42M475.9 313.7h0.42M487.2 305.1h0.42M484.6 307.4h0.42M489.7 312.2h0.42M494.4 308.1h0.42M478.9 313.5h0.42M491.4 313.4h0.42M493.0 318.5h0.42M487.8 312.8h0.42M484.1 311.9h0.42M497.8 313.1h0.42M474.4 323.2h0.42M476.6 314.7h0.42M497.1 312.2h0.42M495.2 316.2h0.42M491.0 306.9h0.42M492.1 309.4h0.42M473.9 316.0h0.42M494.3 312.8h0.42M492.5 321.2h0.42M493.3 316.9h0.42M494.6 320.2h0.42M489.4 319.3h0.42M502.2 308.4h0.42M495.9 305.2h0.42M493.5 316.1h0.42M482.8 306.4h0.42M490.4 311.6h0.42M492.1 314.3h0.42M497.9 319.0h0.42M491.6 305.5h0.42M495.5 313.9h0.42M493.4 320.3h0.42M491.9 311.2h0.42M491.8 305.1h0.42M497.0 311.9h0.42M502.7 313.5h0.42M493.3 313.5h0.42M482.6 314.9h0.42M493.8 317.3h0.42M494.3 315.7h0.42M494.6 309.7h0.42M492.4 311.8h0.42M480.5 308.5h0.42M497.9 318.5h0.42M499.2 307.0h0.42M502.5 317.9h0.42M486.2 316.8h0.42M502.2 310.8h0.42M497.9 308.5h0.42M489.5 317.9h0.42M489.8 314.2h0.42M490.1 308.5h0.42M500.5 310.1h0.42M488.0 311.8h0.42M490.1 308.9h0.42M496.1 310.3h0.42M495.0 307.9h0.42M482.8 310.8h0.42M490.7 306.9h0.42M495.9 310.4h0.42M496.2 310.0h0.42M494.9 307.2h0.42M484.0 317.9h0.42M488.2 319.1h0.42M486.6 316.8h0.42M483.1 306.7h0.42M500.0 309.9h0.42M497.3 312.4h0.42M479.6 318.0h0.42M499.4 317.4h0.42M502.0 312.3h0.42M490.0 313.8h0.42M483.7 318.6h0.42M495.9 313.6h0.42M486.2 317.5h0.42M488.4 319.9h0.42M485.9 311.9h0.42M487.2 309.1h0.42M484.3 313.5h0.42M476.5 326.6h0.42M493.4 314.0h0.42M484.9 315.6h0.42M490.6 313.7h0.42M480.5 315.2h0.42M477.7 315.6h0.42M483.9 312.0h0.42M489.3 317.7h0.42M498.7 311.3h0.42M485.0 321.9h0.42M480.4 313.1h0.42M488.2 310.2h0.42M499.9 312.8h0.42M497.4 310.0h0.42M496.1 311.0h0.42M489.9 314.9h0.42M493.8 315.2h0.42M487.3 306.7h0.42M485.2 301.4h0.42M487.6 310.0h0.42M492.8 299.3h0.42M503.5 308.2h0.42M480.2 317.9h0.42M494.2 314.3h0.42M504.1 305.6h0.42M492.6 313.4h0.42M486.2 315.7h0.42M497.9 307.1h0.42M494.6 317.1h0.42M492.9 304.7h0.42M491.9 310.9h0.42M498.5 310.5h0.42M502.2 304.2h0.42M492.7 308.3h0.42M504.2 317.4h0.42M485.1 318.3h0.42M488.2 305.8h0.42M483.5 315.5h0.42M493.4 310.6h0.42M492.8 314.1h0.42M490.9 307.3h0.42M492.0 315.4h0.42M482.2 322.9h0.42M500.4 311.5h0.42M503.5 305.9h0.42M483.3 312.0h0.42M487.8 322.9h0.42M490.7 312.9h0.42M494.7 319.9h0.42M491.1 311.2h0.42M493.7 318.5h0.42M490.7 320.1h0.42M492.3 311.9h0.42M496.1 321.5h0.42M490.4 320.0h0.42M494.4 313.0h0.42M491.7 316.9h0.42M495.0 313.9h0.42M493.8 308.1h0.42M484.9 309.7h0.42M487.9 312.8h0.42M488.6 316.3h0.42M483.8 313.7h0.42M498.2 319.5h0.42M492.2 318.6h0.42M498.4 306.2h0.42M490.8 308.0h0.42M488.3 315.7h0.42M482.6 317.8h0.42M489.2 312.3h0.42M493.1 308.5h0.42M479.1 316.2h0.42M485.4 313.5h0.42M482.0 310.8h0.42M482.0 309.1h0.42M484.0 311.0h0.42M494.3 327.6h0.42M484.4 307.0h0.42M492.8 306.6h0.42M484.0 313.1h0.42M490.7 313.4h0.42M491.8 312.2h0.42M498.7 315.1h0.42M486.5 313.1h0.42M482.1 318.5h0.42M491.2 322.2h0.42M487.6 321.2h0.42M482.2 307.1h0.42M485.0 316.2h0.42M496.0 307.4h0.42M496.1 309.1h0.42M486.5 312.7h0.42M501.5 311.2h0.42M490.6 305.8h0.42M491.7 314.1h0.42M500.1 306.4h0.42M484.5 310.2h0.42M486.7 317.3h0.42M486.5 320.3h0.42M489.4 308.9h0.42M484.3 308.0h0.42M481.9 320.8h0.42M494.9 307.2h0.42M489.1 321.2h0.42M485.7 315.4h0.42M493.3 311.4h0.42M488.6 311.9h0.42M489.2 305.8h0.42M490.7 313.9h0.42M481.9 317.4h0.42M480.9 302.7h0.42M477.4 316.8h0.42M493.4 310.2h0.42M480.3 314.8h0.42M496.2 311.3h0.42M480.9 317.7h0.42M488.6 312.6h0.42M491.2 315.5h0.42M488.3 308.9h0.42M489.5 313.9h0.42M496.5 305.5h0.42M488.1 309.3h0.42M488.1 314.9h0.42M472.6 324.3h0.42M483.0 313.6h0.42M478.8 314.6h0.42M480.6 318.1h0.42M487.8 316.9h0.42M488.3 313.7h0.42M490.1 316.3h0.42M489.9 319.4h0.42M486.3 322.7h0.42M490.8 314.9h0.42M497.3 322.3h0.42M477.7 309.9h0.42M484.5 319.9h0.42M492.4 319.1h0.42M487.9 321.3h0.42M490.4 314.9h0.42M489.0 321.5h0.42M483.5 315.5h0.42M484.2 324.1h0.42M491.2 320.1h0.42M485.3 317.7h0.42M493.0 315.1h0.42M493.1 316.1h0.42M487.6 319.7h0.42M492.9 323.6h0.42M486.9 324.5h0.42M482.8 314.7h0.42M476.8 323.1h0.42M493.6 311.1h0.42M485.4 316.7h0.42M479.6 319.3h0.42M488.3 315.1h0.42M482.3 319.0h0.42M489.1 311.2h0.42M487.2 319.8h0.42M473.6 321.6h0.42M494.8 310.6h0.42M493.5 314.9h0.42M490.2 316.2h0.42M480.2 311.7h0.42M498.1 309.7h0.42M487.1 323.5h0.42M489.0 317.8h0.42M476.8 317.0h0.42M479.2 311.6h0.42M489.8 320.4h0.42M482.9 315.6h0.42M490.2 320.6h0.42M483.0 323.2h0.42M492.0 316.5h0.42M482.2 320.9h0.42M492.2 323.8h0.42M485.6 324.4h0.42M486.0 319.9h0.42M486.8 317.9h0.42M494.1 313.2h0.42M491.2 315.5h0.42M486.6 314.6h0.42M486.7 309.2h0.42M486.9 321.8h0.42M490.2 310.1h0.42M481.4 316.9h0.42M496.3 313.8h0.42M487.1 316.5h0.42M488.1 313.5h0.42M489.0 319.1h0.42M491.8 312.8h0.42M493.4 324.3h0.42M491.9 319.4h0.42M476.2 325.4h0.42M498.0 320.5h0.42M490.6 320.3h0.42M501.8 311.5h0.42M486.2 322.4h0.42M486.9 308.5h0.42M488.8 318.7h0.42M483.0 320.0h0.42M487.1 309.9h0.42M491.7 325.7h0.42M495.2 311.1h0.42M480.8 319.1h0.42M487.7 311.7h0.42M484.8 323.8h0.42M489.5 321.5h0.42M488.1 321.7h0.42M484.3 315.9h0.42M481.0 310.6h0.42M484.2 312.4h0.42M485.1 318.5h0.42M488.6 318.9h0.42M485.3 317.6h0.42M493.1 315.7h0.42M485.5 307.4h0.42M482.7 323.1h0.42M482.1 314.0h0.42M491.2 311.5h0.42M492.3 316.0h0.42M482.4 309.7h0.42M492.5 308.7h0.42M481.7 321.9h0.42M481.4 320.8h0.42M486.9 316.4h0.42M481.4 315.8h0.42M487.9 313.1h0.42M490.7 317.8h0.42M490.2 317.8h0.42M490.4 318.4h0.42M491.8 318.1h0.42M488.2 313.3h0.42M478.6 319.4h0.42M491.4 312.6h0.42M478.8 316.8h0.42M489.8 320.6h0.42M484.7 312.9h0.42M487.5 320.3h0.42M487.8 321.6h0.42M485.4 321.5h0.42M494.7 311.7h0.42M483.4 321.0h0.42M503.5 316.3h0.42M488.2 322.8h0.42M485.4 310.9h0.42M483.6 323.9h0.42M477.6 313.3h0.42M491.6 317.2h0.42M492.5 311.9h0.42M483.3 316.8h0.42M480.8 317.7h0.42M487.1 321.2h0.42M486.5 315.9h0.42M490.7 321.5h0.42M492.8 317.5h0.42M485.0 315.9h0.42M480.7 319.1h0.42M488.5 324.2h0.42M489.0 320.3h0.42M492.4 308.4h0.42M483.8 317.1h0.42M486.9 312.7h0.42M492.4 320.3h0.42M490.4 319.7h0.42M482.6 323.2h0.42M482.6 310.3h0.42M488.3 319.0h0.42M482.4 311.3h0.42M481.3 318.0h0.42M475.2 324.3h0.42M492.2 315.7h0.42M492.5 315.7h0.42M482.0 321.2h0.42M489.3 313.1h0.42M479.3 314.9h0.42M493.0 315.0h0.42M501.0 311.8h0.42M490.6 318.1h0.42M486.8 321.1h0.42M482.9 318.1h0.42M479.5 309.7h0.42M486.7 312.7h0.42M481.1 321.2h0.42M486.8 319.2h0.42M496.2 316.4h0.42M488.6 312.1h0.42M492.2 320.1h0.42M482.5 321.2h0.42M488.7 316.2h0.42M489.7 327.3h0.42M483.7 316.7h0.42M487.7 316.6h0.42M478.5 322.0h0.42M493.4 323.6h0.42M483.4 312.8h0.42M489.8 312.5h0.42M486.9 315.8h0.42M487.9 315.4h0.42M490.1 312.9h0.42M500.1 318.2h0.42M483.3 314.1h0.42M485.9 315.7h0.42M484.3 324.0h0.42M491.3 312.0h0.42M490.2 316.9h0.42M490.7 313.9h0.42M498.2 315.6h0.42M497.1 313.4h0.42M494.1 315.6h0.42M495.7 315.0h0.42M481.0 314.1h0.42M484.6 320.6h0.42M489.3 317.6h0.42M494.1 323.1h0.42M483.1 322.6h0.42M498.6 312.5h0.42M484.8 319.7h0.42M488.1 315.0h0.42M488.3 324.2h0.42M491.3 313.2h0.42M477.7 314.7h0.42M487.6 314.1h0.42M483.7 321.3h0.42M485.6 316.2h0.42M489.7 323.2h0.42M489.5 320.0h0.42M489.1 323.8h0.42M480.2 314.1h0.42M486.5 326.4h0.42M494.3 311.4h0.42M485.5 320.2h0.42M488.5 321.1h0.42M483.5 311.2h0.42M491.6 322.0h0.42M478.0 311.4h0.42M483.5 310.3h0.42M488.6 312.3h0.42M490.9 315.3h0.42M488.6 320.1h0.42M485.5 313.5h0.42M490.8 310.5h0.42M494.1 313.5h0.42M485.0 319.7h0.42M489.9 319.2h0.42M479.2 315.4h0.42M489.5 318.7h0.42M488.0 322.9h0.42M487.3 321.6h0.42M493.2 317.8h0.42M487.0 320.7h0.42M490.2 319.6h0.42M483.4 320.3h0.42M495.3 314.7h0.42M487.9 316.4h0.42M490.2 308.1h0.42M496.0 318.0h0.42M486.5 318.9h0.42M493.5 317.9h0.42M491.9 321.8h0.42M488.9 320.4h0.42M495.4 318.3h0.42M485.0 321.3h0.42M497.6 314.1h0.42M490.1 318.8h0.42M491.6 315.0h0.42M489.0 325.6h0.42M490.5 314.3h0.42M491.5 317.0h0.42M493.9 309.4h0.42M488.8 321.5h0.42M480.5 315.8h0.42M489.9 317.2h0.42M486.2 319.1h0.42M479.8 315.6h0.42M495.7 313.1h0.42M489.7 316.9h0.42M492.1 318.0h0.42M490.5 321.9h0.42M487.7 310.3h0.42M485.4 324.1h0.42M492.7 315.5h0.42M478.9 316.3h0.42M499.0 320.3h0.42M492.3 309.7h0.42M480.2 316.5h0.42M480.8 319.4h0.42M482.4 320.6h0.42M485.9 315.5h0.42M491.2 318.7h0.42M487.9 315.9h0.42M485.7 309.8h0.42M477.1 316.8h0.42M489.6 324.6h0.42M488.7 313.1h0.42M484.0 312.9h0.42M487.2 317.2h0.42M487.5 318.7h0.42M493.3 319.3h0.42M482.4 322.1h0.42M482.7 320.1h0.42M489.3 324.3h0.42M486.9 317.3h0.42M486.8 321.3h0.42M488.8 316.2h0.42M493.4 325.2h0.42M496.9 322.0h0.42M484.7 317.7h0.42M486.9 310.5h0.42M495.0 310.0h0.42M488.5 312.1h0.42M488.8 320.8h0.42M489.4 313.6h0.42M485.0 322.0h0.42M487.3 318.1h0.42M490.2 306.4h0.42M489.9 322.4h0.42M497.1 318.5h0.42M484.7 322.2h0.42M496.4 313.1h0.42M483.8 317.7h0.42M483.8 309.7h0.42M474.6 314.7h0.42M484.7 320.0h0.42M485.1 318.8h0.42M496.9 328.3h0.42M491.1 312.7h0.42M492.5 316.6h0.42M490.1 321.1h0.42M490.3 311.5h0.42M482.0 319.8h0.42M492.8 325.4h0.42M490.2 315.5h0.42M484.5 315.2h0.42M480.0 313.6h0.42M484.8 318.5h0.42M483.7 318.4h0.42M485.9 316.9h0.42M485.6 319.2h0.42M485.4 306.8h0.42M488.9 317.7h0.42M484.6 318.9h0.42M484.1 318.7h0.42M465.7 312.0h0.42M473.8 308.4h0.42M466.8 312.0h0.42M474.2 311.1h0.42M463.9 309.7h0.42M472.6 311.3h0.42M471.4 309.4h0.42M470.0 310.0h0.42M463.7 309.0h0.42M466.1 308.3h0.42M474.6 312.1h0.42M477.4 309.5h0.42M466.5 311.2h0.42M468.3 310.3h0.42M469.4 308.1h0.42M479.9 308.4h0.42M461.0 312.1h0.42M464.2 312.6h0.42M473.7 311.4h0.42M468.9 308.5h0.42M463.5 311.0h0.42M470.7 308.8h0.42M463.8 309.4h0.42M471.0 311.5h0.42M477.4 310.2h0.42M480.9 312.0h0.42M481.2 309.4h0.42M475.2 312.6h0.42M459.7 312.3h0.42M474.1 312.3h0.42M472.5 312.7h0.42M468.6 309.9h0.42M476.2 312.0h0.42M462.5 312.8h0.42M479.2 312.5h0.42M466.6 312.9h0.42M474.8 312.3h0.42M471.1 310.1h0.42M466.8 309.8h0.42M477.3 309.5h0.42M467.3 311.3h0.42M469.7 307.4h0.42M467.1 310.2h0.42M482.0 311.9h0.42M464.8 309.0h0.42M468.4 311.2h0.42M466.3 311.5h0.42M462.1 311.3h0.42M479.2 306.4h0.42M471.2 311.2h0.42M474.4 311.0h0.42M471.0 311.3h0.42M472.1 310.9h0.42M481.8 312.5h0.42M477.5 309.8h0.42M468.2 312.5h0.42M464.5 312.5h0.42M462.5 314.3h0.42M479.6 309.9h0.42M468.4 307.4h0.42M471.1 312.8h0.42M475.4 310.4h0.42M484.9 311.7h0.42M474.1 310.3h0.42M475.2 315.1h0.42M474.4 308.1h0.42M472.8 313.9h0.42M479.2 310.0h0.42M473.7 308.4h0.42M475.6 309.4h0.42M467.9 309.9h0.42M466.7 313.6h0.42M481.1 310.3h0.42M472.0 313.6h0.42M469.5 310.1h0.42M465.8 313.4h0.42M472.5 310.8h0.42M468.6 309.3h0.42M477.7 309.5h0.42M468.0 308.0h0.42M464.2 309.9h0.42M468.2 308.3h0.42M467.3 310.6h0.42M469.5 308.6h0.42M469.5 311.5h0.42M471.3 310.9h0.42M471.4 311.9h0.42M462.4 309.8h0.42M473.8 310.8h0.42M464.3 310.3h0.42M466.7 310.8h0.42M460.4 308.1h0.42M461.8 310.6h0.42M487.5 312.4h0.42M479.3 310.8h0.42M481.8 311.4h0.42M471.7 312.6h0.42M463.3 307.2h0.42M463.4 313.1h0.42M477.2 311.1h0.42M469.7 310.5h0.42M473.8 309.3h0.42M476.3 309.2h0.42M480.1 310.2h0.42M465.2 310.3h0.42M465.1 310.5h0.42M459.4 310.0h0.42M471.7 311.4h0.42M468.7 312.8h0.42M460.1 310.4h0.42M468.0 310.7h0.42M469.5 313.0h0.42M471.2 309.2h0.42M487.7 310.8h0.42M470.2 312.2h0.42M467.3 310.4h0.42M476.9 308.8h0.42M468.2 312.3h0.42M483.1 310.6h0.42M470.5 312.6h0.42M461.5 309.6h0.42M466.0 307.4h0.42M477.2 311.9h0.42M479.6 306.2h0.42M470.2 313.0h0.42M465.5 308.6h0.42M473.5 310.8h0.42M475.4 310.7h0.42M479.5 311.9h0.42M472.9 310.1h0.42M475.9 309.7h0.42M477.6 312.7h0.42M477.5 308.6h0.42M474.2 311.4h0.42M477.0 308.2h0.42M467.3 310.6h0.42M480.5 309.8h0.42M477.2 311.0h0.42M484.1 311.3h0.42M460.6 310.3h0.42M473.0 312.9h0.42M475.7 310.3h0.42M462.9 310.8h0.42M470.5 313.0h0.42M477.5 308.4h0.42M455.9 310.1h0.42M473.1 309.2h0.42M467.8 312.7h0.42M476.2 307.9h0.42M473.6 311.0h0.42M469.9 311.7h0.42M475.2 314.9h0.42M472.8 309.6h0.42M468.0 312.0h0.42M484.2 311.8h0.42M474.9 311.2h0.42M468.4 310.9h0.42M463.3 312.0h0.42M474.5 311.1h0.42M465.6 310.3h0.42M467.5 311.3h0.42M469.4 311.4h0.42M477.5 312.9h0.42M464.5 310.2h0.42M464.1 312.9h0.42M465.7 313.0h0.42M468.0 312.5h0.42M467.7 310.4h0.42M472.2 310.9h0.42M470.4 311.9h0.42M479.3 312.2h0.42M468.2 307.7h0.42M472.1 306.1h0.42M475.9 311.8h0.42M463.3 311.8h0.42M467.0 312.9h0.42M466.3 309.4h0.42M467.0 311.2h0.42M464.5 314.5h0.42M468.9 313.7h0.42M469.5 310.3h0.42M466.7 309.5h0.42M474.3 312.8h0.42M472.1 309.3h0.42M472.8 309.5h0.42M459.8 309.7h0.42M471.7 310.1h0.42M469.6 313.4h0.42M477.8 313.3h0.42M472.8 311.2h0.42M483.1 309.8h0.42M473.6 311.0h0.42M473.3 311.8h0.42M472.2 312.1h0.42M465.8 311.6h0.42M464.4 312.6h0.42M477.9 310.4h0.42M468.0 310.7h0.42M475.0 308.3h0.42M464.7 312.3h0.42M469.9 308.7h0.42M456.6 310.0h0.42M459.7 311.0h0.42M470.7 313.8h0.42M463.0 311.8h0.42M463.3 309.1h0.42M469.9 309.4h0.42M483.3 310.7h0.42M466.2 314.6h0.42M465.9 310.1h0.42M469.8 309.5h0.42M475.2 312.7h0.42M462.6 309.9h0.42M468.7 308.4h0.42M462.4 310.1h0.42M465.2 311.2h0.42M476.5 311.0h0.42M473.0 309.2h0.42M467.1 311.4h0.42M474.8 310.6h0.42M474.6 310.3h0.42M463.4 311.2h0.42M468.3 307.9h0.42M476.6 311.3h0.42M475.8 309.9h0.42M480.8 311.5h0.42M477.5 309.6h0.42M469.0 312.8h0.42M470.9 310.8h0.42M480.8 312.6h0.42M472.6 313.8h0.42M461.3 310.6h0.42M467.4 313.1h0.42M481.4 309.9h0.42M472.0 312.3h0.42M474.5 311.2h0.42M477.6 313.9h0.42M471.9 308.9h0.42M470.4 310.7h0.42M468.7 311.9h0.42M475.9 312.2h0.42M474.3 311.2h0.42M464.5 310.2h0.42M465.5 311.3h0.42M470.4 310.7h0.42M474.6 310.3h0.42M478.1 312.4h0.42M465.0 312.9h0.42M469.0 309.6h0.42M469.1 308.7h0.42M473.4 312.7h0.42M461.3 311.4h0.42M474.9 311.8h0.42M475.3 311.4h0.42M468.1 312.2h0.42M473.3 312.0h0.42M473.2 310.3h0.42M470.9 311.7h0.42M477.9 307.6h0.42M462.9 308.1h0.42M467.7 309.7h0.42M472.4 310.2h0.42M479.8 309.7h0.42M466.5 309.4h0.42M469.2 311.0h0.42M468.0 309.2h0.42M462.3 311.0h0.42M467.6 309.1h0.42M469.4 311.3h0.42M484.4 313.4h0.42M465.3 310.0h0.42M458.5 307.6h0.42M459.1 312.2h0.42M470.1 308.3h0.42M466.7 309.9h0.42M466.8 313.1h0.42M458.6 310.0h0.42M472.6 311.5h0.42M457.0 311.0h0.42M462.9 309.8h0.42M460.8 312.0h0.42M491.2 312.4h0.42M469.1 307.9h0.42M476.7 312.7h0.42M463.9 312.2h0.42M459.5 308.7h0.42M472.0 308.5h0.42M476.0 313.0h0.42M471.5 311.5h0.42M481.5 311.6h0.42M479.6 313.1h0.42M464.4 314.3h0.42M478.9 311.0h0.42M476.6 311.3h0.42M472.8 309.2h0.42M468.7 310.2h0.42M478.3 311.5h0.42M473.9 310.6h0.42M479.5 306.8h0.42M465.4 312.3h0.42M468.7 311.8h0.42M481.6 312.1h0.42M461.8 310.4h0.42M463.9 311.5h0.42M478.0 310.4h0.42M474.7 310.5h0.42M483.8 311.0h0.42M472.8 311.7h0.42M478.2 311.9h0.42M471.2 310.9h0.42M474.7 311.7h0.42M469.0 309.9h0.42M469.9 311.5h0.42M468.5 309.1h0.42M469.2 310.0h0.42M475.3 310.0h0.42M468.8 313.8h0.42M474.3 309.3h0.42M479.2 310.2h0.42M466.2 311.8h0.42M462.3 310.7h0.42M475.0 312.0h0.42M468.0 310.0h0.42M470.9 312.8h0.42M459.8 312.1h0.42M473.4 313.0h0.42M464.2 312.7h0.42M465.8 311.3h0.42M468.9 306.8h0.42M471.1 311.4h0.42M477.0 309.8h0.42M463.9 312.0h0.42M469.1 312.5h0.42M480.6 310.4h0.42M470.3 309.6h0.42M458.4 310.8h0.42M476.1 312.5h0.42M471.3 313.8h0.42M468.1 310.8h0.42M468.0 310.1h0.42M469.7 309.7h0.42M468.8 311.3h0.42M472.2 309.1h0.42M474.8 309.5h0.42M474.4 310.9h0.42M459.1 309.1h0.42M477.6 309.8h0.42M467.3 310.1h0.42M472.2 311.8h0.42M469.6 313.6h0.42M467.8 310.1h0.42M470.3 311.1h0.42M481.0 314.6h0.42M469.3 310.6h0.42M475.6 310.6h0.42M477.1 309.1h0.42M477.0 307.3h0.42M474.9 311.9h0.42M487.6 309.4h0.42M476.0 311.9h0.42M465.4 311.2h0.42M466.0 308.9h0.42M461.7 310.5h0.42M464.6 307.4h0.42M473.3 308.0h0.42M476.0 311.2h0.42M466.1 308.2h0.42M465.5 308.6h0.42M469.0 310.2h0.42M487.6 307.4h0.42M467.6 311.7h0.42M478.2 313.0h0.42M465.0 312.1h0.42M477.0 312.0h0.42M462.2 309.4h0.42M457.2 309.6h0.42M462.3 311.2h0.42M466.4 311.8h0.42M470.7 310.2h0.42M483.0 312.7h0.42M462.7 313.1h0.42M476.4 313.0h0.42M474.4 307.8h0.42M468.9 306.8h0.42M462.1 309.6h0.42M479.8 310.9h0.42M472.8 312.0h0.42M465.4 312.6h0.42M472.8 309.2h0.42M467.6 310.4h0.42M475.4 313.1h0.42M469.3 310.4h0.42M483.3 316.1h0.42M483.3 311.1h0.42M469.0 311.9h0.42M473.4 309.5h0.42M480.4 315.0h0.42M465.8 309.5h0.42M468.0 308.7h0.42M476.8 308.4h0.42M475.8 311.4h0.42M476.3 308.3h0.42M472.3 311.2h0.42M477.3 311.4h0.42M467.5 312.7h0.42M480.6 313.0h0.42M466.4 311.7h0.42M465.3 310.5h0.42M476.4 308.4h0.42M489.9 312.8h0.42M466.2 309.8h0.42M470.9 310.6h0.42M463.3 310.6h0.42M461.0 309.8h0.42M483.3 310.7h0.42M468.8 313.4h0.42M473.5 311.8h0.42M467.5 312.6h0.42M469.2 312.3h0.42M475.7 313.7h0.42M478.0 310.8h0.42M464.3 310.3h0.42M466.7 313.4h0.42M468.4 306.9h0.42M473.9 312.2h0.42M465.2 312.0h0.42M462.5 311.2h0.42M470.3 311.3h0.42M474.2 309.7h0.42M476.8 309.9h0.42M472.2 313.2h0.42M465.2 310.9h0.42M482.1 312.9h0.42M466.8 309.7h0.42M475.1 309.7h0.42M471.9 308.5h0.42M475.6 308.1h0.42M472.3 312.0h0.42M466.8 308.1h0.42M462.8 307.6h0.42M483.5 307.5h0.42M462.7 311.3h0.42M471.7 312.5h0.42M480.3 311.5h0.42M470.9 309.8h0.42M470.1 312.4h0.42M475.5 311.8h0.42M460.0 309.5h0.42M466.7 309.9h0.42M464.2 311.9h0.42M478.5 313.9h0.42M467.8 310.6h0.42M472.0 310.8h0.42M465.7 312.1h0.42M457.6 310.0h0.42M458.4 311.9h0.42M461.9 308.8h0.42M471.3 309.0h0.42M473.1 310.1h0.42M484.7 308.7h0.42M465.8 311.8h0.42M472.2 311.6h0.42M469.4 312.4h0.42M473.7 313.0h0.42M462.2 311.2h0.42M469.9 311.5h0.42M465.0 312.2h0.42M462.3 312.3h0.42M475.1 307.7h0.42M474.1 307.5h0.42M475.2 308.1h0.42M470.9 310.3h0.42M460.3 307.6h0.42M474.8 310.0h0.42M478.8 310.7h0.42M490.2 311.1h0.42M483.4 311.4h0.42M472.0 311.7h0.42M466.3 309.7h0.42M482.7 310.5h0.42M463.6 311.7h0.42M465.8 311.0h0.42M479.2 313.0h0.42M483.9 312.8h0.42M476.0 311.8h0.42M473.6 310.8h0.42M487.1 310.7h0.42M483.0 310.6h0.42M479.9 306.0h0.42M472.7 309.8h0.42M482.4 313.4h0.42M467.4 310.7h0.42M478.0 311.4h0.42M472.4 312.6h0.42M462.8 313.6h0.42M474.9 306.0h0.42M465.6 310.8h0.42M487.4 310.9h0.42M461.6 313.3h0.42M474.7 310.9h0.42M479.1 310.3h0.42M471.3 312.7h0.42M475.1 312.6h0.42M469.6 313.8h0.42M462.4 308.6h0.42M475.6 310.5h0.42M473.5 311.1h0.42M471.1 309.2h0.42M474.3 313.2h0.42M466.5 314.2h0.42M482.9 309.6h0.42M477.7 309.1h0.42M471.4 309.1h0.42M468.6 307.9h0.42M471.2 309.2h0.42M466.2 307.7h0.42M472.5 314.3h0.42M469.8 310.8h0.42M464.5 310.2h0.42M466.4 308.4h0.42M466.2 310.1h0.42M474.3 310.4h0.42M474.1 313.2h0.42M478.5 310.3h0.42M460.1 310.7h0.42M472.7 312.7h0.42M473.1 315.7h0.42M469.9 312.1h0.42M465.9 309.3h0.42M470.1 311.3h0.42M476.8 305.6h0.42M479.7 313.5h0.42M481.3 312.4h0.42M471.2 311.9h0.42M480.8 309.3h0.42M476.6 311.8h0.42M471.1 314.0h0.42M467.3 309.3h0.42M471.7 309.9h0.42M481.1 308.1h0.42M463.0 311.5h0.42M477.0 308.9h0.42M480.8 307.7h0.42M478.9 309.4h0.42M468.7 314.0h0.42M471.5 309.8h0.42M473.5 314.1h0.42M472.3 309.6h0.42M473.3 308.8h0.42M467.2 309.9h0.42M476.2 310.1h0.42M475.1 312.9h0.42M482.5 308.0h0.42M471.4 308.9h0.42M476.1 311.3h0.42M471.7 310.0h0.42M465.0 307.2h0.42M478.5 311.4h0.42M472.0 312.8h0.42M477.3 317.2h0.42M470.5 313.8h0.42M460.3 310.8h0.42M466.8 310.2h0.42M479.9 312.2h0.42M472.2 312.2h0.42M470.2 311.3h0.42M467.3 310.4h0.42M468.8 311.4h0.42M458.7 312.1h0.42M471.5 313.1h0.42M464.0 309.3h0.42M477.3 309.9h0.42M475.1 310.1h0.42M463.4 307.9h0.42M467.5 310.6h0.42M463.2 315.9h0.42M471.9 309.5h0.42M482.1 314.2h0.42M466.5 309.1h0.42M470.4 314.0h0.42M462.0 315.1h0.42M469.1 314.3h0.42M470.8 313.3h0.42M476.2 315.5h0.42M466.8 317.2h0.42M462.9 312.8h0.42M476.5 312.0h0.42M477.9 307.5h0.42M471.5 314.7h0.42M471.9 308.9h0.42M472.9 312.5h0.42M465.0 315.6h0.42M468.1 309.1h0.42M472.6 310.2h0.42M470.5 312.6h0.42M469.0 313.6h0.42M473.9 315.3h0.42M465.0 312.2h0.42M473.6 312.8h0.42M457.3 309.0h0.42M474.1 313.6h0.42M472.1 312.5h0.42M480.3 311.0h0.42M466.6 316.1h0.42M476.1 311.5h0.42M467.0 316.4h0.42M470.0 309.8h0.42M480.6 307.9h0.42M470.9 313.7h0.42M469.9 310.6h0.42M474.9 308.6h0.42M470.4 314.0h0.42M464.3 315.8h0.42M470.4 311.8h0.42M468.6 313.6h0.42M468.6 312.6h0.42M480.6 315.4h0.42M461.4 315.7h0.42M468.5 312.8h0.42M472.6 312.8h0.42M467.7 313.6h0.42M478.9 310.4h0.42M471.8 314.2h0.42M479.3 312.9h0.42M473.7 313.3h0.42M469.6 312.9h0.42M470.0 311.0h0.42M455.7 307.0h0.42M474.4 314.0h0.42M474.9 312.3h0.42M469.8 313.5h0.42M469.1 312.0h0.42M482.1 308.1h0.42M467.7 311.3h0.42M458.6 308.7h0.42M479.1 313.4h0.42M470.8 315.6h0.42M465.0 317.2h0.42M471.3 310.3h0.42M479.3 313.4h0.42M473.1 311.6h0.42M459.3 306.2h0.42M471.7 314.6h0.42M466.3 312.2h0.42M460.9 307.8h0.42M471.3 313.8h0.42M476.8 315.2h0.42M466.2 311.5h0.42M477.1 309.1h0.42M469.6 311.9h0.42M471.5 314.3h0.42M474.6 310.7h0.42M455.6 314.1h0.42M478.5 313.3h0.42M474.1 313.1h0.42M480.0 310.5h0.42M471.2 309.1h0.42M470.1 309.6h0.42M466.0 306.4h0.42M470.9 314.7h0.42M471.3 310.0h0.42M473.6 311.2h0.42M471.0 315.8h0.42M472.7 312.9h0.42M469.7 311.4h0.42M465.2 311.5h0.42M466.1 315.0h0.42M469.9 313.9h0.42M480.4 314.6h0.42M466.8 316.4h0.42M458.4 315.8h0.42M470.9 309.9h0.42M456.9 307.7h0.42M473.2 307.1h0.42M475.8 315.0h0.42M480.7 312.5h0.42M471.1 310.7h0.42M490.4 315.1h0.42M475.8 312.7h0.42M478.9 306.5h0.42M477.4 310.2h0.42M466.2 313.0h0.42M466.3 310.7h0.42M482.5 312.7h0.42M474.1 307.5h0.42M477.7 310.0h0.42M474.7 309.0h0.42M474.0 313.3h0.42M461.4 312.7h0.42M465.3 315.3h0.42M474.0 312.0h0.42M492.4 314.1h0.42M468.8 314.2h0.42M473.4 315.6h0.42M464.6 317.2h0.42M468.0 310.8h0.42M466.4 311.0h0.42M484.7 312.3h0.42M464.1 311.4h0.42M473.2 314.5h0.42M469.3 312.4h0.42M491.8 311.5h0.42M472.3 308.5h0.42M478.1 310.6h0.42M484.3 315.2h0.42M477.1 310.4h0.42M469.2 310.8h0.42M472.1 310.9h0.42M467.8 312.1h0.42M471.3 310.8h0.42M477.8 314.7h0.42M467.7 317.8h0.42M474.1 315.2h0.42M484.5 307.9h0.42M475.0 314.4h0.42M479.8 314.0h0.42M478.5 307.7h0.42M464.9 313.4h0.42M457.4 310.3h0.42M470.2 312.9h0.42M477.8 312.5h0.42M465.8 309.2h0.42M474.4 313.5h0.42M474.1 312.2h0.42M472.3 308.0h0.42M471.3 314.0h0.42M463.7 313.0h0.42M476.3 318.3h0.42M471.1 311.2h0.42M463.2 308.8h0.42M460.3 306.9h0.42M476.4 311.8h0.42M473.6 307.4h0.42M457.5 306.9h0.42M482.7 315.0h0.42M462.2 312.1h0.42M472.7 309.1h0.42M467.1 314.5h0.42M476.5 314.4h0.42M473.8 312.2h0.42M475.0 311.4h0.42M483.3 312.5h0.42M475.3 311.6h0.42M469.8 319.6h0.42M462.9 325.8h0.42M460.4 332.2h0.42M466.8 329.6h0.42M474.1 317.4h0.42M471.3 329.1h0.42M469.2 316.5h0.42M460.3 327.3h0.42M472.4 336.2h0.42M483.0 330.7h0.42M464.2 325.6h0.42M477.9 332.5h0.42M461.9 330.6h0.42M477.4 326.0h0.42M469.8 326.0h0.42M476.7 333.3h0.42M474.8 332.3h0.42M467.8 332.6h0.42M479.3 319.4h0.42M470.6 340.0h0.42M482.7 338.3h0.42M477.8 320.1h0.42M460.4 335.6h0.42M477.5 325.3h0.42M473.4 336.8h0.42M480.8 328.9h0.42M473.7 332.3h0.42M474.2 331.6h0.42M474.0 332.5h0.42M465.1 332.0h0.42M471.1 332.6h0.42M480.1 328.3h0.42M463.7 329.2h0.42M468.9 319.6h0.42M478.0 332.0h0.42M480.2 325.8h0.42M464.0 317.4h0.42M466.1 335.9h0.42M477.1 333.1h0.42M477.4 325.5h0.42M466.4 333.1h0.42M462.9 341.5h0.42M461.9 319.7h0.42M481.2 335.0h0.42M482.0 341.5h0.42M460.3 318.9h0.42M468.9 321.8h0.42M466.6 324.3h0.42M469.8 340.7h0.42M472.4 316.2h0.42M471.0 329.7h0.42M473.1 322.3h0.42M472.2 319.8h0.42M472.4 316.2h0.42M480.8 326.3h0.42M466.4 324.0h0.42M464.4 325.2h0.42M479.7 336.4h0.42M471.3 326.9h0.42M462.1 325.8h0.42M476.7 329.7h0.42M473.0 328.6h0.42M476.4 334.3h0.42M466.1 331.6h0.42M480.4 326.9h0.42M464.1 341.5h0.42M478.6 340.6h0.42M466.9 332.8h0.42M479.9 337.0h0.42M479.1 320.4h0.42M478.3 340.0h0.42M476.2 338.5h0.42M478.0 329.4h0.42M478.3 322.2h0.42M476.7 330.1h0.42M462.2 335.0h0.42M468.6 329.5h0.42M480.1 330.4h0.42M460.5 326.1h0.42M464.0 332.2h0.42M479.0 336.5h0.42M480.1 337.1h0.42M477.9 321.4h0.42M475.5 337.6h0.42M472.9 332.5h0.42M466.0 324.6h0.42M468.4 338.1h0.42M466.0 321.5h0.42M470.0 319.6h0.42M473.8 335.4h0.42M471.2 341.1h0.42M483.0 324.0h0.42M479.3 329.0h0.42M473.2 324.8h0.42M463.1 331.9h0.42M466.2 338.1h0.42M462.7 338.5h0.42M464.4 333.3h0.42M468.5 333.8h0.42M463.4 324.6h0.42M464.5 326.7h0.42M482.7 317.2h0.42M470.9 320.2h0.42M463.0 321.3h0.42M479.8 332.0h0.42M470.9 332.0h0.42M481.7 316.8h0.42M475.2 322.5h0.42M475.1 334.0h0.42M478.7 337.7h0.42M461.7 333.6h0.42M472.3 329.7h0.42M478.8 316.7h0.42M460.6 328.3h0.42M475.9 341.6h0.42M471.9 320.1h0.42M464.9 322.0h0.42M464.7 336.8h0.42M482.7 336.2h0.42M480.7 336.8h0.42M480.9 327.1h0.42M461.8 316.6h0.42M475.8 336.1h0.42M471.9 339.5h0.42M461.6 330.0h0.42M478.1 326.0h0.42M462.6 319.7h0.42M478.1 323.2h0.42M463.6 329.4h0.42M481.5 335.7h0.42M476.5 318.7h0.42M471.1 328.1h0.42M469.4 316.5h0.42M473.0 330.0h0.42M461.4 328.8h0.42M480.2 328.4h0.42M478.0 322.4h0.42M479.3 319.5h0.42M480.9 338.6h0.42M475.0 340.2h0.42M473.8 330.1h0.42M477.6 340.4h0.42M468.6 326.2h0.42M480.5 325.7h0.42M465.4 325.4h0.42M474.2 318.1h0.42M472.3 324.7h0.42M478.7 326.8h0.42M481.0 334.0h0.42M467.6 323.8h0.42M471.4 325.9h0.42M468.8 335.4h0.42M467.3 328.7h0.42M481.5 331.6h0.42M474.9 326.8h0.42M477.4 320.9h0.42M463.9 326.3h0.42M479.6 330.2h0.42M478.5 338.1h0.42M465.3 325.6h0.42M465.6 319.3h0.42M472.6 316.7h0.42M474.1 341.1h0.42M467.8 332.0h0.42M480.9 337.2h0.42M478.9 336.8h0.42M469.7 330.3h0.42M462.0 321.3h0.42M465.5 328.4h0.42M466.0 318.3h0.42M474.5 330.2h0.42M473.3 339.7h0.42M482.5 326.8h0.42M473.0 328.5h0.42M469.1 322.9h0.42M471.9 337.2h0.42M477.9 338.8h0.42M476.5 330.5h0.42M479.7 327.1h0.42M468.9 319.6h0.42M473.5 331.7h0.42M478.1 320.6h0.42M462.1 323.2h0.42M470.8 324.7h0.42M475.3 322.6h0.42M478.9 333.7h0.42M482.4 331.6h0.42M462.0 338.0h0.42M482.2 335.8h0.42M460.9 336.7h0.42M477.4 322.3h0.42M461.6 330.9h0.42M462.2 337.9h0.42M468.3 331.3h0.42M479.0 322.7h0.42M467.4 334.5h0.42M460.2 325.1h0.42M471.6 332.1h0.42M468.9 337.3h0.42M462.6 329.6h0.42M460.1 327.8h0.42M477.0 328.1h0.42M467.6 332.4h0.42M467.2 339.4h0.42M470.5 328.6h0.42M462.4 332.4h0.42M476.7 333.5h0.42M473.6 336.2h0.42M465.1 318.5h0.42M474.3 330.3h0.42M469.9 319.0h0.42M468.6 316.7h0.42M471.1 319.9h0.42M479.6 341.2h0.42M460.6 331.4h0.42M460.6 336.1h0.42M467.6 330.9h0.42M465.8 332.1h0.42M470.5 325.0h0.42M477.0 333.0h0.42M471.1 323.1h0.42M468.2 330.0h0.42M474.6 329.3h0.42M476.6 329.7h0.42M481.7 319.2h0.42M475.0 329.1h0.42M481.1 323.1h0.42M460.9 316.5h0.42M477.9 335.4h0.42M463.1 319.2h0.42M465.7 340.3h0.42M482.6 329.0h0.42M481.8 325.4h0.42M468.2 316.8h0.42M478.8 316.3h0.42M470.7 333.4h0.42M463.9 333.8h0.42M462.2 325.1h0.42M468.6 337.9h0.42M466.8 323.5h0.42M473.1 329.4h0.42M474.6 319.7h0.42M482.5 325.1h0.42M470.4 334.6h0.42M477.3 327.1h0.42M477.3 322.9h0.42M468.2 328.9h0.42M461.6 337.5h0.42M474.3 331.0h0.42M479.9 322.8h0.42M469.4 338.8h0.42M463.9 318.8h0.42M462.9 335.3h0.42M466.6 327.4h0.42M482.9 329.5h0.42M480.1 322.6h0.42M481.6 322.7h0.42M465.1 320.0h0.42M468.6 330.0h0.42M475.5 334.5h0.42M463.9 316.2h0.42M462.1 323.2h0.42M462.2 328.5h0.42M470.9 340.8h0.42M473.5 328.9h0.42M466.7 330.0h0.42M477.7 329.7h0.42M472.2 320.3h0.42M468.4 329.5h0.42M465.1 320.1h0.42M476.6 336.4h0.42M469.0 336.0h0.42M479.8 335.7h0.42M482.2 321.7h0.42M475.4 327.1h0.42M477.5 318.3h0.42M470.0 330.9h0.42M478.5 321.1h0.42M467.0 337.1h0.42M463.5 329.9h0.42M475.6 321.7h0.42M475.6 330.7h0.42M467.6 326.3h0.42M475.7 333.0h0.42M481.2 338.8h0.42M466.9 316.6h0.42M476.8 322.8h0.42M471.0 338.3h0.42M468.0 319.2h0.42M482.3 330.5h0.42M475.1 340.5h0.42M460.8 321.6h0.42M477.0 339.1h0.42M479.0 322.8h0.42M471.2 330.7h0.42M461.9 333.1h0.42M477.7 318.0h0.42M469.5 337.9h0.42M478.7 337.2h0.42M469.3 316.6h0.42M470.1 328.4h0.42M476.8 339.7h0.42M466.2 325.0h0.42M480.3 327.3h0.42M465.9 324.2h0.42M480.0 317.8h0.42M477.9 318.5h0.42M466.7 333.1h0.42M476.7 322.9h0.42M473.6 340.4h0.42M468.3 339.1h0.42M472.6 334.6h0.42M463.8 328.8h0.42M460.4 335.5h0.42M482.3 316.3h0.42M476.1 340.3h0.42M477.7 341.0h0.42M468.0 331.2h0.42M460.3 330.5h0.42M460.7 335.1h0.42M467.0 316.0h0.42M465.8 333.8h0.42M471.5 325.6h0.42M466.3 316.1h0.42M481.0 327.2h0.42M468.7 339.7h0.42M467.7 331.1h0.42M468.3 322.7h0.42M465.5 328.9h0.42M462.8 337.1h0.42M474.9 319.8h0.42M467.6 340.6h0.42M469.2 320.0h0.42M480.9 319.4h0.42M477.5 316.7h0.42M481.3 338.7h0.42M474.7 331.8h0.42M477.9 332.6h0.42M477.3 326.3h0.42M470.4 318.7h0.42M480.1 325.5h0.42M468.0 320.3h0.42M467.1 330.7h0.42M472.8 332.9h0.42M473.7 329.7h0.42M474.5 325.7h0.42M473.8 322.7h0.42M461.6 333.4h0.42M478.9 320.6h0.42M477.5 339.8h0.42M481.6 328.8h0.42M466.6 329.7h0.42M465.8 337.8h0.42M477.7 319.0h0.42M462.9 339.5h0.42M468.3 338.9h0.42M482.4 325.6h0.42M468.3 320.3h0.42M471.8 336.4h0.42M470.0 317.1h0.42M477.4 335.2h0.42M475.8 334.6h0.42M468.6 319.5h0.42M476.8 316.0h0.42M472.8 318.9h0.42M468.7 334.1h0.42M468.6 327.1h0.42M470.6 340.8h0.42M470.4 319.4h0.42M460.2 340.6h0.42M460.4 340.7h0.42M464.5 323.9h0.42M475.7 317.6h0.42M482.3 337.3h0.42M460.2 332.6h0.42M460.1 334.3h0.42M472.2 320.6h0.42M479.3 317.4h0.42M479.9 323.1h0.42M463.2 338.3h0.42M467.2 316.4h0.42M475.1 336.8h0.42M479.1 320.9h0.42M479.8 323.8h0.42M467.9 330.5h0.42M475.5 338.8h0.42M473.8 330.1h0.42M465.1 330.3h0.42M477.3 335.5h0.42M463.3 334.0h0.42M475.9 337.7h0.42M469.1 324.0h0.42M477.9 340.4h0.42M478.2 340.8h0.42M463.4 334.5h0.42M472.6 317.4h0.42M480.5 325.9h0.42M475.0 336.3h0.42M470.1 321.7h0.42M464.4 328.4h0.42M463.9 324.3h0.42M472.6 320.2h0.42M478.1 330.6h0.42M478.7 325.3h0.42M478.9 337.0h0.42M474.5 318.3h0.42M482.1 339.0h0.42M472.7 325.7h0.42M472.3 334.7h0.42M481.8 321.6h0.42M478.4 318.1h0.42M478.8 317.3h0.42M468.7 322.8h0.42M472.8 321.6h0.42M462.4 332.2h0.42M478.8 331.8h0.42M466.3 339.1h0.42M475.0 331.8h0.42M460.7 330.3h0.42M468.0 322.8h0.42M484.9 334.2h0.42M493.5 339.9h0.42M486.9 337.9h0.42M499.2 327.4h0.42M494.5 332.6h0.42M484.9 337.3h0.42M490.9 341.2h0.42M485.8 336.2h0.42M484.4 340.0h0.42M490.3 331.7h0.42M498.1 333.7h0.42M486.3 326.2h0.42M499.0 329.1h0.42M491.0 328.3h0.42M488.9 340.9h0.42M498.2 340.8h0.42M489.0 340.3h0.42M486.6 329.6h0.42M497.9 340.7h0.42M498.0 334.3h0.42M495.9 325.2h0.42M495.8 330.9h0.42M491.3 323.2h0.42M497.0 332.0h0.42M490.4 340.6h0.42M491.5 329.6h0.42M486.8 328.8h0.42M492.3 322.5h0.42M495.0 331.1h0.42M488.3 335.0h0.42M486.4 340.1h0.42M485.5 328.1h0.42M491.4 326.2h0.42M486.0 340.3h0.42M490.6 323.1h0.42M493.4 328.5h0.42M485.3 331.1h0.42M496.1 340.5h0.42M485.8 333.4h0.42M486.2 339.0h0.42M494.1 339.6h0.42M498.3 336.5h0.42M486.1 337.3h0.42M494.8 325.2h0.42M491.4 337.8h0.42M487.4 337.5h0.42M492.8 327.6h0.42M490.8 325.2h0.42M490.1 326.5h0.42M497.2 338.4h0.42M492.7 335.4h0.42M496.4 330.9h0.42M485.0 322.8h0.42M498.4 339.4h0.42M487.8 321.2h0.42M492.0 325.3h0.42M485.4 339.6h0.42M487.5 331.7h0.42M491.5 328.1h0.42M495.5 331.5h0.42M495.8 334.0h0.42M491.4 335.1h0.42M488.1 332.2h0.42M493.4 322.0h0.42M489.9 324.3h0.42M486.8 326.4h0.42M495.7 330.6h0.42M496.0 332.9h0.42M486.9 337.3h0.42M485.0 325.3h0.42M495.4 323.3h0.42M496.3 338.1h0.42M485.5 333.3h0.42M490.2 328.8h0.42M494.7 322.5h0.42M489.3 325.0h0.42M496.1 337.5h0.42M485.0 331.7h0.42M492.7 321.4h0.42M487.6 331.2h0.42M495.0 330.0h0.42M484.6 336.7h0.42M494.8 322.9h0.42M491.1 329.2h0.42M494.7 339.9h0.42M486.1 336.0h0.42M496.7 334.4h0.42M494.1 329.3h0.42M484.9 326.2h0.42M497.3 322.9h0.42M486.9 327.3h0.42M490.1 328.5h0.42M489.6 330.0h0.42M495.8 338.3h0.42M495.6 329.9h0.42M485.7 334.3h0.42M497.0 324.4h0.42M486.8 328.6h0.42M495.0 340.2h0.42M486.2 324.6h0.42M490.5 323.3h0.42M486.0 322.5h0.42M494.3 321.1h0.42M490.3 324.0h0.42M492.7 322.8h0.42M499.2 324.5h0.42M496.6 329.4h0.42M487.4 335.5h0.42M490.8 337.8h0.42M492.8 332.8h0.42M489.4 323.1h0.42M485.3 337.9h0.42M489.6 334.7h0.42M488.5 338.1h0.42M487.3 336.6h0.42M486.8 325.2h0.42M486.0 340.9h0.42M496.9 337.1h0.42M491.1 327.7h0.42M495.2 336.9h0.42M495.9 329.7h0.42M497.0 323.1h0.42M493.1 334.0h0.42M496.9 341.5h0.42M486.4 334.7h0.42M487.2 339.9h0.42M494.0 325.1h0.42M490.0 331.4h0.42M487.2 327.2h0.42M489.9 340.4h0.42M490.3 324.1h0.42M497.6 321.5h0.42M490.8 332.0h0.42M497.6 329.6h0.42M487.4 325.4h0.42M497.3 340.0h0.42M496.6 327.0h0.42M487.0 325.9h0.42M495.8 334.9h0.42M496.2 341.0h0.42M496.1 329.6h0.42M497.7 336.6h0.42M491.1 322.2h0.42M491.7 338.4h0.42M488.1 332.1h0.42M491.8 334.4h0.42M498.1 330.6h0.42M493.7 321.4h0.42M496.3 329.0h0.42M497.2 324.3h0.42M493.4 324.7h0.42M492.6 338.1h0.42M487.5 328.2h0.42M493.0 338.0h0.42M493.6 336.8h0.42M485.1 335.3h0.42M484.5 330.9h0.42M498.8 322.4h0.42M485.2 337.8h0.42M496.4 321.6h0.42M493.6 328.9h0.42M496.8 339.3h0.42M492.5 336.5h0.42M492.6 333.0h0.42M487.7 334.0h0.42M493.2 340.2h0.42M497.6 336.9h0.42M487.8 332.2h0.42M498.1 328.7h0.42M488.1 323.3h0.42M493.7 320.2h0.42M489.4 321.3h0.42M486.4 317.3h0.42M476.7 331.0h0.42M492.4 321.7h0.42M480.3 325.3h0.42M495.5 324.3h0.42M480.9 320.6h0.42M489.7 322.3h0.42M493.5 318.8h0.42M485.7 312.8h0.42M493.6 325.1h0.42M486.6 315.5h0.42M492.4 317.0h0.42M482.8 314.9h0.42M482.1 318.8h0.42M483.6 326.9h0.42M491.7 322.9h0.42M485.9 322.4h0.42M482.5 324.1h0.42M484.2 320.5h0.42M490.0 319.0h0.42M482.2 326.6h0.42M480.6 317.4h0.42M483.1 319.6h0.42M487.8 309.6h0.42M486.1 328.1h0.42M493.8 326.0h0.42M488.0 323.4h0.42M485.9 315.8h0.42M490.0 326.8h0.42M489.8 322.4h0.42M492.3 323.8h0.42M493.5 320.8h0.42M480.3 324.5h0.42M492.4 319.4h0.42M489.5 325.4h0.42M476.0 332.4h0.42M491.9 321.7h0.42M483.1 316.1h0.42M503.6 321.2h0.42M491.6 319.8h0.42M486.9 325.2h0.42M484.1 322.2h0.42M487.5 324.4h0.42M492.3 321.8h0.42M494.8 320.6h0.42M486.6 322.8h0.42M487.2 325.7h0.42M475.4 315.3h0.42M478.5 328.2h0.42M492.2 319.7h0.42M490.2 315.3h0.42M487.0 328.5h0.42M491.4 331.2h0.42M486.1 327.2h0.42M488.9 323.8h0.42M489.6 325.7h0.42M494.5 322.8h0.42M490.2 322.1h0.42M489.8 319.2h0.42M493.0 325.4h0.42M489.9 322.5h0.42M485.4 318.7h0.42M483.4 319.3h0.42M492.7 324.3h0.42M481.9 318.6h0.42M494.6 329.4h0.42M492.4 331.2h0.42M485.4 324.4h0.42M485.6 331.7h0.42M490.5 324.4h0.42M490.3 319.9h0.42M488.3 313.4h0.42M486.6 318.6h0.42M492.2 328.2h0.42M489.9 318.6h0.42M483.6 325.8h0.42M487.5 321.7h0.42M483.7 323.8h0.42M489.6 326.0h0.42M484.4 322.6h0.42M482.2 323.7h0.42M488.8 321.3h0.42M492.8 317.6h0.42M495.9 324.5h0.42M491.4 323.9h0.42M485.5 320.5h0.42M493.1 322.8h0.42M490.2 321.4h0.42M492.6 325.5h0.42M482.8 330.8h0.42M493.5 326.2h0.42M490.3 322.6h0.42M492.7 333.3h0.42M488.4 318.4h0.42M488.6 323.1h0.42M493.2 317.9h0.42M486.8 321.5h0.42M493.2 327.3h0.42M489.7 327.2h0.42M489.3 323.2h0.42M478.3 319.2h0.42M483.6 324.6h0.42M489.1 318.4h0.42M488.9 322.2h0.42M490.4 320.5h0.42M485.4 327.6h0.42M487.4 326.8h0.42M484.6 321.8h0.42M487.1 318.8h0.42M491.8 317.2h0.42M489.7 314.0h0.42M491.7 322.8h0.42M493.7 330.8h0.42M485.5 322.7h0.42M482.7 320.8h0.42M488.8 322.8h0.42M492.1 324.6h0.42M493.0 319.9h0.42M489.2 318.4h0.42M487.8 311.6h0.42M488.0 322.8h0.42M486.4 321.0h0.42M480.8 320.0h0.42M485.8 323.5h0.42M490.6 320.8h0.42M487.8 324.0h0.42M484.5 326.6h0.42M497.7 324.1h0.42M486.3 323.5h0.42M493.7 327.7h0.42M482.4 323.9h0.42M485.2 320.8h0.42M489.7 324.7h0.42M487.2 319.2h0.42M487.6 318.4h0.42M496.3 316.3h0.42M491.2 323.0h0.42M488.5 318.4h0.42M490.6 331.3h0.42M466.6 322.5h0.42M500.1 345.7h0.42M464.2 343.7h0.42M457.9 321.7h0.42M471.1 338.5h0.42M493.7 333.5h0.42M484.1 334.2h0.42M470.6 316.3h0.42M473.0 333.6h0.42M481.3 301.5h0.42M495.5 301.5h0.42M503.1 310.6h0.42M489.9 310.8h0.42M464.0 300.6h0.42M498.4 340.6h0.42M495.7 336.3h0.42M490.7 335.7h0.42M495.8 337.4h0.42M458.2 342.8h0.42" stroke="#000" stroke-width="0.42" fill="none"/>
<rect x="459.5" y="305.7" width="22.9" height="10.2" fill="none" stroke="#333" stroke-width="0.5"/>
<rect x="459.5" y="315.9" width="23.7" height="26.3" fill="none" stroke="#333" stroke-width="0.5"/>
<rect x="484.3" y="321" width="15.1" height="21.2" fill="none" stroke="#333" stroke-width="0.5"/>
<polygon points="482.4,305.7 501.3,302.2 504.5,307.8 499.4,321 484.3,321 482.4,315.9" fill="none" stroke="#333" stroke-width="0.5"/>
<text x="460.3" y="301.4" font-size="3.6" text-anchor="start" fill="#222" stroke="#222" stroke-width="0.05">3.6%</text>
<text x="485.9" y="301.4" font-size="3.6" text-anchor="start" fill="#222" stroke="#222" stroke-width="0.05">91.1%</text>
<text x="463.7" y="346.6" font-size="3.6" text-anchor="start" fill="#222" stroke="#222" stroke-width="0.05">2.2%</text>
<text x="489.2" y="346.6" font-size="3.6" text-anchor="start" fill="#222" stroke="#222" stroke-width="0.05">1.8%</text>
<text transform="translate(375.7 342.6) rotate(-90)" font-size="9.4" text-anchor="middle" fill="#1a1a1a" stroke="#1a1a1a" stroke-width="0.22" textLength="16" lengthAdjust="spacingAndGlyphs">CD4</text>
<line x1="371.9" y1="329.3" x2="371.9" y2="308.82" stroke="#1a1a1a" stroke-width="1.0"/>
<polygon points="371.9,304.5 374.3,309.9 369.5,309.9" fill="#1a1a1a"/>
<text x="387.1" y="366.4" font-size="9.2" text-anchor="start" fill="#1a1a1a" stroke="#1a1a1a" stroke-width="0.22" textLength="16.8" lengthAdjust="spacingAndGlyphs">CD8</text>
<line x1="407.9" y1="363.6" x2="499.28" y2="363.6" stroke="#1a1a1a" stroke-width="1.0"/>
<polygon points="503.6,363.6 498.2,366 498.2,361.2" fill="#1a1a1a"/>
<text x="195.8" y="490.9" font-size="11.2" text-anchor="start" fill="#1a1a1a" stroke="#1a1a1a" stroke-width="0.04">G</text>
<text x="229.4" y="499.4" font-size="5.6" text-anchor="start" fill="#1a1a1a" stroke="#1a1a1a" stroke-width="0.08" textLength="24.6" lengthAdjust="spacingAndGlyphs">Mcl-1<tspan font-size="3.8" dy="-2.2">wt/wt</tspan></text>
<text x="297.2" y="499.4" font-size="5.6" text-anchor="start" fill="#1a1a1a" stroke="#1a1a1a" stroke-width="0.08" textLength="25.2" lengthAdjust="spacingAndGlyphs">Mcl-1<tspan font-size="3.8" dy="-2.2">hu/hu</tspan></text>
<rect x="224.5" y="502.6" width="54.7" height="54.4" fill="none" stroke="#8a8a8a" stroke-width="0.5" stroke-dasharray="0.7 0.4"/>
<text x="221.5" y="509.3" font-size="3.9" text-anchor="end" fill="#3a3a3a" stroke="#3a3a3a" stroke-width="0">10<tspan font-size="2.6" dy="-1.5">5</tspan></text>
<line x1="223.6" y1="508" x2="224.8" y2="508" stroke="#222" stroke-width="0.5"/>
<text x="221.5" y="524.8" font-size="3.9" text-anchor="end" fill="#3a3a3a" stroke="#3a3a3a" stroke-width="0">10<tspan font-size="2.6" dy="-1.5">4</tspan></text>
<line x1="223.6" y1="523.5" x2="224.8" y2="523.5" stroke="#222" stroke-width="0.5"/>
<text x="221.5" y="540.8" font-size="3.9" text-anchor="end" fill="#3a3a3a" stroke="#3a3a3a" stroke-width="0">0</text>
<line x1="223.6" y1="539.5" x2="224.8" y2="539.5" stroke="#222" stroke-width="0.5"/>
<text x="221.5" y="554.9" font-size="3.9" text-anchor="end" fill="#3a3a3a" stroke="#3a3a3a" stroke-width="0">-10<tspan font-size="2.6" dy="-1.5">3</tspan></text>
<line x1="223.6" y1="553.6" x2="224.8" y2="553.6" stroke="#222" stroke-width="0.5"/>
<text x="229" y="565.2" font-size="3.9" text-anchor="middle" fill="#3a3a3a" stroke="#3a3a3a" stroke-width="0">-10<tspan font-size="2.6" dy="-1.5">3</tspan></text>
<line x1="229" y1="556.7" x2="229" y2="557.9" stroke="#222" stroke-width="0.5"/>
<text x="243.7" y="565.2" font-size="3.9" text-anchor="middle" fill="#3a3a3a" stroke="#3a3a3a" stroke-width="0">0</text>
<line x1="243.7" y1="556.7" x2="243.7" y2="557.9" stroke="#222" stroke-width="0.5"/>
<text x="259" y="565.2" font-size="3.9" text-anchor="middle" fill="#3a3a3a" stroke="#3a3a3a" stroke-width="0">10<tspan font-size="2.6" dy="-1.5">3</tspan></text>
<line x1="259" y1="556.7" x2="259" y2="557.9" stroke="#222" stroke-width="0.5"/>
<text x="267.5" y="565.2" font-size="3.9" text-anchor="middle" fill="#3a3a3a" stroke="#3a3a3a" stroke-width="0">10<tspan font-size="2.6" dy="-1.5">4</tspan></text>
<line x1="267.5" y1="556.7" x2="267.5" y2="557.9" stroke="#222" stroke-width="0.5"/>
<line x1="224.5" y1="557.5" x2="279.2" y2="557.5" stroke="#333" stroke-width="0.8" stroke-dasharray="0.5 2.1"/>
<line x1="224" y1="502.6" x2="224" y2="557" stroke="#333" stroke-width="0.8" stroke-dasharray="0.5 2.1"/>
<line x1="242.4" y1="557.4" x2="245" y2="557.4" stroke="#000" stroke-width="1.0"/>
<line x1="224" y1="537.5" x2="224" y2="540.1" stroke="#000" stroke-width="1.0"/>
<ellipse cx="243.6" cy="519" rx="9.6" ry="1.25" transform="rotate(1 243.6 519)" fill="#000" fill-opacity="0.8" filter="url(#b2)"/>
<ellipse cx="257.6" cy="537.6" rx="1" ry="6.2" transform="rotate(3 257.6 537.6)" fill="#000" fill-opacity="0.3" filter="url(#b2)"/>
<path d="M236.3 517.6h0.42M243.7 520.9h0.42M241.0 518.6h0.42M241.2 519.8h0.42M247.3 519.3h0.42M240.8 518.6h0.42M253.1 519.2h0.42M235.9 520.4h0.42M236.8 518.0h0.42M252.0 517.6h0.42M238.5 520.2h0.42M240.7 518.4h0.42M242.8 518.8h0.42M248.7 518.7h0.42M252.6 518.4h0.42M247.4 516.4h0.42M238.0 518.9h0.42M251.4 518.3h0.42M239.9 517.1h0.42M234.8 518.2h0.42M233.7 519.3h0.42M251.0 521.5h0.42M244.4 518.2h0.42M238.2 520.9h0.42M234.4 518.3h0.42M254.0 519.7h0.42M250.1 518.6h0.42M249.3 520.1h0.42M241.9 519.2h0.42M237.4 518.4h0.42M240.9 516.8h0.42M247.2 520.4h0.42M246.5 516.8h0.42M235.4 518.1h0.42M251.6 521.6h0.42M245.8 519.4h0.42M245.2 519.1h0.42M246.9 519.2h0.42M244.9 519.4h0.42M253.7 518.5h0.42M237.8 519.5h0.42M248.0 518.8h0.42M246.3 518.5h0.42M254.2 519.7h0.42M247.6 519.9h0.42M237.9 519.5h0.42M241.1 520.4h0.42M252.4 521.7h0.42M234.9 521.5h0.42M249.6 519.2h0.42M244.1 517.4h0.42M233.8 520.7h0.42M250.9 519.2h0.42M237.1 520.1h0.42M240.1 518.5h0.42M244.1 520.3h0.42M239.9 517.4h0.42M251.3 519.3h0.42M253.9 517.1h0.42M252.9 521.9h0.42M243.6 518.7h0.42M249.9 516.0h0.42M239.9 520.9h0.42M243.2 520.4h0.42M244.1 521.0h0.42M242.3 517.4h0.42M237.2 519.6h0.42M252.5 520.9h0.42M247.1 518.8h0.42M240.6 519.6h0.42M239.6 518.7h0.42M235.5 518.6h0.42M243.2 521.0h0.42M240.2 517.9h0.42M252.4 519.1h0.42M235.5 519.9h0.42M237.5 519.1h0.42M247.1 520.3h0.42M239.0 516.2h0.42M240.4 520.7h0.42M253.3 517.4h0.42M237.9 518.8h0.42M236.4 518.6h0.42M240.2 519.7h0.42M241.3 518.8h0.42M243.7 518.5h0.42M248.6 520.0h0.42M236.1 522.0h0.42M237.1 518.2h0.42M252.7 518.1h0.42M247.7 518.2h0.42M235.2 517.3h0.42M245.7 517.3h0.42M251.1 518.4h0.42M238.2 520.1h0.42M243.5 518.3h0.42M250.1 517.9h0.42M239.0 518.9h0.42M248.4 517.9h0.42M241.9 522.9h0.42M245.7 521.2h0.42M246.5 519.1h0.42M234.5 516.6h0.42M247.3 518.2h0.42M250.1 517.7h0.42M237.0 517.8h0.42M234.7 515.9h0.42M244.3 518.3h0.42M244.0 518.2h0.42M242.8 518.1h0.42M252.0 517.2h0.42M234.4 519.6h0.42M246.6 517.8h0.42M251.3 515.8h0.42M250.4 517.6h0.42M248.6 520.2h0.42M237.4 520.7h0.42M237.5 517.4h0.42M242.1 518.8h0.42M249.9 519.8h0.42M234.8 520.3h0.42M234.2 518.4h0.42M252.4 519.4h0.42M241.0 518.4h0.42M246.1 516.4h0.42M253.1 520.3h0.42M235.0 518.9h0.42M241.6 519.6h0.42M251.1 518.7h0.42M237.0 517.8h0.42M252.3 518.3h0.42M248.5 519.5h0.42M241.4 517.2h0.42M250.5 521.2h0.42M242.3 522.3h0.42M251.7 515.8h0.42M254.5 520.3h0.42M245.7 518.4h0.42M247.5 519.9h0.42M237.4 519.3h0.42M236.6 518.7h0.42M241.7 520.3h0.42M239.1 519.1h0.42M243.0 521.1h0.42M236.8 519.5h0.42M247.4 517.0h0.42M244.7 518.8h0.42M236.9 519.0h0.42M234.7 518.2h0.42M245.6 517.3h0.42M254.3 521.8h0.42M253.8 518.9h0.42M254.5 519.0h0.42M242.1 516.7h0.42M252.6 519.8h0.42M235.2 518.9h0.42M233.0 520.6h0.42M235.5 521.4h0.42M233.4 518.1h0.42M235.5 518.0h0.42M243.5 520.7h0.42M251.1 520.6h0.42M248.9 519.5h0.42M244.4 520.1h0.42M234.4 518.6h0.42M247.0 519.0h0.42M246.6 519.0h0.42M250.5 516.0h0.42M244.8 520.1h0.42M240.3 520.1h0.42M239.2 517.7h0.42M243.6 518.3h0.42M238.9 519.5h0.42M254.0 520.1h0.42M235.1 519.1h0.42M247.5 518.4h0.42M241.6 519.6h0.42M241.8 519.2h0.42M244.5 517.6h0.42M239.9 518.6h0.42M248.6 518.5h0.42M246.2 520.0h0.42M243.4 517.2h0.42M242.4 517.9h0.42M245.3 518.5h0.42M248.8 519.1h0.42M236.7 522.4h0.42M235.9 518.8h0.42M236.4 520.5h0.42M241.5 520.1h0.42M244.2 520.9h0.42M242.3 521.5h0.42M249.7 519.8h0.42M247.1 517.7h0.42M247.2 518.5h0.42M244.3 521.2h0.42M254.0 522.1h0.42M233.6 520.8h0.42M243.2 522.4h0.42M240.7 520.0h0.42M254.4 517.9h0.42M239.7 519.2h0.42M241.9 519.5h0.42M249.2 520.3h0.42M242.1 520.3h0.42M236.3 517.8h0.42M237.8 520.7h0.42M244.1 518.2h0.42M241.1 519.4h0.42M245.5 520.0h0.42M238.2 520.0h0.42M254.1 519.8h0.42M240.2 518.3h0.42M241.1 518.8h0.42M246.3 520.4h0.42M251.2 518.4h0.42M251.6 517.4h0.42M244.8 515.4h0.42M251.5 519.1h0.42M247.2 517.8h0.42M240.4 519.0h0.42M243.5 517.5h0.42M240.1 518.4h0.42M250.1 518.5h0.42M245.6 520.4h0.42M244.4 517.8h0.42M240.3 517.3h0.42M248.9 519.2h0.42M238.7 520.2h0.42M239.7 517.7h0.42M233.1 519.7h0.42M235.4 519.0h0.42M240.0 519.7h0.42M240.0 516.4h0.42M242.2 519.2h0.42M247.1 518.7h0.42M238.8 519.3h0.42M236.7 518.0h0.42M246.5 518.8h0.42M248.5 515.9h0.42M252.7 519.0h0.42M243.8 521.0h0.42M234.3 519.3h0.42M240.3 519.1h0.42M247.7 519.5h0.42M241.6 521.0h0.42M236.1 518.0h0.42M253.6 516.9h0.42M251.3 517.4h0.42M238.6 518.1h0.42M235.7 519.1h0.42M243.3 520.2h0.42M238.3 518.0h0.42M244.0 517.6h0.42M248.9 520.3h0.42M239.1 520.5h0.42M241.1 517.9h0.42M246.4 520.1h0.42M244.5 518.7h0.42M233.3 518.3h0.42M240.1 518.8h0.42M235.9 517.8h0.42M251.6 516.6h0.42M243.0 517.0h0.42M250.1 517.9h0.42M238.8 519.4h0.42M234.3 519.6h0.42M252.2 520.2h0.42M252.1 517.9h0.42M245.4 518.9h0.42M235.8 516.9h0.42M234.4 517.6h0.42M247.4 520.5h0.42M244.4 518.8h0.42M240.4 521.7h0.42M245.4 520.0h0.42M234.1 518.3h0.42M237.5 518.0h0.42M254.1 516.0h0.42M242.6 520.9h0.42M242.4 520.4h0.42M254.2 524.1h0.42M242.7 522.0h0.42M234.0 519.5h0.42M247.5 517.5h0.42M244.0 516.4h0.42M238.5 518.4h0.42M244.3 518.9h0.42M239.3 516.9h0.42M248.3 520.0h0.42M254.1 520.4h0.42M234.4 517.6h0.42M249.1 518.6h0.42M251.7 517.0h0.42M248.2 520.4h0.42M245.1 517.7h0.42M239.2 517.3h0.42M241.4 516.1h0.42M236.0 517.5h0.42M234.3 516.5h0.42M248.1 520.5h0.42M235.4 519.9h0.42M234.1 517.2h0.42M238.3 517.7h0.42M233.2 518.9h0.42M245.9 519.1h0.42M244.3 517.4h0.42M242.5 520.9h0.42M234.7 519.9h0.42M244.1 521.9h0.42M247.9 515.0h0.42M240.3 516.7h0.42M238.8 520.0h0.42M242.1 519.3h0.42M239.0 518.6h0.42M241.2 517.3h0.42M245.4 519.7h0.42M233.9 518.2h0.42M239.2 521.0h0.42M235.5 520.6h0.42M238.0 520.3h0.42M250.5 516.3h0.42M241.4 519.4h0.42M242.8 521.5h0.42M239.5 521.7h0.42M253.5 520.8h0.42M251.7 520.6h0.42M234.3 517.9h0.42M238.5 521.1h0.42M242.2 521.7h0.42M249.4 519.6h0.42M239.9 519.7h0.42M236.9 518.8h0.42M236.1 519.3h0.42M251.3 518.5h0.42M241.5 519.7h0.42M240.2 518.7h0.42M242.4 516.8h0.42M254.4 518.1h0.42M248.2 519.6h0.42M238.0 519.3h0.42M237.2 521.1h0.42M235.5 520.4h0.42M252.6 520.9h0.42M242.8 518.9h0.42M248.1 520.6h0.42M252.0 518.0h0.42M234.4 518.0h0.42M237.6 520.3h0.42M241.9 519.3h0.42M249.5 517.8h0.42M242.5 520.4h0.42M239.6 521.1h0.42M234.6 520.1h0.42M242.0 520.9h0.42M237.1 520.3h0.42M253.8 520.3h0.42M251.8 517.8h0.42M241.8 516.3h0.42M234.8 518.5h0.42M241.2 514.3h0.42M254.0 518.2h0.42M246.7 517.4h0.42M243.5 519.2h0.42M241.5 517.9h0.42M237.3 519.0h0.42M236.1 517.7h0.42M242.1 518.6h0.42M254.0 521.2h0.42M253.4 517.5h0.42M251.6 516.4h0.42M240.4 521.0h0.42M245.7 520.1h0.42M236.9 518.9h0.42M238.4 518.4h0.42M236.8 519.4h0.42M241.1 518.4h0.42M234.2 520.4h0.42M251.5 518.5h0.42M253.0 518.1h0.42M237.3 519.8h0.42M240.1 517.8h0.42M237.8 519.8h0.42M248.0 517.3h0.42M254.3 518.2h0.42M253.1 519.2h0.42M234.0 518.0h0.42M253.1 520.4h0.42M243.0 518.8h0.42M236.3 519.3h0.42M239.6 516.1h0.42M244.2 519.8h0.42M241.1 519.1h0.42M246.0 516.1h0.42M234.9 519.3h0.42M246.4 519.5h0.42M240.3 517.9h0.42M251.3 517.4h0.42M246.1 516.9h0.42M234.2 519.0h0.42M254.2 519.0h0.42M237.6 518.7h0.42M245.2 521.9h0.42M241.4 518.9h0.42M245.4 519.2h0.42M236.0 516.7h0.42M238.5 519.4h0.42M238.0 520.3h0.42M242.0 517.7h0.42M241.0 522.0h0.42M241.6 518.1h0.42M241.5 519.2h0.42M241.1 518.4h0.42M250.5 518.4h0.42M243.0 514.8h0.42M246.1 520.2h0.42M245.2 515.8h0.42M245.0 520.8h0.42M252.2 517.4h0.42M253.5 518.2h0.42M233.7 522.6h0.42M241.7 517.6h0.42M254.4 518.6h0.42M237.5 517.1h0.42M243.9 518.7h0.42M241.0 519.6h0.42M246.1 521.2h0.42M249.8 515.2h0.42M247.0 518.9h0.42M238.1 519.8h0.42M246.7 520.3h0.42M248.5 517.8h0.42M235.5 519.1h0.42M246.4 521.7h0.42M233.6 519.5h0.42M241.9 522.1h0.42M240.5 517.2h0.42M236.3 517.9h0.42M247.5 519.0h0.42M247.7 517.5h0.42M247.0 519.9h0.42M247.1 517.3h0.42M248.3 519.5h0.42M244.9 516.8h0.42M253.9 517.7h0.42M245.9 519.3h0.42M244.6 519.8h0.42M249.5 517.6h0.42M238.5 516.8h0.42M253.6 519.8h0.42M246.2 517.5h0.42M240.5 519.6h0.42M239.0 520.9h0.42M240.5 519.9h0.42M254.4 516.8h0.42M240.1 520.8h0.42M235.8 520.6h0.42M251.8 518.1h0.42M236.7 518.4h0.42M240.4 521.1h0.42M240.3 519.4h0.42M236.5 519.6h0.42M237.0 520.6h0.42M251.4 519.8h0.42M253.4 523.1h0.42M233.3 521.0h0.42M241.5 519.2h0.42M251.6 519.2h0.42M239.3 518.6h0.42M233.5 520.8h0.42M251.7 517.3h0.42M249.5 520.3h0.42M233.7 518.1h0.42M249.1 516.3h0.42M242.2 520.4h0.42M246.1 519.6h0.42M236.4 519.4h0.42M240.3 518.6h0.42M253.7 519.0h0.42M242.7 518.1h0.42M241.4 521.0h0.42M251.5 521.0h0.42M246.1 518.9h0.42M243.8 519.0h0.42M234.0 519.4h0.42M248.3 520.3h0.42M238.7 519.4h0.42M239.9 518.4h0.42M238.3 518.7h0.42M241.8 519.4h0.42M251.8 518.8h0.42M244.8 518.5h0.42M250.3 520.8h0.42M253.5 519.6h0.42M248.4 520.4h0.42M236.0 517.7h0.42M237.7 520.3h0.42M233.7 519.1h0.42M251.0 518.7h0.42M236.8 518.0h0.42M250.7 518.1h0.42M237.9 518.4h0.42M252.1 519.2h0.42M234.5 518.9h0.42M249.6 522.0h0.42M253.0 519.7h0.42M243.3 519.4h0.42M240.0 518.9h0.42M245.9 517.9h0.42M253.3 517.9h0.42M235.7 519.6h0.42M247.5 516.8h0.42M241.9 521.4h0.42M252.2 521.3h0.42M236.2 516.9h0.42M249.6 520.8h0.42M244.7 520.7h0.42M246.3 520.7h0.42M243.8 520.0h0.42M241.6 521.4h0.42M237.6 517.9h0.42M247.3 518.4h0.42M242.9 519.9h0.42M253.0 519.1h0.42M236.7 517.0h0.42M234.6 520.2h0.42M247.6 520.6h0.42M250.4 518.7h0.42M247.1 519.6h0.42M243.2 520.4h0.42M234.9 516.0h0.42M234.7 518.2h0.42M242.5 517.8h0.42M252.4 518.8h0.42M236.8 517.2h0.42M248.0 517.2h0.42M249.6 519.4h0.42M250.5 521.7h0.42M248.1 517.3h0.42M246.3 521.4h0.42M248.0 520.5h0.42M243.4 520.5h0.42M244.6 521.0h0.42M252.2 518.4h0.42M250.5 520.7h0.42M235.0 516.9h0.42M240.2 517.9h0.42M238.7 519.5h0.42M233.4 520.2h0.42M233.8 517.1h0.42M242.1 516.3h0.42M237.8 519.7h0.42M254.4 519.5h0.42M239.2 520.1h0.42M239.5 519.0h0.42M233.5 517.2h0.42M248.0 520.7h0.42M254.4 520.2h0.42M249.9 519.3h0.42M251.5 522.2h0.42M238.1 523.1h0.42M243.8 517.1h0.42M237.8 523.7h0.42M249.1 514.2h0.42M247.5 517.8h0.42M238.6 522.3h0.42M248.4 516.8h0.42M242.8 521.0h0.42M242.1 520.4h0.42M237.7 522.8h0.42M253.9 517.3h0.42M232.3 517.9h0.42M249.5 519.8h0.42M242.6 519.7h0.42M231.8 519.1h0.42M242.2 517.4h0.42M248.9 517.3h0.42M238.2 521.2h0.42M247.7 519.4h0.42M244.7 520.3h0.42M245.5 516.4h0.42M249.3 524.9h0.42M245.9 518.5h0.42M251.8 521.0h0.42M237.3 518.9h0.42M238.7 522.1h0.42M233.1 522.7h0.42M237.9 520.0h0.42M239.7 520.3h0.42M251.7 521.0h0.42M233.8 518.5h0.42M244.0 524.5h0.42M239.1 518.1h0.42M237.2 519.1h0.42M248.0 516.4h0.42M253.6 522.7h0.42M249.1 521.0h0.42M261.4 516.2h0.42M238.9 525.3h0.42M233.8 520.1h0.42M241.7 516.6h0.42M235.9 518.6h0.42M245.0 520.6h0.42M247.5 519.4h0.42M243.2 520.9h0.42M238.2 515.5h0.42M249.3 513.3h0.42M247.2 522.8h0.42M233.6 512.9h0.42M236.5 520.1h0.42M235.7 522.1h0.42M247.8 516.4h0.42M248.8 515.1h0.42M239.6 519.8h0.42M253.0 521.4h0.42M254.3 515.1h0.42M267.2 516.7h0.42M245.1 523.6h0.42M246.9 522.6h0.42M233.7 516.0h0.42M239.6 517.6h0.42M243.8 518.3h0.42M234.1 519.8h0.42M232.3 517.2h0.42M245.4 516.6h0.42M242.8 521.0h0.42M254.2 522.6h0.42M249.7 520.6h0.42M233.4 516.8h0.42M236.3 517.6h0.42M241.9 516.5h0.42M239.6 522.3h0.42M239.6 513.7h0.42M240.8 518.8h0.42M240.2 525.2h0.42M250.0 524.0h0.42M238.3 521.3h0.42M244.8 518.9h0.42M236.6 519.8h0.42M228.2 521.9h0.42M264.0 523.4h0.42M227.0 519.7h0.42M237.2 517.4h0.42M240.8 522.5h0.42M248.4 516.8h0.42M247.1 519.6h0.42M258.3 515.0h0.42M241.9 516.5h0.42M242.6 513.4h0.42M235.8 518.8h0.42M238.3 516.6h0.42M241.8 517.5h0.42M235.8 518.4h0.42M243.0 520.0h0.42M229.7 518.0h0.42M251.6 515.0h0.42M243.7 517.7h0.42M250.9 522.6h0.42M244.8 517.7h0.42M230.8 517.6h0.42M236.4 519.2h0.42M254.4 524.5h0.42M245.1 519.5h0.42M241.8 520.0h0.42M241.3 524.0h0.42M237.2 519.4h0.42M238.2 521.8h0.42M256.3 521.0h0.42M244.3 519.3h0.42M247.2 517.8h0.42M255.2 524.1h0.42M250.4 521.4h0.42M239.9 524.3h0.42M232.6 517.2h0.42M258.8 518.0h0.42M236.9 514.6h0.42M250.7 522.5h0.42M244.6 514.7h0.42M242.4 517.0h0.42M249.8 523.3h0.42M246.4 520.4h0.42M254.6 524.0h0.42M234.3 520.5h0.42M234.4 517.1h0.42M251.7 516.2h0.42M242.0 522.7h0.42M246.6 514.7h0.42M242.5 518.7h0.42M236.5 525.0h0.42M243.7 519.4h0.42M251.0 519.8h0.42M233.5 519.3h0.42M246.5 519.8h0.42M251.2 521.8h0.42M247.2 518.9h0.42M243.7 524.7h0.42M231.2 522.5h0.42M246.8 517.5h0.42M243.4 521.1h0.42M233.1 519.8h0.42M247.8 516.9h0.42M244.5 523.3h0.42M245.0 517.0h0.42M231.8 514.5h0.42M250.8 518.9h0.42M242.8 518.8h0.42M238.1 524.3h0.42M248.7 523.5h0.42M234.7 521.1h0.42M248.4 516.3h0.42M256.9 533.9h0.42M258.8 539.1h0.42M256.7 541.4h0.42M256.9 538.6h0.42M257.8 533.8h0.42M258.7 538.3h0.42M255.1 536.9h0.42M260.0 527.1h0.42M258.6 539.2h0.42M256.3 537.8h0.42M256.8 530.4h0.42M258.0 539.4h0.42M255.8 535.2h0.42M258.2 530.2h0.42M259.1 534.4h0.42M257.9 541.2h0.42M256.5 539.6h0.42M257.7 539.9h0.42M256.9 542.7h0.42M258.0 545.6h0.42M259.3 531.4h0.42M256.9 540.0h0.42M259.0 534.6h0.42M257.6 539.5h0.42M257.2 542.9h0.42M256.4 540.4h0.42M256.6 540.0h0.42M256.7 536.5h0.42M259.0 533.3h0.42M257.6 541.1h0.42M257.6 536.6h0.42M257.9 533.6h0.42M258.3 541.6h0.42M259.5 539.5h0.42M259.0 535.6h0.42M258.5 533.5h0.42M258.0 536.4h0.42M259.3 528.1h0.42M257.6 536.5h0.42M258.6 534.5h0.42M256.8 544.1h0.42M257.1 536.0h0.42M259.6 527.8h0.42M258.0 539.7h0.42M258.5 529.3h0.42M256.3 533.8h0.42M256.5 541.2h0.42M256.7 544.9h0.42M257.5 540.9h0.42M257.1 535.0h0.42M257.9 542.3h0.42M256.5 544.2h0.42M256.9 545.6h0.42M256.4 536.2h0.42M258.4 537.7h0.42M256.8 541.1h0.42M258.8 536.1h0.42M258.6 535.9h0.42M256.4 544.2h0.42M257.2 535.6h0.42M258.8 533.3h0.42M256.7 536.6h0.42M257.5 542.5h0.42M257.6 534.8h0.42M256.3 536.3h0.42M256.8 543.3h0.42M256.4 529.2h0.42M255.6 536.7h0.42M257.7 545.8h0.42M255.8 538.6h0.42M256.5 545.8h0.42M257.6 545.3h0.42M257.3 543.1h0.42M258.2 534.8h0.42M258.8 536.5h0.42M255.2 537.2h0.42M256.1 540.4h0.42M259.3 539.5h0.42M258.6 531.9h0.42M256.9 535.0h0.42M260.0 536.0h0.42M258.5 528.9h0.42M257.0 538.4h0.42M257.6 536.4h0.42M258.0 540.3h0.42M256.7 531.3h0.42M258.0 541.8h0.42M255.9 541.1h0.42M256.1 536.9h0.42M259.6 529.9h0.42M257.7 536.8h0.42M256.1 541.5h0.42M256.8 534.5h0.42M256.3 539.9h0.42M257.9 544.5h0.42M257.6 533.7h0.42M259.5 534.9h0.42M257.9 545.8h0.42M259.1 528.9h0.42M256.7 533.8h0.42M258.8 534.0h0.42M258.4 538.9h0.42M257.8 537.7h0.42M256.4 544.4h0.42M257.3 545.2h0.42M257.1 529.3h0.42M259.6 532.0h0.42M257.9 535.8h0.42M257.5 536.0h0.42M256.7 531.7h0.42M258.1 534.1h0.42M259.5 538.1h0.42M259.3 535.4h0.42M258.7 534.7h0.42M256.6 536.3h0.42M256.6 550.4h0.42M256.3 534.3h0.42M258.5 536.8h0.42M257.5 541.4h0.42M257.6 534.0h0.42M256.1 537.1h0.42M258.1 538.6h0.42M259.0 535.6h0.42M258.2 533.4h0.42M255.2 540.3h0.42M256.9 540.7h0.42M257.3 529.8h0.42M256.6 536.0h0.42M256.9 536.1h0.42M258.2 537.5h0.42M258.2 536.8h0.42M257.1 532.6h0.42M254.9 540.2h0.42M259.1 532.6h0.42M256.7 533.2h0.42M257.9 538.0h0.42M257.3 537.2h0.42M255.7 536.7h0.42M257.2 539.8h0.42M256.9 534.8h0.42M257.0 550.7h0.42M256.3 547.5h0.42M256.5 537.7h0.42M256.1 544.2h0.42M257.7 538.5h0.42M258.4 544.0h0.42M256.8 538.7h0.42M256.7 543.2h0.42M254.5 548.2h0.42M257.9 527.2h0.42M258.2 533.4h0.42M257.6 538.1h0.42M259.3 528.6h0.42M257.7 543.3h0.42M255.9 541.1h0.42M258.7 534.9h0.42M255.4 538.2h0.42M256.6 545.2h0.42M257.1 541.0h0.42M257.9 538.5h0.42M256.4 533.9h0.42M257.7 537.1h0.42M257.2 541.3h0.42M257.4 541.1h0.42M257.6 539.4h0.42M257.4 530.1h0.42M258.3 541.9h0.42M258.6 533.6h0.42M258.8 538.1h0.42M258.0 534.2h0.42M257.2 534.4h0.42M258.2 534.2h0.42M257.7 534.8h0.42M256.1 537.7h0.42M257.7 537.9h0.42M253.9 542.5h0.42M257.9 532.8h0.42M259.8 537.8h0.42M258.4 538.2h0.42M254.6 543.3h0.42M256.0 542.8h0.42M257.7 533.3h0.42M254.9 535.0h0.42M256.4 537.6h0.42M256.1 541.0h0.42M257.1 535.3h0.42M259.6 541.5h0.42M256.7 539.3h0.42M256.0 533.7h0.42M257.6 533.8h0.42M256.3 540.6h0.42M257.1 533.5h0.42M257.1 534.2h0.42M258.4 539.0h0.42M255.5 544.0h0.42M258.9 536.2h0.42M256.5 537.5h0.42M256.8 540.0h0.42M257.2 543.7h0.42M255.9 534.4h0.42M258.0 535.1h0.42M257.4 531.8h0.42M259.8 536.7h0.42M258.6 533.7h0.42M257.1 537.1h0.42M259.0 544.3h0.42M259.5 545.1h0.42M259.3 536.5h0.42M256.4 543.8h0.42M256.6 540.0h0.42M257.2 532.3h0.42M257.9 533.1h0.42M257.0 541.7h0.42M257.1 542.4h0.42M257.0 539.1h0.42M256.1 543.9h0.42M255.2 538.7h0.42M259.0 524.8h0.42M256.2 529.9h0.42M257.6 536.2h0.42M257.0 540.4h0.42M260.4 532.7h0.42M258.0 537.7h0.42M259.4 527.2h0.42M256.1 532.1h0.42M256.3 538.6h0.42M257.6 527.6h0.42M257.2 529.5h0.42M256.8 536.4h0.42M256.3 543.3h0.42M260.0 540.0h0.42M255.4 544.3h0.42M260.0 536.7h0.42M257.7 542.8h0.42M257.4 543.6h0.42M258.4 534.5h0.42M257.1 536.2h0.42M256.4 543.8h0.42M258.0 536.5h0.42M258.5 537.9h0.42M258.3 545.4h0.42M257.9 534.6h0.42M255.7 546.0h0.42M258.2 534.5h0.42M257.8 531.9h0.42M259.0 539.0h0.42M257.6 530.2h0.42M259.9 538.1h0.42M255.2 534.5h0.42M257.5 538.2h0.42M256.0 543.0h0.42M258.2 537.7h0.42M257.3 528.7h0.42M257.1 536.4h0.42M256.2 538.8h0.42M258.6 535.1h0.42M257.1 537.3h0.42M259.0 544.5h0.42M255.8 534.9h0.42M260.5 536.0h0.42M259.4 540.0h0.42M259.1 535.8h0.42M257.5 540.1h0.42M257.6 537.2h0.42M259.2 536.7h0.42M259.2 534.6h0.42M257.0 541.0h0.42M257.9 542.2h0.42M257.6 537.3h0.42M257.5 529.7h0.42M256.8 542.5h0.42M257.4 538.4h0.42M259.2 533.1h0.42M258.1 534.7h0.42M259.3 530.4h0.42M257.3 534.9h0.42M257.4 534.7h0.42M259.7 536.5h0.42M257.8 530.4h0.42M256.3 533.7h0.42M256.1 539.9h0.42M257.1 535.2h0.42M257.7 533.0h0.42M256.4 534.1h0.42M257.8 536.9h0.42M256.2 545.1h0.42M257.8 540.7h0.42M259.6 533.1h0.42M258.6 538.7h0.42M258.3 530.1h0.42M256.7 537.4h0.42M257.1 544.9h0.42M257.1 538.6h0.42M257.6 531.1h0.42M257.2 537.9h0.42M259.2 543.6h0.42M257.2 533.1h0.42M257.7 534.7h0.42M260.1 541.7h0.42M257.7 534.9h0.42M256.4 537.0h0.42M254.8 535.5h0.42M256.6 544.8h0.42M255.4 541.8h0.42M257.0 541.3h0.42M256.6 539.4h0.42M257.8 549.9h0.42M256.7 536.9h0.42M257.6 534.7h0.42M257.5 537.7h0.42M257.7 529.2h0.42M258.3 530.6h0.42M257.2 542.4h0.42M256.2 536.8h0.42M257.8 537.3h0.42M257.1 537.6h0.42M258.6 532.7h0.42M257.2 541.0h0.42M257.3 531.7h0.42M258.2 541.0h0.42M258.7 537.6h0.42M256.4 544.8h0.42M258.7 541.5h0.42M257.0 538.1h0.42M256.9 532.5h0.42M257.6 539.1h0.42M258.2 538.1h0.42M260.1 533.0h0.42M259.2 535.7h0.42M258.9 533.2h0.42M262.9 545.9h0.42M254.1 545.2h0.42M258.2 542.9h0.42M257.8 536.9h0.42M254.6 535.0h0.42M257.8 528.0h0.42M255.6 537.7h0.42M258.9 535.1h0.42M261.1 534.7h0.42M259.3 545.3h0.42M256.0 544.4h0.42M257.5 532.8h0.42M261.6 547.3h0.42M257.2 544.0h0.42M260.2 537.7h0.42M263.0 537.2h0.42M256.4 538.0h0.42M257.6 535.3h0.42M257.3 530.1h0.42M259.3 530.0h0.42M260.5 541.9h0.42M257.0 535.6h0.42M256.4 537.9h0.42M262.0 539.8h0.42M256.9 548.1h0.42M257.0 535.9h0.42M262.9 541.8h0.42M260.7 541.5h0.42M259.2 541.9h0.42M259.7 550.8h0.42M255.2 524.1h0.42M257.3 529.3h0.42M258.3 531.0h0.42M258.0 544.4h0.42M256.7 533.6h0.42M259.8 533.6h0.42M257.7 537.1h0.42M254.9 543.4h0.42M255.4 543.2h0.42M258.8 531.7h0.42M257.1 542.9h0.42M257.3 550.7h0.42M255.6 544.9h0.42M254.1 536.4h0.42M260.3 526.8h0.42M258.6 531.5h0.42M254.8 533.6h0.42M256.6 535.0h0.42M256.5 532.8h0.42M251.8 545.7h0.42M262.8 540.5h0.42M257.2 532.1h0.42M258.5 539.5h0.42M255.8 536.8h0.42M259.6 539.5h0.42M257.8 538.6h0.42M256.2 537.5h0.42M258.1 533.5h0.42M257.6 543.1h0.42M260.3 525.0h0.42M254.5 543.7h0.42M258.9 540.4h0.42M254.6 538.2h0.42M259.2 540.3h0.42M256.2 534.4h0.42M258.6 538.9h0.42M260.9 524.5h0.42M256.5 545.0h0.42M255.2 538.4h0.42M261.2 531.9h0.42M258.7 549.0h0.42M254.9 526.2h0.42M260.4 534.9h0.42M257.8 538.2h0.42M260.8 536.1h0.42M260.2 542.3h0.42M257.9 544.0h0.42M258.6 537.2h0.42M265.0 526.0h0.42M255.2 531.8h0.42M251.2 538.2h0.42M252.8 542.8h0.42M245.8 527.9h0.42M241.6 532.7h0.42M242.8 528.0h0.42M236.8 525.4h0.42M238.6 532.3h0.42M249.6 528.3h0.42M229.3 530.6h0.42M252.5 540.8h0.42M236.0 539.9h0.42M244.2 533.0h0.42M233.3 525.7h0.42M250.7 551.1h0.42M249.1 552.6h0.42M233.3 534.6h0.42M241.5 542.1h0.42M242.1 529.0h0.42M244.6 543.2h0.42M229.0 530.5h0.42M250.0 539.6h0.42M247.5 551.4h0.42M245.2 546.3h0.42M237.8 533.0h0.42M245.5 549.3h0.42M244.2 533.2h0.42M235.8 544.3h0.42M239.4 531.9h0.42M254.5 549.4h0.42M236.6 528.8h0.42M241.7 530.9h0.42M237.8 543.0h0.42M246.8 526.2h0.42M239.1 545.8h0.42M253.8 534.2h0.42M232.2 548.7h0.42M236.4 533.0h0.42M255.1 543.0h0.42M246.4 539.6h0.42M248.5 547.7h0.42M240.7 533.0h0.42M229.8 525.9h0.42M229.3 550.6h0.42M249.6 532.7h0.42M255.3 548.8h0.42M241.4 534.5h0.42M248.0 534.0h0.42M237.5 532.7h0.42M249.1 547.0h0.42M235.5 529.5h0.42M238.5 544.1h0.42M249.7 538.5h0.42M242.1 540.3h0.42M242.5 548.8h0.42M228.9 525.3h0.42M236.6 544.0h0.42M235.3 541.6h0.42M239.9 532.2h0.42M233.0 525.4h0.42M253.9 550.2h0.42M250.9 541.7h0.42M250.4 552.9h0.42M239.4 541.3h0.42M246.1 536.2h0.42M237.6 542.6h0.42M235.9 551.8h0.42M253.5 530.6h0.42M250.0 552.5h0.42M252.2 534.5h0.42M245.8 538.4h0.42M246.8 540.3h0.42M255.6 528.6h0.42M244.1 532.0h0.42M235.6 534.4h0.42M233.8 533.5h0.42M253.8 525.8h0.42M233.8 545.8h0.42M229.8 549.6h0.42M244.0 532.8h0.42M230.7 525.4h0.42M240.9 542.1h0.42M236.8 538.1h0.42M237.4 528.2h0.42M249.2 549.9h0.42M237.3 542.1h0.42M253.6 547.5h0.42M250.9 528.1h0.42M251.7 536.8h0.42M235.6 542.8h0.42M237.5 536.7h0.42M235.6 548.1h0.42M239.4 551.3h0.42M236.1 546.8h0.42M239.2 535.3h0.42M245.5 536.1h0.42M244.7 540.2h0.42M249.3 528.8h0.42M251.4 542.2h0.42M238.8 545.9h0.42M253.2 527.3h0.42M239.3 546.3h0.42M234.2 542.6h0.42M238.9 545.2h0.42M235.9 529.2h0.42M235.2 544.9h0.42M231.2 531.0h0.42M252.6 537.2h0.42M234.9 549.7h0.42M253.2 544.8h0.42M253.5 536.0h0.42M255.7 550.6h0.42M237.9 528.3h0.42M228.8 528.7h0.42M249.8 547.7h0.42M250.1 535.3h0.42M253.5 546.5h0.42M242.8 526.3h0.42M251.8 527.2h0.42M237.1 538.5h0.42M229.6 536.5h0.42M234.5 543.9h0.42M252.4 540.3h0.42M249.0 550.3h0.42M232.3 525.2h0.42M237.6 536.9h0.42M241.2 543.4h0.42M253.8 526.7h0.42M251.0 550.0h0.42M234.5 544.9h0.42M235.3 537.0h0.42M253.5 542.4h0.42M249.1 532.5h0.42M249.1 538.4h0.42M238.9 529.9h0.42M253.3 526.4h0.42M233.1 530.6h0.42M228.9 546.5h0.42M254.2 534.2h0.42M231.2 544.3h0.42M228.4 550.1h0.42M250.9 529.3h0.42M241.3 545.2h0.42M254.0 537.4h0.42M241.2 542.9h0.42M245.8 550.7h0.42M240.6 547.0h0.42M242.9 548.2h0.42M235.2 529.6h0.42M230.6 548.0h0.42M241.6 552.2h0.42M273.1 551.9h0.42M266.0 516.0h0.42M267.8 537.0h0.42M254.2 536.3h0.42M272.9 508.3h0.42M263.2 532.4h0.42M230.8 538.1h0.42M244.3 545.4h0.42M231.7 531.6h0.42M272.1 506.2h0.42M226.2 531.2h0.42M251.0 551.4h0.42M261.3 531.6h0.42M246.9 537.2h0.42M271.8 506.6h0.42M243.1 545.7h0.42M245.1 523.4h0.42M237.8 510.5h0.42M269.0 547.7h0.42M257.2 521.0h0.42M262.8 548.5h0.42M256.0 521.7h0.42M247.1 515.6h0.42M226.5 552.5h0.42M264.0 506.8h0.42" stroke="#000" stroke-width="0.42" fill="none"/>
<rect x="231.2" y="511.2" width="23.6" height="14.8" fill="none" stroke="#333" stroke-width="0.5"/>
<rect x="251.3" y="526" width="15.4" height="24.2" fill="none" stroke="#333" stroke-width="0.5"/>
<text x="231.3" y="508.8" font-size="3.6" text-anchor="start" fill="#222" stroke="#222" stroke-width="0.05">58.0%</text>
<text x="253" y="554.6" font-size="3.6" text-anchor="start" fill="#222" stroke="#222" stroke-width="0.05">34.6%</text>
<rect x="293.3" y="502.6" width="54.7" height="54.4" fill="none" stroke="#8a8a8a" stroke-width="0.5" stroke-dasharray="0.7 0.4"/>
<text x="290.3" y="509.3" font-size="3.9" text-anchor="end" fill="#3a3a3a" stroke="#3a3a3a" stroke-width="0">10<tspan font-size="2.6" dy="-1.5">5</tspan></text>
<line x1="292.4" y1="508" x2="293.6" y2="508" stroke="#222" stroke-width="0.5"/>
<text x="290.3" y="524.8" font-size="3.9" text-anchor="end" fill="#3a3a3a" stroke="#3a3a3a" stroke-width="0">10<tspan font-size="2.6" dy="-1.5">4</tspan></text>
<line x1="292.4" y1="523.5" x2="293.6" y2="523.5" stroke="#222" stroke-width="0.5"/>
<text x="290.3" y="540.8" font-size="3.9" text-anchor="end" fill="#3a3a3a" stroke="#3a3a3a" stroke-width="0">0</text>
<line x1="292.4" y1="539.5" x2="293.6" y2="539.5" stroke="#222" stroke-width="0.5"/>
<text x="290.3" y="554.9" font-size="3.9" text-anchor="end" fill="#3a3a3a" stroke="#3a3a3a" stroke-width="0">-10<tspan font-size="2.6" dy="-1.5">3</tspan></text>
<line x1="292.4" y1="553.6" x2="293.6" y2="553.6" stroke="#222" stroke-width="0.5"/>
<text x="297.8" y="565.2" font-size="3.9" text-anchor="middle" fill="#3a3a3a" stroke="#3a3a3a" stroke-width="0">-10<tspan font-size="2.6" dy="-1.5">3</tspan></text>
<line x1="297.8" y1="556.7" x2="297.8" y2="557.9" stroke="#222" stroke-width="0.5"/>
<text x="312.5" y="565.2" font-size="3.9" text-anchor="middle" fill="#3a3a3a" stroke="#3a3a3a" stroke-width="0">0</text>
<line x1="312.5" y1="556.7" x2="312.5" y2="557.9" stroke="#222" stroke-width="0.5"/>
<text x="327.8" y="565.2" font-size="3.9" text-anchor="middle" fill="#3a3a3a" stroke="#3a3a3a" stroke-width="0">10<tspan font-size="2.6" dy="-1.5">3</tspan></text>
<line x1="327.8" y1="556.7" x2="327.8" y2="557.9" stroke="#222" stroke-width="0.5"/>
<text x="336.3" y="565.2" font-size="3.9" text-anchor="middle" fill="#3a3a3a" stroke="#3a3a3a" stroke-width="0">10<tspan font-size="2.6" dy="-1.5">4</tspan></text>
<line x1="336.3" y1="556.7" x2="336.3" y2="557.9" stroke="#222" stroke-width="0.5"/>
<line x1="293.3" y1="557.5" x2="348" y2="557.5" stroke="#333" stroke-width="0.8" stroke-dasharray="0.5 2.1"/>
<line x1="292.8" y1="502.6" x2="292.8" y2="557" stroke="#333" stroke-width="0.8" stroke-dasharray="0.5 2.1"/>
<line x1="311.2" y1="557.4" x2="313.8" y2="557.4" stroke="#000" stroke-width="1.0"/>
<line x1="292.8" y1="537.5" x2="292.8" y2="540.1" stroke="#000" stroke-width="1.0"/>
<ellipse cx="312.4" cy="519" rx="9.6" ry="1.25" transform="rotate(1 312.4 519)" fill="#000" fill-opacity="0.8" filter="url(#b2)"/>
<ellipse cx="326.4" cy="537.6" rx="1" ry="6.2" transform="rotate(3 326.4 537.6)" fill="#000" fill-opacity="0.3" filter="url(#b2)"/>
<path d="M311.6 519.8h0.42M315.5 522.9h0.42M322.2 517.6h0.42M313.8 517.3h0.42M311.7 519.8h0.42M307.3 518.9h0.42M308.2 521.0h0.42M307.7 520.3h0.42M312.2 520.3h0.42M303.4 518.0h0.42M319.5 519.1h0.42M321.3 520.3h0.42M310.2 518.3h0.42M316.0 519.1h0.42M322.7 520.9h0.42M318.9 519.1h0.42M312.4 519.5h0.42M303.5 520.9h0.42M310.5 519.8h0.42M307.3 517.0h0.42M303.4 519.3h0.42M304.2 519.2h0.42M312.8 519.6h0.42M317.3 522.5h0.42M302.6 520.8h0.42M307.4 519.4h0.42M303.5 518.2h0.42M317.0 520.4h0.42M316.6 519.4h0.42M306.1 521.0h0.42M317.2 519.6h0.42M312.0 520.6h0.42M320.7 518.0h0.42M320.5 518.9h0.42M320.1 519.2h0.42M317.5 517.9h0.42M323.3 519.7h0.42M315.1 518.6h0.42M316.4 518.6h0.42M303.1 518.1h0.42M312.8 519.0h0.42M317.7 516.8h0.42M319.9 520.4h0.42M304.7 519.7h0.42M322.6 520.0h0.42M308.1 521.0h0.42M305.6 519.5h0.42M302.2 518.7h0.42M308.4 521.1h0.42M319.8 518.6h0.42M312.8 519.4h0.42M302.5 516.0h0.42M310.6 518.3h0.42M312.3 519.1h0.42M318.4 520.1h0.42M315.7 519.9h0.42M306.9 520.5h0.42M316.7 518.3h0.42M314.2 518.3h0.42M303.4 519.4h0.42M316.8 517.9h0.42M315.9 518.5h0.42M320.3 519.2h0.42M315.2 516.2h0.42M318.9 516.8h0.42M309.3 519.7h0.42M316.7 518.0h0.42M302.2 520.2h0.42M317.2 518.4h0.42M301.9 517.6h0.42M314.1 520.0h0.42M313.5 518.7h0.42M303.9 519.6h0.42M310.8 518.1h0.42M306.7 517.9h0.42M318.6 518.6h0.42M310.6 517.9h0.42M312.9 518.8h0.42M304.1 517.6h0.42M315.8 519.5h0.42M307.4 520.2h0.42M320.4 519.7h0.42M319.7 517.2h0.42M303.4 520.8h0.42M306.6 516.5h0.42M304.1 519.3h0.42M321.0 519.2h0.42M316.4 520.1h0.42M302.3 518.1h0.42M314.7 518.3h0.42M317.9 520.7h0.42M302.3 520.7h0.42M306.4 517.6h0.42M306.4 518.6h0.42M304.9 517.9h0.42M304.0 515.3h0.42M315.2 520.7h0.42M304.8 518.1h0.42M316.8 519.1h0.42M311.5 519.4h0.42M304.8 517.2h0.42M312.3 520.3h0.42M321.2 518.1h0.42M321.2 516.9h0.42M323.0 519.5h0.42M314.3 519.3h0.42M304.8 518.2h0.42M305.3 518.9h0.42M318.8 521.5h0.42M314.1 520.0h0.42M321.7 519.0h0.42M320.9 518.5h0.42M316.4 521.7h0.42M319.9 518.4h0.42M312.9 516.2h0.42M321.7 520.8h0.42M312.5 518.3h0.42M314.7 515.9h0.42M323.1 517.0h0.42M319.1 517.1h0.42M314.3 515.8h0.42M305.2 517.9h0.42M304.9 518.2h0.42M321.0 521.4h0.42M301.9 518.9h0.42M315.4 518.2h0.42M316.2 518.8h0.42M309.3 519.3h0.42M306.6 520.4h0.42M314.6 520.9h0.42M322.7 516.2h0.42M312.8 516.9h0.42M315.4 519.0h0.42M311.0 521.8h0.42M306.9 518.3h0.42M315.3 520.6h0.42M317.6 518.2h0.42M313.4 518.2h0.42M320.6 518.6h0.42M323.2 521.0h0.42M304.7 518.3h0.42M307.7 519.1h0.42M317.0 519.5h0.42M313.9 520.4h0.42M303.5 519.1h0.42M309.8 520.3h0.42M309.4 521.5h0.42M322.5 520.2h0.42M304.3 518.5h0.42M321.0 518.8h0.42M322.1 519.4h0.42M309.1 518.6h0.42M313.6 517.4h0.42M314.3 517.7h0.42M322.2 518.2h0.42M307.6 516.2h0.42M313.3 523.3h0.42M311.6 520.3h0.42M321.3 518.2h0.42M322.5 518.0h0.42M305.8 520.8h0.42M314.9 517.0h0.42M314.0 517.5h0.42M304.8 520.5h0.42M312.3 518.9h0.42M305.2 520.2h0.42M307.5 519.2h0.42M311.4 519.0h0.42M303.9 518.1h0.42M307.7 519.7h0.42M309.4 519.4h0.42M302.5 519.4h0.42M321.4 518.4h0.42M322.6 520.8h0.42M316.4 519.1h0.42M318.4 519.9h0.42M305.6 517.3h0.42M312.4 516.6h0.42M302.8 520.1h0.42M306.9 518.1h0.42M303.5 517.8h0.42M319.2 519.6h0.42M320.8 521.0h0.42M305.2 518.6h0.42M303.9 518.6h0.42M304.5 519.7h0.42M322.0 519.8h0.42M307.6 519.1h0.42M310.9 516.4h0.42M320.9 520.2h0.42M302.0 517.9h0.42M314.5 522.1h0.42M313.0 518.0h0.42M305.5 519.4h0.42M315.2 519.0h0.42M320.3 519.3h0.42M305.0 522.7h0.42M305.1 518.7h0.42M314.2 520.5h0.42M317.5 519.1h0.42M319.3 518.5h0.42M322.7 520.2h0.42M320.2 519.5h0.42M312.9 518.8h0.42M312.5 517.6h0.42M313.8 519.7h0.42M310.4 524.0h0.42M319.4 518.9h0.42M304.5 520.0h0.42M317.9 518.2h0.42M304.8 524.1h0.42M307.7 517.0h0.42M312.4 518.2h0.42M321.7 516.3h0.42M322.4 520.1h0.42M319.5 519.3h0.42M313.5 519.7h0.42M316.4 519.0h0.42M305.4 521.3h0.42M315.5 521.1h0.42M320.8 520.8h0.42M315.4 515.1h0.42M312.4 517.7h0.42M309.5 519.2h0.42M311.1 520.3h0.42M310.4 515.1h0.42M314.1 521.4h0.42M322.0 519.5h0.42M310.3 521.4h0.42M313.3 517.4h0.42M317.9 517.9h0.42M306.3 517.5h0.42M315.0 518.1h0.42M313.8 517.9h0.42M318.9 516.5h0.42M317.2 520.9h0.42M302.3 519.8h0.42M308.0 517.8h0.42M302.2 516.0h0.42M317.0 520.7h0.42M316.3 515.7h0.42M314.8 517.4h0.42M319.9 517.2h0.42M321.2 518.0h0.42M308.9 519.7h0.42M320.1 520.3h0.42M313.0 519.5h0.42M321.9 517.3h0.42M303.0 520.9h0.42M304.8 520.8h0.42M316.2 520.2h0.42M305.3 522.5h0.42M316.2 517.5h0.42M304.7 517.9h0.42M320.4 517.9h0.42M313.4 518.1h0.42M302.4 520.0h0.42M308.4 519.3h0.42M312.4 518.4h0.42M317.3 520.7h0.42M308.0 518.9h0.42M317.0 518.2h0.42M316.2 518.1h0.42M320.8 517.1h0.42M310.3 518.7h0.42M304.4 517.7h0.42M306.6 518.8h0.42M319.5 519.6h0.42M312.4 519.7h0.42M314.1 518.3h0.42M308.7 521.8h0.42M319.7 517.3h0.42M302.9 520.0h0.42M323.3 519.0h0.42M318.0 519.4h0.42M306.6 518.0h0.42M316.8 517.9h0.42M306.9 519.9h0.42M307.9 516.5h0.42M314.5 519.2h0.42M313.8 516.9h0.42M319.1 516.3h0.42M316.1 519.1h0.42M301.8 518.2h0.42M305.5 521.8h0.42M302.1 516.4h0.42M317.4 519.2h0.42M315.6 519.1h0.42M322.4 519.2h0.42M313.6 518.3h0.42M315.2 516.6h0.42M316.8 520.1h0.42M306.5 520.1h0.42M311.0 519.6h0.42M316.6 519.4h0.42M310.8 520.7h0.42M313.5 520.4h0.42M302.1 520.0h0.42M310.0 518.1h0.42M310.5 520.5h0.42M318.0 517.7h0.42M318.3 519.6h0.42M320.1 517.5h0.42M317.0 518.8h0.42M312.0 520.1h0.42M316.4 518.5h0.42M312.5 520.4h0.42M311.4 518.3h0.42M309.5 521.4h0.42M320.5 518.8h0.42M307.3 522.8h0.42M303.5 520.0h0.42M302.4 518.9h0.42M307.8 517.4h0.42M302.8 518.4h0.42M317.9 521.9h0.42M305.2 517.2h0.42M307.6 516.7h0.42M316.9 519.4h0.42M320.5 520.8h0.42M318.2 518.4h0.42M315.6 517.7h0.42M317.3 518.7h0.42M308.7 518.7h0.42M322.6 520.6h0.42M310.9 521.7h0.42M316.3 518.8h0.42M312.7 517.8h0.42M311.0 517.3h0.42M306.4 516.5h0.42M322.8 518.9h0.42M315.8 516.7h0.42M319.0 520.0h0.42M313.9 518.7h0.42M309.1 518.0h0.42M313.6 521.1h0.42M315.2 516.5h0.42M309.5 520.3h0.42M302.7 519.1h0.42M320.5 519.4h0.42M308.8 519.0h0.42M322.0 517.3h0.42M320.7 519.9h0.42M321.7 520.7h0.42M303.1 516.0h0.42M314.4 519.1h0.42M318.4 518.8h0.42M304.5 518.6h0.42M315.4 519.6h0.42M320.5 518.7h0.42M319.2 518.4h0.42M323.3 520.7h0.42M320.1 517.6h0.42M305.2 518.4h0.42M313.9 518.4h0.42M310.9 517.8h0.42M316.8 518.2h0.42M318.2 521.0h0.42M317.7 517.8h0.42M323.4 522.6h0.42M313.6 516.7h0.42M320.3 515.4h0.42M315.6 517.9h0.42M316.1 517.1h0.42M304.3 520.8h0.42M317.5 519.6h0.42M319.1 517.4h0.42M308.1 518.7h0.42M315.4 518.5h0.42M314.5 522.8h0.42M303.6 519.2h0.42M309.7 519.3h0.42M317.8 519.7h0.42M305.0 519.3h0.42M311.9 519.0h0.42M316.0 517.7h0.42M315.9 519.1h0.42M306.9 519.3h0.42M310.7 517.0h0.42M317.1 519.1h0.42M314.9 517.1h0.42M318.5 516.5h0.42M315.4 518.8h0.42M318.1 519.7h0.42M308.9 520.3h0.42M316.5 518.1h0.42M318.3 516.8h0.42M311.0 517.6h0.42M304.6 518.6h0.42M319.3 518.8h0.42M315.7 519.6h0.42M314.1 518.7h0.42M307.1 520.5h0.42M315.9 518.0h0.42M306.4 519.6h0.42M320.6 519.9h0.42M304.0 519.5h0.42M321.0 519.7h0.42M301.9 517.4h0.42M320.6 520.2h0.42M306.1 518.2h0.42M303.9 518.7h0.42M305.9 517.5h0.42M318.4 519.5h0.42M318.1 518.3h0.42M304.1 518.0h0.42M310.4 520.0h0.42M306.8 517.8h0.42M317.8 519.5h0.42M315.2 519.2h0.42M321.7 519.7h0.42M316.8 519.0h0.42M314.4 517.2h0.42M322.3 519.2h0.42M306.6 519.5h0.42M303.8 521.7h0.42M309.6 521.7h0.42M316.3 520.3h0.42M307.0 520.4h0.42M320.1 515.2h0.42M308.0 518.2h0.42M304.6 517.4h0.42M320.8 519.9h0.42M306.5 519.8h0.42M305.3 519.8h0.42M317.4 519.8h0.42M318.3 519.5h0.42M313.2 518.8h0.42M309.7 518.1h0.42M323.0 520.0h0.42M302.7 519.0h0.42M315.5 520.5h0.42M306.2 518.3h0.42M310.8 518.6h0.42M309.9 517.8h0.42M309.5 519.9h0.42M307.4 517.8h0.42M317.6 515.5h0.42M314.3 517.8h0.42M320.8 518.0h0.42M318.0 519.0h0.42M311.7 518.5h0.42M314.1 520.8h0.42M319.6 519.5h0.42M304.5 520.4h0.42M301.9 521.0h0.42M312.8 520.5h0.42M311.8 520.3h0.42M314.4 518.3h0.42M313.5 519.6h0.42M306.5 518.9h0.42M321.6 520.1h0.42M322.3 518.1h0.42M307.1 520.0h0.42M310.1 518.3h0.42M321.8 520.1h0.42M314.3 520.8h0.42M314.4 520.8h0.42M320.7 518.4h0.42M305.9 521.0h0.42M305.0 516.5h0.42M316.1 519.3h0.42M310.6 516.9h0.42M307.2 519.0h0.42M305.6 517.3h0.42M306.5 519.0h0.42M321.6 518.0h0.42M310.4 520.9h0.42M304.6 522.2h0.42M308.3 520.3h0.42M305.4 520.5h0.42M321.9 519.7h0.42M307.4 518.9h0.42M309.6 518.7h0.42M310.4 517.3h0.42M301.9 517.9h0.42M314.7 520.2h0.42M308.7 518.4h0.42M320.1 519.6h0.42M310.1 517.7h0.42M308.6 522.4h0.42M306.2 521.0h0.42M311.8 518.9h0.42M321.8 521.8h0.42M323.1 519.8h0.42M312.3 520.7h0.42M319.3 518.8h0.42M306.7 518.4h0.42M320.8 521.1h0.42M314.4 520.1h0.42M308.9 520.3h0.42M317.6 520.5h0.42M313.8 519.3h0.42M311.1 518.4h0.42M313.8 519.6h0.42M323.3 516.5h0.42M308.7 519.2h0.42M306.9 520.7h0.42M315.2 518.7h0.42M315.2 521.8h0.42M306.7 518.6h0.42M309.3 517.6h0.42M310.5 519.9h0.42M308.0 518.8h0.42M301.8 520.0h0.42M302.5 518.1h0.42M308.3 519.9h0.42M321.7 519.2h0.42M314.1 519.4h0.42M321.5 520.5h0.42M312.8 517.9h0.42M314.3 518.8h0.42M310.5 520.7h0.42M317.7 520.9h0.42M315.8 520.1h0.42M303.3 517.4h0.42M309.5 519.4h0.42M313.3 518.5h0.42M312.6 518.6h0.42M302.8 516.8h0.42M308.5 516.0h0.42M317.3 520.5h0.42M311.0 520.2h0.42M318.9 516.9h0.42M307.5 518.5h0.42M316.6 519.1h0.42M302.8 518.2h0.42M318.5 519.8h0.42M313.8 518.5h0.42M323.1 517.0h0.42M314.4 518.4h0.42M313.7 519.7h0.42M305.1 517.7h0.42M321.1 520.1h0.42M305.5 520.6h0.42M310.8 519.9h0.42M322.4 519.9h0.42M304.1 518.9h0.42M320.3 519.8h0.42M316.7 518.0h0.42M304.6 515.6h0.42M316.3 518.0h0.42M314.9 521.1h0.42M322.4 520.5h0.42M321.6 517.5h0.42M304.9 518.7h0.42M323.1 518.0h0.42M304.9 517.3h0.42M319.1 518.5h0.42M311.0 520.2h0.42M321.1 519.1h0.42M311.5 518.7h0.42M302.8 515.9h0.42M321.4 522.2h0.42M308.9 517.3h0.42M317.1 519.0h0.42M320.9 520.2h0.42M309.4 519.3h0.42M317.0 520.2h0.42M309.3 515.6h0.42M311.8 515.7h0.42M311.4 527.3h0.42M316.6 522.2h0.42M300.1 518.1h0.42M307.8 524.2h0.42M309.8 519.1h0.42M308.4 511.3h0.42M320.6 514.0h0.42M307.7 514.8h0.42M307.5 518.0h0.42M308.1 523.3h0.42M303.0 518.4h0.42M316.1 518.1h0.42M308.0 524.7h0.42M317.8 516.9h0.42M313.9 516.7h0.42M315.4 515.2h0.42M318.0 520.3h0.42M314.5 519.3h0.42M313.7 516.8h0.42M312.4 520.9h0.42M315.2 516.6h0.42M316.2 515.9h0.42M306.4 516.8h0.42M307.3 518.9h0.42M317.0 522.2h0.42M315.3 517.2h0.42M317.6 522.0h0.42M306.2 515.9h0.42M310.7 524.7h0.42M309.6 518.7h0.42M317.2 515.9h0.42M303.7 518.9h0.42M318.2 518.4h0.42M307.0 514.5h0.42M323.8 515.7h0.42M321.8 517.2h0.42M320.5 524.0h0.42M305.2 520.9h0.42M317.4 522.8h0.42M309.5 522.7h0.42M312.6 516.4h0.42M319.4 522.8h0.42M311.8 518.9h0.42M317.7 524.0h0.42M302.5 522.2h0.42M327.1 516.7h0.42M316.2 519.4h0.42M314.5 522.7h0.42M299.8 517.8h0.42M301.4 518.3h0.42M325.9 516.3h0.42M308.3 517.5h0.42M314.9 518.3h0.42M305.9 517.0h0.42M310.6 515.8h0.42M312.8 517.5h0.42M310.6 521.3h0.42M305.3 519.3h0.42M307.8 522.7h0.42M322.4 515.8h0.42M305.8 515.8h0.42M294.2 518.9h0.42M316.9 520.1h0.42M302.4 517.7h0.42M324.2 518.7h0.42M304.7 521.7h0.42M309.5 513.9h0.42M305.3 521.8h0.42M310.5 518.9h0.42M316.6 517.0h0.42M300.4 519.1h0.42M306.9 519.1h0.42M306.2 517.1h0.42M301.0 520.0h0.42M326.4 515.7h0.42M320.4 521.1h0.42M306.9 516.3h0.42M315.8 518.2h0.42M309.6 517.9h0.42M326.2 514.6h0.42M315.1 524.5h0.42M313.0 525.2h0.42M311.8 519.7h0.42M317.7 517.2h0.42M312.1 520.8h0.42M306.8 520.5h0.42M320.1 515.9h0.42M311.0 520.4h0.42M306.5 522.1h0.42M321.2 517.7h0.42M313.8 517.5h0.42M311.0 520.6h0.42M310.8 519.7h0.42M308.6 522.6h0.42M319.0 517.5h0.42M316.2 526.7h0.42M308.5 523.2h0.42M332.2 518.7h0.42M318.1 513.1h0.42M322.5 521.1h0.42M318.4 519.9h0.42M319.4 522.5h0.42M317.5 518.6h0.42M310.9 519.4h0.42M310.5 517.0h0.42M302.6 519.0h0.42M305.2 518.3h0.42M302.5 515.5h0.42M309.0 518.7h0.42M328.5 519.1h0.42M320.0 520.7h0.42M314.4 518.5h0.42M317.0 520.8h0.42M301.6 521.2h0.42M310.6 514.8h0.42M306.3 521.3h0.42M319.2 519.0h0.42M321.3 521.6h0.42M300.5 516.2h0.42M314.7 516.8h0.42M307.4 520.2h0.42M309.9 517.4h0.42M301.5 525.1h0.42M301.6 518.1h0.42M320.3 519.0h0.42M304.9 516.1h0.42M320.8 521.5h0.42M297.3 515.4h0.42M316.9 523.9h0.42M307.9 522.0h0.42M299.9 514.6h0.42M302.5 520.7h0.42M313.6 521.3h0.42M298.6 524.0h0.42M308.9 526.8h0.42M314.0 514.2h0.42M311.7 516.9h0.42M323.7 519.9h0.42M321.5 517.0h0.42M306.1 519.7h0.42M312.6 516.6h0.42M316.0 522.6h0.42M309.3 517.8h0.42M308.2 520.8h0.42M311.0 520.5h0.42M320.4 518.4h0.42M309.8 518.4h0.42M328.2 537.2h0.42M326.6 536.1h0.42M327.3 539.8h0.42M324.8 542.4h0.42M326.5 543.8h0.42M327.0 537.4h0.42M324.9 542.6h0.42M328.1 533.3h0.42M326.2 540.0h0.42M326.1 539.6h0.42M326.2 534.3h0.42M328.3 529.1h0.42M327.4 533.7h0.42M326.6 534.2h0.42M326.8 534.5h0.42M327.2 530.4h0.42M325.2 536.8h0.42M327.4 533.4h0.42M328.8 535.8h0.42M327.9 528.4h0.42M325.5 532.4h0.42M325.5 529.5h0.42M326.1 533.2h0.42M328.3 537.3h0.42M327.4 527.0h0.42M327.7 545.5h0.42M325.4 532.1h0.42M325.1 544.7h0.42M325.1 532.3h0.42M324.4 538.9h0.42M327.7 532.7h0.42M327.7 538.4h0.42M325.2 540.3h0.42M327.5 544.2h0.42M326.6 544.4h0.42M326.3 539.2h0.42M328.5 537.2h0.42M325.8 531.4h0.42M326.4 528.1h0.42M325.7 531.7h0.42M326.6 530.6h0.42M326.3 537.6h0.42M327.0 543.0h0.42M328.3 536.5h0.42M324.6 541.5h0.42M327.0 535.5h0.42M326.8 547.7h0.42M327.0 535.6h0.42M326.9 533.0h0.42M329.1 531.7h0.42M324.9 542.8h0.42M326.6 531.4h0.42M327.2 543.6h0.42M324.3 540.9h0.42M327.0 547.2h0.42M326.7 541.6h0.42M326.3 541.4h0.42M328.2 541.5h0.42M325.7 537.3h0.42M329.1 531.5h0.42M325.9 534.3h0.42M328.2 533.4h0.42M326.0 537.4h0.42M326.9 540.9h0.42M325.4 531.8h0.42M324.4 543.5h0.42M326.1 538.6h0.42M326.9 530.2h0.42M324.8 531.9h0.42M328.8 535.9h0.42M327.3 532.6h0.42M329.4 538.4h0.42M324.7 535.1h0.42M326.5 542.8h0.42M325.8 541.0h0.42M326.7 538.8h0.42M325.8 539.6h0.42M327.7 537.7h0.42M325.2 551.8h0.42M327.0 541.1h0.42M324.4 543.1h0.42M324.2 543.6h0.42M326.9 535.3h0.42M325.6 538.5h0.42M326.5 529.0h0.42M328.1 530.0h0.42M326.4 535.2h0.42M328.7 530.0h0.42M327.4 540.1h0.42M323.5 530.3h0.42M325.9 532.3h0.42M326.5 540.5h0.42M327.8 534.0h0.42M327.1 536.5h0.42M327.0 537.3h0.42M326.5 535.9h0.42M327.0 538.2h0.42M325.9 527.0h0.42M327.3 541.6h0.42M326.0 543.6h0.42M326.4 537.0h0.42M325.5 544.1h0.42M328.6 536.8h0.42M325.4 543.0h0.42M327.3 541.0h0.42M324.7 539.1h0.42M326.7 536.2h0.42M327.0 537.0h0.42M326.9 537.7h0.42M325.6 546.3h0.42M326.2 540.8h0.42M327.8 533.0h0.42M326.5 533.3h0.42M326.6 531.8h0.42M327.4 537.8h0.42M324.9 540.0h0.42M325.7 530.5h0.42M326.9 538.0h0.42M325.4 541.3h0.42M326.9 538.7h0.42M327.5 539.3h0.42M327.8 539.6h0.42M327.7 523.6h0.42M325.5 547.3h0.42M325.8 537.1h0.42M326.5 528.7h0.42M326.5 547.3h0.42M328.4 536.7h0.42M325.6 535.0h0.42M327.1 535.8h0.42M327.2 539.2h0.42M325.4 531.9h0.42M327.1 542.1h0.42M326.0 545.1h0.42M326.4 536.3h0.42M326.2 540.5h0.42M323.7 538.3h0.42M326.9 533.6h0.42M325.1 543.9h0.42M326.0 536.2h0.42M327.9 531.7h0.42M329.5 534.2h0.42M326.1 530.5h0.42M326.0 532.9h0.42M326.2 532.1h0.42M323.3 543.4h0.42M327.1 541.1h0.42M326.9 540.7h0.42M324.7 552.1h0.42M326.1 531.6h0.42M328.9 535.8h0.42M326.8 532.6h0.42M326.0 540.1h0.42M327.2 531.6h0.42M327.5 533.8h0.42M324.3 542.1h0.42M326.9 536.6h0.42M325.3 541.5h0.42M326.3 534.2h0.42M327.0 539.1h0.42M324.6 543.9h0.42M324.7 533.5h0.42M326.9 537.2h0.42M327.2 540.6h0.42M323.3 544.2h0.42M325.8 537.6h0.42M325.9 532.2h0.42M327.0 540.1h0.42M326.9 534.4h0.42M328.1 539.7h0.42M327.1 538.2h0.42M326.4 543.5h0.42M327.3 543.4h0.42M326.5 538.4h0.42M325.1 536.7h0.42M326.0 533.6h0.42M326.4 538.1h0.42M326.1 529.2h0.42M326.1 537.7h0.42M327.0 533.3h0.42M325.5 528.4h0.42M326.6 534.7h0.42M327.5 530.6h0.42M328.0 536.8h0.42M326.1 538.4h0.42M327.0 541.7h0.42M324.5 534.7h0.42M326.7 540.6h0.42M326.9 533.2h0.42M326.9 536.8h0.42M326.0 543.7h0.42M326.2 539.9h0.42M327.8 542.7h0.42M325.3 532.2h0.42M323.8 542.8h0.42M326.4 534.9h0.42M326.7 531.8h0.42M327.3 533.2h0.42M327.4 539.0h0.42M326.2 540.4h0.42M326.1 537.5h0.42M327.3 546.1h0.42M326.6 544.7h0.42M324.6 538.3h0.42M326.5 535.3h0.42M326.5 547.3h0.42M326.7 543.3h0.42M327.6 544.4h0.42M326.7 534.8h0.42M327.5 542.2h0.42M325.4 545.8h0.42M325.9 531.7h0.42M326.8 531.3h0.42M326.3 537.5h0.42M325.8 538.1h0.42M325.7 526.5h0.42M327.1 542.4h0.42M327.5 535.9h0.42M327.1 536.2h0.42M328.1 532.1h0.42M326.9 535.6h0.42M327.2 538.2h0.42M324.5 536.1h0.42M325.2 540.0h0.42M327.8 532.0h0.42M327.2 532.9h0.42M325.8 538.6h0.42M327.7 540.2h0.42M327.3 535.5h0.42M326.1 540.9h0.42M326.6 538.6h0.42M326.4 546.0h0.42M327.6 545.0h0.42M327.1 534.1h0.42M325.1 538.5h0.42M325.9 528.3h0.42M325.4 548.8h0.42M326.4 538.6h0.42M326.3 538.7h0.42M324.9 539.1h0.42M327.3 539.3h0.42M326.8 538.1h0.42M327.6 532.4h0.42M324.4 535.4h0.42M326.3 540.9h0.42M325.6 538.7h0.42M326.2 541.5h0.42M325.7 541.0h0.42M327.4 536.6h0.42M326.4 535.7h0.42M325.8 534.8h0.42M325.0 541.4h0.42M326.9 537.3h0.42M326.6 538.1h0.42M327.9 542.3h0.42M325.9 541.2h0.42M324.7 535.4h0.42M325.5 539.4h0.42M326.1 534.0h0.42M326.0 530.8h0.42M325.2 533.0h0.42M326.8 539.1h0.42M326.8 546.0h0.42M328.0 529.0h0.42M325.3 545.2h0.42M326.5 539.7h0.42M327.1 531.1h0.42M326.9 537.1h0.42M325.2 539.5h0.42M328.4 537.0h0.42M325.0 537.1h0.42M326.1 525.9h0.42M325.8 539.6h0.42M325.4 537.2h0.42M326.4 535.4h0.42M326.1 536.1h0.42M326.1 537.0h0.42M327.1 535.3h0.42M325.3 540.0h0.42M325.0 548.0h0.42M325.5 547.3h0.42M326.6 539.2h0.42M327.3 539.8h0.42M326.4 536.0h0.42M325.7 532.9h0.42M328.1 525.9h0.42M328.1 542.3h0.42M325.6 546.0h0.42M328.2 543.2h0.42M324.3 527.7h0.42M327.5 531.8h0.42M327.0 535.6h0.42M326.9 536.0h0.42M326.9 529.2h0.42M326.6 533.1h0.42M327.7 534.2h0.42M326.7 540.3h0.42M326.4 533.3h0.42M326.6 536.7h0.42M327.5 532.9h0.42M324.8 540.7h0.42M326.3 543.1h0.42M328.4 528.4h0.42M326.6 538.1h0.42M326.2 541.9h0.42M328.6 536.5h0.42M326.0 540.5h0.42M327.2 536.7h0.42M326.9 544.0h0.42M325.4 543.4h0.42M325.1 543.5h0.42M325.6 533.0h0.42M324.9 535.6h0.42M326.3 536.4h0.42M326.0 535.9h0.42M325.9 535.2h0.42M326.6 534.4h0.42M326.8 531.8h0.42M324.6 540.7h0.42M325.4 537.5h0.42M325.6 529.7h0.42M325.0 532.6h0.42M328.0 533.6h0.42M326.7 535.1h0.42M326.8 531.1h0.42M327.5 538.0h0.42M325.5 540.9h0.42M324.8 533.4h0.42M326.2 544.7h0.42M325.2 545.8h0.42M329.1 531.7h0.42M327.5 543.6h0.42M324.1 545.7h0.42M322.7 545.1h0.42M329.0 546.8h0.42M328.3 538.6h0.42M322.6 547.4h0.42M327.9 542.0h0.42M325.0 523.9h0.42M327.5 531.8h0.42M326.3 540.4h0.42M323.3 539.7h0.42M324.6 533.7h0.42M328.2 528.4h0.42M325.0 535.6h0.42M328.8 536.5h0.42M327.9 530.5h0.42M322.8 536.1h0.42M330.0 540.1h0.42M325.3 533.3h0.42M329.5 540.7h0.42M323.0 525.4h0.42M330.9 537.9h0.42M326.4 539.1h0.42M326.2 536.1h0.42M326.2 525.2h0.42M325.6 534.2h0.42M328.9 542.8h0.42M325.5 536.2h0.42M326.5 548.6h0.42M328.9 533.0h0.42M329.8 531.5h0.42M329.0 537.6h0.42M323.6 534.4h0.42M325.9 543.3h0.42M329.5 526.7h0.42M325.2 543.4h0.42M327.6 540.1h0.42M327.9 541.5h0.42M329.4 534.7h0.42M321.1 539.9h0.42M324.9 527.2h0.42M326.5 532.6h0.42M326.2 524.9h0.42M327.6 536.6h0.42M326.8 532.6h0.42M324.4 542.6h0.42M327.8 535.4h0.42M323.5 539.9h0.42M325.2 541.9h0.42M324.7 538.0h0.42M327.2 533.7h0.42M327.6 528.9h0.42M329.4 534.5h0.42M325.3 535.9h0.42M325.5 532.8h0.42M326.8 533.3h0.42M325.6 537.9h0.42M325.8 532.2h0.42M328.2 548.4h0.42M324.9 542.0h0.42M324.7 535.3h0.42M323.8 533.5h0.42M324.6 536.3h0.42M325.6 549.6h0.42M324.3 540.6h0.42M328.3 526.6h0.42M322.3 542.0h0.42M323.6 535.1h0.42M320.2 530.7h0.42M325.8 543.6h0.42M331.1 533.4h0.42M329.8 537.1h0.42M325.9 535.8h0.42M325.8 528.2h0.42M326.2 530.5h0.42M327.2 553.0h0.42M323.4 546.8h0.42M323.8 535.2h0.42M328.8 540.1h0.42M299.5 548.1h0.42M309.2 536.2h0.42M314.8 533.2h0.42M322.7 539.5h0.42M305.8 529.5h0.42M315.3 546.7h0.42M306.5 531.8h0.42M310.1 541.9h0.42M322.5 550.0h0.42M311.4 549.5h0.42M306.0 549.3h0.42M308.6 525.3h0.42M309.5 549.1h0.42M313.0 542.8h0.42M323.5 531.4h0.42M321.4 536.8h0.42M300.3 552.6h0.42M312.8 552.5h0.42M323.6 540.0h0.42M317.8 548.1h0.42M297.6 528.0h0.42M299.8 538.6h0.42M314.5 526.6h0.42M322.2 530.2h0.42M319.8 530.7h0.42M318.0 527.5h0.42M318.1 548.3h0.42M309.1 527.8h0.42M308.4 542.5h0.42M306.5 529.3h0.42M323.7 545.7h0.42M305.0 531.4h0.42M299.8 529.9h0.42M314.4 542.1h0.42M323.2 541.5h0.42M311.0 541.3h0.42M312.9 546.8h0.42M313.7 545.3h0.42M315.5 548.6h0.42M302.5 541.3h0.42M298.1 525.8h0.42M309.8 535.8h0.42M300.7 535.0h0.42M313.1 539.3h0.42M318.9 546.9h0.42M312.6 542.5h0.42M301.0 546.0h0.42M302.9 528.2h0.42M304.0 550.4h0.42M321.2 534.6h0.42M315.9 541.1h0.42M300.7 551.4h0.42M298.7 547.3h0.42M319.5 543.8h0.42M312.7 551.6h0.42M300.8 539.4h0.42M308.9 537.7h0.42M301.4 541.4h0.42M317.1 541.1h0.42M317.3 536.5h0.42M323.1 547.5h0.42M314.2 537.0h0.42M306.3 547.4h0.42M311.8 537.9h0.42M318.3 536.5h0.42M323.4 552.6h0.42M308.6 534.9h0.42M322.6 531.7h0.42M313.6 537.2h0.42M305.4 535.8h0.42M315.8 534.0h0.42M324.5 534.6h0.42M321.4 542.3h0.42M321.0 546.4h0.42M316.7 547.6h0.42M316.2 539.4h0.42M306.4 541.2h0.42M314.9 541.0h0.42M313.5 545.7h0.42M308.9 545.7h0.42M324.2 532.2h0.42M301.5 550.0h0.42M303.1 537.0h0.42M316.3 545.0h0.42M297.5 545.1h0.42M313.5 547.0h0.42M300.6 544.8h0.42M308.2 551.5h0.42M321.6 539.7h0.42M310.0 550.4h0.42M305.8 539.1h0.42M311.3 533.0h0.42M308.9 548.4h0.42M308.6 551.2h0.42M298.2 528.0h0.42M319.7 551.2h0.42M301.4 534.5h0.42M317.5 532.3h0.42M307.3 528.0h0.42M303.3 549.2h0.42M303.0 538.6h0.42M305.1 534.8h0.42M299.1 533.7h0.42M317.6 551.2h0.42M320.8 531.8h0.42M307.3 545.2h0.42M307.4 541.2h0.42M307.4 538.0h0.42M315.7 529.5h0.42M322.6 533.9h0.42M324.6 541.9h0.42M318.6 537.5h0.42M319.2 549.2h0.42M305.0 531.5h0.42M306.6 533.2h0.42M307.9 536.2h0.42M318.6 536.3h0.42M322.3 550.2h0.42M311.1 530.9h0.42M303.2 528.4h0.42M308.2 540.9h0.42M321.8 530.1h0.42M316.4 547.3h0.42M301.9 544.3h0.42M317.4 532.5h0.42M298.5 546.1h0.42M298.0 551.9h0.42M305.5 527.1h0.42M322.1 542.2h0.42M317.7 528.1h0.42M315.4 547.4h0.42M298.1 537.4h0.42M316.7 540.2h0.42M315.1 534.2h0.42M316.8 542.8h0.42M303.5 526.4h0.42M318.4 527.3h0.42M305.6 536.7h0.42M303.1 538.3h0.42M316.4 526.0h0.42M297.8 535.9h0.42M319.0 525.7h0.42M324.0 552.3h0.42M303.8 536.9h0.42M313.7 546.2h0.42M303.0 529.3h0.42M318.5 532.4h0.42M315.0 544.5h0.42M313.5 535.8h0.42M314.3 540.0h0.42M338.0 514.7h0.42M322.3 540.5h0.42M340.1 545.7h0.42M309.7 514.2h0.42M327.1 519.1h0.42M302.3 548.3h0.42M301.4 535.8h0.42M315.6 510.2h0.42M330.1 550.8h0.42M320.0 528.8h0.42M301.6 538.3h0.42M325.8 538.0h0.42M343.6 515.0h0.42M341.2 526.5h0.42M301.3 524.0h0.42M310.8 534.5h0.42M311.0 545.7h0.42M314.1 535.5h0.42M329.8 530.6h0.42M337.7 518.2h0.42M302.4 533.5h0.42M330.8 553.7h0.42M342.8 506.4h0.42M342.0 534.3h0.42M321.9 522.0h0.42" stroke="#000" stroke-width="0.42" fill="none"/>
<rect x="300" y="511.2" width="23.6" height="14.8" fill="none" stroke="#333" stroke-width="0.5"/>
<rect x="320.1" y="526" width="15.4" height="24.2" fill="none" stroke="#333" stroke-width="0.5"/>
<text x="300.1" y="508.8" font-size="3.6" text-anchor="start" fill="#222" stroke="#222" stroke-width="0.05">58.2%</text>
<text x="321.8" y="554.6" font-size="3.6" text-anchor="start" fill="#222" stroke="#222" stroke-width="0.05">36.8%</text>
<text transform="translate(211.3 549.5) rotate(-90)" font-size="9.4" text-anchor="middle" fill="#1a1a1a" stroke="#1a1a1a" stroke-width="0.22" textLength="15.8" lengthAdjust="spacingAndGlyphs">CD4</text>
<line x1="208.7" y1="543.5" x2="208.7" y2="515.72" stroke="#1a1a1a" stroke-width="1.0"/>
<polygon points="208.7,511.4 211.1,516.8 206.3,516.8" fill="#1a1a1a"/>
<text x="225.1" y="574.2" font-size="9.2" text-anchor="start" fill="#1a1a1a" stroke="#1a1a1a" stroke-width="0.22" textLength="16.4" lengthAdjust="spacingAndGlyphs">CD8</text>
<line x1="241.6" y1="571.5" x2="328.88" y2="571.5" stroke="#1a1a1a" stroke-width="1.0"/>
<polygon points="333.2,571.5 327.8,573.9 327.8,569.1" fill="#1a1a1a"/>
<line x1="53" y1="484" x2="53" y2="500.6" stroke="#1a1a1a" stroke-width="1.15"/>
<line x1="50.4" y1="500.6" x2="56.1" y2="500.6" stroke="#1a1a1a" stroke-width="0.9"/>
<line x1="53" y1="507.3" x2="53" y2="562.5" stroke="#1a1a1a" stroke-width="1.15"/>
<line x1="50.4" y1="507.3" x2="56.1" y2="507.3" stroke="#1a1a1a" stroke-width="0.9"/>
<line x1="52.45" y1="561.9" x2="102.6" y2="561.9" stroke="#1a1a1a" stroke-width="1.2"/>
<line x1="50.2" y1="487" x2="53" y2="487" stroke="#1a1a1a" stroke-width="0.8"/>
<text x="46.7" y="489.4" font-size="7" text-anchor="end" fill="#1a1a1a" stroke="#1a1a1a" stroke-width="0.22" textLength="8.2" lengthAdjust="spacingAndGlyphs">20</text>
<line x1="50.2" y1="500.6" x2="53" y2="500.6" stroke="#1a1a1a" stroke-width="0.8"/>
<text x="46.7" y="503" font-size="7" text-anchor="end" fill="#1a1a1a" stroke="#1a1a1a" stroke-width="0.22" textLength="8.2" lengthAdjust="spacingAndGlyphs">15</text>
<line x1="50.2" y1="507.3" x2="53" y2="507.3" stroke="#1a1a1a" stroke-width="0.8"/>
<text x="46.7" y="509.7" font-size="7" text-anchor="end" fill="#1a1a1a" stroke="#1a1a1a" stroke-width="0.22" textLength="8.2" lengthAdjust="spacingAndGlyphs">10</text>
<line x1="50.2" y1="518.4" x2="53" y2="518.4" stroke="#1a1a1a" stroke-width="0.8"/>
<text x="46.7" y="520.8" font-size="7" text-anchor="end" fill="#1a1a1a" stroke="#1a1a1a" stroke-width="0.22" textLength="4.1" lengthAdjust="spacingAndGlyphs">8</text>
<line x1="50.2" y1="529.4" x2="53" y2="529.4" stroke="#1a1a1a" stroke-width="0.8"/>
<text x="46.7" y="531.8" font-size="7" text-anchor="end" fill="#1a1a1a" stroke="#1a1a1a" stroke-width="0.22" textLength="4.1" lengthAdjust="spacingAndGlyphs">6</text>
<line x1="50.2" y1="540.3" x2="53" y2="540.3" stroke="#1a1a1a" stroke-width="0.8"/>
<text x="46.7" y="542.7" font-size="7" text-anchor="end" fill="#1a1a1a" stroke="#1a1a1a" stroke-width="0.22" textLength="4.1" lengthAdjust="spacingAndGlyphs">4</text>
<line x1="50.2" y1="551.2" x2="53" y2="551.2" stroke="#1a1a1a" stroke-width="0.8"/>
<text x="46.7" y="553.6" font-size="7" text-anchor="end" fill="#1a1a1a" stroke="#1a1a1a" stroke-width="0.22" textLength="4.1" lengthAdjust="spacingAndGlyphs">2</text>
<line x1="50.2" y1="561.9" x2="53" y2="561.9" stroke="#1a1a1a" stroke-width="0.8"/>
<text x="46.7" y="564.3" font-size="7" text-anchor="end" fill="#1a1a1a" stroke="#1a1a1a" stroke-width="0.22" textLength="4.1" lengthAdjust="spacingAndGlyphs">0</text>
<rect x="62.9" y="536.5" width="12.1" height="25" fill="#a4032c"/>
<rect x="81.3" y="525.5" width="12.3" height="36" fill="#2d4a7c"/>
<line x1="78.1" y1="561.9" x2="78.1" y2="565.1" stroke="#1a1a1a" stroke-width="0.8"/>
<line x1="68.7" y1="532.9" x2="68.7" y2="540.1" stroke="#111" stroke-width="0.9"/>
<line x1="66.6" y1="532.9" x2="70.8" y2="532.9" stroke="#111" stroke-width="0.9"/>
<line x1="66.6" y1="540.1" x2="70.8" y2="540.1" stroke="#111" stroke-width="0.7"/>
<line x1="87.5" y1="515.4" x2="87.5" y2="535.6" stroke="#111" stroke-width="0.9"/>
<line x1="85.4" y1="515.4" x2="89.6" y2="515.4" stroke="#111" stroke-width="0.9"/>
<line x1="85.4" y1="535.6" x2="89.6" y2="535.6" stroke="#111" stroke-width="0.7"/>
<circle cx="68.7" cy="519.4" r="1.28" fill="#fff" stroke="#080808" stroke-width="1.0"/>
<circle cx="68.7" cy="529.1" r="1.28" fill="#fff" stroke="#080808" stroke-width="1.0"/>
<circle cx="68.7" cy="535.9" r="1.28" fill="#fff" stroke="#080808" stroke-width="1.0"/>
<circle cx="64.2" cy="538.8" r="1.28" fill="#fff" stroke="#080808" stroke-width="1.0"/>
<circle cx="66.2" cy="540.6" r="1.28" fill="#fff" stroke="#080808" stroke-width="1.0"/>
<circle cx="68.7" cy="542.2" r="1.28" fill="#fff" stroke="#080808" stroke-width="1.0"/>
<circle cx="71" cy="541.6" r="1.28" fill="#fff" stroke="#080808" stroke-width="1.0"/>
<circle cx="73" cy="540.2" r="1.28" fill="#fff" stroke="#080808" stroke-width="1.0"/>
<circle cx="87.5" cy="491.4" r="1.28" fill="#fff" stroke="#080808" stroke-width="1.0"/>
<circle cx="87.5" cy="526.7" r="1.28" fill="#fff" stroke="#080808" stroke-width="1.0"/>
<circle cx="87.5" cy="530.9" r="1.28" fill="#fff" stroke="#080808" stroke-width="1.0"/>
<circle cx="84.1" cy="533.6" r="1.28" fill="#fff" stroke="#080808" stroke-width="1.0"/>
<circle cx="90.9" cy="533.6" r="1.28" fill="#fff" stroke="#080808" stroke-width="1.0"/>
<circle cx="87.5" cy="535.5" r="1.28" fill="#fff" stroke="#080808" stroke-width="1.0"/>
<circle cx="89.1" cy="537.6" r="1.28" fill="#fff" stroke="#080808" stroke-width="1.0"/>
<circle cx="85.8" cy="540.6" r="1.28" fill="#fff" stroke="#080808" stroke-width="1.0"/>
<text x="77.9" y="575.3" font-size="7.2" text-anchor="middle" fill="#1a1a1a" stroke="#1a1a1a" stroke-width="0.22" textLength="24.2" lengthAdjust="spacingAndGlyphs">Pro-Pre</text>
<text transform="translate(33.4 523.4) rotate(-90)" font-size="8.3" text-anchor="middle" fill="#1a1a1a" stroke="#1a1a1a" stroke-width="0.22" textLength="65.5" lengthAdjust="spacingAndGlyphs">Total cells (x10<tspan font-size="5.9" dy="-3.1">6</tspan><tspan dy="3.1">)</tspan></text>
<line x1="123.2" y1="484" x2="123.2" y2="562.6" stroke="#1a1a1a" stroke-width="1.15"/>
<line x1="122.65" y1="562" x2="172.7" y2="562" stroke="#1a1a1a" stroke-width="1.2"/>
<line x1="120.4" y1="487" x2="123.2" y2="487" stroke="#1a1a1a" stroke-width="0.8"/>
<text x="116.9" y="489.4" font-size="7" text-anchor="end" fill="#1a1a1a" stroke="#1a1a1a" stroke-width="0.22" textLength="4.1" lengthAdjust="spacingAndGlyphs">4</text>
<line x1="120.4" y1="506" x2="123.2" y2="506" stroke="#1a1a1a" stroke-width="0.8"/>
<text x="116.9" y="508.4" font-size="7" text-anchor="end" fill="#1a1a1a" stroke="#1a1a1a" stroke-width="0.22" textLength="4.1" lengthAdjust="spacingAndGlyphs">3</text>
<line x1="120.4" y1="524.8" x2="123.2" y2="524.8" stroke="#1a1a1a" stroke-width="0.8"/>
<text x="116.9" y="527.2" font-size="7" text-anchor="end" fill="#1a1a1a" stroke="#1a1a1a" stroke-width="0.22" textLength="4.1" lengthAdjust="spacingAndGlyphs">2</text>
<line x1="120.4" y1="543.3" x2="123.2" y2="543.3" stroke="#1a1a1a" stroke-width="0.8"/>
<text x="116.9" y="545.7" font-size="7" text-anchor="end" fill="#1a1a1a" stroke="#1a1a1a" stroke-width="0.22" textLength="4.1" lengthAdjust="spacingAndGlyphs">1</text>
<line x1="120.4" y1="562" x2="123.2" y2="562" stroke="#1a1a1a" stroke-width="0.8"/>
<text x="116.9" y="564.4" font-size="7" text-anchor="end" fill="#1a1a1a" stroke="#1a1a1a" stroke-width="0.22" textLength="4.1" lengthAdjust="spacingAndGlyphs">0</text>
<rect x="132.9" y="539.2" width="12.2" height="22.4" fill="#a4032c"/>
<rect x="151.4" y="532.2" width="12.4" height="29.4" fill="#2d4a7c"/>
<line x1="148.1" y1="562" x2="148.1" y2="565.2" stroke="#1a1a1a" stroke-width="0.8"/>
<line x1="138.9" y1="536.5" x2="138.9" y2="541.9" stroke="#111" stroke-width="0.9"/>
<line x1="136.8" y1="536.5" x2="141" y2="536.5" stroke="#111" stroke-width="0.9"/>
<line x1="136.8" y1="541.9" x2="141" y2="541.9" stroke="#111" stroke-width="0.7"/>
<line x1="157.5" y1="525.8" x2="157.5" y2="538.6" stroke="#111" stroke-width="0.9"/>
<line x1="155.4" y1="525.8" x2="159.6" y2="525.8" stroke="#111" stroke-width="0.9"/>
<line x1="155.4" y1="538.6" x2="159.6" y2="538.6" stroke="#111" stroke-width="0.7"/>
<circle cx="138.9" cy="529.8" r="1.28" fill="#fff" stroke="#080808" stroke-width="1.0"/>
<circle cx="140.3" cy="531.8" r="1.28" fill="#fff" stroke="#080808" stroke-width="1.0"/>
<circle cx="137.3" cy="533.6" r="1.28" fill="#fff" stroke="#080808" stroke-width="1.0"/>
<circle cx="137.3" cy="538.8" r="1.28" fill="#fff" stroke="#080808" stroke-width="1.0"/>
<circle cx="135.3" cy="542.2" r="1.28" fill="#fff" stroke="#080808" stroke-width="1.0"/>
<circle cx="140.3" cy="541.9" r="1.28" fill="#fff" stroke="#080808" stroke-width="1.0"/>
<circle cx="142.4" cy="543.3" r="1.28" fill="#fff" stroke="#080808" stroke-width="1.0"/>
<circle cx="138.9" cy="545.7" r="1.28" fill="#fff" stroke="#080808" stroke-width="1.0"/>
<circle cx="157.2" cy="487" r="1.28" fill="#fff" stroke="#080808" stroke-width="1.0"/>
<circle cx="155.9" cy="533.8" r="1.28" fill="#fff" stroke="#080808" stroke-width="1.0"/>
<circle cx="159.2" cy="533.8" r="1.28" fill="#fff" stroke="#080808" stroke-width="1.0"/>
<circle cx="157.5" cy="537.9" r="1.28" fill="#fff" stroke="#080808" stroke-width="1.0"/>
<circle cx="154.1" cy="539" r="1.28" fill="#fff" stroke="#080808" stroke-width="1.0"/>
<circle cx="160.9" cy="540.8" r="1.28" fill="#fff" stroke="#080808" stroke-width="1.0"/>
<circle cx="155.9" cy="541.2" r="1.28" fill="#fff" stroke="#080808" stroke-width="1.0"/>
<circle cx="157.5" cy="542.6" r="1.28" fill="#fff" stroke="#080808" stroke-width="1.0"/>
<text x="148.2" y="575.3" font-size="7.2" text-anchor="middle" fill="#1a1a1a" stroke="#1a1a1a" stroke-width="0.22" textLength="32.2" lengthAdjust="spacingAndGlyphs">Immature</text>
<line x1="52.8" y1="592" x2="52.8" y2="670.9" stroke="#1a1a1a" stroke-width="1.15"/>
<line x1="52.25" y1="670.3" x2="102.6" y2="670.3" stroke="#1a1a1a" stroke-width="1.2"/>
<line x1="50" y1="595.1" x2="52.8" y2="595.1" stroke="#1a1a1a" stroke-width="0.8"/>
<text x="46.5" y="597.5" font-size="7" text-anchor="end" fill="#1a1a1a" stroke="#1a1a1a" stroke-width="0.22" textLength="10.2" lengthAdjust="spacingAndGlyphs">1.5</text>
<line x1="50" y1="620.4" x2="52.8" y2="620.4" stroke="#1a1a1a" stroke-width="0.8"/>
<text x="46.5" y="622.8" font-size="7" text-anchor="end" fill="#1a1a1a" stroke="#1a1a1a" stroke-width="0.22" textLength="10.2" lengthAdjust="spacingAndGlyphs">1.0</text>
<line x1="50" y1="645.3" x2="52.8" y2="645.3" stroke="#1a1a1a" stroke-width="0.8"/>
<text x="46.5" y="647.7" font-size="7" text-anchor="end" fill="#1a1a1a" stroke="#1a1a1a" stroke-width="0.22" textLength="10.2" lengthAdjust="spacingAndGlyphs">0.5</text>
<line x1="50" y1="670.3" x2="52.8" y2="670.3" stroke="#1a1a1a" stroke-width="0.8"/>
<text x="46.5" y="672.7" font-size="7" text-anchor="end" fill="#1a1a1a" stroke="#1a1a1a" stroke-width="0.22" textLength="10.2" lengthAdjust="spacingAndGlyphs">0.0</text>
<rect x="62.9" y="623.8" width="12.1" height="46.1" fill="#a4032c"/>
<rect x="81.3" y="627.7" width="12.3" height="42.2" fill="#2d4a7c"/>
<line x1="77.7" y1="670.3" x2="77.7" y2="673.5" stroke="#1a1a1a" stroke-width="0.8"/>
<line x1="68.7" y1="621.3" x2="68.7" y2="626.3" stroke="#111" stroke-width="0.9"/>
<line x1="66.6" y1="621.3" x2="70.8" y2="621.3" stroke="#111" stroke-width="0.9"/>
<line x1="66.6" y1="626.3" x2="70.8" y2="626.3" stroke="#111" stroke-width="0.7"/>
<line x1="87.4" y1="623.4" x2="87.4" y2="632" stroke="#111" stroke-width="0.9"/>
<line x1="85.3" y1="623.4" x2="89.5" y2="623.4" stroke="#111" stroke-width="0.9"/>
<line x1="85.3" y1="632" x2="89.5" y2="632" stroke="#111" stroke-width="0.7"/>
<circle cx="68.5" cy="604.9" r="1.28" fill="#fff" stroke="#080808" stroke-width="1.0"/>
<circle cx="68.5" cy="614.6" r="1.28" fill="#fff" stroke="#080808" stroke-width="1.0"/>
<circle cx="66.6" cy="618" r="1.28" fill="#fff" stroke="#080808" stroke-width="1.0"/>
<circle cx="70.3" cy="618" r="1.28" fill="#fff" stroke="#080808" stroke-width="1.0"/>
<circle cx="68.5" cy="622.7" r="1.28" fill="#fff" stroke="#080808" stroke-width="1.0"/>
<circle cx="68.5" cy="628.3" r="1.28" fill="#fff" stroke="#080808" stroke-width="1.0"/>
<circle cx="68.5" cy="634.5" r="1.28" fill="#fff" stroke="#080808" stroke-width="1.0"/>
<circle cx="68.5" cy="640.2" r="1.28" fill="#fff" stroke="#080808" stroke-width="1.0"/>
<circle cx="83.7" cy="618" r="1.28" fill="#fff" stroke="#080808" stroke-width="1.0"/>
<circle cx="87.1" cy="618" r="1.28" fill="#fff" stroke="#080808" stroke-width="1.0"/>
<circle cx="90.5" cy="617" r="1.28" fill="#fff" stroke="#080808" stroke-width="1.0"/>
<circle cx="89.1" cy="626" r="1.28" fill="#fff" stroke="#080808" stroke-width="1.0"/>
<circle cx="83.7" cy="628.1" r="1.28" fill="#fff" stroke="#080808" stroke-width="1.0"/>
<circle cx="85.8" cy="630.8" r="1.28" fill="#fff" stroke="#080808" stroke-width="1.0"/>
<circle cx="89.1" cy="633.5" r="1.28" fill="#fff" stroke="#080808" stroke-width="1.0"/>
<circle cx="87.1" cy="643.8" r="1.28" fill="#fff" stroke="#080808" stroke-width="1.0"/>
<text x="78.6" y="682.9" font-size="7.2" text-anchor="middle" fill="#1a1a1a" stroke="#1a1a1a" stroke-width="0.22" textLength="38.5" lengthAdjust="spacingAndGlyphs">Transitional</text>
<text transform="translate(30.6 632.4) rotate(-90)" font-size="8.3" text-anchor="middle" fill="#1a1a1a" stroke="#1a1a1a" stroke-width="0.22" textLength="62" lengthAdjust="spacingAndGlyphs">Total cells (x10<tspan font-size="5.9" dy="-3.1">6</tspan><tspan dy="3.1">)</tspan></text>
<line x1="123.2" y1="592" x2="123.2" y2="670.9" stroke="#1a1a1a" stroke-width="1.15"/>
<line x1="122.65" y1="670.3" x2="172.7" y2="670.3" stroke="#1a1a1a" stroke-width="1.2"/>
<line x1="120.4" y1="595.4" x2="123.2" y2="595.4" stroke="#1a1a1a" stroke-width="0.8"/>
<text x="116.9" y="597.8" font-size="7" text-anchor="end" fill="#1a1a1a" stroke="#1a1a1a" stroke-width="0.22" textLength="4.1" lengthAdjust="spacingAndGlyphs">3</text>
<line x1="120.4" y1="620.7" x2="123.2" y2="620.7" stroke="#1a1a1a" stroke-width="0.8"/>
<text x="116.9" y="623.1" font-size="7" text-anchor="end" fill="#1a1a1a" stroke="#1a1a1a" stroke-width="0.22" textLength="4.1" lengthAdjust="spacingAndGlyphs">2</text>
<line x1="120.4" y1="645.6" x2="123.2" y2="645.6" stroke="#1a1a1a" stroke-width="0.8"/>
<text x="116.9" y="648" font-size="7" text-anchor="end" fill="#1a1a1a" stroke="#1a1a1a" stroke-width="0.22" textLength="4.1" lengthAdjust="spacingAndGlyphs">1</text>
<line x1="120.4" y1="670.3" x2="123.2" y2="670.3" stroke="#1a1a1a" stroke-width="0.8"/>
<text x="116.9" y="672.7" font-size="7" text-anchor="end" fill="#1a1a1a" stroke="#1a1a1a" stroke-width="0.22" textLength="4.1" lengthAdjust="spacingAndGlyphs">0</text>
<rect x="132.9" y="623.8" width="12.2" height="46.1" fill="#a4032c"/>
<rect x="151.8" y="631.7" width="12.2" height="38.2" fill="#2d4a7c"/>
<line x1="148.1" y1="670.3" x2="148.1" y2="673.5" stroke="#1a1a1a" stroke-width="0.8"/>
<line x1="138.9" y1="618.6" x2="138.9" y2="629" stroke="#111" stroke-width="0.9"/>
<line x1="136.8" y1="618.6" x2="141" y2="618.6" stroke="#111" stroke-width="0.9"/>
<line x1="136.8" y1="629" x2="141" y2="629" stroke="#111" stroke-width="0.7"/>
<line x1="158.2" y1="627.1" x2="158.2" y2="636.3" stroke="#111" stroke-width="0.9"/>
<line x1="156.1" y1="627.1" x2="160.3" y2="627.1" stroke="#111" stroke-width="0.9"/>
<line x1="156.1" y1="636.3" x2="160.3" y2="636.3" stroke="#111" stroke-width="0.7"/>
<circle cx="138.9" cy="598.5" r="1.28" fill="#fff" stroke="#080808" stroke-width="1.0"/>
<circle cx="135.7" cy="620" r="1.28" fill="#fff" stroke="#080808" stroke-width="1.0"/>
<circle cx="138.9" cy="621.1" r="1.28" fill="#fff" stroke="#080808" stroke-width="1.0"/>
<circle cx="142.3" cy="620.3" r="1.28" fill="#fff" stroke="#080808" stroke-width="1.0"/>
<circle cx="135.7" cy="625.1" r="1.28" fill="#fff" stroke="#080808" stroke-width="1.0"/>
<circle cx="142.3" cy="625.1" r="1.28" fill="#fff" stroke="#080808" stroke-width="1.0"/>
<circle cx="138.9" cy="627.4" r="1.28" fill="#fff" stroke="#080808" stroke-width="1.0"/>
<circle cx="138.9" cy="645.6" r="1.28" fill="#fff" stroke="#080808" stroke-width="1.0"/>
<circle cx="155.9" cy="618" r="1.28" fill="#fff" stroke="#080808" stroke-width="1.0"/>
<circle cx="159.5" cy="615.7" r="1.28" fill="#fff" stroke="#080808" stroke-width="1.0"/>
<circle cx="157.8" cy="622.7" r="1.28" fill="#fff" stroke="#080808" stroke-width="1.0"/>
<circle cx="159.2" cy="630.8" r="1.28" fill="#fff" stroke="#080808" stroke-width="1.0"/>
<circle cx="156.1" cy="633" r="1.28" fill="#fff" stroke="#080808" stroke-width="1.0"/>
<circle cx="156.1" cy="639.2" r="1.28" fill="#fff" stroke="#080808" stroke-width="1.0"/>
<circle cx="159.2" cy="640.9" r="1.28" fill="#fff" stroke="#080808" stroke-width="1.0"/>
<circle cx="157.8" cy="646.9" r="1.28" fill="#fff" stroke="#080808" stroke-width="1.0"/>
<text x="148.2" y="682.9" font-size="7.2" text-anchor="middle" fill="#1a1a1a" stroke="#1a1a1a" stroke-width="0.22" textLength="23.5" lengthAdjust="spacingAndGlyphs">Mature</text>
<line x1="232.1" y1="384" x2="232.1" y2="463" stroke="#1a1a1a" stroke-width="1.15"/>
<line x1="231.55" y1="462.4" x2="281.9" y2="462.4" stroke="#1a1a1a" stroke-width="1.2"/>
<line x1="229.3" y1="387.2" x2="232.1" y2="387.2" stroke="#1a1a1a" stroke-width="0.8"/>
<text x="225.8" y="389.6" font-size="7" text-anchor="end" fill="#1a1a1a" stroke="#1a1a1a" stroke-width="0.22" textLength="8.2" lengthAdjust="spacingAndGlyphs">60</text>
<line x1="229.3" y1="412.3" x2="232.1" y2="412.3" stroke="#1a1a1a" stroke-width="0.8"/>
<text x="225.8" y="414.7" font-size="7" text-anchor="end" fill="#1a1a1a" stroke="#1a1a1a" stroke-width="0.22" textLength="8.2" lengthAdjust="spacingAndGlyphs">40</text>
<line x1="229.3" y1="437.4" x2="232.1" y2="437.4" stroke="#1a1a1a" stroke-width="0.8"/>
<text x="225.8" y="439.8" font-size="7" text-anchor="end" fill="#1a1a1a" stroke="#1a1a1a" stroke-width="0.22" textLength="8.2" lengthAdjust="spacingAndGlyphs">20</text>
<line x1="229.3" y1="462.4" x2="232.1" y2="462.4" stroke="#1a1a1a" stroke-width="0.8"/>
<text x="225.8" y="464.8" font-size="7" text-anchor="end" fill="#1a1a1a" stroke="#1a1a1a" stroke-width="0.22" textLength="4.1" lengthAdjust="spacingAndGlyphs">0</text>
<rect x="240.8" y="442.6" width="13.9" height="19.4" fill="#a4032c"/>
<rect x="259" y="435.2" width="13.9" height="26.8" fill="#2d4a7c"/>
<line x1="257.1" y1="462.4" x2="257.1" y2="465.6" stroke="#1a1a1a" stroke-width="0.8"/>
<line x1="247.7" y1="439.2" x2="247.7" y2="446" stroke="#111" stroke-width="0.9"/>
<line x1="245.6" y1="439.2" x2="249.8" y2="439.2" stroke="#111" stroke-width="0.9"/>
<line x1="245.6" y1="446" x2="249.8" y2="446" stroke="#111" stroke-width="0.7"/>
<line x1="266.8" y1="426.5" x2="266.8" y2="443.9" stroke="#111" stroke-width="0.9"/>
<line x1="264.7" y1="426.5" x2="268.9" y2="426.5" stroke="#111" stroke-width="0.9"/>
<line x1="264.7" y1="443.9" x2="268.9" y2="443.9" stroke="#111" stroke-width="0.7"/>
<circle cx="246.2" cy="430.5" r="1.28" fill="#fff" stroke="#080808" stroke-width="1.0"/>
<circle cx="249.7" cy="432.5" r="1.28" fill="#fff" stroke="#080808" stroke-width="1.0"/>
<circle cx="249.7" cy="438.8" r="1.28" fill="#fff" stroke="#080808" stroke-width="1.0"/>
<circle cx="246.2" cy="441.9" r="1.28" fill="#fff" stroke="#080808" stroke-width="1.0"/>
<circle cx="246.2" cy="445.7" r="1.28" fill="#fff" stroke="#080808" stroke-width="1.0"/>
<circle cx="249.3" cy="447.7" r="1.28" fill="#fff" stroke="#080808" stroke-width="1.0"/>
<circle cx="251.6" cy="447.4" r="1.28" fill="#fff" stroke="#080808" stroke-width="1.0"/>
<circle cx="246.2" cy="451.4" r="1.28" fill="#fff" stroke="#080808" stroke-width="1.0"/>
<circle cx="267.1" cy="393.9" r="1.28" fill="#fff" stroke="#080808" stroke-width="1.0"/>
<circle cx="267.1" cy="426" r="1.28" fill="#fff" stroke="#080808" stroke-width="1.0"/>
<circle cx="267.1" cy="436.8" r="1.28" fill="#fff" stroke="#080808" stroke-width="1.0"/>
<circle cx="270.5" cy="437.9" r="1.28" fill="#fff" stroke="#080808" stroke-width="1.0"/>
<circle cx="263.7" cy="439.9" r="1.28" fill="#fff" stroke="#080808" stroke-width="1.0"/>
<circle cx="267.1" cy="440.6" r="1.28" fill="#fff" stroke="#080808" stroke-width="1.0"/>
<circle cx="265.5" cy="450.4" r="1.28" fill="#fff" stroke="#080808" stroke-width="1.0"/>
<circle cx="268.8" cy="450" r="1.28" fill="#fff" stroke="#080808" stroke-width="1.0"/>
<text x="257" y="474.8" font-size="7.2" text-anchor="middle" fill="#1a1a1a" stroke="#1a1a1a" stroke-width="0.22" textLength="28.5" lengthAdjust="spacingAndGlyphs">Marginal</text>
<text transform="translate(212 423.5) rotate(-90)" font-size="8.3" text-anchor="middle" fill="#1a1a1a" stroke="#1a1a1a" stroke-width="0.22" textLength="64" lengthAdjust="spacingAndGlyphs">Total cells (x10<tspan font-size="5.9" dy="-3.1">6</tspan><tspan dy="3.1">)</tspan></text>
<line x1="303.4" y1="383" x2="303.4" y2="463" stroke="#1a1a1a" stroke-width="1.15"/>
<line x1="302.85" y1="462.4" x2="353.9" y2="462.4" stroke="#1a1a1a" stroke-width="1.2"/>
<line x1="300.6" y1="386.3" x2="303.4" y2="386.3" stroke="#1a1a1a" stroke-width="0.8"/>
<text x="297.1" y="388.7" font-size="7" text-anchor="end" fill="#1a1a1a" stroke="#1a1a1a" stroke-width="0.22" textLength="8.2" lengthAdjust="spacingAndGlyphs">80</text>
<line x1="300.6" y1="405.3" x2="303.4" y2="405.3" stroke="#1a1a1a" stroke-width="0.8"/>
<text x="297.1" y="407.7" font-size="7" text-anchor="end" fill="#1a1a1a" stroke="#1a1a1a" stroke-width="0.22" textLength="8.2" lengthAdjust="spacingAndGlyphs">60</text>
<line x1="300.6" y1="424.4" x2="303.4" y2="424.4" stroke="#1a1a1a" stroke-width="0.8"/>
<text x="297.1" y="426.8" font-size="7" text-anchor="end" fill="#1a1a1a" stroke="#1a1a1a" stroke-width="0.22" textLength="8.2" lengthAdjust="spacingAndGlyphs">40</text>
<line x1="300.6" y1="443.5" x2="303.4" y2="443.5" stroke="#1a1a1a" stroke-width="0.8"/>
<text x="297.1" y="445.9" font-size="7" text-anchor="end" fill="#1a1a1a" stroke="#1a1a1a" stroke-width="0.22" textLength="8.2" lengthAdjust="spacingAndGlyphs">20</text>
<line x1="300.6" y1="462.4" x2="303.4" y2="462.4" stroke="#1a1a1a" stroke-width="0.8"/>
<text x="297.1" y="464.8" font-size="7" text-anchor="end" fill="#1a1a1a" stroke="#1a1a1a" stroke-width="0.22" textLength="4.1" lengthAdjust="spacingAndGlyphs">0</text>
<rect x="312.6" y="415.7" width="13.4" height="46.3" fill="#a4032c"/>
<rect x="331.4" y="414.3" width="13.5" height="47.7" fill="#2d4a7c"/>
<line x1="328.3" y1="462.4" x2="328.3" y2="465.6" stroke="#1a1a1a" stroke-width="0.8"/>
<line x1="319.6" y1="411.9" x2="319.6" y2="419.5" stroke="#111" stroke-width="0.9"/>
<line x1="317.5" y1="411.9" x2="321.7" y2="411.9" stroke="#111" stroke-width="0.9"/>
<line x1="317.5" y1="419.5" x2="321.7" y2="419.5" stroke="#111" stroke-width="0.7"/>
<line x1="338.4" y1="410.3" x2="338.4" y2="418.3" stroke="#111" stroke-width="0.9"/>
<line x1="336.3" y1="410.3" x2="340.5" y2="410.3" stroke="#111" stroke-width="0.9"/>
<line x1="336.3" y1="418.3" x2="340.5" y2="418.3" stroke="#111" stroke-width="0.7"/>
<circle cx="319.6" cy="399.5" r="1.28" fill="#fff" stroke="#080808" stroke-width="1.0"/>
<circle cx="319.6" cy="405.3" r="1.28" fill="#fff" stroke="#080808" stroke-width="1.0"/>
<circle cx="321.3" cy="413.3" r="1.28" fill="#fff" stroke="#080808" stroke-width="1.0"/>
<circle cx="316.2" cy="415" r="1.28" fill="#fff" stroke="#080808" stroke-width="1.0"/>
<circle cx="318" cy="417" r="1.28" fill="#fff" stroke="#080808" stroke-width="1.0"/>
<circle cx="321.3" cy="419.3" r="1.28" fill="#fff" stroke="#080808" stroke-width="1.0"/>
<circle cx="321.3" cy="423.8" r="1.28" fill="#fff" stroke="#080808" stroke-width="1.0"/>
<circle cx="318" cy="427.1" r="1.28" fill="#fff" stroke="#080808" stroke-width="1.0"/>
<circle cx="340.2" cy="402.6" r="1.28" fill="#fff" stroke="#080808" stroke-width="1.0"/>
<circle cx="336.8" cy="405.9" r="1.28" fill="#fff" stroke="#080808" stroke-width="1.0"/>
<circle cx="335.1" cy="408.6" r="1.28" fill="#fff" stroke="#080808" stroke-width="1.0"/>
<circle cx="342.2" cy="407.3" r="1.28" fill="#fff" stroke="#080808" stroke-width="1.0"/>
<circle cx="338.6" cy="409.9" r="1.28" fill="#fff" stroke="#080808" stroke-width="1.0"/>
<circle cx="338.6" cy="414.3" r="1.28" fill="#fff" stroke="#080808" stroke-width="1.0"/>
<circle cx="338.6" cy="426" r="1.28" fill="#fff" stroke="#080808" stroke-width="1.0"/>
<circle cx="338.6" cy="436.5" r="1.28" fill="#fff" stroke="#080808" stroke-width="1.0"/>
<text x="328.5" y="474.8" font-size="7.2" text-anchor="middle" fill="#1a1a1a" stroke="#1a1a1a" stroke-width="0.22" textLength="31.5" lengthAdjust="spacingAndGlyphs">Follicular</text>
<line x1="391.6" y1="381.4" x2="391.6" y2="462.3" stroke="#1a1a1a" stroke-width="1.15"/>
<line x1="391.05" y1="461.7" x2="441.6" y2="461.7" stroke="#1a1a1a" stroke-width="1.2"/>
<line x1="388.8" y1="383.8" x2="391.6" y2="383.8" stroke="#1a1a1a" stroke-width="0.8"/>
<text x="385.3" y="386.2" font-size="7" text-anchor="end" fill="#1a1a1a" stroke="#1a1a1a" stroke-width="0.22" textLength="4.1" lengthAdjust="spacingAndGlyphs">6</text>
<line x1="388.8" y1="411.7" x2="391.6" y2="411.7" stroke="#1a1a1a" stroke-width="0.8"/>
<text x="385.3" y="414.1" font-size="7" text-anchor="end" fill="#1a1a1a" stroke="#1a1a1a" stroke-width="0.22" textLength="4.1" lengthAdjust="spacingAndGlyphs">4</text>
<line x1="388.8" y1="436.8" x2="391.6" y2="436.8" stroke="#1a1a1a" stroke-width="0.8"/>
<text x="385.3" y="439.2" font-size="7" text-anchor="end" fill="#1a1a1a" stroke="#1a1a1a" stroke-width="0.22" textLength="4.1" lengthAdjust="spacingAndGlyphs">2</text>
<line x1="388.8" y1="461.7" x2="391.6" y2="461.7" stroke="#1a1a1a" stroke-width="0.8"/>
<text x="385.3" y="464.1" font-size="7" text-anchor="end" fill="#1a1a1a" stroke="#1a1a1a" stroke-width="0.22" textLength="4.1" lengthAdjust="spacingAndGlyphs">0</text>
<rect x="400.2" y="418.1" width="13.8" height="43.2" fill="#a4032c"/>
<rect x="418.3" y="422.4" width="13.9" height="38.9" fill="#2d4a7c"/>
<line x1="416.7" y1="461.7" x2="416.7" y2="464.9" stroke="#1a1a1a" stroke-width="0.8"/>
<line x1="406.9" y1="410.3" x2="406.9" y2="425.9" stroke="#111" stroke-width="0.9"/>
<line x1="404.8" y1="410.3" x2="409" y2="410.3" stroke="#111" stroke-width="0.9"/>
<line x1="404.8" y1="425.9" x2="409" y2="425.9" stroke="#111" stroke-width="0.7"/>
<line x1="425.9" y1="416.4" x2="425.9" y2="428.4" stroke="#111" stroke-width="0.9"/>
<line x1="423.8" y1="416.4" x2="428" y2="416.4" stroke="#111" stroke-width="0.9"/>
<line x1="423.8" y1="428.4" x2="428" y2="428.4" stroke="#111" stroke-width="0.7"/>
<circle cx="406.6" cy="384.5" r="1.28" fill="#fff" stroke="#080808" stroke-width="1.0"/>
<circle cx="406.6" cy="392.8" r="1.28" fill="#fff" stroke="#080808" stroke-width="1.0"/>
<circle cx="406.6" cy="407" r="1.28" fill="#fff" stroke="#080808" stroke-width="1.0"/>
<circle cx="406.6" cy="416" r="1.28" fill="#fff" stroke="#080808" stroke-width="1.0"/>
<circle cx="406.6" cy="423.8" r="1.28" fill="#fff" stroke="#080808" stroke-width="1.0"/>
<circle cx="406.6" cy="434.5" r="1.28" fill="#fff" stroke="#080808" stroke-width="1.0"/>
<circle cx="408.6" cy="438.2" r="1.28" fill="#fff" stroke="#080808" stroke-width="1.0"/>
<circle cx="404.9" cy="441.9" r="1.28" fill="#fff" stroke="#080808" stroke-width="1.0"/>
<circle cx="425.5" cy="404.7" r="1.28" fill="#fff" stroke="#080808" stroke-width="1.0"/>
<circle cx="427.2" cy="410.3" r="1.28" fill="#fff" stroke="#080808" stroke-width="1.0"/>
<circle cx="423.7" cy="411.7" r="1.28" fill="#fff" stroke="#080808" stroke-width="1.0"/>
<circle cx="423.7" cy="418.4" r="1.28" fill="#fff" stroke="#080808" stroke-width="1.0"/>
<circle cx="427.2" cy="419.7" r="1.28" fill="#fff" stroke="#080808" stroke-width="1.0"/>
<circle cx="425.5" cy="428.5" r="1.28" fill="#fff" stroke="#080808" stroke-width="1.0"/>
<circle cx="425.5" cy="432.5" r="1.28" fill="#fff" stroke="#080808" stroke-width="1.0"/>
<circle cx="425.5" cy="451" r="1.28" fill="#fff" stroke="#080808" stroke-width="1.0"/>
<text x="416.3" y="474.2" font-size="7.2" text-anchor="middle" fill="#1a1a1a" stroke="#1a1a1a" stroke-width="0.22" textLength="10.5" lengthAdjust="spacingAndGlyphs">DN</text>
<text transform="translate(371.4 422.4) rotate(-90)" font-size="8.3" text-anchor="middle" fill="#1a1a1a" stroke="#1a1a1a" stroke-width="0.22" textLength="64.5" lengthAdjust="spacingAndGlyphs">Total cells (x10<tspan font-size="5.9" dy="-3.1">6</tspan><tspan dy="3.1">)</tspan></text>
<line x1="462.9" y1="381.4" x2="462.9" y2="462.2" stroke="#1a1a1a" stroke-width="1.15"/>
<line x1="462.35" y1="461.6" x2="513.4" y2="461.6" stroke="#1a1a1a" stroke-width="1.2"/>
<line x1="460.1" y1="383.7" x2="462.9" y2="383.7" stroke="#1a1a1a" stroke-width="0.8"/>
<text x="456.6" y="386.1" font-size="7" text-anchor="end" fill="#1a1a1a" stroke="#1a1a1a" stroke-width="0.22" textLength="12.3" lengthAdjust="spacingAndGlyphs">200</text>
<line x1="460.1" y1="405.2" x2="462.9" y2="405.2" stroke="#1a1a1a" stroke-width="0.8"/>
<text x="456.6" y="407.6" font-size="7" text-anchor="end" fill="#1a1a1a" stroke="#1a1a1a" stroke-width="0.22" textLength="12.3" lengthAdjust="spacingAndGlyphs">150</text>
<line x1="460.1" y1="424.2" x2="462.9" y2="424.2" stroke="#1a1a1a" stroke-width="0.8"/>
<text x="456.6" y="426.6" font-size="7" text-anchor="end" fill="#1a1a1a" stroke="#1a1a1a" stroke-width="0.22" textLength="12.3" lengthAdjust="spacingAndGlyphs">100</text>
<line x1="460.1" y1="443" x2="462.9" y2="443" stroke="#1a1a1a" stroke-width="0.8"/>
<text x="456.6" y="445.4" font-size="7" text-anchor="end" fill="#1a1a1a" stroke="#1a1a1a" stroke-width="0.22" textLength="8.2" lengthAdjust="spacingAndGlyphs">50</text>
<line x1="460.1" y1="461.6" x2="462.9" y2="461.6" stroke="#1a1a1a" stroke-width="0.8"/>
<text x="456.6" y="464" font-size="7" text-anchor="end" fill="#1a1a1a" stroke="#1a1a1a" stroke-width="0.22" textLength="4.1" lengthAdjust="spacingAndGlyphs">0</text>
<rect x="471.9" y="404.7" width="13.5" height="56.5" fill="#a4032c"/>
<rect x="490.8" y="404.7" width="13.4" height="56.5" fill="#2d4a7c"/>
<line x1="487.8" y1="461.6" x2="487.8" y2="464.8" stroke="#1a1a1a" stroke-width="0.8"/>
<line x1="478.6" y1="400.2" x2="478.6" y2="409.2" stroke="#111" stroke-width="0.9"/>
<line x1="476.5" y1="400.2" x2="480.7" y2="400.2" stroke="#111" stroke-width="0.9"/>
<line x1="476.5" y1="409.2" x2="480.7" y2="409.2" stroke="#111" stroke-width="0.7"/>
<line x1="497.5" y1="399.1" x2="497.5" y2="410.3" stroke="#111" stroke-width="0.9"/>
<line x1="495.4" y1="399.1" x2="499.6" y2="399.1" stroke="#111" stroke-width="0.9"/>
<line x1="495.4" y1="410.3" x2="499.6" y2="410.3" stroke="#111" stroke-width="0.7"/>
<circle cx="476.9" cy="384.5" r="1.28" fill="#fff" stroke="#080808" stroke-width="1.0"/>
<circle cx="480.3" cy="384.5" r="1.28" fill="#fff" stroke="#080808" stroke-width="1.0"/>
<circle cx="478.6" cy="391.1" r="1.28" fill="#fff" stroke="#080808" stroke-width="1.0"/>
<circle cx="478.6" cy="400.5" r="1.28" fill="#fff" stroke="#080808" stroke-width="1.0"/>
<circle cx="478.6" cy="411.7" r="1.28" fill="#fff" stroke="#080808" stroke-width="1.0"/>
<circle cx="478.6" cy="416.8" r="1.28" fill="#fff" stroke="#080808" stroke-width="1.0"/>
<circle cx="476.9" cy="422" r="1.28" fill="#fff" stroke="#080808" stroke-width="1.0"/>
<circle cx="480.3" cy="420.8" r="1.28" fill="#fff" stroke="#080808" stroke-width="1.0"/>
<circle cx="497.5" cy="385.4" r="1.28" fill="#fff" stroke="#080808" stroke-width="1.0"/>
<circle cx="495.5" cy="390.5" r="1.28" fill="#fff" stroke="#080808" stroke-width="1.0"/>
<circle cx="499.1" cy="392.8" r="1.28" fill="#fff" stroke="#080808" stroke-width="1.0"/>
<circle cx="497.5" cy="396.2" r="1.28" fill="#fff" stroke="#080808" stroke-width="1.0"/>
<circle cx="497.5" cy="408.7" r="1.28" fill="#fff" stroke="#080808" stroke-width="1.0"/>
<circle cx="497.5" cy="413" r="1.28" fill="#fff" stroke="#080808" stroke-width="1.0"/>
<circle cx="497.5" cy="421.1" r="1.28" fill="#fff" stroke="#080808" stroke-width="1.0"/>
<circle cx="497.5" cy="430.2" r="1.28" fill="#fff" stroke="#080808" stroke-width="1.0"/>
<text x="486.8" y="474.2" font-size="7.2" text-anchor="middle" fill="#1a1a1a" stroke="#1a1a1a" stroke-width="0.22" textLength="9.5" lengthAdjust="spacingAndGlyphs">DP</text>
<line x1="391.6" y1="484" x2="391.6" y2="563" stroke="#1a1a1a" stroke-width="1.15"/>
<line x1="391.05" y1="562.4" x2="441.6" y2="562.4" stroke="#1a1a1a" stroke-width="1.2"/>
<line x1="388.8" y1="487.2" x2="391.6" y2="487.2" stroke="#1a1a1a" stroke-width="0.8"/>
<text x="385.3" y="489.6" font-size="7" text-anchor="end" fill="#1a1a1a" stroke="#1a1a1a" stroke-width="0.22" textLength="8.2" lengthAdjust="spacingAndGlyphs">12</text>
<line x1="388.8" y1="512.3" x2="391.6" y2="512.3" stroke="#1a1a1a" stroke-width="0.8"/>
<text x="385.3" y="514.7" font-size="7" text-anchor="end" fill="#1a1a1a" stroke="#1a1a1a" stroke-width="0.22" textLength="4.1" lengthAdjust="spacingAndGlyphs">8</text>
<line x1="388.8" y1="537.2" x2="391.6" y2="537.2" stroke="#1a1a1a" stroke-width="0.8"/>
<text x="385.3" y="539.6" font-size="7" text-anchor="end" fill="#1a1a1a" stroke="#1a1a1a" stroke-width="0.22" textLength="4.1" lengthAdjust="spacingAndGlyphs">4</text>
<line x1="388.8" y1="562.4" x2="391.6" y2="562.4" stroke="#1a1a1a" stroke-width="0.8"/>
<text x="385.3" y="564.8" font-size="7" text-anchor="end" fill="#1a1a1a" stroke="#1a1a1a" stroke-width="0.22" textLength="4.1" lengthAdjust="spacingAndGlyphs">0</text>
<rect x="400.2" y="525.4" width="13.8" height="36.6" fill="#a4032c"/>
<rect x="418.6" y="528.1" width="14" height="33.9" fill="#2d4a7c"/>
<line x1="416.3" y1="562.4" x2="416.3" y2="565.6" stroke="#1a1a1a" stroke-width="0.8"/>
<line x1="407" y1="517" x2="407" y2="533.8" stroke="#111" stroke-width="0.9"/>
<line x1="404.9" y1="517" x2="409.1" y2="517" stroke="#111" stroke-width="0.9"/>
<line x1="404.9" y1="533.8" x2="409.1" y2="533.8" stroke="#111" stroke-width="0.7"/>
<line x1="425.9" y1="522.1" x2="425.9" y2="534.1" stroke="#111" stroke-width="0.9"/>
<line x1="423.8" y1="522.1" x2="428" y2="522.1" stroke="#111" stroke-width="0.9"/>
<line x1="423.8" y1="534.1" x2="428" y2="534.1" stroke="#111" stroke-width="0.7"/>
<circle cx="407" cy="493.1" r="1.28" fill="#fff" stroke="#080808" stroke-width="1.0"/>
<circle cx="403.5" cy="513.3" r="1.28" fill="#fff" stroke="#080808" stroke-width="1.0"/>
<circle cx="410.4" cy="513.3" r="1.28" fill="#fff" stroke="#080808" stroke-width="1.0"/>
<circle cx="407" cy="517" r="1.28" fill="#fff" stroke="#080808" stroke-width="1.0"/>
<circle cx="407" cy="535.5" r="1.28" fill="#fff" stroke="#080808" stroke-width="1.0"/>
<circle cx="405.3" cy="537.2" r="1.28" fill="#fff" stroke="#080808" stroke-width="1.0"/>
<circle cx="408.6" cy="540.9" r="1.28" fill="#fff" stroke="#080808" stroke-width="1.0"/>
<circle cx="407" cy="549.3" r="1.28" fill="#fff" stroke="#080808" stroke-width="1.0"/>
<circle cx="422.4" cy="512.7" r="1.28" fill="#fff" stroke="#080808" stroke-width="1.0"/>
<circle cx="425.9" cy="513" r="1.28" fill="#fff" stroke="#080808" stroke-width="1.0"/>
<circle cx="429.2" cy="512.7" r="1.28" fill="#fff" stroke="#080808" stroke-width="1.0"/>
<circle cx="425.9" cy="522" r="1.28" fill="#fff" stroke="#080808" stroke-width="1.0"/>
<circle cx="427.5" cy="532.5" r="1.28" fill="#fff" stroke="#080808" stroke-width="1.0"/>
<circle cx="424.1" cy="535.5" r="1.28" fill="#fff" stroke="#080808" stroke-width="1.0"/>
<circle cx="425.9" cy="540.6" r="1.28" fill="#fff" stroke="#080808" stroke-width="1.0"/>
<circle cx="425.9" cy="553.6" r="1.28" fill="#fff" stroke="#080808" stroke-width="1.0"/>
<text x="415.4" y="575.8" font-size="7.2" text-anchor="middle" fill="#1a1a1a" stroke="#1a1a1a" stroke-width="0.22" textLength="13.5" lengthAdjust="spacingAndGlyphs">CD4</text>
<text transform="translate(371.4 522.4) rotate(-90)" font-size="8.3" text-anchor="middle" fill="#1a1a1a" stroke="#1a1a1a" stroke-width="0.22" textLength="64" lengthAdjust="spacingAndGlyphs">Total cells (x10<tspan font-size="5.9" dy="-3.1">6</tspan><tspan dy="3.1">)</tspan></text>
<line x1="461.8" y1="484" x2="461.8" y2="563" stroke="#1a1a1a" stroke-width="1.15"/>
<line x1="461.25" y1="562.4" x2="511.9" y2="562.4" stroke="#1a1a1a" stroke-width="1.2"/>
<line x1="459" y1="487.2" x2="461.8" y2="487.2" stroke="#1a1a1a" stroke-width="0.8"/>
<text x="455.5" y="489.6" font-size="7" text-anchor="end" fill="#1a1a1a" stroke="#1a1a1a" stroke-width="0.22" textLength="4.1" lengthAdjust="spacingAndGlyphs">8</text>
<line x1="459" y1="505.9" x2="461.8" y2="505.9" stroke="#1a1a1a" stroke-width="0.8"/>
<text x="455.5" y="508.3" font-size="7" text-anchor="end" fill="#1a1a1a" stroke="#1a1a1a" stroke-width="0.22" textLength="4.1" lengthAdjust="spacingAndGlyphs">6</text>
<line x1="459" y1="524.8" x2="461.8" y2="524.8" stroke="#1a1a1a" stroke-width="0.8"/>
<text x="455.5" y="527.2" font-size="7" text-anchor="end" fill="#1a1a1a" stroke="#1a1a1a" stroke-width="0.22" textLength="4.1" lengthAdjust="spacingAndGlyphs">4</text>
<line x1="459" y1="543.5" x2="461.8" y2="543.5" stroke="#1a1a1a" stroke-width="0.8"/>
<text x="455.5" y="545.9" font-size="7" text-anchor="end" fill="#1a1a1a" stroke="#1a1a1a" stroke-width="0.22" textLength="4.1" lengthAdjust="spacingAndGlyphs">2</text>
<line x1="459" y1="562.4" x2="461.8" y2="562.4" stroke="#1a1a1a" stroke-width="0.8"/>
<text x="455.5" y="564.8" font-size="7" text-anchor="end" fill="#1a1a1a" stroke="#1a1a1a" stroke-width="0.22" textLength="4.1" lengthAdjust="spacingAndGlyphs">0</text>
<rect x="470.2" y="524.2" width="13.8" height="37.8" fill="#a4032c"/>
<rect x="489.1" y="522" width="13.8" height="40" fill="#2d4a7c"/>
<line x1="486.7" y1="562.4" x2="486.7" y2="565.6" stroke="#1a1a1a" stroke-width="0.8"/>
<line x1="477.3" y1="517.7" x2="477.3" y2="530.7" stroke="#111" stroke-width="0.9"/>
<line x1="475.2" y1="517.7" x2="479.4" y2="517.7" stroke="#111" stroke-width="0.9"/>
<line x1="475.2" y1="530.7" x2="479.4" y2="530.7" stroke="#111" stroke-width="0.7"/>
<line x1="496.1" y1="517.7" x2="496.1" y2="526.3" stroke="#111" stroke-width="0.9"/>
<line x1="494" y1="517.7" x2="498.2" y2="517.7" stroke="#111" stroke-width="0.9"/>
<line x1="494" y1="526.3" x2="498.2" y2="526.3" stroke="#111" stroke-width="0.7"/>
<circle cx="477.3" cy="490.8" r="1.28" fill="#fff" stroke="#080808" stroke-width="1.0"/>
<circle cx="477.3" cy="503.6" r="1.28" fill="#fff" stroke="#080808" stroke-width="1.0"/>
<circle cx="477.3" cy="517.4" r="1.28" fill="#fff" stroke="#080808" stroke-width="1.0"/>
<circle cx="477.3" cy="525.8" r="1.28" fill="#fff" stroke="#080808" stroke-width="1.0"/>
<circle cx="475.7" cy="535.5" r="1.28" fill="#fff" stroke="#080808" stroke-width="1.0"/>
<circle cx="479.1" cy="535.9" r="1.28" fill="#fff" stroke="#080808" stroke-width="1.0"/>
<circle cx="479.1" cy="540.6" r="1.28" fill="#fff" stroke="#080808" stroke-width="1.0"/>
<circle cx="475.7" cy="543.9" r="1.28" fill="#fff" stroke="#080808" stroke-width="1.0"/>
<circle cx="496.1" cy="505.6" r="1.28" fill="#fff" stroke="#080808" stroke-width="1.0"/>
<circle cx="494.4" cy="513.4" r="1.28" fill="#fff" stroke="#080808" stroke-width="1.0"/>
<circle cx="497.9" cy="513.4" r="1.28" fill="#fff" stroke="#080808" stroke-width="1.0"/>
<circle cx="496.1" cy="517.4" r="1.28" fill="#fff" stroke="#080808" stroke-width="1.0"/>
<circle cx="492.8" cy="525.4" r="1.28" fill="#fff" stroke="#080808" stroke-width="1.0"/>
<circle cx="499.5" cy="524.4" r="1.28" fill="#fff" stroke="#080808" stroke-width="1.0"/>
<circle cx="496.1" cy="526.9" r="1.28" fill="#fff" stroke="#080808" stroke-width="1.0"/>
<circle cx="496.1" cy="547.6" r="1.28" fill="#fff" stroke="#080808" stroke-width="1.0"/>
<text x="486.2" y="575.8" font-size="7.2" text-anchor="middle" fill="#1a1a1a" stroke="#1a1a1a" stroke-width="0.22" textLength="13.5" lengthAdjust="spacingAndGlyphs">CD8</text>
<line x1="231.4" y1="592.3" x2="231.4" y2="671.4" stroke="#1a1a1a" stroke-width="1.15"/>
<line x1="230.85" y1="670.8" x2="281.4" y2="670.8" stroke="#1a1a1a" stroke-width="1.2"/>
<line x1="228.6" y1="595.4" x2="231.4" y2="595.4" stroke="#1a1a1a" stroke-width="0.8"/>
<text x="225.1" y="597.8" font-size="7" text-anchor="end" fill="#1a1a1a" stroke="#1a1a1a" stroke-width="0.22" textLength="8.2" lengthAdjust="spacingAndGlyphs">40</text>
<line x1="228.6" y1="614.3" x2="231.4" y2="614.3" stroke="#1a1a1a" stroke-width="0.8"/>
<text x="225.1" y="616.7" font-size="7" text-anchor="end" fill="#1a1a1a" stroke="#1a1a1a" stroke-width="0.22" textLength="8.2" lengthAdjust="spacingAndGlyphs">30</text>
<line x1="228.6" y1="633.1" x2="231.4" y2="633.1" stroke="#1a1a1a" stroke-width="0.8"/>
<text x="225.1" y="635.5" font-size="7" text-anchor="end" fill="#1a1a1a" stroke="#1a1a1a" stroke-width="0.22" textLength="8.2" lengthAdjust="spacingAndGlyphs">20</text>
<line x1="228.6" y1="651.9" x2="231.4" y2="651.9" stroke="#1a1a1a" stroke-width="0.8"/>
<text x="225.1" y="654.3" font-size="7" text-anchor="end" fill="#1a1a1a" stroke="#1a1a1a" stroke-width="0.22" textLength="8.2" lengthAdjust="spacingAndGlyphs">10</text>
<line x1="228.6" y1="670.8" x2="231.4" y2="670.8" stroke="#1a1a1a" stroke-width="0.8"/>
<text x="225.1" y="673.2" font-size="7" text-anchor="end" fill="#1a1a1a" stroke="#1a1a1a" stroke-width="0.22" textLength="4.1" lengthAdjust="spacingAndGlyphs">0</text>
<rect x="240.2" y="628.4" width="12.8" height="42" fill="#a4032c"/>
<rect x="259" y="629.7" width="12.3" height="40.7" fill="#2d4a7c"/>
<line x1="256.3" y1="670.8" x2="256.3" y2="674" stroke="#1a1a1a" stroke-width="0.8"/>
<line x1="246.9" y1="624.4" x2="246.9" y2="632.4" stroke="#111" stroke-width="0.9"/>
<line x1="244.8" y1="624.4" x2="249" y2="624.4" stroke="#111" stroke-width="0.9"/>
<line x1="244.8" y1="632.4" x2="249" y2="632.4" stroke="#111" stroke-width="0.7"/>
<line x1="265.5" y1="627.5" x2="265.5" y2="631.9" stroke="#111" stroke-width="0.9"/>
<line x1="263.4" y1="627.5" x2="267.6" y2="627.5" stroke="#111" stroke-width="0.9"/>
<line x1="263.4" y1="631.9" x2="267.6" y2="631.9" stroke="#111" stroke-width="0.7"/>
<circle cx="246.9" cy="609.8" r="1.28" fill="#fff" stroke="#080808" stroke-width="1.0"/>
<circle cx="246.9" cy="614" r="1.28" fill="#fff" stroke="#080808" stroke-width="1.0"/>
<circle cx="245.3" cy="628.1" r="1.28" fill="#fff" stroke="#080808" stroke-width="1.0"/>
<circle cx="248.6" cy="628.1" r="1.28" fill="#fff" stroke="#080808" stroke-width="1.0"/>
<circle cx="246.9" cy="632.4" r="1.28" fill="#fff" stroke="#080808" stroke-width="1.0"/>
<circle cx="245.3" cy="635.5" r="1.28" fill="#fff" stroke="#080808" stroke-width="1.0"/>
<circle cx="248.6" cy="636.1" r="1.28" fill="#fff" stroke="#080808" stroke-width="1.0"/>
<circle cx="246.9" cy="640.9" r="1.28" fill="#fff" stroke="#080808" stroke-width="1.0"/>
<circle cx="263.9" cy="619.2" r="1.28" fill="#fff" stroke="#080808" stroke-width="1.0"/>
<circle cx="267.2" cy="619.2" r="1.28" fill="#fff" stroke="#080808" stroke-width="1.0"/>
<circle cx="265.5" cy="626.4" r="1.28" fill="#fff" stroke="#080808" stroke-width="1.0"/>
<circle cx="265.5" cy="630" r="1.28" fill="#fff" stroke="#080808" stroke-width="1.0"/>
<circle cx="262.1" cy="633.4" r="1.28" fill="#fff" stroke="#080808" stroke-width="1.0"/>
<circle cx="267.2" cy="632.4" r="1.28" fill="#fff" stroke="#080808" stroke-width="1.0"/>
<circle cx="268.8" cy="634.9" r="1.28" fill="#fff" stroke="#080808" stroke-width="1.0"/>
<circle cx="265.5" cy="636.1" r="1.28" fill="#fff" stroke="#080808" stroke-width="1.0"/>
<text x="255.5" y="682.6" font-size="7.2" text-anchor="middle" fill="#1a1a1a" stroke="#1a1a1a" stroke-width="0.22" textLength="13.5" lengthAdjust="spacingAndGlyphs">CD4</text>
<text transform="translate(210 631.8) rotate(-90)" font-size="8.3" text-anchor="middle" fill="#1a1a1a" stroke="#1a1a1a" stroke-width="0.22" textLength="63.5" lengthAdjust="spacingAndGlyphs">Total cells (x10<tspan font-size="5.9" dy="-3.1">6</tspan><tspan dy="3.1">)</tspan></text>
<line x1="303.2" y1="591.4" x2="303.2" y2="670" stroke="#1a1a1a" stroke-width="1.15"/>
<line x1="302.65" y1="669.4" x2="353.6" y2="669.4" stroke="#1a1a1a" stroke-width="1.2"/>
<line x1="300.4" y1="594.3" x2="303.2" y2="594.3" stroke="#1a1a1a" stroke-width="0.8"/>
<text x="296.9" y="596.7" font-size="7" text-anchor="end" fill="#1a1a1a" stroke="#1a1a1a" stroke-width="0.22" textLength="8.2" lengthAdjust="spacingAndGlyphs">25</text>
<line x1="300.4" y1="609.3" x2="303.2" y2="609.3" stroke="#1a1a1a" stroke-width="0.8"/>
<text x="296.9" y="611.7" font-size="7" text-anchor="end" fill="#1a1a1a" stroke="#1a1a1a" stroke-width="0.22" textLength="8.2" lengthAdjust="spacingAndGlyphs">20</text>
<line x1="300.4" y1="624.4" x2="303.2" y2="624.4" stroke="#1a1a1a" stroke-width="0.8"/>
<text x="296.9" y="626.8" font-size="7" text-anchor="end" fill="#1a1a1a" stroke="#1a1a1a" stroke-width="0.22" textLength="8.2" lengthAdjust="spacingAndGlyphs">15</text>
<line x1="300.4" y1="639.4" x2="303.2" y2="639.4" stroke="#1a1a1a" stroke-width="0.8"/>
<text x="296.9" y="641.8" font-size="7" text-anchor="end" fill="#1a1a1a" stroke="#1a1a1a" stroke-width="0.22" textLength="8.2" lengthAdjust="spacingAndGlyphs">10</text>
<line x1="300.4" y1="654.4" x2="303.2" y2="654.4" stroke="#1a1a1a" stroke-width="0.8"/>
<text x="296.9" y="656.8" font-size="7" text-anchor="end" fill="#1a1a1a" stroke="#1a1a1a" stroke-width="0.22" textLength="4.1" lengthAdjust="spacingAndGlyphs">5</text>
<line x1="300.4" y1="669.4" x2="303.2" y2="669.4" stroke="#1a1a1a" stroke-width="0.8"/>
<text x="296.9" y="671.8" font-size="7" text-anchor="end" fill="#1a1a1a" stroke="#1a1a1a" stroke-width="0.22" textLength="4.1" lengthAdjust="spacingAndGlyphs">0</text>
<rect x="313" y="630" width="12.8" height="39" fill="#a4032c"/>
<rect x="331.8" y="625" width="12.4" height="44" fill="#2d4a7c"/>
<line x1="328.3" y1="669.4" x2="328.3" y2="672.6" stroke="#1a1a1a" stroke-width="0.8"/>
<line x1="319.6" y1="627" x2="319.6" y2="633" stroke="#111" stroke-width="0.9"/>
<line x1="317.5" y1="627" x2="321.7" y2="627" stroke="#111" stroke-width="0.9"/>
<line x1="317.5" y1="633" x2="321.7" y2="633" stroke="#111" stroke-width="0.7"/>
<line x1="338.2" y1="621.3" x2="338.2" y2="628.7" stroke="#111" stroke-width="0.9"/>
<line x1="336.1" y1="621.3" x2="340.3" y2="621.3" stroke="#111" stroke-width="0.9"/>
<line x1="336.1" y1="628.7" x2="340.3" y2="628.7" stroke="#111" stroke-width="0.7"/>
<circle cx="317.7" cy="618.7" r="1.28" fill="#fff" stroke="#080808" stroke-width="1.0"/>
<circle cx="321.3" cy="618.3" r="1.28" fill="#fff" stroke="#080808" stroke-width="1.0"/>
<circle cx="319.6" cy="625" r="1.28" fill="#fff" stroke="#080808" stroke-width="1.0"/>
<circle cx="316.2" cy="630.4" r="1.28" fill="#fff" stroke="#080808" stroke-width="1.0"/>
<circle cx="321.3" cy="629.7" r="1.28" fill="#fff" stroke="#080808" stroke-width="1.0"/>
<circle cx="318" cy="633.4" r="1.28" fill="#fff" stroke="#080808" stroke-width="1.0"/>
<circle cx="321.3" cy="636.5" r="1.28" fill="#fff" stroke="#080808" stroke-width="1.0"/>
<circle cx="319.6" cy="642.5" r="1.28" fill="#fff" stroke="#080808" stroke-width="1.0"/>
<circle cx="338.4" cy="606.5" r="1.28" fill="#fff" stroke="#080808" stroke-width="1.0"/>
<circle cx="338.4" cy="616.7" r="1.28" fill="#fff" stroke="#080808" stroke-width="1.0"/>
<circle cx="336.8" cy="625" r="1.28" fill="#fff" stroke="#080808" stroke-width="1.0"/>
<circle cx="340.2" cy="625" r="1.28" fill="#fff" stroke="#080808" stroke-width="1.0"/>
<circle cx="336.8" cy="629.1" r="1.28" fill="#fff" stroke="#080808" stroke-width="1.0"/>
<circle cx="341.5" cy="629.1" r="1.28" fill="#fff" stroke="#080808" stroke-width="1.0"/>
<circle cx="339.9" cy="632.2" r="1.28" fill="#fff" stroke="#080808" stroke-width="1.0"/>
<circle cx="336.8" cy="634.9" r="1.28" fill="#fff" stroke="#080808" stroke-width="1.0"/>
<text x="328.5" y="681.6" font-size="7.2" text-anchor="middle" fill="#1a1a1a" stroke="#1a1a1a" stroke-width="0.22" textLength="13.5" lengthAdjust="spacingAndGlyphs">CD8</text>
<rect x="388.4" y="619.7" width="7.4" height="7.4" fill="#a4032c" stroke="#333" stroke-width="0.4"/>
<text x="399" y="627.3" font-size="7.9" text-anchor="start" fill="#1a1a1a" stroke="#1a1a1a" stroke-width="0.22" textLength="52.2" lengthAdjust="spacingAndGlyphs">Mcl-1<tspan font-size="6.2" dy="-3">wt/wt</tspan><tspan dy="3"> (n=8)</tspan></text>
<rect x="388.4" y="633.7" width="7.4" height="7.6" fill="#2d4a7c" stroke="#333" stroke-width="0.4"/>
<text x="399" y="641" font-size="7.9" text-anchor="start" fill="#1a1a1a" stroke="#1a1a1a" stroke-width="0.22" textLength="52.2" lengthAdjust="spacingAndGlyphs">Mcl-1<tspan font-size="6.2" dy="-3">hu/hu</tspan><tspan dy="3"> (n=8)</tspan></text>
<rect x="0.5" y="0.5" width="519" height="690" fill="none" stroke="#2b2b2b" stroke-width="1"/>
</svg>
</body></html>
